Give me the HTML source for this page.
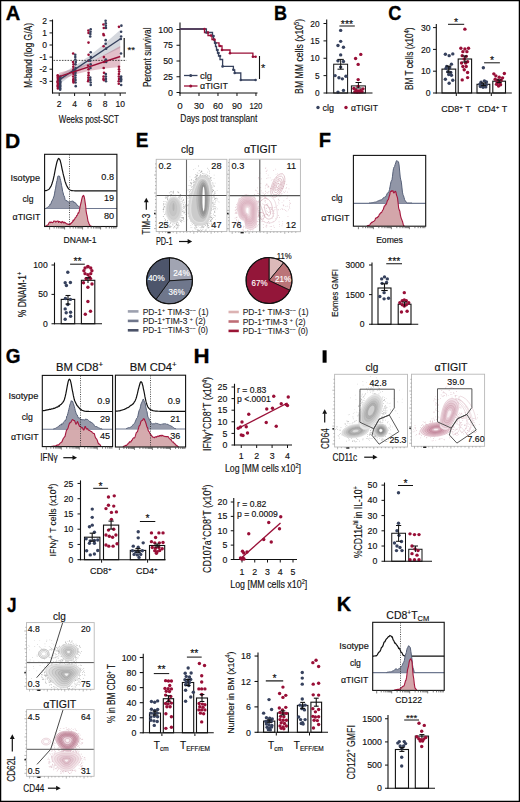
<!DOCTYPE html>
<html><head><meta charset="utf-8"><style>
html,body{margin:0;padding:0;background:#fff;}
svg{display:block;font-family:"Liberation Sans",sans-serif;}
</style></head><body>
<svg width="520" height="802" viewBox="0 0 520 802">
<rect x="0" y="0" width="520" height="802" fill="#fff"/>
<text x="0" y="0" transform="translate(5.85 20.00) scale(1.006 1)" font-size="20" font-weight="bold" fill="#000" stroke="#000" stroke-width="0.3">A</text>
<path d="M59.20,75.30 L74.60,66.00 L89.60,55.67 L105.00,43.17 L120.20,30.00 L120.20,48.00 L105.00,55.17 L89.60,63.27 L74.60,73.00 L59.20,84.30 Z" fill="#9aa1b0" stroke="none" stroke-width="1" opacity="0.42"/>
<path d="M59.20,72.70 L74.60,68.60 L89.60,62.63 L105.00,54.53 L120.20,46.00 L120.20,67.00 L105.00,68.53 L89.60,70.63 L74.60,74.60 L59.20,80.70 Z" fill="#b04a68" stroke="none" stroke-width="1" opacity="0.35"/>
<line x1="53.50" y1="60.40" x2="126.50" y2="60.40" stroke="#222" stroke-width="0.8" stroke-dasharray="1.6,1.2"/>
<circle cx="57.74" cy="75.25" r="1.3" fill="#990f37" />
<circle cx="57.93" cy="76.46" r="1.3" fill="#990f37" />
<circle cx="57.82" cy="77.67" r="1.3" fill="#990f37" />
<circle cx="57.96" cy="78.88" r="1.3" fill="#990f37" />
<circle cx="57.98" cy="80.09" r="1.3" fill="#990f37" />
<circle cx="57.64" cy="81.30" r="1.3" fill="#990f37" />
<circle cx="57.61" cy="82.51" r="1.3" fill="#990f37" />
<circle cx="58.10" cy="83.72" r="1.3" fill="#990f37" />
<circle cx="57.76" cy="84.93" r="1.3" fill="#990f37" />
<circle cx="57.74" cy="86.14" r="1.3" fill="#990f37" />
<circle cx="58.20" cy="87.35" r="1.3" fill="#990f37" />
<circle cx="57.88" cy="88.56" r="1.3" fill="#990f37" />
<circle cx="60.30" cy="76.46" r="1.3" fill="#37425e" />
<circle cx="60.09" cy="77.67" r="1.3" fill="#37425e" />
<circle cx="60.18" cy="78.88" r="1.3" fill="#37425e" />
<circle cx="59.89" cy="80.09" r="1.3" fill="#37425e" />
<circle cx="60.18" cy="81.30" r="1.3" fill="#37425e" />
<circle cx="60.32" cy="82.51" r="1.3" fill="#37425e" />
<circle cx="60.11" cy="83.72" r="1.3" fill="#37425e" />
<circle cx="60.24" cy="84.93" r="1.3" fill="#37425e" />
<circle cx="60.20" cy="86.14" r="1.3" fill="#37425e" />
<circle cx="59.84" cy="87.35" r="1.3" fill="#37425e" />
<circle cx="60.25" cy="88.56" r="1.3" fill="#37425e" />
<circle cx="60.15" cy="89.77" r="1.3" fill="#37425e" />
<circle cx="73.18" cy="53.47" r="1.3" fill="#990f37" />
<circle cx="73.02" cy="61.94" r="1.3" fill="#990f37" />
<circle cx="73.52" cy="64.36" r="1.3" fill="#990f37" />
<circle cx="73.28" cy="66.78" r="1.3" fill="#990f37" />
<circle cx="73.43" cy="69.20" r="1.3" fill="#990f37" />
<circle cx="73.53" cy="71.62" r="1.3" fill="#990f37" />
<circle cx="73.43" cy="72.83" r="1.3" fill="#990f37" />
<circle cx="73.55" cy="74.04" r="1.3" fill="#990f37" />
<circle cx="73.24" cy="76.46" r="1.3" fill="#990f37" />
<circle cx="73.48" cy="78.88" r="1.3" fill="#990f37" />
<circle cx="73.27" cy="80.09" r="1.3" fill="#990f37" />
<circle cx="73.56" cy="81.30" r="1.3" fill="#990f37" />
<circle cx="73.53" cy="82.51" r="1.3" fill="#990f37" />
<circle cx="75.26" cy="54.68" r="1.3" fill="#37425e" />
<circle cx="75.28" cy="57.10" r="1.3" fill="#37425e" />
<circle cx="75.33" cy="59.52" r="1.3" fill="#37425e" />
<circle cx="75.78" cy="61.94" r="1.3" fill="#37425e" />
<circle cx="75.46" cy="64.36" r="1.3" fill="#37425e" />
<circle cx="75.58" cy="67.99" r="1.3" fill="#37425e" />
<circle cx="75.38" cy="70.41" r="1.3" fill="#37425e" />
<circle cx="75.50" cy="72.83" r="1.3" fill="#37425e" />
<circle cx="75.43" cy="75.25" r="1.3" fill="#37425e" />
<circle cx="75.41" cy="77.67" r="1.3" fill="#37425e" />
<circle cx="75.55" cy="80.09" r="1.3" fill="#37425e" />
<circle cx="75.55" cy="82.51" r="1.3" fill="#37425e" />
<circle cx="75.74" cy="86.14" r="1.3" fill="#37425e" />
<circle cx="88.41" cy="30.48" r="1.3" fill="#990f37" />
<circle cx="88.56" cy="32.90" r="1.3" fill="#990f37" />
<circle cx="88.51" cy="42.58" r="1.3" fill="#990f37" />
<circle cx="88.59" cy="54.68" r="1.3" fill="#990f37" />
<circle cx="88.40" cy="60.73" r="1.3" fill="#990f37" />
<circle cx="88.10" cy="65.57" r="1.3" fill="#990f37" />
<circle cx="88.52" cy="69.20" r="1.3" fill="#990f37" />
<circle cx="88.58" cy="72.83" r="1.3" fill="#990f37" />
<circle cx="88.54" cy="75.25" r="1.3" fill="#990f37" />
<circle cx="88.34" cy="77.67" r="1.3" fill="#990f37" />
<circle cx="88.43" cy="80.09" r="1.3" fill="#990f37" />
<circle cx="88.13" cy="81.30" r="1.3" fill="#990f37" />
<circle cx="90.70" cy="29.27" r="1.3" fill="#37425e" />
<circle cx="90.54" cy="31.69" r="1.3" fill="#37425e" />
<circle cx="90.37" cy="34.11" r="1.3" fill="#37425e" />
<circle cx="90.24" cy="36.53" r="1.3" fill="#37425e" />
<circle cx="90.71" cy="52.26" r="1.3" fill="#37425e" />
<circle cx="90.79" cy="57.10" r="1.3" fill="#37425e" />
<circle cx="90.25" cy="60.73" r="1.3" fill="#37425e" />
<circle cx="90.68" cy="64.36" r="1.3" fill="#37425e" />
<circle cx="90.45" cy="67.99" r="1.3" fill="#37425e" />
<circle cx="90.29" cy="77.67" r="1.3" fill="#37425e" />
<circle cx="90.38" cy="80.09" r="1.3" fill="#37425e" />
<circle cx="90.66" cy="82.51" r="1.3" fill="#37425e" />
<circle cx="90.72" cy="84.93" r="1.3" fill="#37425e" />
<circle cx="103.43" cy="24.43" r="1.3" fill="#990f37" />
<circle cx="103.77" cy="28.06" r="1.3" fill="#990f37" />
<circle cx="103.43" cy="34.11" r="1.3" fill="#990f37" />
<circle cx="103.83" cy="35.32" r="1.3" fill="#990f37" />
<circle cx="103.60" cy="46.21" r="1.3" fill="#990f37" />
<circle cx="103.93" cy="57.10" r="1.3" fill="#990f37" />
<circle cx="103.99" cy="61.94" r="1.3" fill="#990f37" />
<circle cx="103.70" cy="67.99" r="1.3" fill="#990f37" />
<circle cx="104.00" cy="72.83" r="1.3" fill="#990f37" />
<circle cx="103.59" cy="76.46" r="1.3" fill="#990f37" />
<circle cx="103.45" cy="78.88" r="1.3" fill="#990f37" />
<circle cx="103.76" cy="80.09" r="1.3" fill="#990f37" />
<circle cx="105.62" cy="20.80" r="1.3" fill="#37425e" />
<circle cx="105.72" cy="23.22" r="1.3" fill="#37425e" />
<circle cx="105.84" cy="25.64" r="1.3" fill="#37425e" />
<circle cx="105.97" cy="28.06" r="1.3" fill="#37425e" />
<circle cx="105.69" cy="40.16" r="1.3" fill="#37425e" />
<circle cx="105.63" cy="43.79" r="1.3" fill="#37425e" />
<circle cx="106.12" cy="48.63" r="1.3" fill="#37425e" />
<circle cx="105.79" cy="59.52" r="1.3" fill="#37425e" />
<circle cx="106.18" cy="60.73" r="1.3" fill="#37425e" />
<circle cx="106.14" cy="61.94" r="1.3" fill="#37425e" />
<circle cx="105.83" cy="74.04" r="1.3" fill="#37425e" />
<circle cx="105.88" cy="76.46" r="1.3" fill="#37425e" />
<circle cx="105.91" cy="78.88" r="1.3" fill="#37425e" />
<circle cx="105.99" cy="81.30" r="1.3" fill="#37425e" />
<circle cx="118.96" cy="26.85" r="1.3" fill="#990f37" />
<circle cx="118.94" cy="66.78" r="1.3" fill="#990f37" />
<circle cx="118.97" cy="69.20" r="1.3" fill="#990f37" />
<circle cx="119.16" cy="71.62" r="1.3" fill="#990f37" />
<circle cx="118.90" cy="74.04" r="1.3" fill="#990f37" />
<circle cx="118.86" cy="76.46" r="1.3" fill="#990f37" />
<circle cx="119.03" cy="78.88" r="1.3" fill="#990f37" />
<circle cx="118.74" cy="81.30" r="1.3" fill="#990f37" />
<circle cx="118.78" cy="83.72" r="1.3" fill="#990f37" />
<circle cx="121.39" cy="25.64" r="1.3" fill="#37425e" />
<circle cx="121.11" cy="31.69" r="1.3" fill="#37425e" />
<circle cx="121.13" cy="36.53" r="1.3" fill="#37425e" />
<circle cx="120.81" cy="38.95" r="1.3" fill="#37425e" />
<circle cx="121.05" cy="53.47" r="1.3" fill="#37425e" />
<circle cx="121.15" cy="76.46" r="1.3" fill="#37425e" />
<circle cx="120.81" cy="77.67" r="1.3" fill="#37425e" />
<circle cx="121.17" cy="78.88" r="1.3" fill="#37425e" />
<circle cx="121.18" cy="80.09" r="1.3" fill="#37425e" />
<circle cx="120.84" cy="81.30" r="1.3" fill="#37425e" />
<circle cx="121.18" cy="84.93" r="1.3" fill="#37425e" />
<line x1="59.20" y1="79.80" x2="120.20" y2="39.00" stroke="#37425e" stroke-width="1.4" />
<line x1="59.20" y1="76.70" x2="120.20" y2="56.50" stroke="#990f37" stroke-width="1.4" />
<line x1="52.50" y1="19.50" x2="52.50" y2="93.50" stroke="#111" stroke-width="1.1" />
<line x1="52.00" y1="93.00" x2="126.00" y2="93.00" stroke="#111" stroke-width="1.1" />
<line x1="49.50" y1="20.80" x2="52.50" y2="20.80" stroke="#111" stroke-width="1" />
<text x="47.00" y="23.80" font-size="8.5" text-anchor="end" font-weight="normal" fill="#111" stroke="#111" stroke-width="0.15" >2</text>
<line x1="49.50" y1="32.90" x2="52.50" y2="32.90" stroke="#111" stroke-width="1" />
<text x="47.00" y="35.90" font-size="8.5" text-anchor="end" font-weight="normal" fill="#111" stroke="#111" stroke-width="0.15" >1</text>
<line x1="49.50" y1="45.00" x2="52.50" y2="45.00" stroke="#111" stroke-width="1" />
<text x="47.00" y="48.00" font-size="8.5" text-anchor="end" font-weight="normal" fill="#111" stroke="#111" stroke-width="0.15" >0</text>
<line x1="49.50" y1="57.10" x2="52.50" y2="57.10" stroke="#111" stroke-width="1" />
<text x="47.00" y="60.10" font-size="8.5" text-anchor="end" font-weight="normal" fill="#111" stroke="#111" stroke-width="0.15" >-1</text>
<line x1="49.50" y1="69.20" x2="52.50" y2="69.20" stroke="#111" stroke-width="1" />
<text x="47.00" y="72.20" font-size="8.5" text-anchor="end" font-weight="normal" fill="#111" stroke="#111" stroke-width="0.15" >-2</text>
<line x1="49.50" y1="81.30" x2="52.50" y2="81.30" stroke="#111" stroke-width="1" />
<text x="47.00" y="84.30" font-size="8.5" text-anchor="end" font-weight="normal" fill="#111" stroke="#111" stroke-width="0.15" >-3</text>
<line x1="59.20" y1="93.00" x2="59.20" y2="96.00" stroke="#111" stroke-width="1" />
<text x="59.20" y="106.50" font-size="8.5" text-anchor="middle" font-weight="normal" fill="#111" stroke="#111" stroke-width="0.15" >2</text>
<line x1="74.60" y1="93.00" x2="74.60" y2="96.00" stroke="#111" stroke-width="1" />
<text x="74.60" y="106.50" font-size="8.5" text-anchor="middle" font-weight="normal" fill="#111" stroke="#111" stroke-width="0.15" >4</text>
<line x1="89.60" y1="93.00" x2="89.60" y2="96.00" stroke="#111" stroke-width="1" />
<text x="89.60" y="106.50" font-size="8.5" text-anchor="middle" font-weight="normal" fill="#111" stroke="#111" stroke-width="0.15" >6</text>
<line x1="105.00" y1="93.00" x2="105.00" y2="96.00" stroke="#111" stroke-width="1" />
<text x="105.00" y="106.50" font-size="8.5" text-anchor="middle" font-weight="normal" fill="#111" stroke="#111" stroke-width="0.15" >8</text>
<line x1="120.20" y1="93.00" x2="120.20" y2="96.00" stroke="#111" stroke-width="1" />
<text x="120.20" y="106.50" font-size="8.5" text-anchor="middle" font-weight="normal" fill="#111" stroke="#111" stroke-width="0.15" >10</text>
<text x="88.80" y="122.80" font-size="10" text-anchor="middle" font-weight="normal" fill="#111" stroke="#111" stroke-width="0.15" textLength="60" lengthAdjust="spacingAndGlyphs" >Weeks post-SCT</text>
<text x="32.30" y="55.50" font-size="10.3" text-anchor="middle" font-weight="normal" fill="#111" stroke="#111" stroke-width="0.15" transform="rotate(-90 32.30 55.50)" textLength="65" lengthAdjust="spacingAndGlyphs" >M-band (log G/A)</text>
<line x1="124.20" y1="38.00" x2="124.20" y2="57.50" stroke="#111" stroke-width="1.2" />
<text x="127.50" y="53.20" font-size="9.5" text-anchor="start" font-weight="normal" fill="#111" stroke="#111" stroke-width="0.15" >**</text>
<line x1="180.00" y1="22.50" x2="180.00" y2="93.50" stroke="#111" stroke-width="1.1" />
<line x1="179.50" y1="93.00" x2="257.50" y2="93.00" stroke="#111" stroke-width="1.1" />
<line x1="176.50" y1="29.50" x2="180.00" y2="29.50" stroke="#111" stroke-width="1" />
<text x="173.00" y="32.70" font-size="8.8" text-anchor="end" font-weight="normal" fill="#111" stroke="#111" stroke-width="0.15" >100</text>
<line x1="176.50" y1="45.25" x2="180.00" y2="45.25" stroke="#111" stroke-width="1" />
<text x="173.00" y="48.45" font-size="8.8" text-anchor="end" font-weight="normal" fill="#111" stroke="#111" stroke-width="0.15" >75</text>
<line x1="176.50" y1="61.00" x2="180.00" y2="61.00" stroke="#111" stroke-width="1" />
<text x="173.00" y="64.20" font-size="8.8" text-anchor="end" font-weight="normal" fill="#111" stroke="#111" stroke-width="0.15" >50</text>
<line x1="176.50" y1="76.75" x2="180.00" y2="76.75" stroke="#111" stroke-width="1" />
<text x="173.00" y="79.95" font-size="8.8" text-anchor="end" font-weight="normal" fill="#111" stroke="#111" stroke-width="0.15" >25</text>
<line x1="176.50" y1="92.50" x2="180.00" y2="92.50" stroke="#111" stroke-width="1" />
<text x="173.00" y="95.70" font-size="8.8" text-anchor="end" font-weight="normal" fill="#111" stroke="#111" stroke-width="0.15" >0</text>
<line x1="180.00" y1="93.00" x2="180.00" y2="96.00" stroke="#111" stroke-width="1" />
<text x="180.00" y="108.70" font-size="9.8" text-anchor="middle" font-weight="normal" fill="#111" stroke="#111" stroke-width="0.15" >0</text>
<line x1="198.99" y1="93.00" x2="198.99" y2="96.00" stroke="#111" stroke-width="1" />
<text x="198.99" y="108.70" font-size="9.8" text-anchor="middle" font-weight="normal" fill="#111" stroke="#111" stroke-width="0.15" textLength="10" lengthAdjust="spacingAndGlyphs" >30</text>
<line x1="217.98" y1="93.00" x2="217.98" y2="96.00" stroke="#111" stroke-width="1" />
<text x="217.98" y="108.70" font-size="9.8" text-anchor="middle" font-weight="normal" fill="#111" stroke="#111" stroke-width="0.15" textLength="10" lengthAdjust="spacingAndGlyphs" >60</text>
<line x1="236.97" y1="93.00" x2="236.97" y2="96.00" stroke="#111" stroke-width="1" />
<text x="236.97" y="108.70" font-size="9.8" text-anchor="middle" font-weight="normal" fill="#111" stroke="#111" stroke-width="0.15" textLength="10" lengthAdjust="spacingAndGlyphs" >90</text>
<line x1="255.96" y1="93.00" x2="255.96" y2="96.00" stroke="#111" stroke-width="1" />
<text x="255.96" y="108.70" font-size="9.8" text-anchor="middle" font-weight="normal" fill="#111" stroke="#111" stroke-width="0.15" textLength="13" lengthAdjust="spacingAndGlyphs" >120</text>
<text x="218.80" y="122.00" font-size="10" text-anchor="middle" font-weight="normal" fill="#111" stroke="#111" stroke-width="0.15" textLength="77" lengthAdjust="spacingAndGlyphs" >Days post transplant</text>
<text x="151.00" y="57.25" font-size="10.3" text-anchor="middle" font-weight="normal" fill="#111" stroke="#111" stroke-width="0.15" transform="rotate(-90 151.00 57.25)" textLength="59.5" lengthAdjust="spacingAndGlyphs" >Percent survival</text>
<path d="M180.00,29.00 L204.50,29.00 L204.50,32.50 L208.00,32.50 L208.00,35.50 L212.00,35.50 L212.00,39.50 L215.00,39.50 L215.00,42.90 L219.00,42.90 L219.00,46.00 L222.00,46.00 L222.00,50.00 L230.00,50.00 L230.00,53.20 L252.90,53.20 L252.90,56.70 L255.60,56.70" fill="none" stroke="#990f37" stroke-width="1.3" />
<path d="M180.00,29.00 L206.40,29.00 L206.40,32.50 L212.50,32.50 L212.50,36.00 L213.50,36.00 L213.50,39.50 L214.50,39.50 L214.50,43.00 L215.50,43.00 L215.50,46.50 L216.50,46.50 L216.50,50.00 L217.50,50.00 L217.50,53.00 L218.50,53.00 L218.50,56.00 L220.00,56.00 L220.00,59.50 L222.60,59.50 L222.60,66.40 L233.40,66.40 L233.40,69.80 L234.70,69.80 L234.70,73.00 L240.80,73.00 L240.80,80.00 L255.60,80.00" fill="none" stroke="#37425e" stroke-width="1.3" />
<circle cx="206.40" cy="32.50" r="1.3" fill="#37425e" />
<circle cx="213.50" cy="36.00" r="1.3" fill="#37425e" />
<circle cx="215.50" cy="43.00" r="1.3" fill="#37425e" />
<circle cx="217.50" cy="50.00" r="1.3" fill="#37425e" />
<circle cx="218.50" cy="53.00" r="1.3" fill="#37425e" />
<circle cx="220.00" cy="56.00" r="1.3" fill="#37425e" />
<circle cx="222.60" cy="66.40" r="1.3" fill="#37425e" />
<circle cx="233.40" cy="69.80" r="1.3" fill="#37425e" />
<circle cx="234.70" cy="73.00" r="1.3" fill="#37425e" />
<circle cx="240.80" cy="80.00" r="1.3" fill="#37425e" />
<circle cx="255.60" cy="80.00" r="1.3" fill="#37425e" />
<circle cx="204.50" cy="29.00" r="1.3" fill="#990f37" />
<circle cx="208.00" cy="32.50" r="1.3" fill="#990f37" />
<circle cx="211.00" cy="35.50" r="1.3" fill="#990f37" />
<circle cx="214.00" cy="39.50" r="1.3" fill="#990f37" />
<circle cx="220.00" cy="46.00" r="1.3" fill="#990f37" />
<circle cx="222.00" cy="50.00" r="1.3" fill="#990f37" />
<circle cx="230.00" cy="53.20" r="1.3" fill="#990f37" />
<circle cx="252.90" cy="56.70" r="1.3" fill="#990f37" />
<circle cx="255.60" cy="56.70" r="1.3" fill="#990f37" />
<line x1="184.00" y1="75.50" x2="197.50" y2="75.50" stroke="#37425e" stroke-width="1.3" />
<circle cx="190.70" cy="75.50" r="1.5" fill="#37425e" />
<text x="200.00" y="78.60" font-size="9.5" text-anchor="start" font-weight="normal" fill="#111" stroke="#111" stroke-width="0.15" >clg</text>
<line x1="184.00" y1="86.00" x2="197.50" y2="86.00" stroke="#990f37" stroke-width="1.3" />
<circle cx="190.70" cy="86.00" r="1.5" fill="#990f37" />
<text x="200.00" y="89.20" font-size="9.5" text-anchor="start" font-weight="normal" fill="#111" stroke="#111" stroke-width="0.15" textLength="28" lengthAdjust="spacingAndGlyphs" >αTIGIT</text>
<line x1="259.50" y1="56.00" x2="259.50" y2="79.00" stroke="#111" stroke-width="1.1" />
<text x="261.00" y="72.00" font-size="11" text-anchor="start" font-weight="normal" fill="#111" stroke="#111" stroke-width="0.15" >*</text>
<text x="0" y="0" transform="translate(273.94 20.00) scale(0.902 1)" font-size="20" font-weight="bold" fill="#000" stroke="#000" stroke-width="0.3">B</text>
<rect x="333.70" y="64.20" width="13.90" height="28.80" fill="#fff" stroke="#111" stroke-width="1" />
<rect x="351.40" y="85.90" width="14.00" height="7.10" fill="#fff" stroke="#111" stroke-width="1" />
<circle cx="340.67" cy="30.38" r="1.7" fill="#37425e" />
<circle cx="340.67" cy="41.35" r="1.7" fill="#37425e" />
<circle cx="337.98" cy="45.48" r="1.7" fill="#37425e" />
<circle cx="343.46" cy="47.21" r="1.7" fill="#37425e" />
<circle cx="340.67" cy="54.90" r="1.7" fill="#37425e" />
<circle cx="337.98" cy="60.87" r="1.7" fill="#37425e" />
<circle cx="343.46" cy="61.54" r="1.7" fill="#37425e" />
<circle cx="340.67" cy="67.12" r="1.7" fill="#37425e" />
<circle cx="335.10" cy="75.58" r="1.7" fill="#37425e" />
<circle cx="338.94" cy="77.69" r="1.7" fill="#37425e" />
<circle cx="342.31" cy="78.85" r="1.7" fill="#37425e" />
<circle cx="345.96" cy="76.25" r="1.7" fill="#37425e" />
<circle cx="343.46" cy="90.38" r="1.7" fill="#37425e" />
<circle cx="337.98" cy="92.12" r="1.7" fill="#37425e" />
<circle cx="360.77" cy="54.42" r="1.7" fill="#990f37" />
<circle cx="355.58" cy="58.46" r="1.7" fill="#990f37" />
<circle cx="358.17" cy="64.42" r="1.7" fill="#990f37" />
<circle cx="358.17" cy="79.62" r="1.7" fill="#990f37" />
<circle cx="358.17" cy="86.35" r="1.7" fill="#990f37" />
<circle cx="353.85" cy="88.46" r="1.7" fill="#990f37" />
<circle cx="355.96" cy="90.00" r="1.7" fill="#990f37" />
<circle cx="358.17" cy="90.96" r="1.7" fill="#990f37" />
<circle cx="360.58" cy="90.48" r="1.7" fill="#990f37" />
<circle cx="362.98" cy="88.85" r="1.7" fill="#990f37" />
<circle cx="354.81" cy="91.92" r="1.7" fill="#990f37" />
<circle cx="357.21" cy="92.31" r="1.7" fill="#990f37" />
<circle cx="359.62" cy="92.12" r="1.7" fill="#990f37" />
<circle cx="362.02" cy="91.63" r="1.7" fill="#990f37" />
<line x1="340.70" y1="59.40" x2="340.70" y2="69.20" stroke="#111" stroke-width="1" />
<line x1="337.50" y1="59.40" x2="343.80" y2="59.40" stroke="#111" stroke-width="1" />
<line x1="337.50" y1="69.20" x2="343.80" y2="69.20" stroke="#111" stroke-width="1" />
<line x1="358.40" y1="82.50" x2="358.40" y2="88.00" stroke="#111" stroke-width="1" />
<line x1="355.50" y1="82.50" x2="361.50" y2="82.50" stroke="#111" stroke-width="1" />
<line x1="355.50" y1="88.00" x2="361.50" y2="88.00" stroke="#111" stroke-width="1" />
<line x1="326.70" y1="19.50" x2="326.70" y2="93.50" stroke="#111" stroke-width="1.1" />
<line x1="326.20" y1="93.00" x2="372.50" y2="93.00" stroke="#111" stroke-width="1.1" />
<line x1="323.50" y1="23.50" x2="326.70" y2="23.50" stroke="#111" stroke-width="1" />
<text x="319.60" y="26.50" font-size="8.3" text-anchor="end" font-weight="normal" fill="#111" stroke="#111" stroke-width="0.15" >20</text>
<line x1="323.50" y1="40.88" x2="326.70" y2="40.88" stroke="#111" stroke-width="1" />
<text x="319.60" y="43.88" font-size="8.3" text-anchor="end" font-weight="normal" fill="#111" stroke="#111" stroke-width="0.15" >15</text>
<line x1="323.50" y1="58.25" x2="326.70" y2="58.25" stroke="#111" stroke-width="1" />
<text x="319.60" y="61.25" font-size="8.3" text-anchor="end" font-weight="normal" fill="#111" stroke="#111" stroke-width="0.15" >10</text>
<line x1="323.50" y1="75.62" x2="326.70" y2="75.62" stroke="#111" stroke-width="1" />
<text x="319.60" y="78.62" font-size="8.3" text-anchor="end" font-weight="normal" fill="#111" stroke="#111" stroke-width="0.15" >5</text>
<line x1="323.50" y1="93.00" x2="326.70" y2="93.00" stroke="#111" stroke-width="1" />
<text x="319.60" y="96.00" font-size="8.3" text-anchor="end" font-weight="normal" fill="#111" stroke="#111" stroke-width="0.15" >0</text>
<text x="303.30" y="56.40" font-size="10.8" text-anchor="middle" font-weight="normal" fill="#111" stroke="#111" stroke-width="0.15" transform="rotate(-90 303.30 56.40)" textLength="75" lengthAdjust="spacingAndGlyphs" >BM MM cells (x10<tspan font-size="7" dy="-4">5</tspan><tspan dy="4">)</tspan></text>
<line x1="339.40" y1="26.00" x2="354.80" y2="26.00" stroke="#111" stroke-width="1" />
<text x="347.00" y="28.27" font-size="10.5" text-anchor="middle" font-weight="normal" fill="#111" stroke="#111" stroke-width="0.15" >***</text>
<circle cx="318.00" cy="107.50" r="1.7" fill="#37425e" />
<text x="322.50" y="110.50" font-size="9" text-anchor="start" font-weight="normal" fill="#111" stroke="#111" stroke-width="0.15" >clg</text>
<circle cx="346.00" cy="107.50" r="1.7" fill="#990f37" />
<text x="351.00" y="110.50" font-size="9" text-anchor="start" font-weight="normal" fill="#111" stroke="#111" stroke-width="0.15" textLength="27" lengthAdjust="spacingAndGlyphs" >αTIGIT</text>
<text x="0" y="0" transform="translate(388.30 20.20) scale(0.910 1)" font-size="20" font-weight="bold" fill="#000" stroke="#000" stroke-width="0.3">C</text>
<rect x="442.00" y="69.10" width="13.70" height="23.90" fill="#fff" stroke="#111" stroke-width="1.1" />
<rect x="458.20" y="59.00" width="13.40" height="34.00" fill="#fff" stroke="#111" stroke-width="1.1" />
<rect x="477.00" y="84.30" width="12.80" height="8.70" fill="#fff" stroke="#111" stroke-width="1.1" />
<rect x="492.80" y="81.20" width="12.70" height="11.80" fill="#fff" stroke="#111" stroke-width="1.1" />
<circle cx="445.38" cy="54.32" r="1.7" fill="#37425e" />
<circle cx="449.15" cy="55.67" r="1.7" fill="#37425e" />
<circle cx="452.79" cy="53.92" r="1.7" fill="#37425e" />
<circle cx="446.73" cy="66.43" r="1.7" fill="#37425e" />
<circle cx="451.44" cy="64.15" r="1.7" fill="#37425e" />
<circle cx="446.06" cy="68.18" r="1.7" fill="#37425e" />
<circle cx="449.69" cy="67.78" r="1.7" fill="#37425e" />
<circle cx="447.81" cy="71.82" r="1.7" fill="#37425e" />
<circle cx="450.77" cy="72.49" r="1.7" fill="#37425e" />
<circle cx="448.75" cy="74.51" r="1.7" fill="#37425e" />
<circle cx="451.44" cy="75.18" r="1.7" fill="#37425e" />
<circle cx="445.38" cy="79.22" r="1.7" fill="#37425e" />
<circle cx="452.79" cy="80.30" r="1.7" fill="#37425e" />
<circle cx="449.15" cy="83.26" r="1.7" fill="#37425e" />
<circle cx="464.90" cy="29.15" r="1.7" fill="#990f37" />
<circle cx="460.86" cy="48.26" r="1.7" fill="#990f37" />
<circle cx="464.90" cy="48.94" r="1.7" fill="#990f37" />
<circle cx="468.53" cy="48.26" r="1.7" fill="#990f37" />
<circle cx="462.88" cy="51.63" r="1.7" fill="#990f37" />
<circle cx="466.92" cy="51.63" r="1.7" fill="#990f37" />
<circle cx="462.21" cy="55.67" r="1.7" fill="#990f37" />
<circle cx="466.24" cy="56.34" r="1.7" fill="#990f37" />
<circle cx="464.23" cy="59.03" r="1.7" fill="#990f37" />
<circle cx="467.59" cy="61.72" r="1.7" fill="#990f37" />
<circle cx="461.53" cy="63.07" r="1.7" fill="#990f37" />
<circle cx="465.57" cy="63.07" r="1.7" fill="#990f37" />
<circle cx="462.88" cy="66.43" r="1.7" fill="#990f37" />
<circle cx="466.24" cy="66.43" r="1.7" fill="#990f37" />
<circle cx="464.23" cy="69.80" r="1.7" fill="#990f37" />
<circle cx="467.59" cy="72.49" r="1.7" fill="#990f37" />
<circle cx="462.21" cy="79.89" r="1.7" fill="#990f37" />
<circle cx="467.59" cy="77.60" r="1.7" fill="#990f37" />
<circle cx="483.34" cy="67.78" r="1.7" fill="#37425e" />
<circle cx="481.05" cy="82.18" r="1.7" fill="#37425e" />
<circle cx="484.41" cy="80.83" r="1.7" fill="#37425e" />
<circle cx="486.43" cy="81.91" r="1.7" fill="#37425e" />
<circle cx="479.70" cy="84.33" r="1.7" fill="#37425e" />
<circle cx="483.07" cy="84.60" r="1.7" fill="#37425e" />
<circle cx="486.43" cy="84.60" r="1.7" fill="#37425e" />
<circle cx="480.38" cy="86.62" r="1.7" fill="#37425e" />
<circle cx="483.07" cy="87.29" r="1.7" fill="#37425e" />
<circle cx="485.76" cy="86.89" r="1.7" fill="#37425e" />
<circle cx="493.84" cy="73.84" r="1.7" fill="#990f37" />
<circle cx="504.33" cy="73.57" r="1.7" fill="#990f37" />
<circle cx="495.85" cy="75.85" r="1.7" fill="#990f37" />
<circle cx="499.22" cy="77.20" r="1.7" fill="#990f37" />
<circle cx="502.58" cy="77.87" r="1.7" fill="#990f37" />
<circle cx="495.18" cy="79.22" r="1.7" fill="#990f37" />
<circle cx="497.87" cy="80.30" r="1.7" fill="#990f37" />
<circle cx="501.24" cy="79.89" r="1.7" fill="#990f37" />
<circle cx="497.20" cy="82.58" r="1.7" fill="#990f37" />
<circle cx="499.89" cy="83.26" r="1.7" fill="#990f37" />
<circle cx="498.55" cy="85.95" r="1.7" fill="#990f37" />
<circle cx="496.53" cy="84.33" r="1.7" fill="#990f37" />
<circle cx="500.57" cy="84.87" r="1.7" fill="#990f37" />
<line x1="448.85" y1="66.10" x2="448.85" y2="72.10" stroke="#111" stroke-width="1.1" />
<line x1="446.35" y1="66.10" x2="451.35" y2="66.10" stroke="#111" stroke-width="1.1" />
<line x1="446.35" y1="72.10" x2="451.35" y2="72.10" stroke="#111" stroke-width="1.1" />
<line x1="464.90" y1="56.00" x2="464.90" y2="62.00" stroke="#111" stroke-width="1.1" />
<line x1="462.40" y1="56.00" x2="467.40" y2="56.00" stroke="#111" stroke-width="1.1" />
<line x1="462.40" y1="62.00" x2="467.40" y2="62.00" stroke="#111" stroke-width="1.1" />
<line x1="483.40" y1="83.00" x2="483.40" y2="85.60" stroke="#111" stroke-width="1.1" />
<line x1="480.90" y1="83.00" x2="485.90" y2="83.00" stroke="#111" stroke-width="1.1" />
<line x1="480.90" y1="85.60" x2="485.90" y2="85.60" stroke="#111" stroke-width="1.1" />
<line x1="499.15" y1="79.90" x2="499.15" y2="82.50" stroke="#111" stroke-width="1.1" />
<line x1="496.65" y1="79.90" x2="501.65" y2="79.90" stroke="#111" stroke-width="1.1" />
<line x1="496.65" y1="82.50" x2="501.65" y2="82.50" stroke="#111" stroke-width="1.1" />
<line x1="436.30" y1="24.00" x2="436.30" y2="93.50" stroke="#111" stroke-width="1.1" />
<line x1="435.80" y1="93.00" x2="511.80" y2="93.00" stroke="#111" stroke-width="1.1" />
<line x1="433.00" y1="27.60" x2="436.30" y2="27.60" stroke="#111" stroke-width="1" />
<text x="430.50" y="30.70" font-size="8.6" text-anchor="end" font-weight="normal" fill="#111" stroke="#111" stroke-width="0.15" >30</text>
<line x1="433.00" y1="49.40" x2="436.30" y2="49.40" stroke="#111" stroke-width="1" />
<text x="430.50" y="52.50" font-size="8.6" text-anchor="end" font-weight="normal" fill="#111" stroke="#111" stroke-width="0.15" >20</text>
<line x1="433.00" y1="71.20" x2="436.30" y2="71.20" stroke="#111" stroke-width="1" />
<text x="430.50" y="74.30" font-size="8.6" text-anchor="end" font-weight="normal" fill="#111" stroke="#111" stroke-width="0.15" >10</text>
<line x1="433.00" y1="93.00" x2="436.30" y2="93.00" stroke="#111" stroke-width="1" />
<text x="430.50" y="96.10" font-size="8.6" text-anchor="end" font-weight="normal" fill="#111" stroke="#111" stroke-width="0.15" >0</text>
<line x1="456.30" y1="93.00" x2="456.30" y2="96.00" stroke="#111" stroke-width="1" />
<line x1="491.30" y1="93.00" x2="491.30" y2="96.00" stroke="#111" stroke-width="1" />
<text x="456.00" y="111.80" font-size="9" text-anchor="middle" font-weight="normal" fill="#111" stroke="#111" stroke-width="0.15" >CD8<tspan font-size="6" dy="-3">+</tspan><tspan dy="3"> T</tspan></text>
<text x="492.50" y="111.80" font-size="9" text-anchor="middle" font-weight="normal" fill="#111" stroke="#111" stroke-width="0.15" >CD4<tspan font-size="6" dy="-3">+</tspan><tspan dy="3"> T</tspan></text>
<text x="412.50" y="58.75" font-size="10" text-anchor="middle" font-weight="normal" fill="#111" stroke="#111" stroke-width="0.15" transform="rotate(-90 412.50 58.75)" textLength="62.5" lengthAdjust="spacingAndGlyphs" >BM T cells (x10<tspan font-size="6.5" dy="-3.6">4</tspan><tspan dy="3.6">)</tspan></text>
<line x1="448.00" y1="24.30" x2="464.20" y2="24.30" stroke="#111" stroke-width="1" />
<text x="456.10" y="25.57" font-size="10.5" text-anchor="middle" font-weight="normal" fill="#111" stroke="#111" stroke-width="0.15" >*</text>
<line x1="484.10" y1="62.80" x2="499.90" y2="62.80" stroke="#111" stroke-width="1" />
<text x="492.00" y="64.07" font-size="10.5" text-anchor="middle" font-weight="normal" fill="#111" stroke="#111" stroke-width="0.15" >*</text>
<text x="0" y="0" transform="translate(4.99 147.50) scale(1.052 1)" font-size="20" font-weight="bold" fill="#000" stroke="#000" stroke-width="0.3">D</text>
<path d="M44.60,190.74 L45.10,190.70 L45.60,190.64 L46.10,190.56 L46.60,190.45 L47.10,190.29 L47.60,190.03 L48.10,189.73 L48.60,189.53 L49.10,189.10 L49.60,188.31 L50.10,187.64 L50.60,186.81 L51.10,186.03 L51.60,184.67 L52.10,183.28 L52.60,181.69 L53.10,180.11 L53.60,177.89 L54.10,175.65 L54.60,173.02 L55.10,170.32 L55.60,167.79 L56.10,165.57 L56.60,163.37 L57.10,161.53 L57.60,160.15 L58.10,159.15 L58.60,158.45 L59.10,158.69 L59.60,159.37 L60.10,160.30 L60.60,162.18 L61.10,164.16 L61.60,166.58 L62.10,169.06 L62.60,171.25 L63.10,173.70 L63.60,175.70 L64.10,177.49 L64.60,179.60 L65.10,181.63 L65.60,182.76 L66.10,184.19 L66.60,185.43 L67.10,186.36 L67.60,187.36 L68.10,188.12 L68.60,188.88 L69.10,189.22 L69.60,189.65 L70.10,190.06 L70.60,190.25 L71.10,190.42 L71.60,190.54 L72.10,190.63 L72.60,190.69 L73.10,190.73 L73.60,190.76 L74.10,190.77 L74.60,190.79 L75.10,190.79 L75.60,190.80 L76.10,190.80 L76.60,190.80 L77.10,190.80 L77.60,190.80 L78.10,190.80 L78.60,190.80 L79.10,190.80 L79.60,190.80 L80.10,190.80 L80.60,190.80 L81.10,190.80 L81.60,190.80 L82.10,190.80 L82.60,190.80 L83.10,190.80 L83.60,190.80 L84.10,190.80 L84.60,190.80 L85.10,190.80 L85.60,190.80 L86.10,190.80 L86.60,190.80 L87.10,190.80 L87.60,190.80 L88.10,190.80 L88.60,190.80 L89.10,190.80 L89.60,190.80 L90.10,190.80 L90.60,190.80 L91.10,190.80 L91.60,190.80 L92.10,190.80 L92.60,190.80 L93.10,190.80 L93.60,190.80 L94.10,190.80 L94.60,190.80 L95.10,190.80 L95.60,190.80 L96.10,190.80 L96.60,190.80 L97.10,190.80 L97.60,190.80 L98.10,190.80 L98.60,190.80 L99.10,190.80 L99.60,190.80 L100.10,190.80 L100.60,190.80 L101.10,190.80 L101.60,190.80 L102.10,190.80 L102.60,190.80 L103.10,190.80 L103.60,190.80 L104.10,190.80 L104.60,190.80 L105.10,190.80 L105.60,190.80 L106.10,190.80 L106.60,190.80 L107.10,190.80 L107.60,190.80 L108.10,190.80 L108.60,190.80 L109.10,190.80 L109.60,190.80 L110.10,190.80 L110.60,190.80 L111.10,190.80 L111.60,190.80 L112.10,190.80 L112.60,190.80 L113.10,190.80 L113.60,190.80 L114.10,190.80 L114.60,190.80 L115.10,190.80 L115.60,190.80 L116.10,190.80 L116.60,190.80" fill="none" stroke="#111" stroke-width="1.2" />
<line x1="44.60" y1="208.50" x2="116.90" y2="208.50" stroke="#6e7890" stroke-width="1.1" />
<path d="M45.60,208.50 L46.10,208.07 L46.60,207.94 L47.10,207.61 L47.60,207.36 L48.10,206.82 L48.60,206.29 L49.10,206.30 L49.60,205.83 L50.10,203.94 L50.60,204.11 L51.10,203.34 L51.60,201.25 L52.10,201.14 L52.60,199.48 L53.10,198.81 L53.60,197.06 L54.10,196.06 L54.60,193.16 L55.10,190.32 L55.60,188.14 L56.10,184.90 L56.60,182.14 L57.10,180.49 L57.60,177.22 L58.10,176.01 L58.60,175.80 L59.10,176.44 L59.60,176.13 L60.10,178.51 L60.60,180.38 L61.10,182.71 L61.60,185.67 L62.10,187.96 L62.60,191.23 L63.10,192.73 L63.60,195.15 L64.10,195.91 L64.60,197.28 L65.10,199.57 L65.60,200.34 L66.10,200.88 L66.60,200.21 L67.10,201.45 L67.60,201.42 L68.10,202.12 L68.60,201.87 L69.10,202.08 L69.60,202.09 L70.10,201.65 L70.60,201.57 L71.10,200.99 L71.60,201.31 L72.10,200.93 L72.60,201.13 L73.10,201.07 L73.60,201.82 L74.10,202.94 L74.60,202.19 L75.10,202.45 L75.60,203.01 L76.10,204.03 L76.60,204.31 L77.10,205.53 L77.60,205.23 L78.10,205.99 L78.60,206.64 L79.10,207.12 L79.60,206.96 L80.10,207.22 L80.60,207.80 L81.10,207.78 L81.60,208.01 L82.10,208.14 L82.60,208.50 L82.60,208.50 L45.60,208.50 Z" fill="#9196a7" stroke="none" stroke-width="1" fill-opacity="0.95"/>
<path d="M45.60,208.50 L46.10,208.07 L46.60,207.94 L47.10,207.61 L47.60,207.36 L48.10,206.82 L48.60,206.29 L49.10,206.30 L49.60,205.83 L50.10,203.94 L50.60,204.11 L51.10,203.34 L51.60,201.25 L52.10,201.14 L52.60,199.48 L53.10,198.81 L53.60,197.06 L54.10,196.06 L54.60,193.16 L55.10,190.32 L55.60,188.14 L56.10,184.90 L56.60,182.14 L57.10,180.49 L57.60,177.22 L58.10,176.01 L58.60,175.80 L59.10,176.44 L59.60,176.13 L60.10,178.51 L60.60,180.38 L61.10,182.71 L61.60,185.67 L62.10,187.96 L62.60,191.23 L63.10,192.73 L63.60,195.15 L64.10,195.91 L64.60,197.28 L65.10,199.57 L65.60,200.34 L66.10,200.88 L66.60,200.21 L67.10,201.45 L67.60,201.42 L68.10,202.12 L68.60,201.87 L69.10,202.08 L69.60,202.09 L70.10,201.65 L70.60,201.57 L71.10,200.99 L71.60,201.31 L72.10,200.93 L72.60,201.13 L73.10,201.07 L73.60,201.82 L74.10,202.94 L74.60,202.19 L75.10,202.45 L75.60,203.01 L76.10,204.03 L76.60,204.31 L77.10,205.53 L77.60,205.23 L78.10,205.99 L78.60,206.64 L79.10,207.12 L79.60,206.96 L80.10,207.22 L80.60,207.80 L81.10,207.78 L81.60,208.01 L82.10,208.14 L82.60,208.50" fill="none" stroke="#566078" stroke-width="1.0" stroke-linejoin="round"/>
<path d="M45.10,226.50 L45.60,226.05 L46.10,225.92 L46.60,225.72 L47.10,225.25 L47.60,225.02 L48.10,224.69 L48.60,223.86 L49.10,222.62 L49.60,222.30 L50.10,221.98 L50.60,222.71 L51.10,222.00 L51.60,222.39 L52.10,222.55 L52.60,222.64 L53.10,222.41 L53.60,221.07 L54.10,221.18 L54.60,221.14 L55.10,221.09 L55.60,222.13 L56.10,221.89 L56.60,221.32 L57.10,221.15 L57.60,220.97 L58.10,220.98 L58.60,222.46 L59.10,221.59 L59.60,221.53 L60.10,221.89 L60.60,222.54 L61.10,222.07 L61.60,222.84 L62.10,221.40 L62.60,221.63 L63.10,222.33 L63.60,222.92 L64.10,222.05 L64.60,222.82 L65.10,222.56 L65.60,222.87 L66.10,223.56 L66.60,223.87 L67.10,223.83 L67.60,224.15 L68.10,224.52 L68.60,224.40 L69.10,223.83 L69.60,224.55 L70.10,224.39 L70.60,223.40 L71.10,223.53 L71.60,222.70 L72.10,222.29 L72.60,221.93 L73.10,220.10 L73.60,220.86 L74.10,219.75 L74.60,219.40 L75.10,217.90 L75.60,217.83 L76.10,216.99 L76.60,215.58 L77.10,215.62 L77.60,214.39 L78.10,212.82 L78.60,213.11 L79.10,211.73 L79.60,209.63 L80.10,206.53 L80.60,204.38 L81.10,202.50 L81.60,199.85 L82.10,198.00 L82.60,196.01 L83.10,196.14 L83.60,195.38 L84.10,196.49 L84.60,198.79 L85.10,202.31 L85.60,205.46 L86.10,210.82 L86.60,213.85 L87.10,215.77 L87.60,218.77 L88.10,221.55 L88.60,222.30 L89.10,224.04 L89.60,224.77 L90.10,225.62 L90.60,225.97 L91.10,226.12 L91.60,226.50 L91.60,226.50 L45.10,226.50 Z" fill="#d3a6aa" stroke="none" stroke-width="1" fill-opacity="0.95"/>
<path d="M45.10,226.50 L45.60,226.05 L46.10,225.92 L46.60,225.72 L47.10,225.25 L47.60,225.02 L48.10,224.69 L48.60,223.86 L49.10,222.62 L49.60,222.30 L50.10,221.98 L50.60,222.71 L51.10,222.00 L51.60,222.39 L52.10,222.55 L52.60,222.64 L53.10,222.41 L53.60,221.07 L54.10,221.18 L54.60,221.14 L55.10,221.09 L55.60,222.13 L56.10,221.89 L56.60,221.32 L57.10,221.15 L57.60,220.97 L58.10,220.98 L58.60,222.46 L59.10,221.59 L59.60,221.53 L60.10,221.89 L60.60,222.54 L61.10,222.07 L61.60,222.84 L62.10,221.40 L62.60,221.63 L63.10,222.33 L63.60,222.92 L64.10,222.05 L64.60,222.82 L65.10,222.56 L65.60,222.87 L66.10,223.56 L66.60,223.87 L67.10,223.83 L67.60,224.15 L68.10,224.52 L68.60,224.40 L69.10,223.83 L69.60,224.55 L70.10,224.39 L70.60,223.40 L71.10,223.53 L71.60,222.70 L72.10,222.29 L72.60,221.93 L73.10,220.10 L73.60,220.86 L74.10,219.75 L74.60,219.40 L75.10,217.90 L75.60,217.83 L76.10,216.99 L76.60,215.58 L77.10,215.62 L77.60,214.39 L78.10,212.82 L78.60,213.11 L79.10,211.73 L79.60,209.63 L80.10,206.53 L80.60,204.38 L81.10,202.50 L81.60,199.85 L82.10,198.00 L82.60,196.01 L83.10,196.14 L83.60,195.38 L84.10,196.49 L84.60,198.79 L85.10,202.31 L85.60,205.46 L86.10,210.82 L86.60,213.85 L87.10,215.77 L87.60,218.77 L88.10,221.55 L88.60,222.30 L89.10,224.04 L89.60,224.77 L90.10,225.62 L90.60,225.97 L91.10,226.12 L91.60,226.50" fill="none" stroke="#a5173e" stroke-width="1.1" stroke-linejoin="round"/>
<line x1="69.50" y1="154.50" x2="69.50" y2="226.50" stroke="#222" stroke-width="0.8" stroke-dasharray="1,1.3"/>
<rect x="44.60" y="154.30" width="72.30" height="72.20" fill="none" stroke="#111" stroke-width="1.1" />
<path d="M49.60,226.50v3.0M54.12,226.50v2.0M56.76,226.50v2.0M58.63,226.50v2.0M60.08,226.50v2.0M61.27,226.50v2.0M62.28,226.50v2.0M63.15,226.50v2.0M63.91,226.50v2.0M64.60,226.50v3.0M70.02,226.50v2.0M73.19,226.50v2.0M75.44,226.50v2.0M77.18,226.50v2.0M78.61,226.50v2.0M79.81,226.50v2.0M80.86,226.50v2.0M81.78,226.50v2.0M82.60,226.50v3.0M88.02,226.50v2.0M91.19,226.50v2.0M93.44,226.50v2.0M95.18,226.50v2.0M96.61,226.50v2.0M97.81,226.50v2.0M98.86,226.50v2.0M99.78,226.50v2.0M100.60,226.50v3.0M106.11,226.50v2.0M109.33,226.50v2.0M111.62,226.50v2.0M113.39,226.50v2.0M114.84,226.50v2.0M116.07,226.50v2.0" stroke="#444" stroke-width="0.7" fill="none"/>
<text x="40.00" y="181.20" font-size="8.6" text-anchor="end" font-weight="normal" fill="#111" stroke="#111" stroke-width="0.15" textLength="29.5" lengthAdjust="spacingAndGlyphs" >Isotype</text>
<text x="28.00" y="201.80" font-size="8.6" text-anchor="middle" font-weight="normal" fill="#111" stroke="#111" stroke-width="0.15" >clg</text>
<text x="40.50" y="220.30" font-size="8.6" text-anchor="end" font-weight="normal" fill="#111" stroke="#111" stroke-width="0.15" textLength="28" lengthAdjust="spacingAndGlyphs" >αTIGIT</text>
<text x="114.00" y="179.80" font-size="9.1" text-anchor="end" font-weight="normal" fill="#111" stroke="#111" stroke-width="0.15" >0.8</text>
<text x="114.00" y="201.20" font-size="9.1" text-anchor="end" font-weight="normal" fill="#111" stroke="#111" stroke-width="0.15" >19</text>
<text x="114.00" y="219.30" font-size="9.1" text-anchor="end" font-weight="normal" fill="#111" stroke="#111" stroke-width="0.15" >80</text>
<text x="80.00" y="243.00" font-size="8.6" text-anchor="middle" font-weight="normal" fill="#111" stroke="#111" stroke-width="0.15" >DNAM-1</text>
<rect x="61.20" y="299.40" width="13.50" height="24.35" fill="#fff" stroke="#111" stroke-width="1.1" />
<rect x="81.40" y="280.30" width="13.40" height="43.45" fill="#fff" stroke="#111" stroke-width="1.1" />
<circle cx="67.80" cy="272.30" r="1.7" fill="#37425e" />
<circle cx="65.20" cy="282.70" r="1.7" fill="#37425e" />
<circle cx="70.40" cy="282.50" r="1.7" fill="#37425e" />
<circle cx="66.40" cy="285.50" r="1.7" fill="#37425e" />
<circle cx="65.40" cy="298.50" r="1.7" fill="#37425e" />
<circle cx="70.40" cy="299.40" r="1.7" fill="#37425e" />
<circle cx="67.80" cy="304.50" r="1.7" fill="#37425e" />
<circle cx="65.20" cy="308.90" r="1.7" fill="#37425e" />
<circle cx="66.20" cy="312.80" r="1.7" fill="#37425e" />
<circle cx="70.60" cy="312.30" r="1.7" fill="#37425e" />
<circle cx="70.60" cy="316.20" r="1.7" fill="#37425e" />
<circle cx="65.20" cy="319.30" r="1.7" fill="#37425e" />
<circle cx="87.90" cy="266.50" r="1.7" fill="#990f37" />
<circle cx="91.90" cy="270.80" r="1.7" fill="#990f37" />
<circle cx="90.73" cy="273.63" r="1.7" fill="#990f37" />
<circle cx="87.90" cy="274.80" r="1.7" fill="#990f37" />
<circle cx="85.07" cy="273.63" r="1.7" fill="#990f37" />
<circle cx="83.90" cy="270.80" r="1.7" fill="#990f37" />
<circle cx="85.07" cy="267.97" r="1.7" fill="#990f37" />
<circle cx="87.90" cy="266.80" r="1.7" fill="#990f37" />
<circle cx="90.73" cy="267.97" r="1.7" fill="#990f37" />
<circle cx="89.60" cy="277.30" r="1.7" fill="#990f37" />
<circle cx="86.10" cy="278.60" r="1.7" fill="#990f37" />
<circle cx="90.50" cy="278.60" r="1.7" fill="#990f37" />
<circle cx="83.50" cy="282.70" r="1.7" fill="#990f37" />
<circle cx="92.00" cy="284.00" r="1.7" fill="#990f37" />
<circle cx="87.90" cy="287.20" r="1.7" fill="#990f37" />
<circle cx="87.90" cy="301.50" r="1.7" fill="#990f37" />
<circle cx="90.50" cy="311.20" r="1.7" fill="#990f37" />
<circle cx="85.30" cy="314.30" r="1.7" fill="#990f37" />
<line x1="68.00" y1="295.50" x2="68.00" y2="304.10" stroke="#111" stroke-width="1.1" />
<line x1="65.50" y1="295.50" x2="70.50" y2="295.50" stroke="#111" stroke-width="1.1" />
<line x1="65.50" y1="304.10" x2="70.50" y2="304.10" stroke="#111" stroke-width="1.1" />
<line x1="88.00" y1="277.70" x2="88.00" y2="282.90" stroke="#111" stroke-width="1.1" />
<line x1="85.50" y1="277.70" x2="90.50" y2="277.70" stroke="#111" stroke-width="1.1" />
<line x1="54.50" y1="262.50" x2="54.50" y2="324.20" stroke="#111" stroke-width="1.1" />
<line x1="54.00" y1="323.75" x2="102.00" y2="323.75" stroke="#111" stroke-width="1.1" />
<line x1="51.50" y1="265.00" x2="54.50" y2="265.00" stroke="#111" stroke-width="1" />
<text x="47.70" y="268.10" font-size="8.6" text-anchor="end" font-weight="normal" fill="#111" stroke="#111" stroke-width="0.15" >100</text>
<line x1="51.50" y1="294.38" x2="54.50" y2="294.38" stroke="#111" stroke-width="1" />
<text x="47.70" y="297.48" font-size="8.6" text-anchor="end" font-weight="normal" fill="#111" stroke="#111" stroke-width="0.15" >50</text>
<line x1="51.50" y1="323.75" x2="54.50" y2="323.75" stroke="#111" stroke-width="1" />
<text x="47.70" y="326.85" font-size="8.6" text-anchor="end" font-weight="normal" fill="#111" stroke="#111" stroke-width="0.15" >0</text>
<text x="26.10" y="294.50" font-size="10.2" text-anchor="middle" font-weight="normal" fill="#111" stroke="#111" stroke-width="0.15" transform="rotate(-90 26.10 294.50)" textLength="45.3" lengthAdjust="spacingAndGlyphs" >% DNAM-1<tspan font-size="6.5" dy="-3.6">+</tspan></text>
<line x1="70.10" y1="264.20" x2="84.80" y2="264.20" stroke="#111" stroke-width="1" />
<text x="77.50" y="264.97" font-size="10.5" text-anchor="middle" font-weight="normal" fill="#111" stroke="#111" stroke-width="0.15" >**</text>
<text x="0" y="0" transform="translate(135.87 147.00) scale(0.954 1)" font-size="20" font-weight="bold" fill="#000" stroke="#000" stroke-width="0.3">E</text>
<text x="187.50" y="152.50" font-size="10" text-anchor="middle" font-weight="normal" fill="#111" stroke="#111" stroke-width="0.15" >clg</text>
<text x="260.50" y="152.50" font-size="10" text-anchor="middle" font-weight="normal" fill="#111" stroke="#111" stroke-width="0.15" textLength="33" lengthAdjust="spacingAndGlyphs" >αTIGIT</text>
<path d="M164.1 214.3h0.7v0.7h-0.7zM182.4 202.6h0.7v0.7h-0.7zM163.5 208.8h0.7v0.7h-0.7zM177.8 224.0h0.7v0.7h-0.7zM166.1 196.7h0.7v0.7h-0.7zM181.2 217.5h0.7v0.7h-0.7zM183.3 219.3h0.7v0.7h-0.7zM171.1 198.1h0.7v0.7h-0.7zM185.7 207.5h0.7v0.7h-0.7zM167.9 196.0h0.7v0.7h-0.7zM178.0 219.7h0.7v0.7h-0.7zM166.1 207.4h0.7v0.7h-0.7zM177.0 222.4h0.7v0.7h-0.7zM183.3 212.5h0.7v0.7h-0.7zM163.1 216.2h0.7v0.7h-0.7zM163.4 207.6h0.7v0.7h-0.7zM163.2 209.6h0.7v0.7h-0.7zM165.3 213.3h0.7v0.7h-0.7zM186.0 209.3h0.7v0.7h-0.7zM179.6 195.1h0.7v0.7h-0.7zM170.4 222.1h0.7v0.7h-0.7zM171.9 221.7h0.7v0.7h-0.7zM174.8 194.8h0.7v0.7h-0.7zM179.1 197.4h0.7v0.7h-0.7zM184.9 204.9h0.7v0.7h-0.7zM182.3 209.6h0.7v0.7h-0.7zM182.0 201.4h0.7v0.7h-0.7zM183.1 207.8h0.7v0.7h-0.7zM183.2 216.9h0.7v0.7h-0.7zM175.4 195.9h0.7v0.7h-0.7zM181.6 217.1h0.7v0.7h-0.7zM184.6 205.7h0.7v0.7h-0.7zM180.2 218.9h0.7v0.7h-0.7zM180.1 217.0h0.7v0.7h-0.7zM176.2 196.9h0.7v0.7h-0.7zM164.8 204.1h0.7v0.7h-0.7zM177.8 225.7h0.7v0.7h-0.7zM181.0 221.8h0.7v0.7h-0.7zM180.9 219.7h0.7v0.7h-0.7zM175.8 223.2h0.7v0.7h-0.7zM184.9 206.4h0.7v0.7h-0.7zM169.9 227.0h0.7v0.7h-0.7zM176.1 224.0h0.7v0.7h-0.7zM180.2 196.4h0.7v0.7h-0.7zM183.6 220.9h0.7v0.7h-0.7zM175.8 223.1h0.7v0.7h-0.7zM175.1 195.4h0.7v0.7h-0.7zM171.5 221.6h0.7v0.7h-0.7zM182.5 218.3h0.7v0.7h-0.7zM174.3 226.0h0.7v0.7h-0.7zM167.1 220.6h0.7v0.7h-0.7zM183.3 205.7h0.7v0.7h-0.7zM163.5 201.3h0.7v0.7h-0.7zM177.2 221.5h0.7v0.7h-0.7zM183.3 199.8h0.7v0.7h-0.7zM173.8 223.0h0.7v0.7h-0.7zM173.0 190.8h0.7v0.7h-0.7zM177.7 227.5h0.7v0.7h-0.7zM181.4 198.5h0.7v0.7h-0.7zM166.7 215.6h0.7v0.7h-0.7zM185.5 214.2h0.7v0.7h-0.7zM174.6 226.7h0.7v0.7h-0.7zM173.3 227.6h0.7v0.7h-0.7zM166.5 201.6h0.7v0.7h-0.7zM178.7 225.0h0.7v0.7h-0.7zM181.6 215.3h0.7v0.7h-0.7zM163.1 203.0h0.7v0.7h-0.7zM167.1 200.4h0.7v0.7h-0.7zM181.2 202.9h0.7v0.7h-0.7zM182.6 211.0h0.7v0.7h-0.7zM166.4 213.8h0.7v0.7h-0.7zM177.9 222.7h0.7v0.7h-0.7zM166.5 203.9h0.7v0.7h-0.7zM166.2 223.7h0.7v0.7h-0.7zM184.3 207.5h0.7v0.7h-0.7zM170.1 194.5h0.7v0.7h-0.7zM178.7 219.0h0.7v0.7h-0.7zM185.5 211.7h0.7v0.7h-0.7zM170.2 191.5h0.7v0.7h-0.7zM184.2 211.8h0.7v0.7h-0.7zM162.9 211.5h0.7v0.7h-0.7zM168.7 227.1h0.7v0.7h-0.7zM182.8 216.9h0.7v0.7h-0.7zM172.8 191.1h0.7v0.7h-0.7zM172.9 192.5h0.7v0.7h-0.7zM177.0 191.6h0.7v0.7h-0.7zM167.4 223.2h0.7v0.7h-0.7zM183.2 198.9h0.7v0.7h-0.7zM164.1 218.4h0.7v0.7h-0.7zM180.5 197.4h0.7v0.7h-0.7zM167.2 199.2h0.7v0.7h-0.7zM164.8 201.4h0.7v0.7h-0.7zM183.0 217.6h0.7v0.7h-0.7zM185.4 208.8h0.7v0.7h-0.7zM172.5 194.9h0.7v0.7h-0.7zM172.8 193.5h0.7v0.7h-0.7zM163.2 216.2h0.7v0.7h-0.7zM183.3 218.4h0.7v0.7h-0.7zM184.0 212.6h0.7v0.7h-0.7zM165.2 211.2h0.7v0.7h-0.7zM170.7 194.8h0.7v0.7h-0.7zM164.9 197.3h0.7v0.7h-0.7zM173.5 221.6h0.7v0.7h-0.7zM170.4 225.7h0.7v0.7h-0.7zM176.2 222.2h0.7v0.7h-0.7zM182.6 200.2h0.7v0.7h-0.7zM162.9 216.2h0.7v0.7h-0.7zM168.9 224.5h0.7v0.7h-0.7zM176.8 223.9h0.7v0.7h-0.7zM177.9 192.1h0.7v0.7h-0.7zM180.6 199.5h0.7v0.7h-0.7zM166.0 202.5h0.7v0.7h-0.7zM180.3 221.4h0.7v0.7h-0.7zM179.8 194.1h0.7v0.7h-0.7zM170.9 191.2h0.7v0.7h-0.7zM172.4 222.6h0.7v0.7h-0.7zM165.4 213.9h0.7v0.7h-0.7zM175.9 224.2h0.7v0.7h-0.7zM166.9 198.5h0.7v0.7h-0.7zM169.2 226.2h0.7v0.7h-0.7zM183.4 207.9h0.7v0.7h-0.7zM180.7 215.1h0.7v0.7h-0.7zM179.2 200.8h0.7v0.7h-0.7zM171.2 194.0h0.7v0.7h-0.7zM169.7 226.2h0.7v0.7h-0.7zM181.9 211.2h0.7v0.7h-0.7zM166.4 213.0h0.7v0.7h-0.7zM178.0 197.6h0.7v0.7h-0.7zM178.7 219.1h0.7v0.7h-0.7zM167.2 198.5h0.7v0.7h-0.7zM166.6 197.4h0.7v0.7h-0.7zM178.0 191.8h0.7v0.7h-0.7zM170.4 197.3h0.7v0.7h-0.7zM165.5 211.7h0.7v0.7h-0.7zM183.5 210.6h0.7v0.7h-0.7zM171.9 196.7h0.7v0.7h-0.7zM172.5 224.0h0.7v0.7h-0.7zM170.6 194.7h0.7v0.7h-0.7zM165.5 198.1h0.7v0.7h-0.7zM165.0 220.6h0.7v0.7h-0.7zM180.4 202.6h0.7v0.7h-0.7zM183.7 202.5h0.7v0.7h-0.7zM180.4 220.7h0.7v0.7h-0.7zM165.5 196.4h0.7v0.7h-0.7zM166.5 220.9h0.7v0.7h-0.7zM182.0 197.4h0.7v0.7h-0.7zM182.9 204.3h0.7v0.7h-0.7zM168.9 198.6h0.7v0.7h-0.7zM171.8 191.9h0.7v0.7h-0.7zM167.0 196.2h0.7v0.7h-0.7zM176.5 227.7h0.7v0.7h-0.7zM185.8 207.3h0.7v0.7h-0.7zM162.9 205.5h0.7v0.7h-0.7zM168.8 226.4h0.7v0.7h-0.7zM179.5 198.2h0.7v0.7h-0.7zM182.1 217.2h0.7v0.7h-0.7zM163.2 204.1h0.7v0.7h-0.7zM166.1 210.6h0.7v0.7h-0.7zM176.7 198.0h0.7v0.7h-0.7zM176.4 197.0h0.7v0.7h-0.7zM168.1 224.9h0.7v0.7h-0.7zM179.0 219.7h0.7v0.7h-0.7zM163.0 207.8h0.7v0.7h-0.7zM179.6 195.2h0.7v0.7h-0.7zM183.1 204.4h0.7v0.7h-0.7zM181.4 205.6h0.7v0.7h-0.7zM175.6 225.2h0.7v0.7h-0.7zM171.1 226.4h0.7v0.7h-0.7zM167.4 197.5h0.7v0.7h-0.7zM179.4 196.2h0.7v0.7h-0.7zM170.3 223.3h0.7v0.7h-0.7zM180.4 194.3h0.7v0.7h-0.7zM176.8 227.2h0.7v0.7h-0.7zM183.6 206.5h0.7v0.7h-0.7zM166.2 203.7h0.7v0.7h-0.7zM164.2 206.1h0.7v0.7h-0.7zM167.7 202.1h0.7v0.7h-0.7zM183.6 206.6h0.7v0.7h-0.7zM164.7 220.0h0.7v0.7h-0.7zM164.7 203.6h0.7v0.7h-0.7zM171.0 198.0h0.7v0.7h-0.7zM164.6 206.0h0.7v0.7h-0.7zM185.2 204.6h0.7v0.7h-0.7zM172.6 224.9h0.7v0.7h-0.7zM180.5 220.4h0.7v0.7h-0.7zM178.5 192.6h0.7v0.7h-0.7zM164.9 211.7h0.7v0.7h-0.7zM177.5 225.0h0.7v0.7h-0.7zM181.1 203.8h0.7v0.7h-0.7zM175.2 197.7h0.7v0.7h-0.7zM176.8 222.4h0.7v0.7h-0.7zM170.3 196.4h0.7v0.7h-0.7zM167.4 222.6h0.7v0.7h-0.7zM182.4 220.2h0.7v0.7h-0.7zM180.9 220.5h0.7v0.7h-0.7zM173.8 223.0h0.7v0.7h-0.7zM164.4 206.7h0.7v0.7h-0.7zM167.1 220.2h0.7v0.7h-0.7zM165.6 207.2h0.7v0.7h-0.7zM176.8 225.5h0.7v0.7h-0.7zM167.3 197.5h0.7v0.7h-0.7zM180.0 196.4h0.7v0.7h-0.7zM179.2 198.9h0.7v0.7h-0.7zM173.1 191.7h0.7v0.7h-0.7zM181.2 201.4h0.7v0.7h-0.7zM169.1 226.8h0.7v0.7h-0.7zM176.2 228.5h0.7v0.7h-0.7zM180.0 201.2h0.7v0.7h-0.7zM174.5 226.8h0.7v0.7h-0.7zM173.3 222.3h0.7v0.7h-0.7zM178.5 196.5h0.7v0.7h-0.7zM175.8 197.1h0.7v0.7h-0.7zM165.0 219.3h0.7v0.7h-0.7zM182.2 211.1h0.7v0.7h-0.7zM168.9 192.6h0.7v0.7h-0.7zM181.7 207.1h0.7v0.7h-0.7zM162.7 209.0h0.7v0.7h-0.7zM163.1 209.3h0.7v0.7h-0.7zM176.7 221.2h0.7v0.7h-0.7zM179.9 217.2h0.7v0.7h-0.7z" fill="#a8a8a8" opacity="1"/>
<path d="M188.9 205.4h0.7v0.7h-0.7zM196.3 181.4h0.7v0.7h-0.7zM213.0 202.7h0.7v0.7h-0.7zM199.5 230.0h0.7v0.7h-0.7zM196.9 175.6h0.7v0.7h-0.7zM189.5 191.0h0.7v0.7h-0.7zM208.7 221.3h0.7v0.7h-0.7zM208.8 226.8h0.7v0.7h-0.7zM214.1 211.6h0.7v0.7h-0.7zM213.0 213.7h0.7v0.7h-0.7zM195.5 222.6h0.7v0.7h-0.7zM206.9 183.1h0.7v0.7h-0.7zM214.5 212.3h0.7v0.7h-0.7zM191.3 199.8h0.7v0.7h-0.7zM215.6 198.5h0.7v0.7h-0.7zM210.4 217.6h0.7v0.7h-0.7zM208.9 219.3h0.7v0.7h-0.7zM193.9 185.2h0.7v0.7h-0.7zM198.2 180.4h0.7v0.7h-0.7zM207.9 226.9h0.7v0.7h-0.7zM192.0 215.9h0.7v0.7h-0.7zM191.6 186.2h0.7v0.7h-0.7zM194.1 215.3h0.7v0.7h-0.7zM199.4 170.4h0.7v0.7h-0.7zM214.2 196.9h0.7v0.7h-0.7zM194.4 220.5h0.7v0.7h-0.7zM196.8 175.0h0.7v0.7h-0.7zM209.7 216.5h0.7v0.7h-0.7zM193.6 221.0h0.7v0.7h-0.7zM206.0 176.6h0.7v0.7h-0.7zM214.8 206.2h0.7v0.7h-0.7zM190.5 212.2h0.7v0.7h-0.7zM203.5 226.1h0.7v0.7h-0.7zM191.3 219.7h0.7v0.7h-0.7zM211.3 217.1h0.7v0.7h-0.7zM207.2 226.4h0.7v0.7h-0.7zM212.3 206.5h0.7v0.7h-0.7zM194.4 223.9h0.7v0.7h-0.7zM212.8 209.3h0.7v0.7h-0.7zM204.3 224.3h0.7v0.7h-0.7zM187.5 205.6h0.7v0.7h-0.7zM187.4 204.7h0.7v0.7h-0.7zM208.4 227.5h0.7v0.7h-0.7zM194.5 218.4h0.7v0.7h-0.7zM201.4 170.6h0.7v0.7h-0.7zM212.5 202.0h0.7v0.7h-0.7zM203.0 176.5h0.7v0.7h-0.7zM202.0 222.3h0.7v0.7h-0.7zM213.7 207.8h0.7v0.7h-0.7zM215.8 197.8h0.7v0.7h-0.7zM191.6 200.5h0.7v0.7h-0.7zM195.6 227.2h0.7v0.7h-0.7zM207.8 176.9h0.7v0.7h-0.7zM203.1 227.3h0.7v0.7h-0.7zM189.0 204.9h0.7v0.7h-0.7zM209.8 186.9h0.7v0.7h-0.7zM198.0 230.0h0.7v0.7h-0.7zM188.6 198.3h0.7v0.7h-0.7zM198.5 178.6h0.7v0.7h-0.7zM199.1 224.2h0.7v0.7h-0.7zM196.2 175.2h0.7v0.7h-0.7zM210.9 223.2h0.7v0.7h-0.7zM192.0 212.4h0.7v0.7h-0.7zM188.4 213.3h0.7v0.7h-0.7zM189.7 190.9h0.7v0.7h-0.7zM213.9 186.1h0.7v0.7h-0.7zM202.3 175.6h0.7v0.7h-0.7zM189.7 185.0h0.7v0.7h-0.7zM204.5 174.8h0.7v0.7h-0.7zM194.9 221.4h0.7v0.7h-0.7zM200.4 174.2h0.7v0.7h-0.7zM214.5 204.0h0.7v0.7h-0.7zM212.6 184.4h0.7v0.7h-0.7zM212.7 182.8h0.7v0.7h-0.7zM188.4 194.7h0.7v0.7h-0.7zM194.1 216.3h0.7v0.7h-0.7zM194.7 220.4h0.7v0.7h-0.7zM213.3 189.7h0.7v0.7h-0.7zM189.3 193.9h0.7v0.7h-0.7zM210.2 219.8h0.7v0.7h-0.7zM198.0 177.0h0.7v0.7h-0.7zM201.8 226.3h0.7v0.7h-0.7zM195.7 226.2h0.7v0.7h-0.7zM207.9 218.2h0.7v0.7h-0.7zM196.5 227.1h0.7v0.7h-0.7zM202.3 173.2h0.7v0.7h-0.7zM212.0 191.1h0.7v0.7h-0.7zM213.3 205.9h0.7v0.7h-0.7zM191.6 209.0h0.7v0.7h-0.7zM195.9 179.6h0.7v0.7h-0.7zM202.3 225.5h0.7v0.7h-0.7zM210.7 193.6h0.7v0.7h-0.7zM194.4 219.5h0.7v0.7h-0.7zM205.0 225.4h0.7v0.7h-0.7zM188.5 200.8h0.7v0.7h-0.7zM207.7 223.1h0.7v0.7h-0.7zM190.8 182.6h0.7v0.7h-0.7zM201.5 226.8h0.7v0.7h-0.7zM209.8 177.6h0.7v0.7h-0.7zM203.2 227.4h0.7v0.7h-0.7zM202.3 175.9h0.7v0.7h-0.7zM195.6 176.3h0.7v0.7h-0.7zM213.6 196.4h0.7v0.7h-0.7zM196.7 178.6h0.7v0.7h-0.7zM200.2 176.7h0.7v0.7h-0.7zM190.1 201.0h0.7v0.7h-0.7zM197.8 222.2h0.7v0.7h-0.7zM203.4 227.4h0.7v0.7h-0.7zM201.4 222.7h0.7v0.7h-0.7zM205.2 178.2h0.7v0.7h-0.7zM213.0 190.4h0.7v0.7h-0.7zM190.9 220.2h0.7v0.7h-0.7zM210.5 186.3h0.7v0.7h-0.7zM210.4 220.7h0.7v0.7h-0.7zM208.4 178.2h0.7v0.7h-0.7zM204.0 176.2h0.7v0.7h-0.7zM193.4 184.9h0.7v0.7h-0.7zM191.9 214.8h0.7v0.7h-0.7zM192.8 217.7h0.7v0.7h-0.7zM205.2 179.5h0.7v0.7h-0.7zM204.5 223.9h0.7v0.7h-0.7zM213.5 196.2h0.7v0.7h-0.7zM214.4 210.7h0.7v0.7h-0.7zM211.0 180.0h0.7v0.7h-0.7zM193.2 223.2h0.7v0.7h-0.7zM197.9 222.3h0.7v0.7h-0.7zM210.5 178.8h0.7v0.7h-0.7zM204.8 230.2h0.7v0.7h-0.7zM212.6 204.7h0.7v0.7h-0.7zM212.0 202.9h0.7v0.7h-0.7zM208.3 225.3h0.7v0.7h-0.7zM198.4 223.2h0.7v0.7h-0.7zM206.0 223.3h0.7v0.7h-0.7zM209.6 180.2h0.7v0.7h-0.7zM211.8 217.8h0.7v0.7h-0.7zM190.0 195.2h0.7v0.7h-0.7zM188.9 196.2h0.7v0.7h-0.7zM205.3 176.0h0.7v0.7h-0.7zM193.6 181.5h0.7v0.7h-0.7zM193.8 182.2h0.7v0.7h-0.7zM191.0 214.5h0.7v0.7h-0.7zM199.1 177.5h0.7v0.7h-0.7zM212.2 189.1h0.7v0.7h-0.7zM209.5 178.8h0.7v0.7h-0.7zM213.9 193.4h0.7v0.7h-0.7zM191.1 212.2h0.7v0.7h-0.7zM191.2 183.0h0.7v0.7h-0.7zM207.0 181.9h0.7v0.7h-0.7zM211.0 209.5h0.7v0.7h-0.7zM210.2 212.0h0.7v0.7h-0.7zM212.4 202.3h0.7v0.7h-0.7zM211.3 219.3h0.7v0.7h-0.7zM190.9 180.4h0.7v0.7h-0.7zM214.3 193.9h0.7v0.7h-0.7zM210.9 194.3h0.7v0.7h-0.7zM190.9 204.6h0.7v0.7h-0.7zM202.0 175.5h0.7v0.7h-0.7zM190.7 194.5h0.7v0.7h-0.7zM202.0 223.1h0.7v0.7h-0.7zM190.4 181.9h0.7v0.7h-0.7zM214.7 198.6h0.7v0.7h-0.7zM212.0 190.9h0.7v0.7h-0.7zM197.3 230.1h0.7v0.7h-0.7zM191.1 184.6h0.7v0.7h-0.7zM212.3 202.9h0.7v0.7h-0.7zM188.4 204.1h0.7v0.7h-0.7zM207.6 175.4h0.7v0.7h-0.7zM195.3 222.2h0.7v0.7h-0.7zM210.8 177.3h0.7v0.7h-0.7zM190.9 203.2h0.7v0.7h-0.7zM192.8 182.3h0.7v0.7h-0.7zM194.5 219.0h0.7v0.7h-0.7zM192.0 219.1h0.7v0.7h-0.7zM210.1 220.1h0.7v0.7h-0.7zM214.1 192.5h0.7v0.7h-0.7zM201.3 226.4h0.7v0.7h-0.7zM212.0 218.2h0.7v0.7h-0.7zM194.4 184.1h0.7v0.7h-0.7zM189.6 192.9h0.7v0.7h-0.7zM191.3 189.3h0.7v0.7h-0.7zM197.3 224.1h0.7v0.7h-0.7zM212.8 200.6h0.7v0.7h-0.7zM189.6 200.6h0.7v0.7h-0.7zM206.9 223.4h0.7v0.7h-0.7zM204.6 224.5h0.7v0.7h-0.7zM193.9 219.3h0.7v0.7h-0.7zM211.8 191.8h0.7v0.7h-0.7zM195.2 225.2h0.7v0.7h-0.7zM191.8 216.9h0.7v0.7h-0.7zM195.4 183.4h0.7v0.7h-0.7zM196.7 181.4h0.7v0.7h-0.7zM201.5 230.3h0.7v0.7h-0.7zM214.3 199.2h0.7v0.7h-0.7zM207.1 223.6h0.7v0.7h-0.7zM198.7 230.0h0.7v0.7h-0.7zM202.6 224.1h0.7v0.7h-0.7zM193.3 179.9h0.7v0.7h-0.7zM191.4 187.1h0.7v0.7h-0.7zM213.0 194.4h0.7v0.7h-0.7zM212.2 191.3h0.7v0.7h-0.7zM190.3 206.4h0.7v0.7h-0.7zM198.6 172.9h0.7v0.7h-0.7zM202.3 227.4h0.7v0.7h-0.7zM199.7 175.0h0.7v0.7h-0.7zM194.9 177.6h0.7v0.7h-0.7zM199.0 176.8h0.7v0.7h-0.7zM198.1 221.2h0.7v0.7h-0.7zM211.8 182.5h0.7v0.7h-0.7zM190.5 220.7h0.7v0.7h-0.7zM210.1 187.9h0.7v0.7h-0.7zM207.6 179.2h0.7v0.7h-0.7zM197.2 222.9h0.7v0.7h-0.7zM192.9 212.2h0.7v0.7h-0.7zM211.3 208.0h0.7v0.7h-0.7zM197.8 222.4h0.7v0.7h-0.7zM211.3 221.5h0.7v0.7h-0.7zM192.7 218.9h0.7v0.7h-0.7zM190.2 182.8h0.7v0.7h-0.7zM208.1 219.7h0.7v0.7h-0.7zM210.4 177.7h0.7v0.7h-0.7zM212.6 190.0h0.7v0.7h-0.7zM194.4 218.2h0.7v0.7h-0.7zM212.8 185.6h0.7v0.7h-0.7zM188.8 191.7h0.7v0.7h-0.7zM200.7 227.5h0.7v0.7h-0.7zM210.1 188.6h0.7v0.7h-0.7zM193.6 185.5h0.7v0.7h-0.7zM208.6 175.8h0.7v0.7h-0.7zM194.2 180.9h0.7v0.7h-0.7zM213.4 204.5h0.7v0.7h-0.7zM194.1 220.5h0.7v0.7h-0.7zM213.9 215.3h0.7v0.7h-0.7zM189.3 197.3h0.7v0.7h-0.7zM209.1 175.7h0.7v0.7h-0.7zM189.8 192.8h0.7v0.7h-0.7zM208.1 180.5h0.7v0.7h-0.7zM209.5 188.4h0.7v0.7h-0.7zM205.0 175.6h0.7v0.7h-0.7zM191.2 179.3h0.7v0.7h-0.7zM203.7 225.9h0.7v0.7h-0.7zM205.6 173.7h0.7v0.7h-0.7zM188.3 196.6h0.7v0.7h-0.7zM195.4 174.1h0.7v0.7h-0.7zM194.8 180.9h0.7v0.7h-0.7zM199.2 222.5h0.7v0.7h-0.7zM208.6 216.2h0.7v0.7h-0.7zM211.8 197.5h0.7v0.7h-0.7zM193.2 187.4h0.7v0.7h-0.7zM213.5 195.4h0.7v0.7h-0.7zM207.5 227.5h0.7v0.7h-0.7zM210.6 177.1h0.7v0.7h-0.7zM203.4 225.9h0.7v0.7h-0.7zM195.6 180.6h0.7v0.7h-0.7zM189.7 189.1h0.7v0.7h-0.7zM201.6 171.5h0.7v0.7h-0.7zM201.6 176.9h0.7v0.7h-0.7zM201.9 175.4h0.7v0.7h-0.7zM206.3 219.8h0.7v0.7h-0.7zM193.3 183.7h0.7v0.7h-0.7zM211.5 215.6h0.7v0.7h-0.7zM191.8 213.5h0.7v0.7h-0.7zM190.3 190.2h0.7v0.7h-0.7zM187.4 195.2h0.7v0.7h-0.7zM210.7 187.3h0.7v0.7h-0.7zM209.3 183.4h0.7v0.7h-0.7zM210.8 192.6h0.7v0.7h-0.7zM195.7 228.8h0.7v0.7h-0.7zM194.6 177.0h0.7v0.7h-0.7zM204.4 222.6h0.7v0.7h-0.7zM211.3 195.5h0.7v0.7h-0.7zM206.8 223.8h0.7v0.7h-0.7zM206.9 175.6h0.7v0.7h-0.7zM214.9 200.7h0.7v0.7h-0.7zM188.6 212.7h0.7v0.7h-0.7zM197.4 220.9h0.7v0.7h-0.7zM214.9 193.4h0.7v0.7h-0.7zM195.1 179.0h0.7v0.7h-0.7zM204.6 223.5h0.7v0.7h-0.7zM210.8 210.1h0.7v0.7h-0.7zM187.7 205.0h0.7v0.7h-0.7zM212.6 190.1h0.7v0.7h-0.7zM196.0 178.0h0.7v0.7h-0.7zM203.6 173.1h0.7v0.7h-0.7zM215.1 198.2h0.7v0.7h-0.7zM196.0 176.6h0.7v0.7h-0.7zM207.3 223.6h0.7v0.7h-0.7zM191.6 208.4h0.7v0.7h-0.7zM205.0 225.2h0.7v0.7h-0.7zM207.2 225.6h0.7v0.7h-0.7zM194.8 228.5h0.7v0.7h-0.7zM196.6 176.8h0.7v0.7h-0.7zM190.9 211.2h0.7v0.7h-0.7zM205.9 230.4h0.7v0.7h-0.7zM212.4 186.7h0.7v0.7h-0.7zM195.4 182.6h0.7v0.7h-0.7zM191.3 195.1h0.7v0.7h-0.7zM195.9 225.2h0.7v0.7h-0.7zM206.7 221.7h0.7v0.7h-0.7zM200.0 175.1h0.7v0.7h-0.7zM209.6 186.4h0.7v0.7h-0.7zM213.5 217.2h0.7v0.7h-0.7zM191.4 183.2h0.7v0.7h-0.7zM191.7 193.1h0.7v0.7h-0.7zM213.4 197.4h0.7v0.7h-0.7zM210.3 188.7h0.7v0.7h-0.7zM199.6 227.4h0.7v0.7h-0.7zM200.8 223.0h0.7v0.7h-0.7zM207.2 221.5h0.7v0.7h-0.7zM214.6 191.3h0.7v0.7h-0.7zM195.8 178.7h0.7v0.7h-0.7zM214.6 208.6h0.7v0.7h-0.7zM209.0 217.5h0.7v0.7h-0.7zM188.9 212.9h0.7v0.7h-0.7zM205.6 221.0h0.7v0.7h-0.7zM209.7 189.3h0.7v0.7h-0.7zM200.5 178.5h0.7v0.7h-0.7zM198.3 223.2h0.7v0.7h-0.7zM188.5 212.4h0.7v0.7h-0.7zM208.1 178.5h0.7v0.7h-0.7zM210.5 213.0h0.7v0.7h-0.7zM197.7 229.0h0.7v0.7h-0.7zM210.0 190.2h0.7v0.7h-0.7zM194.3 227.6h0.7v0.7h-0.7zM207.4 218.9h0.7v0.7h-0.7zM200.4 229.4h0.7v0.7h-0.7zM210.9 219.9h0.7v0.7h-0.7zM207.6 224.8h0.7v0.7h-0.7zM200.8 171.0h0.7v0.7h-0.7zM188.3 213.2h0.7v0.7h-0.7zM189.7 218.1h0.7v0.7h-0.7zM213.8 184.9h0.7v0.7h-0.7zM210.2 215.8h0.7v0.7h-0.7zM196.9 172.6h0.7v0.7h-0.7zM200.9 229.9h0.7v0.7h-0.7zM191.8 204.1h0.7v0.7h-0.7zM209.9 211.9h0.7v0.7h-0.7zM195.6 174.0h0.7v0.7h-0.7zM211.5 188.4h0.7v0.7h-0.7zM197.3 174.8h0.7v0.7h-0.7zM197.9 180.3h0.7v0.7h-0.7zM209.5 186.3h0.7v0.7h-0.7zM189.3 210.5h0.7v0.7h-0.7zM201.0 171.5h0.7v0.7h-0.7zM197.2 223.4h0.7v0.7h-0.7zM200.1 179.5h0.7v0.7h-0.7zM209.4 183.6h0.7v0.7h-0.7zM192.8 216.2h0.7v0.7h-0.7zM199.1 178.6h0.7v0.7h-0.7zM208.1 217.5h0.7v0.7h-0.7zM210.1 221.1h0.7v0.7h-0.7zM211.3 199.5h0.7v0.7h-0.7zM190.4 206.8h0.7v0.7h-0.7zM197.3 224.0h0.7v0.7h-0.7zM210.6 217.0h0.7v0.7h-0.7zM200.5 222.7h0.7v0.7h-0.7zM210.8 223.9h0.7v0.7h-0.7zM198.7 170.5h0.7v0.7h-0.7zM206.6 174.6h0.7v0.7h-0.7zM203.0 223.1h0.7v0.7h-0.7zM214.4 198.2h0.7v0.7h-0.7zM199.7 178.6h0.7v0.7h-0.7zM204.7 175.3h0.7v0.7h-0.7zM210.6 213.3h0.7v0.7h-0.7zM213.9 195.5h0.7v0.7h-0.7zM210.0 212.9h0.7v0.7h-0.7zM201.5 176.2h0.7v0.7h-0.7zM191.2 204.1h0.7v0.7h-0.7zM206.8 224.6h0.7v0.7h-0.7zM192.0 211.2h0.7v0.7h-0.7zM208.4 221.8h0.7v0.7h-0.7zM209.1 215.3h0.7v0.7h-0.7zM191.6 204.6h0.7v0.7h-0.7zM200.2 172.2h0.7v0.7h-0.7z" fill="#a8a8a8" opacity="1"/>
<path d="M194.9 168.4h0.7v0.7h-0.7zM206.5 226.6h0.7v0.7h-0.7zM209.2 223.2h0.7v0.7h-0.7zM200.3 174.5h0.7v0.7h-0.7zM189.0 195.6h0.7v0.7h-0.7zM197.6 230.2h0.7v0.7h-0.7zM209.3 173.2h0.7v0.7h-0.7zM214.5 203.6h0.7v0.7h-0.7zM211.5 229.6h0.7v0.7h-0.7zM207.4 168.4h0.7v0.7h-0.7zM208.8 170.6h0.7v0.7h-0.7zM216.8 190.1h0.7v0.7h-0.7zM185.7 203.9h0.7v0.7h-0.7zM188.6 189.1h0.7v0.7h-0.7zM192.3 223.9h0.7v0.7h-0.7zM196.8 225.4h0.7v0.7h-0.7zM208.3 169.3h0.7v0.7h-0.7zM216.9 198.0h0.7v0.7h-0.7zM186.6 189.5h0.7v0.7h-0.7zM211.7 226.1h0.7v0.7h-0.7zM189.8 210.5h0.7v0.7h-0.7zM190.6 182.6h0.7v0.7h-0.7zM211.3 223.8h0.7v0.7h-0.7zM202.7 228.8h0.7v0.7h-0.7zM206.2 228.8h0.7v0.7h-0.7zM215.2 215.7h0.7v0.7h-0.7zM214.7 192.4h0.7v0.7h-0.7zM198.2 165.0h0.7v0.7h-0.7zM213.4 208.2h0.7v0.7h-0.7zM207.1 167.7h0.7v0.7h-0.7zM193.5 180.3h0.7v0.7h-0.7zM187.4 219.5h0.7v0.7h-0.7zM213.7 178.0h0.7v0.7h-0.7zM190.5 225.0h0.7v0.7h-0.7zM212.6 229.2h0.7v0.7h-0.7zM189.0 180.4h0.7v0.7h-0.7zM188.5 185.2h0.7v0.7h-0.7zM191.6 227.4h0.7v0.7h-0.7zM194.3 225.1h0.7v0.7h-0.7zM209.4 229.8h0.7v0.7h-0.7zM211.2 219.0h0.7v0.7h-0.7zM215.3 214.9h0.7v0.7h-0.7zM187.8 190.0h0.7v0.7h-0.7zM215.1 208.4h0.7v0.7h-0.7zM194.9 222.8h0.7v0.7h-0.7zM218.7 201.7h0.7v0.7h-0.7zM211.1 220.9h0.7v0.7h-0.7zM214.1 215.4h0.7v0.7h-0.7zM190.6 227.3h0.7v0.7h-0.7zM214.9 202.0h0.7v0.7h-0.7zM184.4 201.8h0.7v0.7h-0.7zM187.4 197.8h0.7v0.7h-0.7zM195.1 175.9h0.7v0.7h-0.7zM215.6 207.2h0.7v0.7h-0.7zM214.8 182.7h0.7v0.7h-0.7zM209.1 178.1h0.7v0.7h-0.7zM190.0 185.5h0.7v0.7h-0.7zM202.0 229.6h0.7v0.7h-0.7zM205.4 229.2h0.7v0.7h-0.7zM214.9 208.1h0.7v0.7h-0.7zM215.1 218.9h0.7v0.7h-0.7zM192.2 186.3h0.7v0.7h-0.7zM203.4 173.9h0.7v0.7h-0.7zM186.9 204.9h0.7v0.7h-0.7zM195.0 225.8h0.7v0.7h-0.7zM190.2 211.6h0.7v0.7h-0.7zM209.4 181.0h0.7v0.7h-0.7zM207.2 176.2h0.7v0.7h-0.7zM197.0 229.2h0.7v0.7h-0.7zM213.5 206.5h0.7v0.7h-0.7zM192.5 224.4h0.7v0.7h-0.7zM213.8 174.8h0.7v0.7h-0.7zM215.5 209.6h0.7v0.7h-0.7zM212.6 226.5h0.7v0.7h-0.7zM189.8 193.5h0.7v0.7h-0.7zM214.4 201.9h0.7v0.7h-0.7zM209.9 181.2h0.7v0.7h-0.7zM188.0 204.9h0.7v0.7h-0.7zM192.4 230.0h0.7v0.7h-0.7zM193.1 169.2h0.7v0.7h-0.7zM184.8 196.4h0.7v0.7h-0.7zM187.7 212.7h0.7v0.7h-0.7zM189.6 176.6h0.7v0.7h-0.7zM211.2 185.1h0.7v0.7h-0.7zM211.0 225.0h0.7v0.7h-0.7zM207.1 171.7h0.7v0.7h-0.7zM197.9 225.9h0.7v0.7h-0.7zM212.6 209.2h0.7v0.7h-0.7zM199.8 174.9h0.7v0.7h-0.7zM198.0 166.0h0.7v0.7h-0.7zM217.7 200.9h0.7v0.7h-0.7zM188.1 216.0h0.7v0.7h-0.7zM209.3 171.6h0.7v0.7h-0.7zM211.8 219.3h0.7v0.7h-0.7zM215.7 200.3h0.7v0.7h-0.7zM190.5 208.7h0.7v0.7h-0.7zM214.3 206.2h0.7v0.7h-0.7zM209.9 177.0h0.7v0.7h-0.7zM217.4 199.5h0.7v0.7h-0.7zM188.6 203.8h0.7v0.7h-0.7zM185.3 209.8h0.7v0.7h-0.7zM189.2 194.7h0.7v0.7h-0.7zM191.4 222.8h0.7v0.7h-0.7zM217.3 208.5h0.7v0.7h-0.7z" fill="#c8c8c8" opacity="1"/>
<ellipse cx="173.8" cy="209.6" rx="8.4" ry="13.3" fill="#d9d9d9" stroke="#f4f4f4" stroke-width="0.7" transform="rotate(0 173.8 209.6)"/>
<ellipse cx="173.5" cy="209.0" rx="6.2" ry="10.5" fill="#cfcfcf" stroke="#c2c2c2" stroke-width="0.3" transform="rotate(0 173.5 209.0)"/>
<ellipse cx="173.2" cy="208.5" rx="3.8" ry="7.5" fill="#c6c6c6" stroke="#bbbbbb" stroke-width="0.3" transform="rotate(0 173.2 208.5)"/>
<ellipse cx="173.5" cy="207" rx="1.0" ry="4" fill="#b5b5b5" stroke="none" stroke-width="0.4" transform="rotate(0 173.5 207)"/>
<path d="M203,175.5 C209,175.5 212,182 212,195 C212,212 210,225.5 201,225.5 C192,225.5 188.3,220 188.3,210 C188.3,198 194,184 197,179 C198.5,176.5 200.5,175.5 203,175.5 Z" fill="#d8d8d8" stroke="#c4c4c4" stroke-width="0.4" />
<path d="M202.5,178.5 C207.5,178.5 210,185 210,196 C210,211 208,222.5 201,222.5 C194,222.5 190.8,218 190.8,209 C190.8,199 195,187 198,181.5 C199.3,179.3 200.8,178.5 202.5,178.5 Z" fill="#cbcbcb" stroke="#f2f2f2" stroke-width="0.5" />
<ellipse cx="203" cy="199.5" rx="6.4" ry="19" fill="#b9b9b9" stroke="#aaaaaa" stroke-width="0.3" transform="rotate(0 203 199.5)"/>
<ellipse cx="203.2" cy="199.5" rx="4.6" ry="17" fill="#a3a3a3" stroke="#959595" stroke-width="0.3" transform="rotate(0 203.2 199.5)"/>
<ellipse cx="203.4" cy="199.5" rx="3.0" ry="15" fill="#939393" stroke="#888" stroke-width="0.3" transform="rotate(0 203.4 199.5)"/>
<ellipse cx="203.6" cy="199" rx="1.2" ry="12.5" fill="#ffffff" stroke="none" stroke-width="0.4" transform="rotate(0 203.6 199)"/>
<line x1="186.50" y1="159.30" x2="186.50" y2="231.60" stroke="#6a6a6a" stroke-width="1.1" />
<line x1="156.20" y1="195.50" x2="226.90" y2="195.50" stroke="#555" stroke-width="1.1" />
<rect x="156.20" y="159.30" width="70.70" height="72.30" fill="none" stroke="#b5b5b5" stroke-width="0.9" />
<path d="M156.20,228.60h-2.2M156.20,225.29h-1.2M156.20,221.41h-1.2M156.20,217.60h-1.2M156.20,214.20h-1.2M156.20,210.60h-2.2M156.20,207.04h-1.2M156.20,203.32h-1.2M156.20,199.49h-1.2M156.20,196.22h-1.2M156.20,192.99h-2.2M156.20,189.12h-1.2M156.20,185.58h-1.2M156.20,181.77h-1.2M156.20,178.57h-1.2M156.20,175.01h-2.2M156.20,171.23h-1.2M156.20,167.85h-1.2M156.20,163.89h-1.2M159.20,231.60v2.2M162.42,231.60v1.2M165.64,231.60v1.2M169.28,231.60v1.2M173.23,231.60v1.2M176.73,231.60v2.2M180.11,231.60v1.2M183.65,231.60v1.2M186.87,231.60v1.2M190.25,231.60v1.2M193.80,231.60v2.2M197.39,231.60v1.2M200.78,231.60v1.2M204.16,231.60v1.2M207.54,231.60v1.2M211.11,231.60v2.2M214.54,231.60v1.2M217.76,231.60v1.2M221.63,231.60v1.2" stroke="#8a8a8a" stroke-width="0.6" fill="none"/>
<rect x="154.00" y="212.72" width="1.6" height="1.6" fill="#222"/>
<rect x="167.43" y="231.90" width="3.2" height="1.4" fill="#222"/>
<path d="M254.0 227.4h0.7v0.7h-0.7zM239.5 200.2h0.7v0.7h-0.7zM250.3 229.9h0.7v0.7h-0.7zM251.8 197.0h0.7v0.7h-0.7zM236.3 212.0h0.7v0.7h-0.7zM259.2 212.8h0.7v0.7h-0.7zM238.3 205.1h0.7v0.7h-0.7zM250.5 197.8h0.7v0.7h-0.7zM248.6 226.9h0.7v0.7h-0.7zM260.4 212.2h0.7v0.7h-0.7zM256.3 200.5h0.7v0.7h-0.7zM258.8 215.8h0.7v0.7h-0.7zM236.7 212.7h0.7v0.7h-0.7zM258.6 207.8h0.7v0.7h-0.7zM254.9 227.3h0.7v0.7h-0.7zM257.1 225.5h0.7v0.7h-0.7zM235.8 217.4h0.7v0.7h-0.7zM240.9 226.2h0.7v0.7h-0.7zM251.6 225.8h0.7v0.7h-0.7zM255.0 201.1h0.7v0.7h-0.7zM249.6 197.6h0.7v0.7h-0.7zM260.6 208.9h0.7v0.7h-0.7zM247.9 194.8h0.7v0.7h-0.7zM236.3 204.0h0.7v0.7h-0.7zM256.1 223.9h0.7v0.7h-0.7zM252.7 199.1h0.7v0.7h-0.7zM259.4 204.0h0.7v0.7h-0.7zM237.7 221.0h0.7v0.7h-0.7zM236.3 217.3h0.7v0.7h-0.7zM259.2 212.0h0.7v0.7h-0.7zM258.1 215.0h0.7v0.7h-0.7zM244.8 194.2h0.7v0.7h-0.7zM235.4 212.9h0.7v0.7h-0.7zM235.2 207.0h0.7v0.7h-0.7zM249.7 229.2h0.7v0.7h-0.7zM235.8 206.6h0.7v0.7h-0.7zM252.1 226.1h0.7v0.7h-0.7zM239.7 227.5h0.7v0.7h-0.7zM240.4 226.4h0.7v0.7h-0.7zM243.7 226.3h0.7v0.7h-0.7zM259.5 219.7h0.7v0.7h-0.7zM249.5 196.8h0.7v0.7h-0.7zM242.3 196.7h0.7v0.7h-0.7zM258.4 201.5h0.7v0.7h-0.7zM236.1 222.8h0.7v0.7h-0.7zM259.5 208.4h0.7v0.7h-0.7zM256.5 201.5h0.7v0.7h-0.7zM239.5 223.3h0.7v0.7h-0.7zM255.3 202.0h0.7v0.7h-0.7zM259.4 220.0h0.7v0.7h-0.7zM249.3 196.3h0.7v0.7h-0.7zM253.0 200.1h0.7v0.7h-0.7zM246.9 228.0h0.7v0.7h-0.7zM237.9 219.8h0.7v0.7h-0.7zM258.0 219.2h0.7v0.7h-0.7zM258.5 201.4h0.7v0.7h-0.7zM247.2 196.1h0.7v0.7h-0.7zM234.8 209.7h0.7v0.7h-0.7zM258.5 215.2h0.7v0.7h-0.7zM254.4 197.3h0.7v0.7h-0.7zM256.6 201.0h0.7v0.7h-0.7zM236.4 220.1h0.7v0.7h-0.7zM254.2 199.8h0.7v0.7h-0.7zM236.4 209.2h0.7v0.7h-0.7zM248.7 198.3h0.7v0.7h-0.7zM242.1 195.5h0.7v0.7h-0.7zM259.8 215.0h0.7v0.7h-0.7zM239.3 198.3h0.7v0.7h-0.7zM237.8 204.7h0.7v0.7h-0.7zM236.2 222.9h0.7v0.7h-0.7zM256.5 204.2h0.7v0.7h-0.7zM256.4 220.7h0.7v0.7h-0.7zM259.3 215.1h0.7v0.7h-0.7zM255.9 226.5h0.7v0.7h-0.7zM241.4 200.2h0.7v0.7h-0.7zM236.3 208.7h0.7v0.7h-0.7zM236.3 213.1h0.7v0.7h-0.7zM253.1 225.5h0.7v0.7h-0.7zM238.3 224.6h0.7v0.7h-0.7zM237.4 208.0h0.7v0.7h-0.7zM244.3 194.9h0.7v0.7h-0.7zM249.5 194.9h0.7v0.7h-0.7zM259.5 213.3h0.7v0.7h-0.7zM259.5 219.4h0.7v0.7h-0.7zM253.3 228.1h0.7v0.7h-0.7zM247.3 229.9h0.7v0.7h-0.7zM243.4 225.8h0.7v0.7h-0.7zM238.7 222.6h0.7v0.7h-0.7zM256.8 203.4h0.7v0.7h-0.7zM235.2 212.2h0.7v0.7h-0.7zM257.7 207.8h0.7v0.7h-0.7zM237.7 202.7h0.7v0.7h-0.7zM246.2 194.0h0.7v0.7h-0.7zM242.8 228.7h0.7v0.7h-0.7zM235.4 209.8h0.7v0.7h-0.7zM259.6 219.5h0.7v0.7h-0.7zM259.0 210.2h0.7v0.7h-0.7zM241.8 229.5h0.7v0.7h-0.7zM255.8 221.6h0.7v0.7h-0.7zM259.3 220.5h0.7v0.7h-0.7zM248.2 196.3h0.7v0.7h-0.7zM239.9 202.6h0.7v0.7h-0.7zM240.2 199.7h0.7v0.7h-0.7zM235.8 210.8h0.7v0.7h-0.7zM238.4 221.4h0.7v0.7h-0.7zM258.8 217.4h0.7v0.7h-0.7zM247.7 229.9h0.7v0.7h-0.7zM252.8 196.5h0.7v0.7h-0.7zM236.7 216.7h0.7v0.7h-0.7zM238.4 223.3h0.7v0.7h-0.7zM238.3 198.8h0.7v0.7h-0.7zM257.8 220.9h0.7v0.7h-0.7zM234.7 213.4h0.7v0.7h-0.7zM257.6 201.2h0.7v0.7h-0.7zM238.4 199.9h0.7v0.7h-0.7zM241.0 196.7h0.7v0.7h-0.7zM243.5 196.1h0.7v0.7h-0.7zM238.1 223.7h0.7v0.7h-0.7zM253.7 195.9h0.7v0.7h-0.7zM257.9 211.5h0.7v0.7h-0.7zM243.1 227.0h0.7v0.7h-0.7zM239.0 221.9h0.7v0.7h-0.7zM237.4 207.7h0.7v0.7h-0.7zM243.1 230.0h0.7v0.7h-0.7zM246.9 196.2h0.7v0.7h-0.7zM258.1 224.2h0.7v0.7h-0.7zM244.3 198.0h0.7v0.7h-0.7zM241.1 227.2h0.7v0.7h-0.7zM242.8 198.5h0.7v0.7h-0.7zM258.5 207.8h0.7v0.7h-0.7zM247.1 230.5h0.7v0.7h-0.7zM254.7 226.7h0.7v0.7h-0.7zM251.3 228.6h0.7v0.7h-0.7zM245.5 228.2h0.7v0.7h-0.7zM258.7 206.6h0.7v0.7h-0.7zM236.0 219.1h0.7v0.7h-0.7zM245.4 227.3h0.7v0.7h-0.7zM239.0 222.8h0.7v0.7h-0.7zM252.6 229.7h0.7v0.7h-0.7zM260.3 216.3h0.7v0.7h-0.7zM259.2 205.6h0.7v0.7h-0.7zM259.5 214.5h0.7v0.7h-0.7zM259.6 216.6h0.7v0.7h-0.7zM244.1 197.9h0.7v0.7h-0.7zM259.7 213.3h0.7v0.7h-0.7zM257.0 221.3h0.7v0.7h-0.7zM234.7 217.7h0.7v0.7h-0.7zM240.0 223.3h0.7v0.7h-0.7zM250.9 195.2h0.7v0.7h-0.7zM237.1 209.8h0.7v0.7h-0.7zM252.0 227.3h0.7v0.7h-0.7zM236.9 207.6h0.7v0.7h-0.7zM251.8 195.4h0.7v0.7h-0.7zM259.4 204.2h0.7v0.7h-0.7zM259.8 214.4h0.7v0.7h-0.7zM259.2 221.4h0.7v0.7h-0.7zM247.2 194.8h0.7v0.7h-0.7zM251.5 225.9h0.7v0.7h-0.7z" fill="#dcbcc6" opacity="1"/>
<path d="M278.5 194.7h0.7v0.7h-0.7zM290.2 203.1h0.7v0.7h-0.7zM274.6 209.1h0.7v0.7h-0.7zM266.5 183.5h0.7v0.7h-0.7zM278.1 188.5h0.7v0.7h-0.7zM280.8 193.7h0.7v0.7h-0.7zM257.9 178.5h0.7v0.7h-0.7zM265.1 168.1h0.7v0.7h-0.7zM270.6 188.1h0.7v0.7h-0.7zM281.4 181.7h0.7v0.7h-0.7zM269.3 210.9h0.7v0.7h-0.7zM279.5 178.7h0.7v0.7h-0.7zM286.2 187.1h0.7v0.7h-0.7zM284.1 192.3h0.7v0.7h-0.7zM267.8 174.7h0.7v0.7h-0.7zM266.1 224.7h0.7v0.7h-0.7zM285.1 190.8h0.7v0.7h-0.7zM282.0 221.4h0.7v0.7h-0.7zM268.4 186.1h0.7v0.7h-0.7zM283.5 204.9h0.7v0.7h-0.7zM289.0 204.6h0.7v0.7h-0.7zM260.2 197.1h0.7v0.7h-0.7zM260.4 211.9h0.7v0.7h-0.7zM279.8 189.6h0.7v0.7h-0.7zM263.1 215.0h0.7v0.7h-0.7zM268.2 221.1h0.7v0.7h-0.7zM261.7 192.6h0.7v0.7h-0.7zM266.4 178.1h0.7v0.7h-0.7zM287.6 216.1h0.7v0.7h-0.7zM265.4 213.8h0.7v0.7h-0.7zM257.7 216.8h0.7v0.7h-0.7zM283.2 191.5h0.7v0.7h-0.7zM267.0 204.7h0.7v0.7h-0.7zM277.6 189.8h0.7v0.7h-0.7zM262.9 192.8h0.7v0.7h-0.7zM267.4 214.0h0.7v0.7h-0.7zM273.9 207.3h0.7v0.7h-0.7zM256.8 191.5h0.7v0.7h-0.7zM267.5 186.7h0.7v0.7h-0.7zM270.1 188.3h0.7v0.7h-0.7zM258.4 214.0h0.7v0.7h-0.7zM281.7 188.1h0.7v0.7h-0.7zM278.6 180.2h0.7v0.7h-0.7zM259.4 194.4h0.7v0.7h-0.7zM286.9 196.5h0.7v0.7h-0.7zM257.5 202.6h0.7v0.7h-0.7zM266.0 183.9h0.7v0.7h-0.7zM275.4 168.8h0.7v0.7h-0.7zM258.3 177.2h0.7v0.7h-0.7zM283.5 200.5h0.7v0.7h-0.7zM265.7 184.8h0.7v0.7h-0.7zM278.7 221.5h0.7v0.7h-0.7zM264.3 204.4h0.7v0.7h-0.7zM289.3 206.8h0.7v0.7h-0.7zM268.2 207.6h0.7v0.7h-0.7zM273.7 213.2h0.7v0.7h-0.7zM276.8 187.9h0.7v0.7h-0.7zM271.0 209.3h0.7v0.7h-0.7zM264.5 200.7h0.7v0.7h-0.7zM263.8 221.0h0.7v0.7h-0.7zM286.4 184.3h0.7v0.7h-0.7zM281.7 202.4h0.7v0.7h-0.7zM275.1 190.0h0.7v0.7h-0.7zM275.3 218.6h0.7v0.7h-0.7zM260.9 216.9h0.7v0.7h-0.7zM269.8 177.6h0.7v0.7h-0.7zM272.0 212.9h0.7v0.7h-0.7zM271.4 208.6h0.7v0.7h-0.7zM268.5 186.8h0.7v0.7h-0.7zM282.4 181.7h0.7v0.7h-0.7zM282.9 205.6h0.7v0.7h-0.7zM267.7 191.9h0.7v0.7h-0.7zM266.8 198.8h0.7v0.7h-0.7zM272.5 188.9h0.7v0.7h-0.7zM259.7 172.8h0.7v0.7h-0.7zM276.5 185.7h0.7v0.7h-0.7zM265.5 195.3h0.7v0.7h-0.7zM262.9 224.0h0.7v0.7h-0.7zM274.0 189.6h0.7v0.7h-0.7zM262.2 215.4h0.7v0.7h-0.7zM279.1 224.3h0.7v0.7h-0.7zM281.6 183.6h0.7v0.7h-0.7zM261.4 221.4h0.7v0.7h-0.7zM264.7 196.9h0.7v0.7h-0.7zM270.8 210.9h0.7v0.7h-0.7zM278.2 179.3h0.7v0.7h-0.7zM266.8 169.8h0.7v0.7h-0.7zM279.3 195.7h0.7v0.7h-0.7zM258.2 215.5h0.7v0.7h-0.7zM272.7 179.2h0.7v0.7h-0.7zM267.8 186.4h0.7v0.7h-0.7zM274.9 206.7h0.7v0.7h-0.7zM266.2 208.3h0.7v0.7h-0.7zM254.1 194.3h0.7v0.7h-0.7zM279.1 217.0h0.7v0.7h-0.7zM280.5 179.8h0.7v0.7h-0.7zM257.0 193.1h0.7v0.7h-0.7zM289.5 202.5h0.7v0.7h-0.7zM265.9 170.8h0.7v0.7h-0.7zM274.8 187.7h0.7v0.7h-0.7zM278.6 203.5h0.7v0.7h-0.7zM254.4 197.0h0.7v0.7h-0.7zM280.8 187.5h0.7v0.7h-0.7zM261.3 178.6h0.7v0.7h-0.7zM263.1 227.3h0.7v0.7h-0.7zM285.7 188.2h0.7v0.7h-0.7zM284.8 180.9h0.7v0.7h-0.7zM266.7 184.0h0.7v0.7h-0.7zM270.4 212.8h0.7v0.7h-0.7zM288.3 209.5h0.7v0.7h-0.7zM270.5 207.2h0.7v0.7h-0.7zM269.5 208.6h0.7v0.7h-0.7zM263.2 203.9h0.7v0.7h-0.7zM277.1 216.9h0.7v0.7h-0.7zM263.7 207.2h0.7v0.7h-0.7zM275.5 182.5h0.7v0.7h-0.7zM255.8 190.0h0.7v0.7h-0.7zM281.6 193.3h0.7v0.7h-0.7zM289.2 206.4h0.7v0.7h-0.7zM264.3 196.7h0.7v0.7h-0.7zM277.6 208.9h0.7v0.7h-0.7zM269.5 209.6h0.7v0.7h-0.7zM289.5 208.4h0.7v0.7h-0.7zM274.7 187.3h0.7v0.7h-0.7zM256.4 201.6h0.7v0.7h-0.7zM266.3 197.7h0.7v0.7h-0.7zM266.7 213.8h0.7v0.7h-0.7zM282.9 185.8h0.7v0.7h-0.7zM259.1 204.4h0.7v0.7h-0.7zM285.5 206.0h0.7v0.7h-0.7zM277.0 173.6h0.7v0.7h-0.7zM266.4 210.5h0.7v0.7h-0.7zM277.9 198.7h0.7v0.7h-0.7zM278.2 215.0h0.7v0.7h-0.7zM273.4 183.7h0.7v0.7h-0.7zM258.8 202.4h0.7v0.7h-0.7zM268.5 191.1h0.7v0.7h-0.7zM283.2 186.5h0.7v0.7h-0.7zM269.4 212.3h0.7v0.7h-0.7zM265.5 167.6h0.7v0.7h-0.7zM266.7 214.3h0.7v0.7h-0.7zM265.3 193.3h0.7v0.7h-0.7zM257.7 216.1h0.7v0.7h-0.7zM257.0 187.6h0.7v0.7h-0.7zM270.8 229.1h0.7v0.7h-0.7zM273.6 183.6h0.7v0.7h-0.7zM258.2 193.1h0.7v0.7h-0.7zM260.4 187.2h0.7v0.7h-0.7zM272.8 221.1h0.7v0.7h-0.7zM262.4 221.2h0.7v0.7h-0.7zM259.4 222.4h0.7v0.7h-0.7zM265.1 190.8h0.7v0.7h-0.7zM266.4 204.2h0.7v0.7h-0.7zM271.5 187.9h0.7v0.7h-0.7zM264.9 187.7h0.7v0.7h-0.7zM273.1 185.9h0.7v0.7h-0.7zM265.9 173.4h0.7v0.7h-0.7zM272.7 210.3h0.7v0.7h-0.7zM262.5 216.3h0.7v0.7h-0.7zM271.7 207.2h0.7v0.7h-0.7zM257.3 208.7h0.7v0.7h-0.7zM281.6 225.6h0.7v0.7h-0.7zM265.0 197.3h0.7v0.7h-0.7zM280.0 208.9h0.7v0.7h-0.7zM264.9 200.0h0.7v0.7h-0.7zM282.0 209.0h0.7v0.7h-0.7zM271.7 218.3h0.7v0.7h-0.7zM258.4 206.2h0.7v0.7h-0.7zM265.0 191.1h0.7v0.7h-0.7zM279.0 225.9h0.7v0.7h-0.7zM278.2 201.8h0.7v0.7h-0.7zM286.5 210.8h0.7v0.7h-0.7zM255.2 189.7h0.7v0.7h-0.7zM265.4 185.5h0.7v0.7h-0.7zM258.6 209.7h0.7v0.7h-0.7zM273.9 227.3h0.7v0.7h-0.7zM267.5 203.5h0.7v0.7h-0.7zM265.1 217.4h0.7v0.7h-0.7zM282.4 223.5h0.7v0.7h-0.7zM282.5 188.1h0.7v0.7h-0.7zM283.7 183.0h0.7v0.7h-0.7zM265.2 194.9h0.7v0.7h-0.7zM288.6 188.5h0.7v0.7h-0.7zM262.4 203.6h0.7v0.7h-0.7zM283.8 209.1h0.7v0.7h-0.7zM278.2 183.0h0.7v0.7h-0.7zM268.8 221.9h0.7v0.7h-0.7zM273.9 185.2h0.7v0.7h-0.7zM269.3 222.9h0.7v0.7h-0.7zM287.4 205.7h0.7v0.7h-0.7zM265.5 225.7h0.7v0.7h-0.7zM265.2 201.7h0.7v0.7h-0.7zM278.3 199.4h0.7v0.7h-0.7zM271.0 226.3h0.7v0.7h-0.7zM275.7 173.9h0.7v0.7h-0.7zM267.1 222.3h0.7v0.7h-0.7zM270.9 179.7h0.7v0.7h-0.7zM281.7 208.3h0.7v0.7h-0.7zM273.3 211.6h0.7v0.7h-0.7zM267.5 204.9h0.7v0.7h-0.7zM278.9 188.3h0.7v0.7h-0.7zM283.9 181.4h0.7v0.7h-0.7zM289.0 200.2h0.7v0.7h-0.7zM276.4 177.1h0.7v0.7h-0.7zM280.4 183.9h0.7v0.7h-0.7zM278.8 200.0h0.7v0.7h-0.7zM265.9 226.7h0.7v0.7h-0.7zM275.1 187.5h0.7v0.7h-0.7zM268.3 207.6h0.7v0.7h-0.7zM273.3 215.8h0.7v0.7h-0.7zM266.1 204.6h0.7v0.7h-0.7zM267.6 185.3h0.7v0.7h-0.7zM280.7 184.4h0.7v0.7h-0.7zM258.2 210.2h0.7v0.7h-0.7zM267.3 210.9h0.7v0.7h-0.7zM278.3 209.5h0.7v0.7h-0.7zM273.4 225.6h0.7v0.7h-0.7zM263.2 219.4h0.7v0.7h-0.7zM271.1 208.6h0.7v0.7h-0.7zM268.6 215.9h0.7v0.7h-0.7zM278.3 190.5h0.7v0.7h-0.7zM273.7 210.6h0.7v0.7h-0.7zM279.2 191.9h0.7v0.7h-0.7zM282.9 204.6h0.7v0.7h-0.7zM266.6 192.0h0.7v0.7h-0.7zM258.7 212.1h0.7v0.7h-0.7zM286.6 198.2h0.7v0.7h-0.7zM265.8 171.3h0.7v0.7h-0.7zM260.9 199.7h0.7v0.7h-0.7zM265.4 196.6h0.7v0.7h-0.7zM264.0 196.7h0.7v0.7h-0.7zM269.7 207.1h0.7v0.7h-0.7zM275.0 206.7h0.7v0.7h-0.7zM264.3 194.2h0.7v0.7h-0.7zM261.1 190.5h0.7v0.7h-0.7zM272.7 210.2h0.7v0.7h-0.7zM260.5 183.1h0.7v0.7h-0.7zM267.7 177.6h0.7v0.7h-0.7zM267.5 193.4h0.7v0.7h-0.7zM266.6 225.6h0.7v0.7h-0.7zM267.5 206.1h0.7v0.7h-0.7zM257.8 212.4h0.7v0.7h-0.7zM277.2 204.9h0.7v0.7h-0.7zM255.3 198.3h0.7v0.7h-0.7zM265.7 207.7h0.7v0.7h-0.7zM272.7 186.7h0.7v0.7h-0.7zM268.4 221.3h0.7v0.7h-0.7zM281.7 172.9h0.7v0.7h-0.7zM268.1 212.0h0.7v0.7h-0.7zM267.8 207.2h0.7v0.7h-0.7zM269.8 226.3h0.7v0.7h-0.7zM280.4 195.9h0.7v0.7h-0.7zM285.3 210.2h0.7v0.7h-0.7zM287.2 191.8h0.7v0.7h-0.7zM259.3 212.6h0.7v0.7h-0.7zM273.0 170.1h0.7v0.7h-0.7zM253.6 199.6h0.7v0.7h-0.7zM273.5 183.3h0.7v0.7h-0.7z" fill="#dcbcc6" opacity="1"/>
<path d="M237.20,208.00C237.03,205.25 237.70,202.83 238.50,201.00C239.30,199.17 240.58,197.87 242.00,197.00C243.42,196.13 245.33,195.88 247.00,195.80C248.67,195.72 250.53,195.80 252.00,196.50C253.47,197.20 254.93,198.42 255.80,200.00C256.67,201.58 256.97,203.83 257.20,206.00C257.43,208.17 257.27,210.67 257.20,213.00C257.13,215.33 256.97,217.92 256.80,220.00C256.63,222.08 256.75,224.00 256.20,225.50C255.65,227.00 254.62,228.37 253.50,229.00C252.38,229.63 250.75,229.55 249.50,229.30C248.25,229.05 246.75,228.55 246.00,227.50C245.25,226.45 245.42,224.12 245.00,223.00C244.58,221.88 244.42,221.72 243.50,220.80C242.58,219.88 240.55,219.63 239.50,217.50C238.45,215.37 237.37,210.75 237.20,208.00Z" fill="#f1e0e5" stroke="#dcb6c2" stroke-width="0.4"/>
<path d="M238.26,208.25C238.11,205.78 238.71,203.60 239.43,201.95C240.15,200.30 241.31,199.13 242.58,198.35C243.86,197.57 245.58,197.34 247.08,197.27C248.58,197.20 250.26,197.27 251.58,197.90C252.90,198.53 254.22,199.62 255.00,201.05C255.78,202.48 256.05,204.50 256.26,206.45C256.47,208.40 256.32,210.65 256.26,212.75C256.20,214.85 256.05,217.18 255.90,219.05C255.75,220.93 255.85,222.65 255.36,224.00C254.86,225.35 253.94,226.58 252.93,227.15C251.93,227.72 250.46,227.65 249.33,227.42C248.21,227.20 246.86,226.75 246.18,225.80C245.50,224.86 245.66,222.75 245.28,221.75C244.91,220.75 244.75,220.59 243.93,219.77C243.11,218.95 241.28,218.72 240.33,216.80C239.39,214.88 238.41,210.72 238.26,208.25Z" fill="#ecd5dd" stroke="#d8afbc" stroke-width="0.4"/>
<path d="M239.32,208.50C239.19,206.30 239.72,204.37 240.36,202.90C241.00,201.43 242.03,200.39 243.16,199.70C244.29,199.01 245.83,198.81 247.16,198.74C248.49,198.67 249.99,198.74 251.16,199.30C252.33,199.86 253.51,200.83 254.20,202.10C254.89,203.37 255.13,205.17 255.32,206.90C255.51,208.63 255.37,210.63 255.32,212.50C255.27,214.37 255.13,216.43 255.00,218.10C254.87,219.77 254.96,221.30 254.52,222.50C254.08,223.70 253.25,224.79 252.36,225.30C251.47,225.81 250.16,225.74 249.16,225.54C248.16,225.34 246.96,224.94 246.36,224.10C245.76,223.26 245.89,221.39 245.56,220.50C245.23,219.61 245.09,219.47 244.36,218.74C243.63,218.01 242.00,217.81 241.16,216.10C240.32,214.39 239.45,210.70 239.32,208.50Z" fill="#e8ccd5" stroke="#d4a8b6" stroke-width="0.4"/>
<path d="M240.38,208.75C240.26,206.82 240.73,205.13 241.29,203.85C241.85,202.57 242.75,201.66 243.74,201.05C244.73,200.44 246.07,200.27 247.24,200.21C248.41,200.15 249.71,200.21 250.74,200.70C251.77,201.19 252.79,202.04 253.40,203.15C254.01,204.26 254.22,205.83 254.38,207.35C254.54,208.87 254.43,210.62 254.38,212.25C254.33,213.88 254.22,215.69 254.10,217.15C253.98,218.61 254.06,219.95 253.68,221.00C253.30,222.05 252.57,223.01 251.79,223.45C251.01,223.89 249.87,223.83 248.99,223.66C248.12,223.49 247.06,223.13 246.54,222.40C246.01,221.67 246.13,220.03 245.84,219.25C245.55,218.47 245.43,218.35 244.79,217.71C244.15,217.07 242.73,216.89 241.99,215.40C241.25,213.91 240.50,210.68 240.38,208.75Z" fill="#e4c4cf" stroke="#d1a3b2" stroke-width="0.4"/>
<path d="M241.44,209.00C241.34,207.35 241.74,205.90 242.22,204.80C242.70,203.70 243.47,202.92 244.32,202.40C245.17,201.88 246.32,201.73 247.32,201.68C248.32,201.63 249.44,201.68 250.32,202.10C251.20,202.52 252.08,203.25 252.60,204.20C253.12,205.15 253.30,206.50 253.44,207.80C253.58,209.10 253.48,210.60 253.44,212.00C253.40,213.40 253.30,214.95 253.20,216.20C253.10,217.45 253.17,218.60 252.84,219.50C252.51,220.40 251.89,221.22 251.22,221.60C250.55,221.98 249.57,221.93 248.82,221.78C248.07,221.63 247.17,221.33 246.72,220.70C246.27,220.07 246.37,218.67 246.12,218.00C245.87,217.33 245.77,217.23 245.22,216.68C244.67,216.13 243.45,215.98 242.82,214.70C242.19,213.42 241.54,210.65 241.44,209.00Z" fill="#e1bfca" stroke="#cfa0af" stroke-width="0.4"/>
<path d="M242.50,209.25C242.42,207.88 242.75,206.67 243.15,205.75C243.55,204.83 244.19,204.18 244.90,203.75C245.61,203.32 246.57,203.19 247.40,203.15C248.23,203.11 249.17,203.15 249.90,203.50C250.63,203.85 251.37,204.46 251.80,205.25C252.23,206.04 252.38,207.17 252.50,208.25C252.62,209.33 252.53,210.58 252.50,211.75C252.47,212.92 252.38,214.21 252.30,215.25C252.22,216.29 252.28,217.25 252.00,218.00C251.72,218.75 251.21,219.43 250.65,219.75C250.09,220.07 249.28,220.03 248.65,219.90C248.03,219.78 247.28,219.53 246.90,219.00C246.53,218.47 246.61,217.31 246.40,216.75C246.19,216.19 246.11,216.11 245.65,215.65C245.19,215.19 244.18,215.07 243.65,214.00C243.12,212.93 242.58,210.62 242.50,209.25Z" fill="#e4c5cf" stroke="#d3a7b5" stroke-width="0.4"/>
<path d="M243.56,209.50C243.49,208.40 243.76,207.43 244.08,206.70C244.40,205.97 244.91,205.45 245.48,205.10C246.05,204.75 246.81,204.65 247.48,204.62C248.15,204.59 248.89,204.62 249.48,204.90C250.07,205.18 250.65,205.67 251.00,206.30C251.35,206.93 251.47,207.83 251.56,208.70C251.65,209.57 251.59,210.57 251.56,211.50C251.53,212.43 251.47,213.47 251.40,214.30C251.33,215.13 251.38,215.90 251.16,216.50C250.94,217.10 250.53,217.65 250.08,217.90C249.63,218.15 248.98,218.12 248.48,218.02C247.98,217.92 247.38,217.72 247.08,217.30C246.78,216.88 246.85,215.95 246.68,215.50C246.51,215.05 246.45,214.99 246.08,214.62C245.71,214.25 244.90,214.15 244.48,213.30C244.06,212.45 243.63,210.60 243.56,209.50Z" fill="#e9cfd7" stroke="#d8b0bd" stroke-width="0.4"/>
<path d="M244.62,209.75C244.57,208.93 244.77,208.20 245.01,207.65C245.25,207.10 245.63,206.71 246.06,206.45C246.49,206.19 247.06,206.12 247.56,206.09C248.06,206.06 248.62,206.09 249.06,206.30C249.50,206.51 249.94,206.88 250.20,207.35C250.46,207.82 250.55,208.50 250.62,209.15C250.69,209.80 250.64,210.55 250.62,211.25C250.60,211.95 250.55,212.72 250.50,213.35C250.45,213.97 250.48,214.55 250.32,215.00C250.16,215.45 249.85,215.86 249.51,216.05C249.18,216.24 248.69,216.22 248.31,216.14C247.94,216.06 247.49,215.91 247.26,215.60C247.04,215.28 247.09,214.59 246.96,214.25C246.84,213.91 246.79,213.87 246.51,213.59C246.24,213.31 245.62,213.24 245.31,212.60C245.00,211.96 244.67,210.57 244.62,209.75Z" fill="#f0dee3" stroke="#ddbbc6" stroke-width="0.4"/>
<path d="M245.68,210.00C245.65,209.45 245.78,208.97 245.94,208.60C246.10,208.23 246.36,207.97 246.64,207.80C246.92,207.63 247.31,207.58 247.64,207.56C247.97,207.54 248.35,207.56 248.64,207.70C248.93,207.84 249.23,208.08 249.40,208.40C249.57,208.72 249.63,209.17 249.68,209.60C249.73,210.03 249.69,210.53 249.68,211.00C249.67,211.47 249.63,211.98 249.60,212.40C249.57,212.82 249.59,213.20 249.48,213.50C249.37,213.80 249.16,214.07 248.94,214.20C248.72,214.33 248.39,214.31 248.14,214.26C247.89,214.21 247.59,214.11 247.44,213.90C247.29,213.69 247.32,213.22 247.24,213.00C247.16,212.78 247.12,212.74 246.94,212.56C246.76,212.38 246.35,212.33 246.14,211.90C245.93,211.47 245.71,210.55 245.68,210.00Z" fill="#f8eef1" stroke="#e6ccd4" stroke-width="0.4"/>
<ellipse cx="247.3" cy="210.6" rx="0.9" ry="3" fill="#ffffff" stroke="none" stroke-width="0.4" transform="rotate(0 247.3 210.6)"/>
<ellipse cx="277.8" cy="185.5" rx="5.8" ry="12.5" fill="none" stroke="#c7909f" stroke-width="0.45" transform="rotate(22 277.8 185.5)"/>
<ellipse cx="277.8" cy="185.5" rx="4.64" ry="10.0" fill="none" stroke="#c7909f" stroke-width="0.45" transform="rotate(22 277.8 185.5)"/>
<ellipse cx="277.8" cy="185.5" rx="3.48" ry="7.5" fill="none" stroke="#c7909f" stroke-width="0.45" transform="rotate(22 277.8 185.5)"/>
<ellipse cx="277.8" cy="185.5" rx="2.32" ry="5.0" fill="none" stroke="#c7909f" stroke-width="0.45" transform="rotate(22 277.8 185.5)"/>
<ellipse cx="277.8" cy="185.5" rx="1.16" ry="2.5" fill="none" stroke="#c7909f" stroke-width="0.45" transform="rotate(22 277.8 185.5)"/>
<path d="M262,200 C266,196 271,200 272,206 C273,213 275,217 270,219 C265,220 264,214 262,209 C260,204 259,202 262,200 Z" fill="none" stroke="#c7909f" stroke-width="0.45" />
<path d="M265,205 C268,204 270,208 270.5,212 C271,216 268,217 266.5,214 C265,211 263.5,206 265,205 Z" fill="none" stroke="#c7909f" stroke-width="0.45" />
<path d="M259,213 C263,211 266,215 264,218 C262,221 258,218 259,213 Z" fill="none" stroke="#c7909f" stroke-width="0.45" />
<path d="M260,199 C266,193 274,195 276,205 C278,214 279,222 270,223 C262,224 258,216 258,208 C258,203 258,201 260,199 Z" fill="none" stroke="#d9b3bf" stroke-width="0.45" />
<line x1="259.80" y1="159.20" x2="259.80" y2="231.70" stroke="#555" stroke-width="1.1" />
<line x1="229.20" y1="195.60" x2="300.40" y2="195.60" stroke="#555" stroke-width="1.1" />
<rect x="229.20" y="159.20" width="71.20" height="72.50" fill="none" stroke="#b5b5b5" stroke-width="0.9" />
<path d="M229.20,228.70h-2.2M229.20,224.74h-1.2M229.20,220.78h-1.2M229.20,217.53h-1.2M229.20,214.26h-1.2M229.20,210.40h-2.2M229.20,206.61h-1.2M229.20,202.87h-1.2M229.20,199.42h-1.2M229.20,195.74h-1.2M229.20,192.05h-2.2M229.20,188.39h-1.2M229.20,185.06h-1.2M229.20,181.52h-1.2M229.20,178.00h-1.2M229.20,174.22h-2.2M229.20,170.23h-1.2M229.20,166.27h-1.2M229.20,162.63h-1.2M232.20,231.70v2.2M235.61,231.70v1.2M238.84,231.70v1.2M242.07,231.70v1.2M245.64,231.70v1.2M249.09,231.70v2.2M252.60,231.70v1.2M256.51,231.70v1.2M260.13,231.70v1.2M263.78,231.70v1.2M267.17,231.70v2.2M270.39,231.70v1.2M273.85,231.70v1.2M277.16,231.70v1.2M280.76,231.70v1.2M284.76,231.70v2.2M288.50,231.70v1.2M291.85,231.70v1.2M295.76,231.70v1.2" stroke="#8a8a8a" stroke-width="0.6" fill="none"/>
<rect x="227.00" y="212.77" width="1.6" height="1.6" fill="#222"/>
<rect x="240.52" y="232.00" width="3.2" height="1.4" fill="#222"/>
<text x="158.50" y="168.90" font-size="9.2" text-anchor="start" font-weight="normal" fill="#111" stroke="#111" stroke-width="0.15" >0.2</text>
<text x="221.50" y="168.90" font-size="9.2" text-anchor="end" font-weight="normal" fill="#111" stroke="#111" stroke-width="0.15" >28</text>
<text x="158.50" y="228.40" font-size="9.2" text-anchor="start" font-weight="normal" fill="#111" stroke="#111" stroke-width="0.15" >25</text>
<text x="221.50" y="228.40" font-size="9.2" text-anchor="end" font-weight="normal" fill="#111" stroke="#111" stroke-width="0.15" >47</text>
<text x="231.50" y="168.90" font-size="9.2" text-anchor="start" font-weight="normal" fill="#111" stroke="#111" stroke-width="0.15" >0.3</text>
<text x="296.00" y="168.90" font-size="9.2" text-anchor="end" font-weight="normal" fill="#111" stroke="#111" stroke-width="0.15" >11</text>
<text x="231.50" y="228.40" font-size="9.2" text-anchor="start" font-weight="normal" fill="#111" stroke="#111" stroke-width="0.15" >76</text>
<text x="296.00" y="228.40" font-size="9.2" text-anchor="end" font-weight="normal" fill="#111" stroke="#111" stroke-width="0.15" >12</text>
<text x="150.10" y="234.60" font-size="10.3" text-anchor="start" font-weight="normal" fill="#111" stroke="#111" stroke-width="0.15" transform="rotate(-90 150.10 234.60)" textLength="20.8" lengthAdjust="spacingAndGlyphs" >TIM-3</text>
<path d="M146.3,209.8 L146.3,201.79999999999998" fill="none" stroke="#111" stroke-width="1.2" />
<path d="M143.9,202.29999999999998 L146.3,197.7 L148.70000000000002,202.29999999999998 Z" fill="#111" stroke="none" stroke-width="1" />
<text x="155.90" y="245.00" font-size="10.3" text-anchor="start" font-weight="normal" fill="#111" stroke="#111" stroke-width="0.15" textLength="16.7" lengthAdjust="spacingAndGlyphs" >PD-1</text>
<path d="M179,241.5 L188.1,241.5" fill="none" stroke="#111" stroke-width="1.2" />
<path d="M187.6,239.1 L192.2,241.5 L187.6,243.9 Z" fill="#111" stroke="none" stroke-width="1" />
<path d="M169.5,280.8 L169.50,257.80 A23,23 0 0 1 192.45,279.36 Z" fill="#a1a4b2" stroke="#111" stroke-width="0.9" />
<path d="M169.5,280.8 L192.45,279.36 A23,23 0 0 1 155.98,299.41 Z" fill="#6f778c" stroke="#111" stroke-width="0.9" />
<path d="M169.5,280.8 L155.98,299.41 A23,23 0 0 1 169.50,257.80 Z" fill="#4d556b" stroke="#111" stroke-width="0.9" />
<circle cx="169.5" cy="280.8" r="23" fill="none" stroke="#111" stroke-width="1.1"/>
<text x="181.50" y="275.80" font-size="9.2" text-anchor="middle" font-weight="normal" fill="#fff" stroke="#fff" stroke-width="0.15" textLength="16.3" lengthAdjust="spacingAndGlyphs" >24%</text>
<text x="176.50" y="294.50" font-size="9.2" text-anchor="middle" font-weight="normal" fill="#fff" stroke="#fff" stroke-width="0.15" textLength="16" lengthAdjust="spacingAndGlyphs" >36%</text>
<text x="156.30" y="280.60" font-size="9.2" text-anchor="middle" font-weight="normal" fill="#fff" stroke="#fff" stroke-width="0.15" textLength="16.8" lengthAdjust="spacingAndGlyphs" >40%</text>
<path d="M269,280.5 L269.00,257.50 A23,23 0 0 1 283.66,262.78 Z" fill="#dcb9b9" stroke="#111" stroke-width="0.9" />
<path d="M269,280.5 L283.66,262.78 A23,23 0 0 1 289.81,290.29 Z" fill="#bb7478" stroke="#111" stroke-width="0.9" />
<path d="M269,280.5 L289.81,290.29 A23,23 0 1 1 269.00,257.50 Z" fill="#931639" stroke="#111" stroke-width="0.9" />
<circle cx="269" cy="280.5" r="23" fill="none" stroke="#111" stroke-width="1.1"/>
<text x="284.30" y="258.50" font-size="9.2" text-anchor="middle" font-weight="normal" fill="#111" stroke="#111" stroke-width="0.15" textLength="15" lengthAdjust="spacingAndGlyphs" >11%</text>
<text x="283.00" y="282.00" font-size="9.2" text-anchor="middle" font-weight="normal" fill="#fff" stroke="#fff" stroke-width="0.15" textLength="16" lengthAdjust="spacingAndGlyphs" >21%</text>
<text x="259.50" y="285.80" font-size="9.2" text-anchor="middle" font-weight="normal" fill="#fff" stroke="#fff" stroke-width="0.15" textLength="16" lengthAdjust="spacingAndGlyphs" >67%</text>
<line x1="127.80" y1="311.40" x2="138.50" y2="311.40" stroke="#9da1af" stroke-width="2.6" />
<text x="142.70" y="314.50" font-size="8.6" text-anchor="start" font-weight="normal" fill="#222" stroke="#222" stroke-width="0.08" textLength="66" lengthAdjust="spacingAndGlyphs" >PD-1<tspan font-size="5.5" dy="-3">+</tspan><tspan dy="3"> TIM-3</tspan><tspan font-size="5.5" dy="-3">−−</tspan><tspan dy="3"> (1)</tspan></text>
<line x1="228.50" y1="312.00" x2="238.80" y2="312.00" stroke="#dcb3b3" stroke-width="2.6" />
<text x="242.70" y="315.00" font-size="8.6" text-anchor="start" font-weight="normal" fill="#222" stroke="#222" stroke-width="0.08" textLength="66" lengthAdjust="spacingAndGlyphs" >PD-1<tspan font-size="5.5" dy="-3">+</tspan><tspan dy="3"> TIM-3</tspan><tspan font-size="5.5" dy="-3">−−</tspan><tspan dy="3"> (1)</tspan></text>
<line x1="127.80" y1="320.90" x2="138.50" y2="320.90" stroke="#6f768b" stroke-width="2.6" />
<text x="142.70" y="324.00" font-size="8.6" text-anchor="start" font-weight="normal" fill="#222" stroke="#222" stroke-width="0.08" textLength="63" lengthAdjust="spacingAndGlyphs" >PD-1<tspan font-size="5.5" dy="-3">+</tspan><tspan dy="3">TIM-3 </tspan><tspan font-size="5.5" dy="-3">+</tspan><tspan dy="3"> (2)</tspan></text>
<line x1="228.50" y1="321.50" x2="238.80" y2="321.50" stroke="#bf6e76" stroke-width="2.6" />
<text x="242.70" y="324.50" font-size="8.6" text-anchor="start" font-weight="normal" fill="#222" stroke="#222" stroke-width="0.08" textLength="63" lengthAdjust="spacingAndGlyphs" >PD-1<tspan font-size="5.5" dy="-3">+</tspan><tspan dy="3">TIM-3 </tspan><tspan font-size="5.5" dy="-3">+</tspan><tspan dy="3"> (2)</tspan></text>
<line x1="127.80" y1="330.30" x2="138.50" y2="330.30" stroke="#4b5268" stroke-width="2.6" />
<text x="142.70" y="333.40" font-size="8.6" text-anchor="start" font-weight="normal" fill="#222" stroke="#222" stroke-width="0.08" textLength="65.4" lengthAdjust="spacingAndGlyphs" >PD-1<tspan font-size="5.5" dy="-3">−−</tspan><tspan dy="3">TIM-3</tspan><tspan font-size="5.5" dy="-3">−−</tspan><tspan dy="3"> (0)</tspan></text>
<line x1="228.50" y1="330.90" x2="238.80" y2="330.90" stroke="#9a1535" stroke-width="2.6" />
<text x="242.70" y="333.90" font-size="8.6" text-anchor="start" font-weight="normal" fill="#222" stroke="#222" stroke-width="0.08" textLength="65.4" lengthAdjust="spacingAndGlyphs" >PD-1<tspan font-size="5.5" dy="-3">−−</tspan><tspan dy="3">TIM-3</tspan><tspan font-size="5.5" dy="-3">−−</tspan><tspan dy="3"> (0)</tspan></text>
<text x="0" y="0" transform="translate(318.80 147.00) scale(1.005 1)" font-size="20" font-weight="bold" fill="#000" stroke="#000" stroke-width="0.3">F</text>
<line x1="353.40" y1="203.40" x2="425.70" y2="203.40" stroke="#6e7890" stroke-width="1.1" />
<path d="M369.00,203.40 L369.50,202.99 L370.00,203.03 L370.50,202.98 L371.00,202.93 L371.50,202.80 L372.00,202.77 L372.50,202.63 L373.00,202.55 L373.50,202.44 L374.00,202.25 L374.50,202.20 L375.00,202.13 L375.53,202.07 L376.05,201.91 L376.58,201.75 L377.11,201.57 L377.64,201.07 L378.16,201.02 L378.69,200.59 L379.22,200.31 L379.75,200.35 L380.27,200.04 L380.80,199.91 L381.32,199.86 L381.85,199.63 L382.38,198.83 L382.90,198.74 L383.43,197.71 L383.95,197.59 L384.48,197.30 L385.00,196.76 L385.50,196.88 L386.00,196.00 L386.50,195.19 L387.00,193.90 L387.50,193.01 L388.00,192.40 L388.50,192.53 L389.00,191.31 L389.50,189.50 L390.00,186.86 L390.50,184.15 L391.00,181.76 L391.50,180.93 L392.00,179.56 L392.50,176.21 L393.00,171.73 L393.50,168.58 L394.00,167.15 L394.58,166.50 L395.16,164.48 L395.74,163.01 L396.32,160.97 L396.90,160.42 L397.43,160.94 L397.97,161.82 L398.50,161.92 L399.07,165.02 L399.65,171.02 L400.23,177.09 L400.80,179.91 L401.35,182.12 L401.90,187.09 L402.45,192.14 L403.00,194.69 L403.50,195.77 L404.00,197.38 L404.50,199.35 L405.00,200.74 L405.50,200.90 L406.00,201.72 L406.50,202.57 L407.00,203.01 L407.51,203.02 L408.01,203.00 L408.52,203.00 L409.02,202.98 L409.53,203.05 L410.03,203.00 L410.54,203.04 L411.04,203.07 L411.55,203.04 L412.05,203.40 L412.05,203.40 L369.00,203.40 Z" fill="#9196a7" stroke="none" stroke-width="1" fill-opacity="1"/>
<path d="M369.00,203.40 L369.50,202.99 L370.00,203.03 L370.50,202.98 L371.00,202.93 L371.50,202.80 L372.00,202.77 L372.50,202.63 L373.00,202.55 L373.50,202.44 L374.00,202.25 L374.50,202.20 L375.00,202.13 L375.53,202.07 L376.05,201.91 L376.58,201.75 L377.11,201.57 L377.64,201.07 L378.16,201.02 L378.69,200.59 L379.22,200.31 L379.75,200.35 L380.27,200.04 L380.80,199.91 L381.32,199.86 L381.85,199.63 L382.38,198.83 L382.90,198.74 L383.43,197.71 L383.95,197.59 L384.48,197.30 L385.00,196.76 L385.50,196.88 L386.00,196.00 L386.50,195.19 L387.00,193.90 L387.50,193.01 L388.00,192.40 L388.50,192.53 L389.00,191.31 L389.50,189.50 L390.00,186.86 L390.50,184.15 L391.00,181.76 L391.50,180.93 L392.00,179.56 L392.50,176.21 L393.00,171.73 L393.50,168.58 L394.00,167.15 L394.58,166.50 L395.16,164.48 L395.74,163.01 L396.32,160.97 L396.90,160.42 L397.43,160.94 L397.97,161.82 L398.50,161.92 L399.07,165.02 L399.65,171.02 L400.23,177.09 L400.80,179.91 L401.35,182.12 L401.90,187.09 L402.45,192.14 L403.00,194.69 L403.50,195.77 L404.00,197.38 L404.50,199.35 L405.00,200.74 L405.50,200.90 L406.00,201.72 L406.50,202.57 L407.00,203.01 L407.51,203.02 L408.01,203.00 L408.52,203.00 L409.02,202.98 L409.53,203.05 L410.03,203.00 L410.54,203.04 L411.04,203.07 L411.55,203.04 L412.05,203.40" fill="none" stroke="#566078" stroke-width="1.0" stroke-linejoin="round"/>
<path d="M367.00,226.20 L367.50,225.67 L368.00,225.50 L368.50,225.54 L369.00,225.29 L369.50,225.21 L370.00,224.52 L370.50,223.55 L371.00,223.35 L371.50,222.37 L372.00,222.52 L372.50,222.13 L373.00,221.52 L373.50,221.51 L374.00,221.14 L374.50,220.66 L375.00,220.17 L375.50,218.34 L376.00,218.13 L376.50,217.99 L377.00,217.47 L377.50,217.61 L378.00,216.47 L378.50,216.67 L379.00,215.38 L379.50,214.03 L380.00,213.93 L380.50,212.98 L381.00,212.64 L381.55,212.65 L382.10,211.38 L382.65,210.25 L383.20,209.64 L383.75,208.04 L384.30,206.00 L384.85,206.06 L385.40,204.82 L385.92,204.64 L386.44,203.98 L386.96,202.05 L387.48,200.33 L388.00,199.85 L388.56,198.98 L389.12,196.56 L389.68,195.09 L390.24,191.85 L390.80,191.41 L391.37,191.54 L391.93,190.64 L392.50,191.08 L393.00,190.71 L393.50,192.56 L394.00,192.97 L394.70,191.85 L395.40,191.27 L395.93,192.08 L396.47,195.05 L397.00,196.36 L397.55,198.21 L398.10,202.97 L398.65,208.06 L399.20,209.89 L399.77,210.91 L400.35,214.80 L400.93,217.31 L401.50,218.99 L402.07,220.40 L402.65,222.01 L403.23,224.46 L403.80,225.74 L404.40,226.20 L404.40,226.20 L367.00,226.20 Z" fill="#d3a6aa" stroke="none" stroke-width="1" fill-opacity="1"/>
<path d="M367.00,226.20 L367.50,225.67 L368.00,225.50 L368.50,225.54 L369.00,225.29 L369.50,225.21 L370.00,224.52 L370.50,223.55 L371.00,223.35 L371.50,222.37 L372.00,222.52 L372.50,222.13 L373.00,221.52 L373.50,221.51 L374.00,221.14 L374.50,220.66 L375.00,220.17 L375.50,218.34 L376.00,218.13 L376.50,217.99 L377.00,217.47 L377.50,217.61 L378.00,216.47 L378.50,216.67 L379.00,215.38 L379.50,214.03 L380.00,213.93 L380.50,212.98 L381.00,212.64 L381.55,212.65 L382.10,211.38 L382.65,210.25 L383.20,209.64 L383.75,208.04 L384.30,206.00 L384.85,206.06 L385.40,204.82 L385.92,204.64 L386.44,203.98 L386.96,202.05 L387.48,200.33 L388.00,199.85 L388.56,198.98 L389.12,196.56 L389.68,195.09 L390.24,191.85 L390.80,191.41 L391.37,191.54 L391.93,190.64 L392.50,191.08 L393.00,190.71 L393.50,192.56 L394.00,192.97 L394.70,191.85 L395.40,191.27 L395.93,192.08 L396.47,195.05 L397.00,196.36 L397.55,198.21 L398.10,202.97 L398.65,208.06 L399.20,209.89 L399.77,210.91 L400.35,214.80 L400.93,217.31 L401.50,218.99 L402.07,220.40 L402.65,222.01 L403.23,224.46 L403.80,225.74 L404.40,226.20" fill="none" stroke="#a5173e" stroke-width="1.1" stroke-linejoin="round"/>
<rect x="353.40" y="155.40" width="72.30" height="70.80" fill="none" stroke="#111" stroke-width="1.1" />
<path d="M358.40,226.20v3.0M362.92,226.20v2.0M365.56,226.20v2.0M367.43,226.20v2.0M368.88,226.20v2.0M370.07,226.20v2.0M371.08,226.20v2.0M371.95,226.20v2.0M372.71,226.20v2.0M373.40,226.20v3.0M378.82,226.20v2.0M381.99,226.20v2.0M384.24,226.20v2.0M385.98,226.20v2.0M387.41,226.20v2.0M388.61,226.20v2.0M389.66,226.20v2.0M390.58,226.20v2.0M391.40,226.20v3.0M396.82,226.20v2.0M399.99,226.20v2.0M402.24,226.20v2.0M403.98,226.20v2.0M405.41,226.20v2.0M406.61,226.20v2.0M407.66,226.20v2.0M408.58,226.20v2.0M409.40,226.20v3.0M414.91,226.20v2.0M418.13,226.20v2.0M420.42,226.20v2.0M422.19,226.20v2.0M423.64,226.20v2.0M424.87,226.20v2.0" stroke="#444" stroke-width="0.7" fill="none"/>
<text x="337.10" y="200.90" font-size="8.6" text-anchor="middle" font-weight="normal" fill="#111" stroke="#111" stroke-width="0.15" >clg</text>
<text x="349.50" y="220.60" font-size="8.6" text-anchor="end" font-weight="normal" fill="#111" stroke="#111" stroke-width="0.15" textLength="28.3" lengthAdjust="spacingAndGlyphs" >αTIGIT</text>
<text x="389.50" y="242.50" font-size="8.6" text-anchor="middle" font-weight="normal" fill="#111" stroke="#111" stroke-width="0.15" >Eomes</text>
<rect x="378.00" y="288.00" width="13.00" height="36.25" fill="#fff" stroke="#111" stroke-width="1.1" />
<rect x="398.20" y="304.20" width="12.80" height="20.05" fill="#fff" stroke="#111" stroke-width="1.1" />
<circle cx="384.50" cy="276.89" r="1.7" fill="#37425e" />
<circle cx="381.67" cy="278.90" r="1.7" fill="#37425e" />
<circle cx="387.33" cy="278.90" r="1.7" fill="#37425e" />
<circle cx="382.08" cy="283.35" r="1.7" fill="#37425e" />
<circle cx="386.52" cy="282.54" r="1.7" fill="#37425e" />
<circle cx="384.10" cy="292.64" r="1.7" fill="#37425e" />
<circle cx="379.82" cy="296.43" r="1.7" fill="#37425e" />
<circle cx="384.10" cy="298.86" r="1.7" fill="#37425e" />
<circle cx="388.54" cy="298.29" r="1.7" fill="#37425e" />
<circle cx="404.29" cy="292.64" r="1.7" fill="#990f37" />
<circle cx="399.85" cy="302.73" r="1.7" fill="#990f37" />
<circle cx="402.27" cy="300.71" r="1.7" fill="#990f37" />
<circle cx="404.29" cy="299.91" r="1.7" fill="#990f37" />
<circle cx="406.31" cy="300.71" r="1.7" fill="#990f37" />
<circle cx="408.73" cy="302.73" r="1.7" fill="#990f37" />
<circle cx="402.27" cy="304.75" r="1.7" fill="#990f37" />
<circle cx="404.29" cy="305.96" r="1.7" fill="#990f37" />
<circle cx="406.31" cy="304.75" r="1.7" fill="#990f37" />
<circle cx="401.46" cy="312.02" r="1.7" fill="#990f37" />
<circle cx="407.12" cy="311.21" r="1.7" fill="#990f37" />
<line x1="384.50" y1="283.80" x2="384.50" y2="290.50" stroke="#111" stroke-width="1.1" />
<line x1="381.30" y1="283.80" x2="387.70" y2="283.80" stroke="#111" stroke-width="1.1" />
<line x1="381.30" y1="290.50" x2="387.70" y2="290.50" stroke="#111" stroke-width="1.1" />
<line x1="404.60" y1="302.00" x2="404.60" y2="306.40" stroke="#111" stroke-width="1.1" />
<line x1="402.20" y1="302.00" x2="407.00" y2="302.00" stroke="#111" stroke-width="1.1" />
<line x1="372.00" y1="262.50" x2="372.00" y2="324.70" stroke="#111" stroke-width="1.1" />
<line x1="371.50" y1="324.25" x2="418.25" y2="324.25" stroke="#111" stroke-width="1.1" />
<line x1="369.00" y1="265.00" x2="372.00" y2="265.00" stroke="#111" stroke-width="1" />
<text x="364.50" y="268.10" font-size="8.6" text-anchor="end" font-weight="normal" fill="#111" stroke="#111" stroke-width="0.15" >3000</text>
<line x1="369.00" y1="294.62" x2="372.00" y2="294.62" stroke="#111" stroke-width="1" />
<text x="364.50" y="297.73" font-size="8.6" text-anchor="end" font-weight="normal" fill="#111" stroke="#111" stroke-width="0.15" >1500</text>
<line x1="369.00" y1="324.25" x2="372.00" y2="324.25" stroke="#111" stroke-width="1" />
<text x="364.50" y="327.35" font-size="8.6" text-anchor="end" font-weight="normal" fill="#111" stroke="#111" stroke-width="0.15" >0</text>
<text x="337.80" y="293.00" font-size="9.6" text-anchor="middle" font-weight="normal" fill="#111" stroke="#111" stroke-width="0.15" transform="rotate(-90 337.80 293.00)" textLength="48" lengthAdjust="spacingAndGlyphs" >Eomes GMFI</text>
<line x1="386.25" y1="263.75" x2="402.00" y2="263.75" stroke="#111" stroke-width="1" />
<text x="394.20" y="264.52" font-size="10.5" text-anchor="middle" font-weight="normal" fill="#111" stroke="#111" stroke-width="0.15" >***</text>
<text x="0" y="0" transform="translate(5.87 362.70) scale(0.948 1)" font-size="20" font-weight="bold" fill="#000" stroke="#000" stroke-width="0.3">G</text>
<text x="79.50" y="370.70" font-size="10" text-anchor="middle" font-weight="normal" fill="#111" stroke="#111" stroke-width="0.15" textLength="47" lengthAdjust="spacingAndGlyphs" >BM CD8<tspan font-size="7" dy="-3.8">+</tspan></text>
<text x="153.20" y="370.70" font-size="10" text-anchor="middle" font-weight="normal" fill="#111" stroke="#111" stroke-width="0.15" textLength="47" lengthAdjust="spacingAndGlyphs" >BM CD4<tspan font-size="7" dy="-3.8">+</tspan></text>
<path d="M42.30,410.84 L42.80,410.76 L43.30,410.65 L43.80,410.53 L44.30,410.53 L44.80,410.45 L45.30,410.34 L45.80,410.15 L46.30,410.18 L46.80,409.95 L47.30,409.86 L47.80,409.89 L48.30,409.68 L48.80,409.60 L49.30,409.51 L49.80,409.22 L50.30,409.40 L50.80,409.33 L51.30,408.88 L51.80,408.97 L52.30,408.93 L52.80,408.76 L53.30,408.62 L53.80,408.21 L54.30,408.41 L54.80,408.26 L55.30,407.89 L55.80,407.72 L56.30,407.27 L56.80,407.11 L57.30,407.15 L57.80,406.97 L58.30,406.29 L58.80,405.88 L59.30,406.12 L59.80,405.33 L60.30,404.85 L60.80,404.56 L61.30,404.37 L61.80,403.52 L62.30,402.99 L62.80,402.65 L63.30,401.59 L63.80,400.86 L64.30,399.74 L64.80,398.04 L65.30,396.19 L65.80,393.97 L66.30,391.35 L66.80,388.57 L67.30,385.80 L67.80,383.27 L68.30,381.14 L68.80,379.75 L69.30,379.32 L69.80,379.54 L70.30,380.28 L70.80,382.08 L71.30,384.32 L71.80,387.35 L72.30,390.10 L72.80,392.41 L73.30,395.13 L73.80,397.31 L74.30,399.57 L74.80,400.97 L75.30,401.97 L75.80,403.21 L76.30,403.93 L76.80,405.20 L77.30,405.76 L77.80,406.21 L78.30,407.03 L78.80,407.39 L79.30,408.05 L79.80,408.74 L80.30,409.16 L80.80,409.26 L81.30,409.86 L81.80,410.14 L82.30,410.37 L82.80,410.54 L83.30,410.72 L83.80,410.92 L84.30,411.05 L84.80,411.15 L85.30,411.23 L85.80,411.30 L86.30,411.35 L86.80,411.39 L87.30,411.42 L87.80,411.44 L88.30,411.45 L88.80,411.47 L89.30,411.48 L89.80,411.48 L90.30,411.49 L90.80,411.49 L91.30,411.49 L91.80,411.50 L92.30,411.50 L92.80,411.50 L93.30,411.50 L93.80,411.50 L94.30,411.50 L94.80,411.50 L95.30,411.50 L95.80,411.50 L96.30,411.50 L96.80,411.50 L97.30,411.50 L97.80,411.50 L98.30,411.50 L98.80,411.50 L99.30,411.50 L99.80,411.50 L100.30,411.50 L100.80,411.50 L101.30,411.50 L101.80,411.50 L102.30,411.50 L102.80,411.50 L103.30,411.50 L103.80,411.50 L104.30,411.50 L104.80,411.50 L105.30,411.50 L105.80,411.50 L106.30,411.50 L106.80,411.50 L107.30,411.50 L107.80,411.50 L108.30,411.50 L108.80,411.50 L109.30,411.50 L109.80,411.50 L110.30,411.50 L110.80,411.50 L111.30,411.50 L111.80,411.50 L112.30,411.50" fill="none" stroke="#111" stroke-width="1.2" />
<line x1="42.30" y1="429.20" x2="112.60" y2="429.20" stroke="#6e7890" stroke-width="1.1" />
<path d="M53.30,429.20 L53.80,428.76 L54.30,428.64 L54.80,428.59 L55.30,428.40 L55.80,428.18 L56.30,427.68 L56.80,427.60 L57.30,427.16 L57.80,427.30 L58.30,426.64 L58.80,425.94 L59.30,425.90 L59.80,424.98 L60.30,424.64 L60.80,424.98 L61.30,425.13 L61.80,423.70 L62.30,424.21 L62.80,423.99 L63.30,422.56 L63.80,421.94 L64.30,421.40 L64.80,420.58 L65.30,420.83 L65.80,420.00 L66.30,418.74 L66.80,416.09 L67.30,415.62 L67.80,413.65 L68.30,411.78 L68.80,409.59 L69.30,407.50 L69.80,405.10 L70.30,403.71 L70.80,402.25 L71.30,400.63 L71.80,401.50 L72.30,400.95 L72.80,401.91 L73.30,403.42 L73.80,404.99 L74.30,406.46 L74.80,408.52 L75.30,410.78 L75.80,412.26 L76.30,413.82 L76.80,414.85 L77.30,415.06 L77.80,416.69 L78.30,417.87 L78.80,417.84 L79.30,417.79 L79.80,418.63 L80.30,418.52 L80.80,419.57 L81.30,419.76 L81.80,419.02 L82.30,419.96 L82.80,419.66 L83.30,419.58 L83.80,419.88 L84.30,420.13 L84.80,420.21 L85.30,418.93 L85.80,419.37 L86.30,419.10 L86.80,419.86 L87.30,419.37 L87.80,419.69 L88.30,420.27 L88.80,420.66 L89.30,420.99 L89.80,421.72 L90.30,421.88 L90.80,421.79 L91.30,422.94 L91.80,422.45 L92.30,423.36 L92.80,423.68 L93.30,423.81 L93.80,424.49 L94.30,425.63 L94.80,425.86 L95.30,426.50 L95.80,426.77 L96.30,426.23 L96.80,426.88 L97.30,426.93 L97.80,427.35 L98.30,427.85 L98.80,427.77 L99.30,428.01 L99.80,428.34 L100.30,428.58 L100.80,428.63 L101.30,428.70 L101.80,428.79 L102.30,429.20 L102.30,429.20 L53.30,429.20 Z" fill="#9196a7" stroke="none" stroke-width="1" fill-opacity="0.95"/>
<path d="M53.30,429.20 L53.80,428.76 L54.30,428.64 L54.80,428.59 L55.30,428.40 L55.80,428.18 L56.30,427.68 L56.80,427.60 L57.30,427.16 L57.80,427.30 L58.30,426.64 L58.80,425.94 L59.30,425.90 L59.80,424.98 L60.30,424.64 L60.80,424.98 L61.30,425.13 L61.80,423.70 L62.30,424.21 L62.80,423.99 L63.30,422.56 L63.80,421.94 L64.30,421.40 L64.80,420.58 L65.30,420.83 L65.80,420.00 L66.30,418.74 L66.80,416.09 L67.30,415.62 L67.80,413.65 L68.30,411.78 L68.80,409.59 L69.30,407.50 L69.80,405.10 L70.30,403.71 L70.80,402.25 L71.30,400.63 L71.80,401.50 L72.30,400.95 L72.80,401.91 L73.30,403.42 L73.80,404.99 L74.30,406.46 L74.80,408.52 L75.30,410.78 L75.80,412.26 L76.30,413.82 L76.80,414.85 L77.30,415.06 L77.80,416.69 L78.30,417.87 L78.80,417.84 L79.30,417.79 L79.80,418.63 L80.30,418.52 L80.80,419.57 L81.30,419.76 L81.80,419.02 L82.30,419.96 L82.80,419.66 L83.30,419.58 L83.80,419.88 L84.30,420.13 L84.80,420.21 L85.30,418.93 L85.80,419.37 L86.30,419.10 L86.80,419.86 L87.30,419.37 L87.80,419.69 L88.30,420.27 L88.80,420.66 L89.30,420.99 L89.80,421.72 L90.30,421.88 L90.80,421.79 L91.30,422.94 L91.80,422.45 L92.30,423.36 L92.80,423.68 L93.30,423.81 L93.80,424.49 L94.30,425.63 L94.80,425.86 L95.30,426.50 L95.80,426.77 L96.30,426.23 L96.80,426.88 L97.30,426.93 L97.80,427.35 L98.30,427.85 L98.80,427.77 L99.30,428.01 L99.80,428.34 L100.30,428.58 L100.80,428.63 L101.30,428.70 L101.80,428.79 L102.30,429.20" fill="none" stroke="#566078" stroke-width="1.0" stroke-linejoin="round"/>
<path d="M51.50,446.60 L52.00,446.21 L52.50,446.21 L53.00,446.18 L53.50,446.07 L54.00,446.11 L54.50,446.10 L55.00,446.01 L55.50,445.97 L56.00,445.63 L56.50,445.34 L57.00,445.47 L57.50,444.96 L58.00,444.85 L58.50,445.08 L59.00,444.66 L59.50,443.67 L60.00,443.34 L60.50,442.89 L61.00,442.77 L61.50,442.14 L62.00,441.73 L62.50,440.30 L63.00,439.19 L63.50,438.06 L64.00,437.61 L64.50,436.94 L65.00,436.30 L65.50,434.25 L66.00,432.13 L66.50,430.22 L67.00,429.65 L67.50,429.10 L68.00,428.00 L68.50,426.06 L69.00,424.59 L69.50,423.22 L70.00,422.69 L70.56,422.79 L71.12,421.73 L71.68,420.71 L72.24,419.72 L72.80,419.54 L73.37,420.17 L73.93,420.42 L74.50,420.57 L75.00,421.76 L75.50,423.10 L76.00,424.28 L76.50,423.09 L77.00,422.89 L77.50,421.51 L78.00,422.67 L78.50,423.94 L79.00,425.19 L79.50,426.39 L80.00,426.41 L80.50,426.37 L81.00,427.29 L81.50,427.90 L82.00,427.53 L82.50,427.90 L83.00,429.10 L83.50,429.92 L84.00,429.96 L84.50,428.17 L85.00,426.51 L85.50,426.65 L86.00,428.13 L86.50,429.07 L87.00,428.98 L87.50,428.67 L88.00,429.42 L88.50,430.30 L89.00,430.31 L89.50,430.46 L90.00,430.69 L90.54,431.32 L91.09,431.52 L91.63,431.57 L92.17,432.34 L92.71,432.86 L93.26,433.36 L93.80,433.33 L94.35,433.72 L94.90,435.81 L95.45,437.64 L96.00,438.37 L96.50,438.69 L97.00,439.64 L97.50,441.01 L98.00,442.79 L98.50,443.68 L99.00,444.19 L99.50,444.06 L100.00,444.69 L100.50,445.61 L101.00,446.60 L101.00,446.60 L51.50,446.60 Z" fill="#d3a6aa" stroke="none" stroke-width="1" fill-opacity="0.95"/>
<path d="M51.50,446.60 L52.00,446.21 L52.50,446.21 L53.00,446.18 L53.50,446.07 L54.00,446.11 L54.50,446.10 L55.00,446.01 L55.50,445.97 L56.00,445.63 L56.50,445.34 L57.00,445.47 L57.50,444.96 L58.00,444.85 L58.50,445.08 L59.00,444.66 L59.50,443.67 L60.00,443.34 L60.50,442.89 L61.00,442.77 L61.50,442.14 L62.00,441.73 L62.50,440.30 L63.00,439.19 L63.50,438.06 L64.00,437.61 L64.50,436.94 L65.00,436.30 L65.50,434.25 L66.00,432.13 L66.50,430.22 L67.00,429.65 L67.50,429.10 L68.00,428.00 L68.50,426.06 L69.00,424.59 L69.50,423.22 L70.00,422.69 L70.56,422.79 L71.12,421.73 L71.68,420.71 L72.24,419.72 L72.80,419.54 L73.37,420.17 L73.93,420.42 L74.50,420.57 L75.00,421.76 L75.50,423.10 L76.00,424.28 L76.50,423.09 L77.00,422.89 L77.50,421.51 L78.00,422.67 L78.50,423.94 L79.00,425.19 L79.50,426.39 L80.00,426.41 L80.50,426.37 L81.00,427.29 L81.50,427.90 L82.00,427.53 L82.50,427.90 L83.00,429.10 L83.50,429.92 L84.00,429.96 L84.50,428.17 L85.00,426.51 L85.50,426.65 L86.00,428.13 L86.50,429.07 L87.00,428.98 L87.50,428.67 L88.00,429.42 L88.50,430.30 L89.00,430.31 L89.50,430.46 L90.00,430.69 L90.54,431.32 L91.09,431.52 L91.63,431.57 L92.17,432.34 L92.71,432.86 L93.26,433.36 L93.80,433.33 L94.35,433.72 L94.90,435.81 L95.45,437.64 L96.00,438.37 L96.50,438.69 L97.00,439.64 L97.50,441.01 L98.00,442.79 L98.50,443.68 L99.00,444.19 L99.50,444.06 L100.00,444.69 L100.50,445.61 L101.00,446.60" fill="none" stroke="#a5173e" stroke-width="1.1" stroke-linejoin="round"/>
<line x1="80.50" y1="375.60" x2="80.50" y2="446.60" stroke="#222" stroke-width="0.8" stroke-dasharray="1,1.3"/>
<rect x="42.30" y="375.40" width="70.30" height="71.20" fill="none" stroke="#111" stroke-width="1.1" />
<path d="M46.30,446.60v3.0M50.82,446.60v2.0M53.46,446.60v2.0M55.33,446.60v2.0M56.78,446.60v2.0M57.97,446.60v2.0M58.98,446.60v2.0M59.85,446.60v2.0M60.61,446.60v2.0M61.30,446.60v3.0M66.72,446.60v2.0M69.89,446.60v2.0M72.14,446.60v2.0M73.88,446.60v2.0M75.31,446.60v2.0M76.51,446.60v2.0M77.56,446.60v2.0M78.48,446.60v2.0M79.30,446.60v3.0M84.72,446.60v2.0M87.89,446.60v2.0M90.14,446.60v2.0M91.88,446.60v2.0M93.31,446.60v2.0M94.51,446.60v2.0M95.56,446.60v2.0M96.48,446.60v2.0M97.30,446.60v3.0M102.51,446.60v2.0M105.55,446.60v2.0M107.72,446.60v2.0M109.39,446.60v2.0M110.76,446.60v2.0M111.92,446.60v2.0" stroke="#444" stroke-width="0.7" fill="none"/>
<text x="110.00" y="404.20" font-size="9.1" text-anchor="end" font-weight="normal" fill="#111" stroke="#111" stroke-width="0.15" >0.9</text>
<text x="110.00" y="421.50" font-size="9.1" text-anchor="end" font-weight="normal" fill="#111" stroke="#111" stroke-width="0.15" >29</text>
<text x="110.00" y="438.60" font-size="9.1" text-anchor="end" font-weight="normal" fill="#111" stroke="#111" stroke-width="0.15" >45</text>
<path d="M115.40,411.21 L115.90,411.19 L116.40,411.16 L116.90,411.12 L117.40,411.07 L117.90,411.02 L118.40,410.96 L118.90,410.88 L119.40,410.80 L119.90,410.70 L120.40,410.58 L120.90,410.42 L121.40,410.27 L121.90,410.11 L122.40,410.04 L122.90,409.74 L123.40,409.67 L123.90,409.50 L124.40,409.36 L124.90,409.01 L125.40,408.92 L125.90,408.64 L126.40,408.25 L126.90,407.90 L127.40,407.64 L127.90,407.73 L128.40,407.47 L128.90,407.05 L129.40,406.56 L129.90,406.07 L130.40,405.75 L130.90,405.31 L131.40,405.14 L131.90,404.71 L132.40,404.48 L132.90,403.99 L133.40,403.52 L133.90,402.71 L134.40,401.94 L134.90,401.10 L135.40,400.17 L135.90,398.91 L136.40,397.53 L136.90,395.48 L137.40,393.68 L137.90,391.47 L138.40,389.24 L138.90,387.40 L139.40,385.52 L139.90,383.77 L140.40,382.24 L140.90,381.75 L141.40,382.08 L141.90,382.65 L142.40,384.33 L142.90,385.97 L143.40,388.79 L143.90,390.98 L144.40,393.50 L144.90,396.42 L145.40,398.81 L145.90,401.17 L146.40,402.95 L146.90,404.55 L147.40,405.80 L147.90,406.99 L148.40,407.68 L148.90,408.42 L149.40,408.76 L149.90,409.23 L150.40,409.62 L150.90,409.75 L151.40,410.12 L151.90,410.29 L152.40,410.42 L152.90,410.59 L153.40,410.74 L153.90,410.84 L154.40,410.93 L154.90,411.00 L155.40,411.06 L155.90,411.11 L156.40,411.15 L156.90,411.18 L157.40,411.21 L157.90,411.23 L158.40,411.25 L158.90,411.26 L159.40,411.27 L159.90,411.28 L160.40,411.28 L160.90,411.29 L161.40,411.29 L161.90,411.29 L162.40,411.30 L162.90,411.30 L163.40,411.30 L163.90,411.30 L164.40,411.30 L164.90,411.30 L165.40,411.30 L165.90,411.30 L166.40,411.30 L166.90,411.30 L167.40,411.30 L167.90,411.30 L168.40,411.30 L168.90,411.30 L169.40,411.30 L169.90,411.30 L170.40,411.30 L170.90,411.30 L171.40,411.30 L171.90,411.30 L172.40,411.30 L172.90,411.30 L173.40,411.30 L173.90,411.30 L174.40,411.30 L174.90,411.30 L175.40,411.30 L175.90,411.30 L176.40,411.30 L176.90,411.30 L177.40,411.30 L177.90,411.30 L178.40,411.30 L178.90,411.30 L179.40,411.30 L179.90,411.30 L180.40,411.30 L180.90,411.30 L181.40,411.30 L181.90,411.30 L182.40,411.30 L182.90,411.30 L183.40,411.30 L183.90,411.30 L184.40,411.30 L184.90,411.30 L185.40,411.30" fill="none" stroke="#111" stroke-width="1.2" />
<line x1="115.40" y1="429.00" x2="185.60" y2="429.00" stroke="#6e7890" stroke-width="1.1" />
<path d="M126.00,429.00 L126.50,428.46 L127.00,428.30 L127.50,428.11 L128.00,427.86 L128.50,427.67 L129.00,427.48 L129.50,427.67 L130.00,427.33 L130.50,427.20 L131.00,426.72 L131.50,426.68 L132.00,425.79 L132.50,425.37 L133.00,424.92 L133.50,424.15 L134.00,423.92 L134.50,423.47 L135.00,422.26 L135.50,421.08 L136.00,419.93 L136.50,418.45 L137.00,418.21 L137.50,417.48 L138.00,415.45 L138.50,412.95 L139.00,410.87 L139.50,409.68 L140.00,408.81 L140.50,406.78 L141.00,404.05 L141.50,403.14 L142.10,401.82 L142.70,400.25 L143.30,398.98 L143.87,400.41 L144.43,402.27 L145.00,402.61 L145.50,404.95 L146.00,407.86 L146.50,410.36 L147.00,411.56 L147.50,414.89 L148.00,417.31 L148.50,417.72 L149.00,418.61 L149.50,420.35 L150.00,421.26 L150.50,421.20 L151.00,422.70 L151.50,423.37 L152.00,423.95 L152.50,423.90 L153.00,423.56 L153.50,423.75 L154.00,423.77 L154.50,423.75 L155.00,423.61 L155.50,423.26 L156.00,423.58 L156.50,423.37 L157.00,423.98 L157.50,423.49 L158.00,424.22 L158.50,423.85 L159.00,424.39 L159.50,424.34 L160.00,424.47 L160.50,424.62 L161.00,424.63 L161.50,423.88 L162.00,424.46 L162.50,424.14 L163.00,423.59 L163.50,423.99 L164.00,424.05 L164.50,423.73 L165.00,424.21 L165.50,423.75 L166.00,424.11 L166.50,424.07 L167.00,424.65 L167.50,424.31 L168.00,424.30 L168.50,425.01 L169.00,424.82 L169.50,425.22 L170.00,425.77 L170.50,425.63 L171.00,426.25 L171.50,426.25 L172.00,426.39 L172.50,426.97 L173.00,427.43 L173.50,427.57 L174.00,428.22 L174.50,428.40 L175.00,428.54 L175.50,428.56 L176.00,429.00 L176.00,429.00 L126.00,429.00 Z" fill="#9196a7" stroke="none" stroke-width="1" fill-opacity="0.95"/>
<path d="M126.00,429.00 L126.50,428.46 L127.00,428.30 L127.50,428.11 L128.00,427.86 L128.50,427.67 L129.00,427.48 L129.50,427.67 L130.00,427.33 L130.50,427.20 L131.00,426.72 L131.50,426.68 L132.00,425.79 L132.50,425.37 L133.00,424.92 L133.50,424.15 L134.00,423.92 L134.50,423.47 L135.00,422.26 L135.50,421.08 L136.00,419.93 L136.50,418.45 L137.00,418.21 L137.50,417.48 L138.00,415.45 L138.50,412.95 L139.00,410.87 L139.50,409.68 L140.00,408.81 L140.50,406.78 L141.00,404.05 L141.50,403.14 L142.10,401.82 L142.70,400.25 L143.30,398.98 L143.87,400.41 L144.43,402.27 L145.00,402.61 L145.50,404.95 L146.00,407.86 L146.50,410.36 L147.00,411.56 L147.50,414.89 L148.00,417.31 L148.50,417.72 L149.00,418.61 L149.50,420.35 L150.00,421.26 L150.50,421.20 L151.00,422.70 L151.50,423.37 L152.00,423.95 L152.50,423.90 L153.00,423.56 L153.50,423.75 L154.00,423.77 L154.50,423.75 L155.00,423.61 L155.50,423.26 L156.00,423.58 L156.50,423.37 L157.00,423.98 L157.50,423.49 L158.00,424.22 L158.50,423.85 L159.00,424.39 L159.50,424.34 L160.00,424.47 L160.50,424.62 L161.00,424.63 L161.50,423.88 L162.00,424.46 L162.50,424.14 L163.00,423.59 L163.50,423.99 L164.00,424.05 L164.50,423.73 L165.00,424.21 L165.50,423.75 L166.00,424.11 L166.50,424.07 L167.00,424.65 L167.50,424.31 L168.00,424.30 L168.50,425.01 L169.00,424.82 L169.50,425.22 L170.00,425.77 L170.50,425.63 L171.00,426.25 L171.50,426.25 L172.00,426.39 L172.50,426.97 L173.00,427.43 L173.50,427.57 L174.00,428.22 L174.50,428.40 L175.00,428.54 L175.50,428.56 L176.00,429.00" fill="none" stroke="#566078" stroke-width="1.0" stroke-linejoin="round"/>
<path d="M123.00,447.00 L123.50,446.36 L124.00,446.24 L124.50,446.05 L125.00,445.66 L125.50,445.37 L126.00,445.50 L126.50,445.50 L127.00,444.97 L127.50,444.12 L128.00,443.96 L128.50,442.93 L129.00,442.93 L129.50,441.82 L130.00,442.09 L130.50,441.71 L131.00,441.86 L131.50,440.37 L132.00,440.38 L132.50,439.18 L133.00,438.50 L133.50,437.88 L134.00,437.99 L134.50,437.98 L135.00,436.94 L135.50,435.44 L136.00,433.67 L136.50,432.18 L137.00,432.01 L137.50,431.53 L138.00,429.68 L138.50,428.60 L139.00,426.21 L139.50,425.73 L140.00,424.92 L140.50,423.17 L141.00,421.34 L141.50,420.74 L142.07,420.48 L142.65,420.19 L143.23,418.94 L143.80,418.62 L144.37,419.26 L144.93,420.76 L145.50,422.06 L146.00,423.52 L146.50,425.29 L147.00,427.15 L147.50,427.49 L148.00,429.69 L148.50,431.07 L149.00,431.65 L149.50,432.11 L150.00,433.79 L150.50,434.57 L151.00,434.59 L151.50,435.80 L152.00,436.03 L152.50,436.89 L153.00,437.00 L153.50,437.26 L154.00,437.43 L154.50,437.65 L155.00,436.93 L155.50,437.03 L156.00,436.58 L156.50,437.11 L157.00,436.54 L157.50,436.38 L158.00,436.03 L158.50,436.39 L159.00,436.48 L159.50,435.60 L160.00,435.82 L160.50,435.36 L161.00,435.88 L161.50,435.94 L162.00,435.13 L162.50,435.76 L163.00,435.56 L163.50,435.95 L164.00,436.31 L164.50,436.31 L165.00,436.65 L165.50,436.36 L166.00,436.63 L166.50,436.61 L167.00,436.79 L167.50,436.61 L168.00,436.86 L168.50,436.92 L169.00,438.12 L169.50,438.60 L170.00,438.92 L170.50,439.62 L171.00,439.43 L171.50,440.53 L172.00,441.33 L172.50,441.91 L173.00,442.26 L173.50,442.08 L174.00,443.20 L174.50,443.67 L175.00,443.83 L175.50,444.86 L176.00,445.01 L176.50,445.42 L177.00,445.63 L177.50,446.06 L178.00,446.51 L178.50,447.00 L178.50,447.00 L123.00,447.00 Z" fill="#d3a6aa" stroke="none" stroke-width="1" fill-opacity="0.95"/>
<path d="M123.00,447.00 L123.50,446.36 L124.00,446.24 L124.50,446.05 L125.00,445.66 L125.50,445.37 L126.00,445.50 L126.50,445.50 L127.00,444.97 L127.50,444.12 L128.00,443.96 L128.50,442.93 L129.00,442.93 L129.50,441.82 L130.00,442.09 L130.50,441.71 L131.00,441.86 L131.50,440.37 L132.00,440.38 L132.50,439.18 L133.00,438.50 L133.50,437.88 L134.00,437.99 L134.50,437.98 L135.00,436.94 L135.50,435.44 L136.00,433.67 L136.50,432.18 L137.00,432.01 L137.50,431.53 L138.00,429.68 L138.50,428.60 L139.00,426.21 L139.50,425.73 L140.00,424.92 L140.50,423.17 L141.00,421.34 L141.50,420.74 L142.07,420.48 L142.65,420.19 L143.23,418.94 L143.80,418.62 L144.37,419.26 L144.93,420.76 L145.50,422.06 L146.00,423.52 L146.50,425.29 L147.00,427.15 L147.50,427.49 L148.00,429.69 L148.50,431.07 L149.00,431.65 L149.50,432.11 L150.00,433.79 L150.50,434.57 L151.00,434.59 L151.50,435.80 L152.00,436.03 L152.50,436.89 L153.00,437.00 L153.50,437.26 L154.00,437.43 L154.50,437.65 L155.00,436.93 L155.50,437.03 L156.00,436.58 L156.50,437.11 L157.00,436.54 L157.50,436.38 L158.00,436.03 L158.50,436.39 L159.00,436.48 L159.50,435.60 L160.00,435.82 L160.50,435.36 L161.00,435.88 L161.50,435.94 L162.00,435.13 L162.50,435.76 L163.00,435.56 L163.50,435.95 L164.00,436.31 L164.50,436.31 L165.00,436.65 L165.50,436.36 L166.00,436.63 L166.50,436.61 L167.00,436.79 L167.50,436.61 L168.00,436.86 L168.50,436.92 L169.00,438.12 L169.50,438.60 L170.00,438.92 L170.50,439.62 L171.00,439.43 L171.50,440.53 L172.00,441.33 L172.50,441.91 L173.00,442.26 L173.50,442.08 L174.00,443.20 L174.50,443.67 L175.00,443.83 L175.50,444.86 L176.00,445.01 L176.50,445.42 L177.00,445.63 L177.50,446.06 L178.00,446.51 L178.50,447.00" fill="none" stroke="#a5173e" stroke-width="1.1" stroke-linejoin="round"/>
<line x1="150.50" y1="375.40" x2="150.50" y2="447.00" stroke="#222" stroke-width="0.8" stroke-dasharray="1,1.3"/>
<rect x="115.40" y="375.20" width="70.20" height="71.80" fill="none" stroke="#111" stroke-width="1.1" />
<path d="M119.40,447.00v3.0M123.92,447.00v2.0M126.56,447.00v2.0M128.43,447.00v2.0M129.88,447.00v2.0M131.07,447.00v2.0M132.08,447.00v2.0M132.95,447.00v2.0M133.71,447.00v2.0M134.40,447.00v3.0M139.82,447.00v2.0M142.99,447.00v2.0M145.24,447.00v2.0M146.98,447.00v2.0M148.41,447.00v2.0M149.61,447.00v2.0M150.66,447.00v2.0M151.58,447.00v2.0M152.40,447.00v3.0M157.82,447.00v2.0M160.99,447.00v2.0M163.24,447.00v2.0M164.98,447.00v2.0M166.41,447.00v2.0M167.61,447.00v2.0M168.66,447.00v2.0M169.58,447.00v2.0M170.40,447.00v3.0M175.58,447.00v2.0M178.61,447.00v2.0M180.76,447.00v2.0M182.42,447.00v2.0M183.78,447.00v2.0M184.94,447.00v2.0" stroke="#444" stroke-width="0.7" fill="none"/>
<text x="180.40" y="404.20" font-size="9.1" text-anchor="end" font-weight="normal" fill="#111" stroke="#111" stroke-width="0.15" >0.9</text>
<text x="180.40" y="421.50" font-size="9.1" text-anchor="end" font-weight="normal" fill="#111" stroke="#111" stroke-width="0.15" >21</text>
<text x="180.40" y="438.60" font-size="9.1" text-anchor="end" font-weight="normal" fill="#111" stroke="#111" stroke-width="0.15" >36</text>
<text x="38.30" y="398.70" font-size="8.7" text-anchor="end" font-weight="normal" fill="#111" stroke="#111" stroke-width="0.15" textLength="29.9" lengthAdjust="spacingAndGlyphs" >Isotype</text>
<text x="27.25" y="420.00" font-size="8.7" text-anchor="middle" font-weight="normal" fill="#111" stroke="#111" stroke-width="0.15" >clg</text>
<text x="38.70" y="440.40" font-size="8.7" text-anchor="end" font-weight="normal" fill="#111" stroke="#111" stroke-width="0.15" textLength="27.7" lengthAdjust="spacingAndGlyphs" >αTIGIT</text>
<text x="40.20" y="461.00" font-size="10" text-anchor="start" font-weight="normal" fill="#111" stroke="#111" stroke-width="0.15" textLength="17.3" lengthAdjust="spacingAndGlyphs" >IFNγ</text>
<path d="M63.3,457.7 L73.0,457.7" fill="none" stroke="#111" stroke-width="1.2" />
<path d="M72.5,455.3 L77.1,457.7 L72.5,460.09999999999997 Z" fill="#111" stroke="none" stroke-width="1" />
<rect x="84.50" y="537.20" width="15.40" height="22.50" fill="#fff" stroke="#111" stroke-width="1.1" />
<rect x="103.50" y="525.10" width="15.20" height="34.60" fill="#fff" stroke="#111" stroke-width="1.1" />
<rect x="130.30" y="550.40" width="15.40" height="9.30" fill="#fff" stroke="#111" stroke-width="1.1" />
<rect x="149.50" y="545.50" width="15.20" height="14.20" fill="#fff" stroke="#111" stroke-width="1.1" />
<circle cx="92.25" cy="509.09" r="1.7" fill="#37425e" />
<circle cx="92.25" cy="517.36" r="1.7" fill="#37425e" />
<circle cx="89.44" cy="526.78" r="1.7" fill="#37425e" />
<circle cx="92.25" cy="525.13" r="1.7" fill="#37425e" />
<circle cx="94.40" cy="532.24" r="1.7" fill="#37425e" />
<circle cx="86.13" cy="538.86" r="1.7" fill="#37425e" />
<circle cx="90.27" cy="540.84" r="1.7" fill="#37425e" />
<circle cx="94.40" cy="540.51" r="1.7" fill="#37425e" />
<circle cx="97.71" cy="540.01" r="1.7" fill="#37425e" />
<circle cx="89.44" cy="543.32" r="1.7" fill="#37425e" />
<circle cx="94.40" cy="543.32" r="1.7" fill="#37425e" />
<circle cx="86.63" cy="550.76" r="1.7" fill="#37425e" />
<circle cx="97.71" cy="550.43" r="1.7" fill="#37425e" />
<circle cx="90.27" cy="554.90" r="1.7" fill="#37425e" />
<circle cx="94.40" cy="554.07" r="1.7" fill="#37425e" />
<circle cx="108.46" cy="497.02" r="1.7" fill="#990f37" />
<circle cx="114.25" cy="495.86" r="1.7" fill="#990f37" />
<circle cx="108.46" cy="505.29" r="1.7" fill="#990f37" />
<circle cx="113.75" cy="506.11" r="1.7" fill="#990f37" />
<circle cx="105.98" cy="508.59" r="1.7" fill="#990f37" />
<circle cx="111.44" cy="512.40" r="1.7" fill="#990f37" />
<circle cx="116.40" cy="511.90" r="1.7" fill="#990f37" />
<circle cx="111.44" cy="519.34" r="1.7" fill="#990f37" />
<circle cx="108.46" cy="530.09" r="1.7" fill="#990f37" />
<circle cx="113.75" cy="529.27" r="1.7" fill="#990f37" />
<circle cx="105.98" cy="535.05" r="1.7" fill="#990f37" />
<circle cx="109.29" cy="536.21" r="1.7" fill="#990f37" />
<circle cx="112.59" cy="537.20" r="1.7" fill="#990f37" />
<circle cx="115.90" cy="535.05" r="1.7" fill="#990f37" />
<circle cx="105.98" cy="544.98" r="1.7" fill="#990f37" />
<circle cx="108.79" cy="546.13" r="1.7" fill="#990f37" />
<circle cx="113.09" cy="546.13" r="1.7" fill="#990f37" />
<circle cx="117.06" cy="543.82" r="1.7" fill="#990f37" />
<circle cx="138.23" cy="531.75" r="1.7" fill="#37425e" />
<circle cx="138.23" cy="537.86" r="1.7" fill="#37425e" />
<circle cx="143.19" cy="542.83" r="1.7" fill="#37425e" />
<circle cx="133.27" cy="546.13" r="1.7" fill="#37425e" />
<circle cx="138.23" cy="547.13" r="1.7" fill="#37425e" />
<circle cx="132.44" cy="550.76" r="1.7" fill="#37425e" />
<circle cx="135.75" cy="552.09" r="1.7" fill="#37425e" />
<circle cx="139.05" cy="552.09" r="1.7" fill="#37425e" />
<circle cx="142.36" cy="550.76" r="1.7" fill="#37425e" />
<circle cx="134.09" cy="554.40" r="1.7" fill="#37425e" />
<circle cx="137.40" cy="554.90" r="1.7" fill="#37425e" />
<circle cx="140.71" cy="554.40" r="1.7" fill="#37425e" />
<circle cx="139.05" cy="557.38" r="1.7" fill="#37425e" />
<circle cx="151.46" cy="532.90" r="1.7" fill="#990f37" />
<circle cx="158.90" cy="532.90" r="1.7" fill="#990f37" />
<circle cx="163.03" cy="532.90" r="1.7" fill="#990f37" />
<circle cx="155.59" cy="537.53" r="1.7" fill="#990f37" />
<circle cx="151.46" cy="541.67" r="1.7" fill="#990f37" />
<circle cx="154.76" cy="542.83" r="1.7" fill="#990f37" />
<circle cx="159.39" cy="542.83" r="1.7" fill="#990f37" />
<circle cx="163.03" cy="542.49" r="1.7" fill="#990f37" />
<circle cx="152.28" cy="547.46" r="1.7" fill="#990f37" />
<circle cx="155.59" cy="548.28" r="1.7" fill="#990f37" />
<circle cx="158.90" cy="547.46" r="1.7" fill="#990f37" />
<circle cx="162.21" cy="548.78" r="1.7" fill="#990f37" />
<circle cx="154.76" cy="550.76" r="1.7" fill="#990f37" />
<circle cx="157.24" cy="551.59" r="1.7" fill="#990f37" />
<circle cx="159.72" cy="550.43" r="1.7" fill="#990f37" />
<circle cx="156.42" cy="553.24" r="1.7" fill="#990f37" />
<line x1="92.20" y1="533.20" x2="92.20" y2="541.20" stroke="#111" stroke-width="1.1" />
<line x1="89.60" y1="533.20" x2="94.80" y2="533.20" stroke="#111" stroke-width="1.1" />
<line x1="89.60" y1="541.20" x2="94.80" y2="541.20" stroke="#111" stroke-width="1.1" />
<line x1="111.10" y1="521.10" x2="111.10" y2="529.10" stroke="#111" stroke-width="1.1" />
<line x1="108.50" y1="521.10" x2="113.70" y2="521.10" stroke="#111" stroke-width="1.1" />
<line x1="108.50" y1="529.10" x2="113.70" y2="529.10" stroke="#111" stroke-width="1.1" />
<line x1="138.00" y1="548.60" x2="138.00" y2="552.20" stroke="#111" stroke-width="1.1" />
<line x1="135.40" y1="548.60" x2="140.60" y2="548.60" stroke="#111" stroke-width="1.1" />
<line x1="135.40" y1="552.20" x2="140.60" y2="552.20" stroke="#111" stroke-width="1.1" />
<line x1="157.10" y1="544.00" x2="157.10" y2="547.00" stroke="#111" stroke-width="1.1" />
<line x1="154.50" y1="544.00" x2="159.70" y2="544.00" stroke="#111" stroke-width="1.1" />
<line x1="154.50" y1="547.00" x2="159.70" y2="547.00" stroke="#111" stroke-width="1.1" />
<line x1="80.50" y1="480.40" x2="80.50" y2="560.20" stroke="#111" stroke-width="1.1" />
<line x1="80.00" y1="559.70" x2="165.60" y2="559.70" stroke="#111" stroke-width="1.1" />
<line x1="77.50" y1="483.45" x2="80.50" y2="483.45" stroke="#111" stroke-width="1" />
<text x="73.20" y="486.55" font-size="8.6" text-anchor="end" font-weight="normal" fill="#111" stroke="#111" stroke-width="0.15" >25</text>
<line x1="77.50" y1="498.70" x2="80.50" y2="498.70" stroke="#111" stroke-width="1" />
<text x="73.20" y="501.80" font-size="8.6" text-anchor="end" font-weight="normal" fill="#111" stroke="#111" stroke-width="0.15" >20</text>
<line x1="77.50" y1="513.95" x2="80.50" y2="513.95" stroke="#111" stroke-width="1" />
<text x="73.20" y="517.05" font-size="8.6" text-anchor="end" font-weight="normal" fill="#111" stroke="#111" stroke-width="0.15" >15</text>
<line x1="77.50" y1="529.20" x2="80.50" y2="529.20" stroke="#111" stroke-width="1" />
<text x="73.20" y="532.30" font-size="8.6" text-anchor="end" font-weight="normal" fill="#111" stroke="#111" stroke-width="0.15" >10</text>
<line x1="77.50" y1="544.45" x2="80.50" y2="544.45" stroke="#111" stroke-width="1" />
<text x="73.20" y="547.55" font-size="8.6" text-anchor="end" font-weight="normal" fill="#111" stroke="#111" stroke-width="0.15" >5</text>
<line x1="77.50" y1="559.70" x2="80.50" y2="559.70" stroke="#111" stroke-width="1" />
<text x="73.20" y="562.80" font-size="8.6" text-anchor="end" font-weight="normal" fill="#111" stroke="#111" stroke-width="0.15" >0</text>
<line x1="101.60" y1="559.70" x2="101.60" y2="562.70" stroke="#111" stroke-width="1" />
<line x1="147.60" y1="559.70" x2="147.60" y2="562.70" stroke="#111" stroke-width="1" />
<text x="100.70" y="574.30" font-size="9" text-anchor="middle" font-weight="normal" fill="#111" stroke="#111" stroke-width="0.15" >CD8<tspan font-size="6" dy="-3.2">+</tspan></text>
<text x="146.80" y="574.30" font-size="9" text-anchor="middle" font-weight="normal" fill="#111" stroke="#111" stroke-width="0.15" >CD4<tspan font-size="6" dy="-3.2">+</tspan></text>
<text x="56.20" y="520.00" font-size="9.8" text-anchor="middle" font-weight="normal" fill="#111" stroke="#111" stroke-width="0.15" transform="rotate(-90 56.20 520.00)" textLength="72.8" lengthAdjust="spacingAndGlyphs" >IFNγ<tspan font-size="6.5" dy="-3.6">+</tspan><tspan dy="3.6"> T cells (x10</tspan><tspan font-size="6.5" dy="-3.6">4</tspan><tspan dy="3.6">)</tspan></text>
<line x1="93.20" y1="488.30" x2="108.10" y2="488.30" stroke="#111" stroke-width="1" />
<text x="100.60" y="489.57" font-size="10.5" text-anchor="middle" font-weight="normal" fill="#111" stroke="#111" stroke-width="0.15" >*</text>
<line x1="139.90" y1="521.50" x2="155.30" y2="521.50" stroke="#111" stroke-width="1" />
<text x="147.60" y="521.77" font-size="10.5" text-anchor="middle" font-weight="normal" fill="#111" stroke="#111" stroke-width="0.15" >*</text>
<text x="0" y="0" transform="translate(193.46 362.80) scale(1.114 1)" font-size="20" font-weight="bold" fill="#000" stroke="#000" stroke-width="0.3">H</text>
<line x1="234.50" y1="383.75" x2="234.50" y2="445.50" stroke="#111" stroke-width="1.1" />
<line x1="234.00" y1="445.00" x2="292.00" y2="445.00" stroke="#111" stroke-width="1.1" />
<line x1="231.50" y1="387.00" x2="234.50" y2="387.00" stroke="#111" stroke-width="1" />
<text x="227.40" y="390.10" font-size="8.8" text-anchor="end" font-weight="normal" fill="#111" stroke="#111" stroke-width="0.15" >25</text>
<line x1="231.50" y1="398.60" x2="234.50" y2="398.60" stroke="#111" stroke-width="1" />
<text x="227.40" y="401.70" font-size="8.8" text-anchor="end" font-weight="normal" fill="#111" stroke="#111" stroke-width="0.15" >20</text>
<line x1="231.50" y1="410.20" x2="234.50" y2="410.20" stroke="#111" stroke-width="1" />
<text x="227.40" y="413.30" font-size="8.8" text-anchor="end" font-weight="normal" fill="#111" stroke="#111" stroke-width="0.15" >15</text>
<line x1="231.50" y1="421.80" x2="234.50" y2="421.80" stroke="#111" stroke-width="1" />
<text x="227.40" y="424.90" font-size="8.8" text-anchor="end" font-weight="normal" fill="#111" stroke="#111" stroke-width="0.15" >10</text>
<line x1="231.50" y1="433.40" x2="234.50" y2="433.40" stroke="#111" stroke-width="1" />
<text x="227.40" y="436.50" font-size="8.8" text-anchor="end" font-weight="normal" fill="#111" stroke="#111" stroke-width="0.15" >5</text>
<line x1="231.50" y1="445.00" x2="234.50" y2="445.00" stroke="#111" stroke-width="1" />
<text x="227.40" y="448.10" font-size="8.8" text-anchor="end" font-weight="normal" fill="#111" stroke="#111" stroke-width="0.15" >0</text>
<line x1="241.25" y1="445.00" x2="241.25" y2="448.00" stroke="#111" stroke-width="1" />
<text x="241.25" y="459.30" font-size="8.8" text-anchor="middle" font-weight="normal" fill="#111" stroke="#111" stroke-width="0.15" >1</text>
<line x1="256.67" y1="445.00" x2="256.67" y2="448.00" stroke="#111" stroke-width="1" />
<text x="256.67" y="459.30" font-size="8.8" text-anchor="middle" font-weight="normal" fill="#111" stroke="#111" stroke-width="0.15" >2</text>
<line x1="272.09" y1="445.00" x2="272.09" y2="448.00" stroke="#111" stroke-width="1" />
<text x="272.09" y="459.30" font-size="8.8" text-anchor="middle" font-weight="normal" fill="#111" stroke="#111" stroke-width="0.15" >3</text>
<line x1="287.51" y1="445.00" x2="287.51" y2="448.00" stroke="#111" stroke-width="1" />
<text x="287.51" y="459.30" font-size="8.8" text-anchor="middle" font-weight="normal" fill="#111" stroke="#111" stroke-width="0.15" >4</text>
<line x1="237.50" y1="428.75" x2="287.50" y2="403.00" stroke="#990f37" stroke-width="1.4" />
<circle cx="238.25" cy="428.25" r="1.7" fill="#990f37" />
<circle cx="240.50" cy="427.00" r="1.7" fill="#990f37" />
<circle cx="242.00" cy="422.00" r="1.7" fill="#990f37" />
<circle cx="241.25" cy="435.00" r="1.7" fill="#990f37" />
<circle cx="243.00" cy="435.50" r="1.7" fill="#990f37" />
<circle cx="246.25" cy="426.75" r="1.7" fill="#990f37" />
<circle cx="247.50" cy="433.00" r="1.7" fill="#990f37" />
<circle cx="248.75" cy="414.25" r="1.7" fill="#990f37" />
<circle cx="266.25" cy="422.50" r="1.7" fill="#990f37" />
<circle cx="266.75" cy="409.00" r="1.7" fill="#990f37" />
<circle cx="272.50" cy="408.25" r="1.7" fill="#990f37" />
<circle cx="273.75" cy="396.25" r="1.7" fill="#990f37" />
<circle cx="276.25" cy="426.25" r="1.7" fill="#990f37" />
<circle cx="281.25" cy="403.75" r="1.7" fill="#990f37" />
<circle cx="286.25" cy="404.50" r="1.7" fill="#990f37" />
<circle cx="287.50" cy="405.50" r="1.7" fill="#990f37" />
<circle cx="288.25" cy="397.00" r="1.7" fill="#990f37" />
<text x="237.00" y="392.80" font-size="8.6" text-anchor="start" font-weight="normal" fill="#111" stroke="#111" stroke-width="0.15" >r = 0.83</text>
<text x="237.00" y="402.30" font-size="8.6" text-anchor="start" font-weight="normal" fill="#111" stroke="#111" stroke-width="0.15" >p &lt;.0001</text>
<text x="263.00" y="471.80" font-size="10.3" text-anchor="middle" font-weight="normal" fill="#111" stroke="#111" stroke-width="0.15" textLength="76" lengthAdjust="spacingAndGlyphs" >Log [MM cells x10<tspan font-size="6.5" dy="-3.5">2</tspan><tspan dy="3.5">]</tspan></text>
<text x="210.50" y="414.00" font-size="10.3" text-anchor="middle" font-weight="normal" fill="#111" stroke="#111" stroke-width="0.15" transform="rotate(-90 210.50 414.00)" textLength="74" lengthAdjust="spacingAndGlyphs" >IFNγ<tspan font-size="6.5" dy="-3.6">+</tspan><tspan dy="3.6">CD8</tspan><tspan font-size="6.5" dy="-3.6">+</tspan><tspan dy="3.6">T (x10</tspan><tspan font-size="6.5" dy="-3.6">4</tspan><tspan dy="3.6">)</tspan></text>
<line x1="233.75" y1="498.00" x2="233.75" y2="560.00" stroke="#111" stroke-width="1.1" />
<line x1="233.25" y1="559.50" x2="297.00" y2="559.50" stroke="#111" stroke-width="1.1" />
<line x1="230.75" y1="502.00" x2="233.75" y2="502.00" stroke="#111" stroke-width="1" />
<text x="227.40" y="505.10" font-size="8.8" text-anchor="end" font-weight="normal" fill="#111" stroke="#111" stroke-width="0.15" >20</text>
<line x1="230.75" y1="516.38" x2="233.75" y2="516.38" stroke="#111" stroke-width="1" />
<text x="227.40" y="519.48" font-size="8.8" text-anchor="end" font-weight="normal" fill="#111" stroke="#111" stroke-width="0.15" >15</text>
<line x1="230.75" y1="530.75" x2="233.75" y2="530.75" stroke="#111" stroke-width="1" />
<text x="227.40" y="533.85" font-size="8.8" text-anchor="end" font-weight="normal" fill="#111" stroke="#111" stroke-width="0.15" >10</text>
<line x1="230.75" y1="545.12" x2="233.75" y2="545.12" stroke="#111" stroke-width="1" />
<text x="227.40" y="548.23" font-size="8.8" text-anchor="end" font-weight="normal" fill="#111" stroke="#111" stroke-width="0.15" >5</text>
<line x1="230.75" y1="559.50" x2="233.75" y2="559.50" stroke="#111" stroke-width="1" />
<text x="227.40" y="562.60" font-size="8.8" text-anchor="end" font-weight="normal" fill="#111" stroke="#111" stroke-width="0.15" >0</text>
<line x1="242.00" y1="559.50" x2="242.00" y2="562.50" stroke="#111" stroke-width="1" />
<text x="242.00" y="575.00" font-size="8.8" text-anchor="middle" font-weight="normal" fill="#111" stroke="#111" stroke-width="0.15" >1</text>
<line x1="254.75" y1="559.50" x2="254.75" y2="562.50" stroke="#111" stroke-width="1" />
<text x="254.75" y="575.00" font-size="8.8" text-anchor="middle" font-weight="normal" fill="#111" stroke="#111" stroke-width="0.15" >2</text>
<line x1="267.50" y1="559.50" x2="267.50" y2="562.50" stroke="#111" stroke-width="1" />
<text x="267.50" y="575.00" font-size="8.8" text-anchor="middle" font-weight="normal" fill="#111" stroke="#111" stroke-width="0.15" >3</text>
<line x1="280.25" y1="559.50" x2="280.25" y2="562.50" stroke="#111" stroke-width="1" />
<text x="280.25" y="575.00" font-size="8.8" text-anchor="middle" font-weight="normal" fill="#111" stroke="#111" stroke-width="0.15" >4</text>
<line x1="293.00" y1="559.50" x2="293.00" y2="562.50" stroke="#111" stroke-width="1" />
<text x="293.00" y="575.00" font-size="8.8" text-anchor="middle" font-weight="normal" fill="#111" stroke="#111" stroke-width="0.15" >5</text>
<line x1="240.50" y1="558.75" x2="280.50" y2="523.00" stroke="#990f37" stroke-width="1.4" />
<circle cx="240.50" cy="558.00" r="1.7" fill="#990f37" />
<circle cx="241.25" cy="558.75" r="1.7" fill="#990f37" />
<circle cx="243.00" cy="558.00" r="1.7" fill="#990f37" />
<circle cx="242.50" cy="551.25" r="1.7" fill="#990f37" />
<circle cx="243.75" cy="553.00" r="1.7" fill="#990f37" />
<circle cx="247.00" cy="552.00" r="1.7" fill="#990f37" />
<circle cx="248.75" cy="533.75" r="1.7" fill="#990f37" />
<circle cx="263.75" cy="539.50" r="1.7" fill="#990f37" />
<circle cx="268.75" cy="522.50" r="1.7" fill="#990f37" />
<circle cx="271.25" cy="542.00" r="1.7" fill="#990f37" />
<circle cx="279.50" cy="528.75" r="1.7" fill="#990f37" />
<circle cx="280.75" cy="516.75" r="1.7" fill="#990f37" />
<circle cx="242.00" cy="559.00" r="1.7" fill="#990f37" />
<circle cx="244.00" cy="559.00" r="1.7" fill="#990f37" />
<text x="237.00" y="507.30" font-size="8.6" text-anchor="start" font-weight="normal" fill="#111" stroke="#111" stroke-width="0.15" >r = 0.82</text>
<text x="237.00" y="517.30" font-size="8.6" text-anchor="start" font-weight="normal" fill="#111" stroke="#111" stroke-width="0.15" >p = 0.0009</text>
<text x="268.75" y="587.60" font-size="10.3" text-anchor="middle" font-weight="normal" fill="#111" stroke="#111" stroke-width="0.15" textLength="77" lengthAdjust="spacingAndGlyphs" >Log [MM cells x10<tspan font-size="6.5" dy="-3.5">2</tspan><tspan dy="3.5">]</tspan></text>
<text x="210.50" y="528.75" font-size="10.3" text-anchor="middle" font-weight="normal" fill="#111" stroke="#111" stroke-width="0.15" transform="rotate(-90 210.50 528.75)" textLength="88.5" lengthAdjust="spacingAndGlyphs" >CD107a<tspan font-size="6.5" dy="-3.6">+</tspan><tspan dy="3.6">CD8</tspan><tspan font-size="6.5" dy="-3.6">+</tspan><tspan dy="3.6">T (x10</tspan><tspan font-size="6.5" dy="-3.6">4</tspan><tspan dy="3.6">)</tspan></text>
<rect x="322.60" y="350.30" width="4.00" height="12.40" fill="#000" stroke="none" stroke-width="0" />
<text x="372.00" y="371.30" font-size="10" text-anchor="middle" font-weight="normal" fill="#111" stroke="#111" stroke-width="0.15" >clg</text>
<text x="451.00" y="370.50" font-size="10" text-anchor="middle" font-weight="normal" fill="#111" stroke="#111" stroke-width="0.15" textLength="33" lengthAdjust="spacingAndGlyphs" >αTIGIT</text>
<path d="M372.5 431.5h0.7v0.7h-0.7zM379.2 431.3h0.7v0.7h-0.7zM373.4 431.9h0.7v0.7h-0.7zM382.0 400.9h0.7v0.7h-0.7zM385.0 405.2h0.7v0.7h-0.7zM360.0 403.2h0.7v0.7h-0.7zM362.6 399.7h0.7v0.7h-0.7zM383.2 409.6h0.7v0.7h-0.7zM385.9 407.4h0.7v0.7h-0.7zM382.2 413.3h0.7v0.7h-0.7zM358.4 413.5h0.7v0.7h-0.7zM377.5 430.5h0.7v0.7h-0.7zM362.9 428.3h0.7v0.7h-0.7zM384.0 399.1h0.7v0.7h-0.7zM376.7 432.8h0.7v0.7h-0.7zM359.2 419.6h0.7v0.7h-0.7zM358.0 414.8h0.7v0.7h-0.7zM385.7 407.8h0.7v0.7h-0.7zM378.3 387.8h0.7v0.7h-0.7zM363.7 400.2h0.7v0.7h-0.7zM383.6 408.2h0.7v0.7h-0.7zM383.4 412.1h0.7v0.7h-0.7zM363.4 419.3h0.7v0.7h-0.7zM381.2 405.8h0.7v0.7h-0.7zM382.0 397.5h0.7v0.7h-0.7zM376.8 428.0h0.7v0.7h-0.7zM362.9 415.3h0.7v0.7h-0.7zM373.0 386.9h0.7v0.7h-0.7zM385.7 407.2h0.7v0.7h-0.7zM375.3 383.7h0.7v0.7h-0.7zM383.6 400.4h0.7v0.7h-0.7zM360.4 404.7h0.7v0.7h-0.7zM377.6 385.9h0.7v0.7h-0.7zM378.7 387.9h0.7v0.7h-0.7zM383.2 413.5h0.7v0.7h-0.7zM382.5 421.7h0.7v0.7h-0.7zM361.3 399.3h0.7v0.7h-0.7zM378.4 395.6h0.7v0.7h-0.7zM370.4 387.7h0.7v0.7h-0.7zM375.4 436.0h0.7v0.7h-0.7zM383.0 417.0h0.7v0.7h-0.7zM359.9 405.0h0.7v0.7h-0.7zM384.1 407.5h0.7v0.7h-0.7zM380.0 397.4h0.7v0.7h-0.7zM362.4 412.1h0.7v0.7h-0.7zM364.7 394.1h0.7v0.7h-0.7zM374.1 393.2h0.7v0.7h-0.7zM357.8 415.9h0.7v0.7h-0.7zM384.8 411.6h0.7v0.7h-0.7zM366.2 388.5h0.7v0.7h-0.7zM360.9 402.4h0.7v0.7h-0.7zM382.2 405.2h0.7v0.7h-0.7zM368.3 387.6h0.7v0.7h-0.7zM370.4 388.9h0.7v0.7h-0.7zM385.4 412.6h0.7v0.7h-0.7zM369.5 434.2h0.7v0.7h-0.7zM385.5 408.0h0.7v0.7h-0.7zM360.5 424.6h0.7v0.7h-0.7zM363.9 422.8h0.7v0.7h-0.7zM360.5 400.0h0.7v0.7h-0.7zM367.2 389.7h0.7v0.7h-0.7zM360.8 423.1h0.7v0.7h-0.7zM366.4 430.2h0.7v0.7h-0.7zM381.6 410.6h0.7v0.7h-0.7zM378.8 396.4h0.7v0.7h-0.7zM364.2 418.6h0.7v0.7h-0.7zM373.0 390.5h0.7v0.7h-0.7zM382.0 415.8h0.7v0.7h-0.7zM384.1 399.7h0.7v0.7h-0.7zM386.6 410.5h0.7v0.7h-0.7zM382.5 419.4h0.7v0.7h-0.7zM358.8 404.7h0.7v0.7h-0.7zM380.7 429.5h0.7v0.7h-0.7zM370.0 433.8h0.7v0.7h-0.7zM383.1 400.0h0.7v0.7h-0.7zM384.8 410.3h0.7v0.7h-0.7zM359.9 419.5h0.7v0.7h-0.7zM374.0 393.2h0.7v0.7h-0.7zM360.4 400.5h0.7v0.7h-0.7zM383.2 399.9h0.7v0.7h-0.7zM361.9 393.8h0.7v0.7h-0.7zM379.5 431.5h0.7v0.7h-0.7zM361.0 398.8h0.7v0.7h-0.7zM378.7 428.0h0.7v0.7h-0.7zM363.5 419.8h0.7v0.7h-0.7zM385.0 400.9h0.7v0.7h-0.7zM363.1 414.3h0.7v0.7h-0.7zM381.5 408.2h0.7v0.7h-0.7zM359.8 409.0h0.7v0.7h-0.7zM379.9 391.7h0.7v0.7h-0.7zM362.5 396.9h0.7v0.7h-0.7zM385.6 406.6h0.7v0.7h-0.7zM363.6 429.4h0.7v0.7h-0.7zM383.1 403.1h0.7v0.7h-0.7zM379.9 418.5h0.7v0.7h-0.7zM381.8 406.3h0.7v0.7h-0.7zM375.3 392.9h0.7v0.7h-0.7zM373.6 427.5h0.7v0.7h-0.7zM375.7 394.4h0.7v0.7h-0.7zM358.5 414.4h0.7v0.7h-0.7zM363.3 407.3h0.7v0.7h-0.7zM385.8 412.6h0.7v0.7h-0.7zM369.1 426.1h0.7v0.7h-0.7zM358.6 406.1h0.7v0.7h-0.7zM368.9 426.5h0.7v0.7h-0.7zM376.6 429.5h0.7v0.7h-0.7zM373.7 393.4h0.7v0.7h-0.7zM372.9 386.6h0.7v0.7h-0.7zM361.6 402.8h0.7v0.7h-0.7zM383.6 414.3h0.7v0.7h-0.7zM361.0 422.4h0.7v0.7h-0.7zM381.1 416.8h0.7v0.7h-0.7zM383.7 412.5h0.7v0.7h-0.7zM383.2 418.0h0.7v0.7h-0.7zM362.0 417.6h0.7v0.7h-0.7zM377.3 434.3h0.7v0.7h-0.7zM362.7 412.1h0.7v0.7h-0.7zM360.2 398.5h0.7v0.7h-0.7zM357.8 411.9h0.7v0.7h-0.7zM378.8 390.1h0.7v0.7h-0.7zM383.1 413.3h0.7v0.7h-0.7zM362.2 408.8h0.7v0.7h-0.7zM359.2 410.0h0.7v0.7h-0.7zM372.2 385.6h0.7v0.7h-0.7zM371.8 390.7h0.7v0.7h-0.7zM363.0 396.1h0.7v0.7h-0.7zM372.5 392.7h0.7v0.7h-0.7zM377.9 431.4h0.7v0.7h-0.7zM370.3 391.7h0.7v0.7h-0.7zM373.5 385.6h0.7v0.7h-0.7zM365.0 393.2h0.7v0.7h-0.7zM381.5 416.5h0.7v0.7h-0.7zM373.4 383.9h0.7v0.7h-0.7zM376.6 424.1h0.7v0.7h-0.7zM363.5 431.4h0.7v0.7h-0.7zM375.0 435.7h0.7v0.7h-0.7zM374.9 385.3h0.7v0.7h-0.7zM384.9 408.7h0.7v0.7h-0.7zM375.7 429.7h0.7v0.7h-0.7zM361.8 424.0h0.7v0.7h-0.7zM364.0 429.1h0.7v0.7h-0.7zM382.0 413.5h0.7v0.7h-0.7zM373.7 427.6h0.7v0.7h-0.7zM371.9 384.4h0.7v0.7h-0.7zM381.7 421.9h0.7v0.7h-0.7zM382.3 411.0h0.7v0.7h-0.7zM380.0 428.6h0.7v0.7h-0.7zM379.2 388.3h0.7v0.7h-0.7zM370.3 430.3h0.7v0.7h-0.7zM373.5 433.1h0.7v0.7h-0.7zM373.8 434.2h0.7v0.7h-0.7zM360.1 414.1h0.7v0.7h-0.7zM382.0 391.1h0.7v0.7h-0.7zM370.5 433.8h0.7v0.7h-0.7zM370.7 426.0h0.7v0.7h-0.7zM377.9 395.4h0.7v0.7h-0.7zM369.4 433.4h0.7v0.7h-0.7zM378.6 393.6h0.7v0.7h-0.7zM369.6 390.1h0.7v0.7h-0.7zM384.1 412.5h0.7v0.7h-0.7zM376.7 426.2h0.7v0.7h-0.7zM361.4 422.6h0.7v0.7h-0.7zM373.9 428.1h0.7v0.7h-0.7zM362.6 401.9h0.7v0.7h-0.7zM360.0 401.3h0.7v0.7h-0.7zM367.0 434.2h0.7v0.7h-0.7zM380.8 406.6h0.7v0.7h-0.7zM380.7 416.9h0.7v0.7h-0.7zM361.4 411.0h0.7v0.7h-0.7zM370.3 383.3h0.7v0.7h-0.7zM362.0 415.5h0.7v0.7h-0.7zM374.6 435.6h0.7v0.7h-0.7zM377.6 386.4h0.7v0.7h-0.7zM383.5 410.0h0.7v0.7h-0.7zM371.8 390.3h0.7v0.7h-0.7zM380.2 428.3h0.7v0.7h-0.7zM363.7 425.9h0.7v0.7h-0.7zM362.6 402.3h0.7v0.7h-0.7zM385.2 413.3h0.7v0.7h-0.7zM372.9 385.6h0.7v0.7h-0.7zM367.0 427.4h0.7v0.7h-0.7zM364.3 395.6h0.7v0.7h-0.7zM371.7 388.3h0.7v0.7h-0.7zM358.3 405.5h0.7v0.7h-0.7zM379.5 422.3h0.7v0.7h-0.7zM358.2 406.3h0.7v0.7h-0.7zM384.3 397.4h0.7v0.7h-0.7zM375.5 428.4h0.7v0.7h-0.7zM372.2 428.5h0.7v0.7h-0.7zM376.2 425.9h0.7v0.7h-0.7zM376.9 390.1h0.7v0.7h-0.7zM384.4 406.0h0.7v0.7h-0.7zM372.8 383.8h0.7v0.7h-0.7zM362.3 404.5h0.7v0.7h-0.7zM362.4 421.5h0.7v0.7h-0.7zM378.4 428.7h0.7v0.7h-0.7zM373.6 390.6h0.7v0.7h-0.7zM381.3 412.7h0.7v0.7h-0.7zM365.4 423.7h0.7v0.7h-0.7zM357.7 415.6h0.7v0.7h-0.7z" fill="#b8b8b8" opacity="1"/>
<path d="M370.3 430.0h0.7v0.7h-0.7zM352.6 422.2h0.7v0.7h-0.7zM372.5 427.9h0.7v0.7h-0.7zM369.4 427.4h0.7v0.7h-0.7zM373.8 430.7h0.7v0.7h-0.7zM362.7 438.6h0.7v0.7h-0.7zM345.4 425.9h0.7v0.7h-0.7zM344.5 435.5h0.7v0.7h-0.7zM370.0 434.2h0.7v0.7h-0.7zM357.6 438.9h0.7v0.7h-0.7zM358.7 422.5h0.7v0.7h-0.7zM369.8 422.6h0.7v0.7h-0.7zM373.9 424.3h0.7v0.7h-0.7zM337.1 426.5h0.7v0.7h-0.7zM369.9 424.8h0.7v0.7h-0.7zM367.6 438.1h0.7v0.7h-0.7zM339.7 429.6h0.7v0.7h-0.7zM369.0 435.2h0.7v0.7h-0.7zM348.3 421.2h0.7v0.7h-0.7zM345.3 423.8h0.7v0.7h-0.7zM369.8 432.2h0.7v0.7h-0.7zM344.6 423.5h0.7v0.7h-0.7zM340.0 433.0h0.7v0.7h-0.7zM367.0 436.3h0.7v0.7h-0.7zM369.4 437.8h0.7v0.7h-0.7zM348.6 439.7h0.7v0.7h-0.7zM337.8 435.0h0.7v0.7h-0.7zM354.7 420.8h0.7v0.7h-0.7zM369.3 439.9h0.7v0.7h-0.7zM368.8 422.7h0.7v0.7h-0.7zM361.9 423.7h0.7v0.7h-0.7zM346.9 421.3h0.7v0.7h-0.7zM355.9 420.2h0.7v0.7h-0.7zM335.1 429.2h0.7v0.7h-0.7zM373.8 435.5h0.7v0.7h-0.7zM368.4 438.9h0.7v0.7h-0.7zM370.2 426.1h0.7v0.7h-0.7zM368.9 434.0h0.7v0.7h-0.7zM339.7 430.2h0.7v0.7h-0.7zM354.1 421.5h0.7v0.7h-0.7zM366.4 438.2h0.7v0.7h-0.7zM374.3 433.6h0.7v0.7h-0.7zM359.8 423.8h0.7v0.7h-0.7zM346.6 420.6h0.7v0.7h-0.7zM348.2 437.9h0.7v0.7h-0.7zM355.2 441.5h0.7v0.7h-0.7zM374.5 436.0h0.7v0.7h-0.7zM353.9 441.1h0.7v0.7h-0.7zM372.5 424.1h0.7v0.7h-0.7zM362.5 439.6h0.7v0.7h-0.7zM346.3 440.7h0.7v0.7h-0.7zM351.0 438.2h0.7v0.7h-0.7zM342.8 435.0h0.7v0.7h-0.7zM359.1 440.7h0.7v0.7h-0.7zM348.0 437.7h0.7v0.7h-0.7zM371.0 427.8h0.7v0.7h-0.7zM361.4 421.6h0.7v0.7h-0.7zM336.3 427.7h0.7v0.7h-0.7zM336.0 425.9h0.7v0.7h-0.7zM349.6 423.5h0.7v0.7h-0.7zM344.8 423.5h0.7v0.7h-0.7zM369.2 427.6h0.7v0.7h-0.7zM374.9 435.1h0.7v0.7h-0.7zM371.8 425.4h0.7v0.7h-0.7zM375.8 434.6h0.7v0.7h-0.7zM353.9 440.0h0.7v0.7h-0.7zM362.6 423.5h0.7v0.7h-0.7zM356.1 438.3h0.7v0.7h-0.7zM347.0 437.1h0.7v0.7h-0.7zM347.9 421.2h0.7v0.7h-0.7zM373.7 434.1h0.7v0.7h-0.7zM361.2 421.1h0.7v0.7h-0.7zM353.7 440.1h0.7v0.7h-0.7zM347.5 422.7h0.7v0.7h-0.7zM378.5 430.9h0.7v0.7h-0.7zM370.8 429.4h0.7v0.7h-0.7zM375.2 432.5h0.7v0.7h-0.7zM340.6 427.2h0.7v0.7h-0.7zM356.4 441.3h0.7v0.7h-0.7zM359.7 424.4h0.7v0.7h-0.7zM370.7 438.0h0.7v0.7h-0.7zM341.5 434.5h0.7v0.7h-0.7zM372.1 428.4h0.7v0.7h-0.7zM371.7 435.0h0.7v0.7h-0.7zM338.5 436.4h0.7v0.7h-0.7zM357.0 423.9h0.7v0.7h-0.7zM373.3 424.9h0.7v0.7h-0.7zM346.5 425.1h0.7v0.7h-0.7zM372.7 430.1h0.7v0.7h-0.7zM348.9 439.5h0.7v0.7h-0.7zM360.1 421.6h0.7v0.7h-0.7zM352.3 440.5h0.7v0.7h-0.7zM352.1 441.2h0.7v0.7h-0.7zM351.8 423.6h0.7v0.7h-0.7zM373.1 427.6h0.7v0.7h-0.7zM339.1 434.0h0.7v0.7h-0.7zM338.9 437.7h0.7v0.7h-0.7zM372.1 426.8h0.7v0.7h-0.7zM337.0 429.2h0.7v0.7h-0.7zM371.9 438.4h0.7v0.7h-0.7zM342.6 434.3h0.7v0.7h-0.7zM357.3 439.1h0.7v0.7h-0.7z" fill="#b8b8b8" opacity="1"/>
<path d="M372.3 422.8h0.7v0.7h-0.7zM370.6 433.4h0.7v0.7h-0.7zM389.7 426.8h0.7v0.7h-0.7zM379.7 419.9h0.7v0.7h-0.7zM385.4 424.8h0.7v0.7h-0.7zM386.6 441.0h0.7v0.7h-0.7zM380.6 422.0h0.7v0.7h-0.7zM380.4 422.5h0.7v0.7h-0.7zM374.9 437.7h0.7v0.7h-0.7zM381.8 438.3h0.7v0.7h-0.7zM370.5 430.0h0.7v0.7h-0.7zM376.5 439.9h0.7v0.7h-0.7zM388.2 429.7h0.7v0.7h-0.7zM379.4 438.0h0.7v0.7h-0.7zM376.7 422.3h0.7v0.7h-0.7zM373.0 433.6h0.7v0.7h-0.7zM382.6 419.8h0.7v0.7h-0.7zM370.2 434.1h0.7v0.7h-0.7zM381.8 439.3h0.7v0.7h-0.7zM388.8 428.3h0.7v0.7h-0.7zM385.3 436.3h0.7v0.7h-0.7zM375.6 420.7h0.7v0.7h-0.7zM389.8 433.5h0.7v0.7h-0.7zM373.8 435.8h0.7v0.7h-0.7zM381.7 439.5h0.7v0.7h-0.7zM388.1 439.5h0.7v0.7h-0.7zM383.9 439.8h0.7v0.7h-0.7zM374.2 422.5h0.7v0.7h-0.7zM371.2 432.1h0.7v0.7h-0.7zM388.2 427.4h0.7v0.7h-0.7zM383.4 438.7h0.7v0.7h-0.7zM380.2 421.3h0.7v0.7h-0.7zM375.0 435.3h0.7v0.7h-0.7zM388.0 437.9h0.7v0.7h-0.7zM382.0 439.8h0.7v0.7h-0.7zM381.5 439.2h0.7v0.7h-0.7zM385.0 441.3h0.7v0.7h-0.7zM374.0 423.8h0.7v0.7h-0.7zM382.3 441.6h0.7v0.7h-0.7zM373.5 427.5h0.7v0.7h-0.7zM385.8 441.2h0.7v0.7h-0.7zM376.8 438.8h0.7v0.7h-0.7zM390.2 437.0h0.7v0.7h-0.7zM381.1 440.4h0.7v0.7h-0.7zM379.2 420.9h0.7v0.7h-0.7zM374.8 436.4h0.7v0.7h-0.7zM377.9 422.6h0.7v0.7h-0.7zM372.0 422.6h0.7v0.7h-0.7zM390.0 425.6h0.7v0.7h-0.7zM374.2 426.0h0.7v0.7h-0.7zM385.3 419.8h0.7v0.7h-0.7zM376.5 436.7h0.7v0.7h-0.7zM371.7 428.6h0.7v0.7h-0.7zM387.1 421.7h0.7v0.7h-0.7zM371.9 434.6h0.7v0.7h-0.7zM370.5 431.8h0.7v0.7h-0.7zM374.2 422.5h0.7v0.7h-0.7zM383.0 441.3h0.7v0.7h-0.7zM388.8 433.3h0.7v0.7h-0.7zM373.9 428.0h0.7v0.7h-0.7zM373.8 425.2h0.7v0.7h-0.7zM376.9 437.0h0.7v0.7h-0.7zM373.5 437.3h0.7v0.7h-0.7zM391.5 433.9h0.7v0.7h-0.7zM390.4 429.5h0.7v0.7h-0.7zM370.3 426.9h0.7v0.7h-0.7zM374.9 422.0h0.7v0.7h-0.7zM371.2 432.0h0.7v0.7h-0.7zM375.7 436.3h0.7v0.7h-0.7zM382.6 420.3h0.7v0.7h-0.7z" fill="#b8b8b8" opacity="1"/>
<path d="M395.6 410.7h0.7v0.7h-0.7zM394.7 407.4h0.7v0.7h-0.7zM389.9 402.8h0.7v0.7h-0.7zM397.1 401.4h0.7v0.7h-0.7zM382.0 398.7h0.7v0.7h-0.7zM373.2 385.2h0.7v0.7h-0.7zM361.6 394.7h0.7v0.7h-0.7zM397.5 401.7h0.7v0.7h-0.7zM371.4 381.9h0.7v0.7h-0.7zM350.0 397.5h0.7v0.7h-0.7zM359.5 391.1h0.7v0.7h-0.7zM388.2 420.9h0.7v0.7h-0.7zM387.0 422.6h0.7v0.7h-0.7zM352.6 416.1h0.7v0.7h-0.7zM360.9 396.1h0.7v0.7h-0.7zM361.5 403.5h0.7v0.7h-0.7zM401.8 401.9h0.7v0.7h-0.7zM364.3 413.3h0.7v0.7h-0.7zM353.9 412.4h0.7v0.7h-0.7zM347.9 414.6h0.7v0.7h-0.7zM390.4 410.1h0.7v0.7h-0.7zM365.1 404.0h0.7v0.7h-0.7zM354.4 409.4h0.7v0.7h-0.7zM365.1 433.2h0.7v0.7h-0.7zM365.2 418.6h0.7v0.7h-0.7zM363.0 396.8h0.7v0.7h-0.7zM362.9 407.2h0.7v0.7h-0.7zM397.0 413.0h0.7v0.7h-0.7zM372.8 417.2h0.7v0.7h-0.7zM374.1 422.7h0.7v0.7h-0.7zM389.2 423.8h0.7v0.7h-0.7zM369.9 376.1h0.7v0.7h-0.7zM390.1 409.1h0.7v0.7h-0.7zM362.5 381.3h0.7v0.7h-0.7zM375.4 432.2h0.7v0.7h-0.7zM394.8 410.3h0.7v0.7h-0.7zM387.2 406.9h0.7v0.7h-0.7zM371.0 387.1h0.7v0.7h-0.7zM399.3 389.7h0.7v0.7h-0.7zM355.9 411.7h0.7v0.7h-0.7zM366.0 413.6h0.7v0.7h-0.7zM352.6 417.6h0.7v0.7h-0.7zM353.0 418.6h0.7v0.7h-0.7zM382.4 413.5h0.7v0.7h-0.7zM388.8 403.3h0.7v0.7h-0.7zM392.2 426.6h0.7v0.7h-0.7zM375.9 377.5h0.7v0.7h-0.7zM382.6 396.3h0.7v0.7h-0.7zM354.9 394.8h0.7v0.7h-0.7zM373.0 426.6h0.7v0.7h-0.7zM365.5 417.5h0.7v0.7h-0.7zM358.7 417.6h0.7v0.7h-0.7zM384.9 427.4h0.7v0.7h-0.7zM363.2 417.7h0.7v0.7h-0.7zM356.9 415.5h0.7v0.7h-0.7zM401.9 398.8h0.7v0.7h-0.7zM363.5 403.6h0.7v0.7h-0.7zM398.9 417.1h0.7v0.7h-0.7zM389.6 405.9h0.7v0.7h-0.7zM365.9 404.5h0.7v0.7h-0.7zM357.3 383.8h0.7v0.7h-0.7zM362.7 384.7h0.7v0.7h-0.7zM372.0 382.9h0.7v0.7h-0.7zM384.7 405.7h0.7v0.7h-0.7zM376.4 380.1h0.7v0.7h-0.7zM386.4 383.5h0.7v0.7h-0.7zM375.8 414.4h0.7v0.7h-0.7zM365.6 401.9h0.7v0.7h-0.7zM367.0 391.7h0.7v0.7h-0.7zM366.1 381.9h0.7v0.7h-0.7zM393.6 398.1h0.7v0.7h-0.7zM362.3 406.7h0.7v0.7h-0.7zM374.8 415.0h0.7v0.7h-0.7zM386.9 402.4h0.7v0.7h-0.7zM375.2 395.6h0.7v0.7h-0.7zM362.5 408.2h0.7v0.7h-0.7zM375.5 393.5h0.7v0.7h-0.7zM376.8 379.2h0.7v0.7h-0.7zM355.6 399.1h0.7v0.7h-0.7zM352.9 413.2h0.7v0.7h-0.7zM349.2 414.1h0.7v0.7h-0.7zM379.8 415.4h0.7v0.7h-0.7zM364.0 398.0h0.7v0.7h-0.7zM382.5 425.9h0.7v0.7h-0.7zM386.8 403.4h0.7v0.7h-0.7zM373.7 419.1h0.7v0.7h-0.7zM362.4 423.6h0.7v0.7h-0.7zM361.8 401.3h0.7v0.7h-0.7zM385.8 398.2h0.7v0.7h-0.7zM363.6 429.9h0.7v0.7h-0.7z" fill="#d0d0d0" opacity="1"/>
<path d="M369.09,428.60C369.15,428.94 369.15,429.30 369.10,429.65C369.05,430.00 368.94,430.37 368.78,430.73C368.62,431.09 368.40,431.46 368.13,431.82C367.86,432.17 367.54,432.53 367.17,432.88C366.80,433.23 366.38,433.57 365.92,433.90C365.46,434.23 364.95,434.55 364.42,434.85C363.88,435.15 363.30,435.44 362.69,435.70C362.09,435.97 361.45,436.22 360.79,436.44C360.13,436.66 359.45,436.87 358.76,437.04C358.07,437.22 357.35,437.37 356.65,437.50C355.94,437.62 355.22,437.72 354.51,437.79C353.80,437.86 353.08,437.91 352.39,437.92C351.70,437.94 351.01,437.92 350.35,437.88C349.69,437.84 349.05,437.77 348.44,437.67C347.83,437.57 347.24,437.44 346.70,437.29C346.16,437.14 345.64,436.96 345.18,436.76C344.71,436.56 344.29,436.33 343.91,436.09C343.54,435.84 343.20,435.57 342.93,435.29C342.65,435.00 342.43,434.70 342.26,434.38C342.09,434.07 341.97,433.74 341.91,433.40C341.85,433.06 341.85,432.70 341.90,432.35C341.95,432.00 342.06,431.63 342.22,431.27C342.38,430.91 342.60,430.54 342.87,430.18C343.14,429.83 343.46,429.47 343.83,429.12C344.20,428.77 344.62,428.43 345.08,428.10C345.54,427.77 346.05,427.45 346.58,427.15C347.12,426.85 347.70,426.56 348.31,426.30C348.91,426.03 349.55,425.78 350.21,425.56C350.87,425.34 351.55,425.13 352.24,424.96C352.93,424.78 353.65,424.63 354.35,424.50C355.06,424.38 355.78,424.28 356.49,424.21C357.20,424.14 357.92,424.09 358.61,424.08C359.30,424.06 359.99,424.08 360.65,424.12C361.31,424.16 361.95,424.23 362.56,424.33C363.17,424.43 363.76,424.56 364.30,424.71C364.84,424.86 365.36,425.04 365.82,425.24C366.29,425.44 366.71,425.67 367.09,425.91C367.46,426.16 367.80,426.43 368.07,426.71C368.35,427.00 368.57,427.30 368.74,427.62C368.91,427.93 369.03,428.26 369.09,428.60Z" fill="#e0e0e0" stroke="#d0d0d0" stroke-width="0.35"/>
<path d="M367.05,428.96C367.10,429.25 367.11,429.55 367.06,429.85C367.02,430.15 366.93,430.46 366.79,430.77C366.65,431.08 366.46,431.39 366.23,431.69C366.01,432.00 365.73,432.30 365.42,432.60C365.11,432.89 364.75,433.19 364.36,433.47C363.97,433.75 363.54,434.02 363.08,434.27C362.62,434.53 362.13,434.77 361.61,435.00C361.10,435.22 360.55,435.43 360.00,435.62C359.44,435.81 358.86,435.99 358.27,436.14C357.68,436.29 357.08,436.42 356.47,436.52C355.87,436.63 355.26,436.72 354.66,436.78C354.05,436.84 353.45,436.87 352.86,436.88C352.27,436.90 351.68,436.88 351.12,436.85C350.56,436.81 350.02,436.75 349.50,436.67C348.98,436.58 348.48,436.48 348.02,436.35C347.56,436.22 347.12,436.07 346.73,435.90C346.33,435.72 345.97,435.53 345.65,435.32C345.33,435.11 345.05,434.89 344.81,434.64C344.58,434.40 344.39,434.14 344.24,433.88C344.10,433.61 344.00,433.32 343.95,433.04C343.90,432.75 343.89,432.45 343.94,432.15C343.98,431.85 344.07,431.54 344.21,431.23C344.35,430.92 344.54,430.61 344.77,430.31C344.99,430.00 345.27,429.70 345.58,429.40C345.89,429.11 346.25,428.81 346.64,428.53C347.03,428.25 347.46,427.98 347.92,427.73C348.38,427.47 348.87,427.23 349.39,427.00C349.90,426.78 350.45,426.57 351.00,426.38C351.56,426.19 352.14,426.01 352.73,425.86C353.32,425.71 353.92,425.58 354.53,425.48C355.13,425.37 355.74,425.28 356.34,425.22C356.95,425.16 357.55,425.13 358.14,425.12C358.73,425.10 359.32,425.12 359.88,425.15C360.44,425.19 360.98,425.25 361.50,425.33C362.02,425.42 362.52,425.52 362.98,425.65C363.44,425.78 363.88,425.93 364.27,426.10C364.67,426.28 365.03,426.47 365.35,426.68C365.67,426.89 365.95,427.11 366.19,427.36C366.42,427.60 366.61,427.86 366.76,428.12C366.90,428.39 367.00,428.68 367.05,428.96Z" fill="#d0d0d0" stroke="#c4c4c4" stroke-width="0.35"/>
<path d="M365.01,429.32C365.06,429.56 365.06,429.81 365.02,430.05C364.99,430.30 364.91,430.56 364.80,430.81C364.68,431.06 364.53,431.32 364.34,431.57C364.15,431.82 363.93,432.07 363.67,432.32C363.41,432.56 363.12,432.80 362.79,433.03C362.47,433.26 362.12,433.48 361.74,433.69C361.36,433.91 360.96,434.11 360.53,434.29C360.11,434.48 359.66,434.65 359.20,434.81C358.74,434.97 358.26,435.11 357.78,435.23C357.30,435.35 356.80,435.46 356.30,435.55C355.81,435.64 355.30,435.71 354.80,435.76C354.31,435.81 353.81,435.84 353.32,435.85C352.84,435.86 352.36,435.85 351.90,435.82C351.43,435.79 350.98,435.74 350.56,435.67C350.13,435.60 349.72,435.51 349.34,435.40C348.96,435.30 348.60,435.17 348.28,435.03C347.95,434.89 347.65,434.73 347.39,434.56C347.13,434.39 346.89,434.20 346.70,434.00C346.51,433.80 346.35,433.59 346.23,433.37C346.11,433.15 346.03,432.91 345.99,432.68C345.94,432.44 345.94,432.19 345.98,431.95C346.01,431.70 346.09,431.44 346.20,431.19C346.32,430.94 346.47,430.68 346.66,430.43C346.85,430.18 347.07,429.93 347.33,429.68C347.59,429.44 347.88,429.20 348.21,428.97C348.53,428.74 348.88,428.52 349.26,428.31C349.64,428.09 350.04,427.89 350.47,427.71C350.89,427.52 351.34,427.35 351.80,427.19C352.26,427.03 352.74,426.89 353.22,426.77C353.70,426.65 354.20,426.54 354.70,426.45C355.19,426.36 355.70,426.29 356.20,426.24C356.69,426.19 357.19,426.16 357.68,426.15C358.16,426.14 358.64,426.15 359.10,426.18C359.57,426.21 360.02,426.26 360.44,426.33C360.87,426.40 361.28,426.49 361.66,426.60C362.04,426.70 362.40,426.83 362.72,426.97C363.05,427.11 363.35,427.27 363.61,427.44C363.87,427.61 364.11,427.80 364.30,428.00C364.49,428.20 364.65,428.41 364.77,428.63C364.89,428.85 364.97,429.09 365.01,429.32Z" fill="#bdbdbd" stroke="#b8b8b8" stroke-width="0.35"/>
<path d="M362.97,429.68C363.01,429.87 363.01,430.06 362.98,430.26C362.95,430.45 362.89,430.65 362.80,430.85C362.71,431.05 362.59,431.25 362.45,431.45C362.30,431.65 362.12,431.84 361.92,432.03C361.72,432.23 361.48,432.42 361.23,432.60C360.98,432.78 360.70,432.95 360.40,433.12C360.11,433.28 359.79,433.44 359.46,433.59C359.12,433.73 358.77,433.87 358.41,433.99C358.05,434.12 357.67,434.23 357.29,434.32C356.91,434.42 356.52,434.51 356.13,434.57C355.74,434.64 355.34,434.70 354.95,434.74C354.56,434.78 354.17,434.80 353.79,434.81C353.41,434.81 353.03,434.81 352.67,434.78C352.31,434.76 351.95,434.72 351.62,434.67C351.28,434.61 350.96,434.54 350.66,434.46C350.36,434.38 350.08,434.28 349.82,434.17C349.57,434.06 349.33,433.93 349.13,433.80C348.92,433.66 348.74,433.51 348.59,433.36C348.43,433.20 348.31,433.03 348.22,432.86C348.12,432.69 348.06,432.50 348.03,432.32C347.99,432.13 347.99,431.94 348.02,431.74C348.05,431.55 348.11,431.35 348.20,431.15C348.29,430.95 348.41,430.75 348.55,430.55C348.70,430.35 348.88,430.16 349.08,429.97C349.28,429.77 349.52,429.58 349.77,429.40C350.02,429.22 350.30,429.05 350.60,428.88C350.89,428.72 351.21,428.56 351.54,428.41C351.88,428.27 352.23,428.13 352.59,428.01C352.95,427.88 353.33,427.77 353.71,427.68C354.09,427.58 354.48,427.49 354.87,427.43C355.26,427.36 355.66,427.30 356.05,427.26C356.44,427.22 356.83,427.20 357.21,427.19C357.59,427.19 357.97,427.19 358.33,427.22C358.69,427.24 359.05,427.28 359.38,427.33C359.72,427.39 360.04,427.46 360.34,427.54C360.64,427.62 360.92,427.72 361.18,427.83C361.43,427.94 361.67,428.07 361.87,428.20C362.08,428.34 362.26,428.49 362.41,428.64C362.57,428.80 362.69,428.97 362.78,429.14C362.88,429.31 362.94,429.50 362.97,429.68Z" fill="#a8a8a8" stroke="#ababab" stroke-width="0.35"/>
<path d="M360.94,430.04C360.96,430.18 360.96,430.32 360.94,430.46C360.92,430.60 360.88,430.75 360.81,430.89C360.75,431.04 360.66,431.18 360.55,431.33C360.44,431.47 360.31,431.61 360.17,431.75C360.02,431.89 359.85,432.03 359.67,432.16C359.48,432.29 359.28,432.42 359.07,432.54C358.85,432.66 358.62,432.78 358.38,432.88C358.13,432.99 357.88,433.09 357.62,433.18C357.35,433.27 357.08,433.35 356.80,433.42C356.53,433.49 356.24,433.55 355.96,433.60C355.67,433.65 355.39,433.69 355.10,433.72C354.82,433.75 354.53,433.76 354.26,433.77C353.98,433.77 353.70,433.77 353.44,433.75C353.18,433.73 352.92,433.71 352.68,433.67C352.43,433.63 352.20,433.58 351.98,433.52C351.76,433.46 351.56,433.38 351.37,433.30C351.19,433.22 351.01,433.13 350.86,433.03C350.71,432.94 350.58,432.83 350.47,432.72C350.36,432.60 350.27,432.48 350.20,432.35C350.13,432.23 350.09,432.09 350.06,431.96C350.04,431.82 350.04,431.68 350.06,431.54C350.08,431.40 350.12,431.25 350.19,431.11C350.25,430.96 350.34,430.82 350.45,430.67C350.56,430.53 350.69,430.39 350.83,430.25C350.98,430.11 351.15,429.97 351.33,429.84C351.52,429.71 351.72,429.58 351.93,429.46C352.15,429.34 352.38,429.22 352.62,429.12C352.87,429.01 353.12,428.91 353.38,428.82C353.65,428.73 353.92,428.65 354.20,428.58C354.47,428.51 354.76,428.45 355.04,428.40C355.33,428.35 355.61,428.31 355.90,428.28C356.18,428.25 356.47,428.24 356.74,428.23C357.02,428.23 357.30,428.23 357.56,428.25C357.82,428.27 358.08,428.29 358.32,428.33C358.57,428.37 358.80,428.42 359.02,428.48C359.24,428.54 359.44,428.62 359.63,428.70C359.81,428.78 359.99,428.87 360.14,428.97C360.29,429.06 360.42,429.17 360.53,429.28C360.64,429.40 360.73,429.52 360.80,429.65C360.87,429.77 360.91,429.91 360.94,430.04Z" fill="#b8b8b8" stroke="#9c9c9c" stroke-width="0.35"/>
<path d="M358.90,430.40C358.91,430.49 358.91,430.57 358.90,430.66C358.89,430.75 358.86,430.84 358.82,430.93C358.78,431.02 358.72,431.11 358.66,431.20C358.59,431.29 358.51,431.38 358.42,431.47C358.33,431.56 358.22,431.64 358.11,431.73C357.99,431.81 357.86,431.89 357.73,431.96C357.59,432.04 357.45,432.11 357.30,432.18C357.15,432.24 356.99,432.30 356.82,432.36C356.66,432.42 356.49,432.47 356.31,432.51C356.14,432.56 355.96,432.59 355.79,432.62C355.61,432.66 355.43,432.68 355.25,432.70C355.07,432.72 354.90,432.73 354.72,432.73C354.55,432.73 354.38,432.73 354.21,432.72C354.05,432.71 353.89,432.69 353.73,432.67C353.58,432.64 353.44,432.61 353.30,432.57C353.16,432.53 353.04,432.49 352.92,432.44C352.80,432.39 352.70,432.33 352.60,432.27C352.51,432.21 352.43,432.14 352.36,432.07C352.29,432.00 352.23,431.92 352.19,431.85C352.15,431.77 352.12,431.68 352.10,431.60C352.09,431.51 352.09,431.43 352.10,431.34C352.11,431.25 352.14,431.16 352.18,431.07C352.22,430.98 352.28,430.89 352.34,430.80C352.41,430.71 352.49,430.62 352.58,430.53C352.67,430.44 352.78,430.36 352.89,430.27C353.01,430.19 353.14,430.11 353.27,430.04C353.41,429.96 353.55,429.89 353.70,429.82C353.85,429.76 354.01,429.70 354.18,429.64C354.34,429.58 354.51,429.53 354.69,429.49C354.86,429.44 355.04,429.41 355.21,429.38C355.39,429.34 355.57,429.32 355.75,429.30C355.93,429.28 356.10,429.27 356.28,429.27C356.45,429.27 356.62,429.27 356.79,429.28C356.95,429.29 357.11,429.31 357.27,429.33C357.42,429.36 357.56,429.39 357.70,429.43C357.84,429.47 357.96,429.51 358.08,429.56C358.20,429.61 358.30,429.67 358.40,429.73C358.49,429.79 358.57,429.86 358.64,429.93C358.71,430.00 358.77,430.08 358.81,430.15C358.85,430.23 358.88,430.32 358.90,430.40Z" fill="#d8d8d8" stroke="#909090" stroke-width="0.35"/>
<path d="M379.61,416.06C379.25,416.87 378.85,417.68 378.43,418.47C378.01,419.25 377.56,420.03 377.08,420.77C376.61,421.52 376.10,422.25 375.57,422.94C375.04,423.63 374.48,424.30 373.90,424.92C373.33,425.54 372.72,426.12 372.11,426.65C371.49,427.17 370.85,427.65 370.21,428.06C369.57,428.46 368.91,428.81 368.27,429.08C367.62,429.34 366.97,429.54 366.34,429.64C365.71,429.75 365.08,429.78 364.50,429.71C363.91,429.65 363.34,429.50 362.81,429.27C362.29,429.03 361.79,428.71 361.35,428.31C360.91,427.92 360.51,427.44 360.17,426.90C359.83,426.36 359.54,425.74 359.30,425.09C359.07,424.43 358.89,423.71 358.76,422.96C358.63,422.21 358.56,421.42 358.54,420.61C358.52,419.80 358.55,418.96 358.62,418.11C358.70,417.27 358.82,416.41 358.98,415.55C359.14,414.70 359.34,413.83 359.58,412.98C359.81,412.13 360.08,411.27 360.39,410.43C360.69,409.59 361.02,408.76 361.39,407.94C361.75,407.13 362.15,406.32 362.57,405.53C362.99,404.75 363.44,403.97 363.92,403.23C364.39,402.48 364.90,401.75 365.43,401.06C365.96,400.37 366.52,399.70 367.10,399.08C367.67,398.46 368.28,397.88 368.89,397.35C369.51,396.83 370.15,396.35 370.79,395.94C371.43,395.54 372.09,395.19 372.73,394.92C373.38,394.66 374.03,394.46 374.66,394.36C375.29,394.25 375.92,394.22 376.50,394.29C377.09,394.35 377.66,394.50 378.19,394.73C378.71,394.97 379.21,395.29 379.65,395.69C380.09,396.08 380.49,396.56 380.83,397.10C381.17,397.64 381.46,398.26 381.70,398.91C381.93,399.57 382.11,400.29 382.24,401.04C382.37,401.79 382.44,402.58 382.46,403.39C382.48,404.20 382.45,405.04 382.38,405.89C382.30,406.73 382.18,407.59 382.02,408.45C381.86,409.30 381.66,410.17 381.42,411.02C381.19,411.87 380.92,412.73 380.61,413.57C380.31,414.41 379.98,415.24 379.61,416.06Z" fill="#e6e6e6" stroke="#d0d0d0" stroke-width="0.35"/>
<path d="M378.48,415.21C378.16,415.91 377.82,416.61 377.46,417.28C377.10,417.96 376.71,418.62 376.30,419.27C375.89,419.91 375.46,420.53 375.00,421.13C374.54,421.72 374.06,422.30 373.57,422.83C373.07,423.36 372.55,423.87 372.02,424.32C371.49,424.77 370.94,425.18 370.39,425.53C369.84,425.88 369.28,426.18 368.72,426.41C368.17,426.63 367.60,426.80 367.06,426.89C366.52,426.99 365.98,427.01 365.48,426.95C364.97,426.90 364.48,426.77 364.03,426.57C363.58,426.37 363.15,426.09 362.77,425.75C362.40,425.41 362.05,425.00 361.76,424.53C361.46,424.07 361.21,423.54 361.01,422.97C360.81,422.41 360.65,421.79 360.54,421.15C360.43,420.50 360.37,419.82 360.35,419.12C360.34,418.43 360.36,417.70 360.43,416.98C360.49,416.25 360.59,415.51 360.73,414.78C360.87,414.04 361.04,413.30 361.24,412.56C361.45,411.83 361.68,411.09 361.94,410.37C362.20,409.65 362.49,408.93 362.80,408.23C363.12,407.53 363.46,406.83 363.82,406.16C364.18,405.48 364.57,404.82 364.98,404.17C365.39,403.53 365.82,402.91 366.28,402.31C366.74,401.72 367.22,401.14 367.71,400.61C368.21,400.08 368.73,399.57 369.26,399.12C369.79,398.67 370.34,398.26 370.89,397.91C371.44,397.56 372.00,397.26 372.56,397.03C373.11,396.81 373.68,396.64 374.22,396.55C374.76,396.45 375.30,396.43 375.80,396.49C376.31,396.54 376.80,396.67 377.25,396.87C377.70,397.07 378.13,397.35 378.51,397.69C378.88,398.03 379.23,398.44 379.52,398.91C379.82,399.37 380.07,399.90 380.27,400.47C380.47,401.03 380.63,401.65 380.74,402.29C380.85,402.94 380.91,403.62 380.93,404.32C380.94,405.01 380.92,405.74 380.85,406.46C380.79,407.19 380.69,407.93 380.55,408.66C380.41,409.40 380.24,410.14 380.04,410.88C379.83,411.61 379.60,412.35 379.34,413.07C379.08,413.79 378.79,414.51 378.48,415.21Z" fill="#d9d9d9" stroke="#c4c4c4" stroke-width="0.35"/>
<path d="M377.34,414.36C377.08,414.95 376.80,415.53 376.49,416.10C376.19,416.66 375.86,417.22 375.52,417.76C375.18,418.29 374.81,418.82 374.43,419.32C374.05,419.81 373.65,420.30 373.23,420.74C372.81,421.19 372.38,421.61 371.94,421.99C371.49,422.36 371.03,422.71 370.57,423.00C370.11,423.29 369.64,423.55 369.17,423.74C368.71,423.93 368.24,424.07 367.78,424.14C367.33,424.22 366.88,424.24 366.46,424.19C366.03,424.15 365.62,424.04 365.25,423.87C364.87,423.70 364.51,423.47 364.19,423.19C363.88,422.90 363.59,422.55 363.34,422.17C363.10,421.78 362.89,421.33 362.72,420.86C362.55,420.39 362.42,419.87 362.33,419.33C362.24,418.79 362.19,418.22 362.17,417.64C362.15,417.06 362.18,416.45 362.23,415.84C362.28,415.24 362.37,414.61 362.48,414.00C362.60,413.38 362.75,412.76 362.91,412.14C363.08,411.53 363.28,410.92 363.50,410.31C363.72,409.71 363.96,409.11 364.22,408.52C364.48,407.93 364.76,407.35 365.07,406.78C365.37,406.22 365.70,405.66 366.04,405.12C366.38,404.59 366.75,404.06 367.13,403.56C367.51,403.07 367.91,402.58 368.33,402.14C368.75,401.69 369.18,401.27 369.62,400.89C370.07,400.52 370.53,400.17 370.99,399.88C371.45,399.59 371.92,399.33 372.39,399.14C372.85,398.95 373.32,398.81 373.78,398.74C374.23,398.66 374.68,398.64 375.10,398.69C375.53,398.73 375.94,398.84 376.31,399.01C376.69,399.18 377.05,399.41 377.37,399.69C377.68,399.98 377.97,400.33 378.22,400.71C378.46,401.10 378.67,401.55 378.84,402.02C379.01,402.49 379.14,403.01 379.23,403.55C379.32,404.09 379.37,404.66 379.39,405.24C379.41,405.82 379.38,406.43 379.33,407.04C379.28,407.64 379.19,408.27 379.08,408.88C378.96,409.50 378.81,410.12 378.65,410.74C378.48,411.35 378.28,411.96 378.06,412.57C377.84,413.17 377.60,413.77 377.34,414.36Z" fill="#cbcbcb" stroke="#b8b8b8" stroke-width="0.35"/>
<path d="M376.21,413.51C375.99,413.99 375.77,414.46 375.52,414.91C375.28,415.37 375.01,415.82 374.74,416.25C374.46,416.68 374.17,417.10 373.86,417.50C373.55,417.91 373.23,418.29 372.89,418.65C372.56,419.01 372.21,419.35 371.85,419.66C371.49,419.96 371.12,420.24 370.75,420.47C370.38,420.71 370.00,420.91 369.63,421.07C369.25,421.22 368.87,421.33 368.51,421.39C368.14,421.46 367.78,421.47 367.44,421.43C367.10,421.40 366.77,421.31 366.46,421.17C366.16,421.04 365.87,420.85 365.61,420.62C365.36,420.39 365.13,420.11 364.93,419.80C364.73,419.49 364.56,419.13 364.43,418.75C364.29,418.37 364.18,417.95 364.11,417.52C364.04,417.08 364.00,416.62 363.98,416.15C363.97,415.68 363.99,415.20 364.03,414.71C364.07,414.22 364.15,413.72 364.24,413.22C364.33,412.72 364.45,412.22 364.58,411.73C364.72,411.23 364.88,410.74 365.05,410.25C365.23,409.76 365.42,409.28 365.63,408.81C365.85,408.33 366.07,407.86 366.32,407.41C366.56,406.95 366.83,406.50 367.10,406.07C367.38,405.64 367.67,405.22 367.98,404.82C368.29,404.41 368.61,404.03 368.95,403.67C369.28,403.31 369.63,402.97 369.99,402.66C370.35,402.36 370.72,402.08 371.09,401.85C371.46,401.61 371.84,401.41 372.21,401.25C372.59,401.10 372.97,400.99 373.33,400.93C373.70,400.86 374.06,400.85 374.40,400.89C374.74,400.92 375.07,401.01 375.38,401.15C375.68,401.28 375.97,401.47 376.23,401.70C376.48,401.93 376.71,402.21 376.91,402.52C377.11,402.83 377.28,403.19 377.41,403.57C377.55,403.95 377.66,404.37 377.73,404.80C377.80,405.24 377.84,405.70 377.86,406.17C377.87,406.64 377.85,407.12 377.81,407.61C377.77,408.10 377.69,408.60 377.60,409.10C377.51,409.60 377.39,410.10 377.26,410.59C377.12,411.09 376.96,411.58 376.79,412.07C376.61,412.56 376.42,413.04 376.21,413.51Z" fill="#bcbcbc" stroke="#ababab" stroke-width="0.35"/>
<path d="M375.07,412.67C374.91,413.02 374.74,413.38 374.55,413.73C374.36,414.07 374.17,414.41 373.96,414.74C373.75,415.07 373.52,415.39 373.29,415.69C373.06,416.00 372.81,416.29 372.56,416.56C372.30,416.84 372.04,417.09 371.77,417.32C371.50,417.56 371.21,417.77 370.93,417.95C370.65,418.12 370.36,418.28 370.08,418.39C369.79,418.51 369.51,418.60 369.23,418.64C368.95,418.69 368.68,418.70 368.42,418.67C368.16,418.65 367.91,418.58 367.68,418.48C367.45,418.37 367.23,418.23 367.04,418.06C366.84,417.88 366.67,417.67 366.52,417.44C366.36,417.20 366.24,416.93 366.13,416.64C366.03,416.35 365.95,416.03 365.89,415.70C365.84,415.37 365.81,415.02 365.80,414.67C365.79,414.31 365.80,413.94 365.83,413.57C365.87,413.20 365.92,412.82 365.99,412.44C366.06,412.07 366.15,411.69 366.25,411.31C366.36,410.94 366.48,410.56 366.61,410.19C366.74,409.82 366.89,409.45 367.05,409.09C367.21,408.74 367.38,408.38 367.57,408.03C367.76,407.69 367.95,407.35 368.16,407.02C368.37,406.69 368.60,406.37 368.83,406.07C369.06,405.76 369.31,405.47 369.56,405.20C369.82,404.92 370.08,404.67 370.35,404.44C370.62,404.20 370.91,403.99 371.19,403.81C371.47,403.64 371.76,403.48 372.04,403.37C372.33,403.25 372.61,403.16 372.89,403.12C373.17,403.07 373.44,403.06 373.70,403.09C373.96,403.11 374.21,403.18 374.44,403.28C374.67,403.39 374.89,403.53 375.08,403.70C375.28,403.88 375.45,404.09 375.60,404.32C375.76,404.56 375.88,404.83 375.99,405.12C376.09,405.41 376.17,405.73 376.23,406.06C376.28,406.39 376.31,406.74 376.32,407.09C376.33,407.45 376.32,407.82 376.29,408.19C376.25,408.56 376.20,408.94 376.13,409.32C376.06,409.69 375.97,410.07 375.87,410.45C375.76,410.82 375.64,411.20 375.51,411.57C375.38,411.94 375.23,412.31 375.07,412.67Z" fill="#b0b0b0" stroke="#9c9c9c" stroke-width="0.35"/>
<path d="M373.93,411.82C373.82,412.06 373.71,412.30 373.58,412.54C373.45,412.78 373.32,413.01 373.17,413.23C373.03,413.46 372.88,413.67 372.72,413.88C372.56,414.09 372.39,414.29 372.22,414.48C372.05,414.66 371.87,414.84 371.68,414.99C371.50,415.15 371.31,415.30 371.11,415.42C370.92,415.54 370.72,415.64 370.53,415.72C370.34,415.80 370.14,415.86 369.95,415.89C369.76,415.93 369.58,415.93 369.40,415.91C369.22,415.90 369.05,415.85 368.89,415.78C368.74,415.71 368.59,415.61 368.46,415.49C368.32,415.38 368.20,415.23 368.10,415.07C368.00,414.91 367.91,414.72 367.84,414.53C367.77,414.33 367.72,414.11 367.68,413.89C367.64,413.66 367.62,413.42 367.61,413.18C367.61,412.94 367.61,412.69 367.64,412.43C367.66,412.18 367.70,411.92 367.74,411.67C367.79,411.41 367.85,411.15 367.92,410.89C367.99,410.64 368.08,410.38 368.17,410.13C368.26,409.88 368.36,409.63 368.47,409.38C368.58,409.14 368.69,408.90 368.82,408.66C368.95,408.42 369.08,408.19 369.23,407.97C369.37,407.74 369.52,407.53 369.68,407.32C369.84,407.11 370.01,406.91 370.18,406.72C370.35,406.54 370.53,406.36 370.72,406.21C370.90,406.05 371.09,405.90 371.29,405.78C371.48,405.66 371.68,405.56 371.87,405.48C372.06,405.40 372.26,405.34 372.45,405.31C372.64,405.27 372.82,405.27 373.00,405.29C373.18,405.30 373.35,405.35 373.51,405.42C373.66,405.49 373.81,405.59 373.94,405.71C374.08,405.82 374.20,405.97 374.30,406.13C374.40,406.29 374.49,406.48 374.56,406.67C374.63,406.87 374.68,407.09 374.72,407.31C374.76,407.54 374.78,407.78 374.79,408.02C374.79,408.26 374.79,408.51 374.76,408.77C374.74,409.02 374.70,409.28 374.66,409.53C374.61,409.79 374.55,410.05 374.48,410.31C374.41,410.56 374.32,410.82 374.23,411.07C374.14,411.32 374.04,411.57 373.93,411.82Z" fill="#d0d0d0" stroke="#909090" stroke-width="0.35"/>
<path d="M387.60,430.50C387.60,430.84 387.57,431.19 387.52,431.53C387.46,431.87 387.38,432.21 387.27,432.54C387.16,432.87 387.02,433.19 386.86,433.50C386.70,433.80 386.51,434.10 386.30,434.38C386.09,434.66 385.86,434.92 385.61,435.17C385.36,435.41 385.08,435.64 384.80,435.84C384.51,436.04 384.20,436.22 383.89,436.38C383.57,436.54 383.24,436.67 382.90,436.78C382.56,436.88 382.21,436.96 381.86,437.02C381.51,437.07 381.15,437.10 380.80,437.10C380.45,437.10 380.09,437.07 379.74,437.02C379.39,436.96 379.04,436.88 378.70,436.78C378.36,436.67 378.03,436.54 377.71,436.38C377.40,436.22 377.09,436.04 376.80,435.84C376.52,435.64 376.24,435.41 375.99,435.17C375.74,434.92 375.51,434.66 375.30,434.38C375.09,434.10 374.90,433.80 374.74,433.50C374.58,433.19 374.44,432.87 374.33,432.54C374.22,432.21 374.14,431.87 374.08,431.53C374.03,431.19 374.00,430.84 374.00,430.50C374.00,430.16 374.03,429.81 374.08,429.47C374.14,429.13 374.22,428.79 374.33,428.46C374.44,428.13 374.58,427.81 374.74,427.50C374.90,427.20 375.09,426.90 375.30,426.62C375.51,426.34 375.74,426.08 375.99,425.83C376.24,425.59 376.52,425.36 376.80,425.16C377.09,424.96 377.40,424.78 377.71,424.62C378.03,424.46 378.36,424.33 378.70,424.22C379.04,424.12 379.39,424.04 379.74,423.98C380.09,423.93 380.45,423.90 380.80,423.90C381.15,423.90 381.51,423.93 381.86,423.98C382.21,424.04 382.56,424.12 382.90,424.22C383.24,424.33 383.57,424.46 383.89,424.62C384.20,424.78 384.51,424.96 384.80,425.16C385.08,425.36 385.36,425.59 385.61,425.83C385.86,426.08 386.09,426.34 386.30,426.62C386.51,426.90 386.70,427.20 386.86,427.50C387.02,427.81 387.16,428.13 387.27,428.46C387.38,428.79 387.46,429.13 387.52,429.47C387.57,429.81 387.60,430.16 387.60,430.50Z" fill="#d4d4d4" stroke="#b8b8b8" stroke-width="0.35"/>
<path d="M386.24,430.50C386.24,430.78 386.22,431.05 386.17,431.33C386.13,431.60 386.06,431.87 385.97,432.13C385.89,432.39 385.78,432.65 385.65,432.90C385.52,433.14 385.37,433.38 385.20,433.60C385.03,433.83 384.85,434.04 384.65,434.23C384.45,434.43 384.23,434.61 384.00,434.77C383.77,434.93 383.52,435.08 383.27,435.20C383.02,435.33 382.75,435.44 382.48,435.52C382.21,435.61 381.93,435.67 381.65,435.71C381.37,435.76 381.08,435.78 380.80,435.78C380.52,435.78 380.23,435.76 379.95,435.71C379.67,435.67 379.39,435.61 379.12,435.52C378.85,435.44 378.58,435.33 378.33,435.20C378.08,435.08 377.83,434.93 377.60,434.77C377.37,434.61 377.15,434.43 376.95,434.23C376.75,434.04 376.57,433.83 376.40,433.60C376.23,433.38 376.08,433.14 375.95,432.90C375.82,432.65 375.71,432.39 375.63,432.13C375.54,431.87 375.47,431.60 375.43,431.33C375.38,431.05 375.36,430.78 375.36,430.50C375.36,430.22 375.38,429.95 375.43,429.67C375.47,429.40 375.54,429.13 375.63,428.87C375.71,428.61 375.82,428.35 375.95,428.10C376.08,427.86 376.23,427.62 376.40,427.40C376.57,427.17 376.75,426.96 376.95,426.77C377.15,426.57 377.37,426.39 377.60,426.23C377.83,426.07 378.08,425.92 378.33,425.80C378.58,425.67 378.85,425.56 379.12,425.48C379.39,425.39 379.67,425.33 379.95,425.29C380.23,425.24 380.52,425.22 380.80,425.22C381.08,425.22 381.37,425.24 381.65,425.29C381.93,425.33 382.21,425.39 382.48,425.48C382.75,425.56 383.02,425.67 383.27,425.80C383.52,425.92 383.77,426.07 384.00,426.23C384.23,426.39 384.45,426.57 384.65,426.77C384.85,426.96 385.03,427.17 385.20,427.40C385.37,427.62 385.52,427.86 385.65,428.10C385.78,428.35 385.89,428.61 385.97,428.87C386.06,429.13 386.13,429.40 386.17,429.67C386.22,429.95 386.24,430.22 386.24,430.50Z" fill="#b8b8b8" stroke="#ababab" stroke-width="0.35"/>
<path d="M384.88,430.50C384.88,430.71 384.86,430.92 384.83,431.12C384.80,431.32 384.75,431.53 384.68,431.72C384.61,431.92 384.53,432.11 384.44,432.30C384.34,432.48 384.23,432.66 384.10,432.83C383.98,432.99 383.84,433.15 383.68,433.30C383.53,433.45 383.37,433.58 383.20,433.70C383.03,433.83 382.84,433.93 382.65,434.03C382.46,434.12 382.26,434.20 382.06,434.27C381.86,434.33 381.65,434.38 381.44,434.41C381.23,434.44 381.01,434.46 380.80,434.46C380.59,434.46 380.37,434.44 380.16,434.41C379.95,434.38 379.74,434.33 379.54,434.27C379.34,434.20 379.14,434.12 378.95,434.03C378.76,433.93 378.57,433.83 378.40,433.70C378.23,433.58 378.07,433.45 377.92,433.30C377.76,433.15 377.62,432.99 377.50,432.83C377.37,432.66 377.26,432.48 377.16,432.30C377.07,432.11 376.99,431.92 376.92,431.72C376.85,431.53 376.80,431.32 376.77,431.12C376.74,430.92 376.72,430.71 376.72,430.50C376.72,430.29 376.74,430.08 376.77,429.88C376.80,429.68 376.85,429.47 376.92,429.28C376.99,429.08 377.07,428.89 377.16,428.70C377.26,428.52 377.37,428.34 377.50,428.17C377.62,428.01 377.76,427.85 377.92,427.70C378.07,427.55 378.23,427.42 378.40,427.30C378.57,427.17 378.76,427.07 378.95,426.97C379.14,426.88 379.34,426.80 379.54,426.73C379.74,426.67 379.95,426.62 380.16,426.59C380.37,426.56 380.59,426.54 380.80,426.54C381.01,426.54 381.23,426.56 381.44,426.59C381.65,426.62 381.86,426.67 382.06,426.73C382.26,426.80 382.46,426.88 382.65,426.97C382.84,427.07 383.03,427.17 383.20,427.30C383.37,427.42 383.53,427.55 383.68,427.70C383.84,427.85 383.98,428.01 384.10,428.17C384.23,428.34 384.34,428.52 384.44,428.70C384.53,428.89 384.61,429.08 384.68,429.28C384.75,429.47 384.80,429.68 384.83,429.88C384.86,430.08 384.88,430.29 384.88,430.50Z" fill="#9c9c9c" stroke="#9c9c9c" stroke-width="0.35"/>
<path d="M383.66,430.50C383.66,430.64 383.64,430.79 383.62,430.93C383.60,431.08 383.56,431.22 383.52,431.36C383.47,431.49 383.41,431.63 383.34,431.76C383.28,431.89 383.20,432.01 383.11,432.13C383.02,432.25 382.92,432.36 382.82,432.46C382.71,432.56 382.60,432.66 382.48,432.74C382.36,432.83 382.23,432.90 382.10,432.97C381.96,433.04 381.82,433.09 381.68,433.14C381.54,433.18 381.39,433.22 381.25,433.24C381.10,433.26 380.95,433.27 380.80,433.27C380.65,433.27 380.50,433.26 380.35,433.24C380.21,433.22 380.06,433.18 379.92,433.14C379.78,433.09 379.64,433.04 379.50,432.97C379.37,432.90 379.24,432.83 379.12,432.74C379.00,432.66 378.89,432.56 378.78,432.46C378.68,432.36 378.58,432.25 378.49,432.13C378.40,432.01 378.32,431.89 378.26,431.76C378.19,431.63 378.13,431.49 378.08,431.36C378.04,431.22 378.00,431.08 377.98,430.93C377.96,430.79 377.94,430.64 377.94,430.50C377.94,430.36 377.96,430.21 377.98,430.07C378.00,429.92 378.04,429.78 378.08,429.64C378.13,429.51 378.19,429.37 378.26,429.24C378.32,429.11 378.40,428.99 378.49,428.87C378.58,428.75 378.68,428.64 378.78,428.54C378.89,428.44 379.00,428.34 379.12,428.26C379.24,428.17 379.37,428.10 379.50,428.03C379.64,427.96 379.78,427.91 379.92,427.86C380.06,427.82 380.21,427.78 380.35,427.76C380.50,427.74 380.65,427.73 380.80,427.73C380.95,427.73 381.10,427.74 381.25,427.76C381.39,427.78 381.54,427.82 381.68,427.86C381.82,427.91 381.96,427.96 382.10,428.03C382.23,428.10 382.36,428.17 382.48,428.26C382.60,428.34 382.71,428.44 382.82,428.54C382.92,428.64 383.02,428.75 383.11,428.87C383.20,428.99 383.28,429.11 383.34,429.24C383.41,429.37 383.47,429.51 383.52,429.64C383.56,429.78 383.60,429.92 383.62,430.07C383.64,430.21 383.66,430.36 383.66,430.50Z" fill="#8a8a8a" stroke="#909090" stroke-width="0.35"/>
<path d="M382.50,430.50C382.50,430.59 382.49,430.67 382.48,430.76C382.47,430.84 382.44,430.93 382.42,431.01C382.39,431.09 382.35,431.17 382.31,431.25C382.27,431.33 382.23,431.40 382.18,431.47C382.12,431.54 382.06,431.61 382.00,431.67C381.94,431.73 381.87,431.78 381.80,431.83C381.73,431.89 381.65,431.93 381.57,431.97C381.49,432.01 381.41,432.04 381.33,432.07C381.24,432.10 381.15,432.12 381.07,432.13C380.98,432.14 380.89,432.15 380.80,432.15C380.71,432.15 380.62,432.14 380.53,432.13C380.45,432.12 380.36,432.10 380.27,432.07C380.19,432.04 380.11,432.01 380.03,431.97C379.95,431.93 379.87,431.89 379.80,431.83C379.73,431.78 379.66,431.73 379.60,431.67C379.54,431.61 379.48,431.54 379.42,431.47C379.37,431.40 379.33,431.33 379.29,431.25C379.25,431.17 379.21,431.09 379.18,431.01C379.16,430.93 379.13,430.84 379.12,430.76C379.11,430.67 379.10,430.59 379.10,430.50C379.10,430.41 379.11,430.33 379.12,430.24C379.13,430.16 379.16,430.07 379.18,429.99C379.21,429.91 379.25,429.83 379.29,429.75C379.33,429.67 379.37,429.60 379.42,429.53C379.48,429.46 379.54,429.39 379.60,429.33C379.66,429.27 379.73,429.22 379.80,429.17C379.87,429.11 379.95,429.07 380.03,429.03C380.11,428.99 380.19,428.96 380.27,428.93C380.36,428.90 380.45,428.88 380.53,428.87C380.62,428.86 380.71,428.85 380.80,428.85C380.89,428.85 380.98,428.86 381.07,428.87C381.15,428.88 381.24,428.90 381.33,428.93C381.41,428.96 381.49,428.99 381.57,429.03C381.65,429.07 381.73,429.11 381.80,429.17C381.87,429.22 381.94,429.27 382.00,429.33C382.06,429.39 382.12,429.46 382.18,429.53C382.23,429.60 382.27,429.67 382.31,429.75C382.35,429.83 382.39,429.91 382.42,429.99C382.44,430.07 382.47,430.16 382.48,430.24C382.49,430.33 382.50,430.41 382.50,430.50Z" fill="#f6f6f6" stroke="#a8a8a8" stroke-width="0.35"/>
<rect x="334.60" y="374.30" width="72.90" height="72.70" fill="none" stroke="#b8b8b8" stroke-width="0.9" />
<path d="M334.60,444.00h-2.2M334.60,440.61h-1.2M334.60,436.97h-1.2M334.60,433.48h-1.2M334.60,429.80h-1.2M334.60,426.09h-2.2M334.60,422.84h-1.2M334.60,419.63h-1.2M334.60,415.76h-1.2M334.60,412.35h-1.2M334.60,408.97h-2.2M334.60,404.97h-1.2M334.60,401.39h-1.2M334.60,397.52h-1.2M334.60,393.94h-1.2M334.60,390.23h-2.2M334.60,386.91h-1.2M334.60,383.20h-1.2M334.60,379.31h-1.2M337.60,447.00v2.2M341.39,447.00v1.2M345.13,447.00v1.2M348.38,447.00v1.2M352.19,447.00v1.2M355.86,447.00v2.2M359.30,447.00v1.2M362.53,447.00v1.2M366.42,447.00v1.2M370.00,447.00v1.2M373.77,447.00v2.2M377.68,447.00v1.2M381.45,447.00v1.2M385.38,447.00v1.2M388.90,447.00v1.2M392.74,447.00v2.2M396.30,447.00v1.2M400.24,447.00v1.2M404.15,447.00v1.2" stroke="#8a8a8a" stroke-width="0.6" fill="none"/>
<rect x="332.40" y="428.02" width="1.6" height="1.6" fill="#222"/>
<rect x="346.22" y="447.30" width="3.2" height="1.4" fill="#222"/>
<path d="M360.00,389.20 L394.30,389.20 L394.30,407.90 L389.30,415.00 L379.10,419.20 L373.80,428.70 L359.80,422.20 Z" fill="none" stroke="#444" stroke-width="0.9" />
<path d="M389.30,415.00 L398.80,431.70 L379.10,444.20 L372.00,435.30 L373.80,428.70 L379.10,419.20 Z" fill="none" stroke="#444" stroke-width="0.9" />
<text x="378.00" y="385.50" font-size="8.8" text-anchor="middle" font-weight="normal" fill="#111" stroke="#111" stroke-width="0.15" >42.8</text>
<text x="406.50" y="443.00" font-size="8.8" text-anchor="end" font-weight="normal" fill="#111" stroke="#111" stroke-width="0.15" >25.3</text>
<path d="M455.2 401.9h0.7v0.7h-0.7zM436.0 403.4h0.7v0.7h-0.7zM457.7 405.4h0.7v0.7h-0.7zM435.4 416.6h0.7v0.7h-0.7zM436.4 425.8h0.7v0.7h-0.7zM456.5 395.1h0.7v0.7h-0.7zM460.9 418.3h0.7v0.7h-0.7zM435.2 403.9h0.7v0.7h-0.7zM435.5 404.9h0.7v0.7h-0.7zM456.5 402.8h0.7v0.7h-0.7zM456.3 429.0h0.7v0.7h-0.7zM446.3 427.1h0.7v0.7h-0.7zM433.8 418.9h0.7v0.7h-0.7zM440.7 420.2h0.7v0.7h-0.7zM446.0 426.6h0.7v0.7h-0.7zM461.1 413.0h0.7v0.7h-0.7zM446.0 394.3h0.7v0.7h-0.7zM447.7 434.1h0.7v0.7h-0.7zM443.5 392.1h0.7v0.7h-0.7zM434.0 398.5h0.7v0.7h-0.7zM447.9 430.6h0.7v0.7h-0.7zM458.7 411.9h0.7v0.7h-0.7zM448.0 427.7h0.7v0.7h-0.7zM438.1 421.6h0.7v0.7h-0.7zM455.7 398.9h0.7v0.7h-0.7zM460.8 412.7h0.7v0.7h-0.7zM459.3 399.4h0.7v0.7h-0.7zM443.9 427.2h0.7v0.7h-0.7zM447.9 394.9h0.7v0.7h-0.7zM458.1 417.0h0.7v0.7h-0.7zM448.5 428.8h0.7v0.7h-0.7zM454.8 430.2h0.7v0.7h-0.7zM436.1 410.4h0.7v0.7h-0.7zM443.5 426.1h0.7v0.7h-0.7zM449.7 388.2h0.7v0.7h-0.7zM450.6 387.1h0.7v0.7h-0.7zM438.2 398.9h0.7v0.7h-0.7zM438.6 417.5h0.7v0.7h-0.7zM439.2 424.3h0.7v0.7h-0.7zM455.2 395.0h0.7v0.7h-0.7zM456.8 421.4h0.7v0.7h-0.7zM439.7 428.9h0.7v0.7h-0.7zM453.5 392.7h0.7v0.7h-0.7zM440.8 394.5h0.7v0.7h-0.7zM444.5 432.0h0.7v0.7h-0.7zM448.8 390.3h0.7v0.7h-0.7zM459.4 400.4h0.7v0.7h-0.7zM444.0 395.3h0.7v0.7h-0.7zM456.1 406.2h0.7v0.7h-0.7zM449.9 424.9h0.7v0.7h-0.7zM452.7 429.2h0.7v0.7h-0.7zM438.1 404.4h0.7v0.7h-0.7zM451.0 430.8h0.7v0.7h-0.7zM442.8 425.1h0.7v0.7h-0.7zM450.5 394.0h0.7v0.7h-0.7zM457.2 420.1h0.7v0.7h-0.7zM446.2 395.6h0.7v0.7h-0.7zM440.1 398.3h0.7v0.7h-0.7zM455.0 396.1h0.7v0.7h-0.7zM441.2 424.9h0.7v0.7h-0.7zM455.0 416.9h0.7v0.7h-0.7zM435.2 409.6h0.7v0.7h-0.7zM452.2 423.0h0.7v0.7h-0.7zM433.4 417.7h0.7v0.7h-0.7zM459.1 417.2h0.7v0.7h-0.7zM456.7 402.8h0.7v0.7h-0.7zM438.6 424.4h0.7v0.7h-0.7zM447.9 424.6h0.7v0.7h-0.7zM455.4 428.7h0.7v0.7h-0.7zM434.3 420.1h0.7v0.7h-0.7zM453.4 429.2h0.7v0.7h-0.7zM448.6 427.8h0.7v0.7h-0.7zM446.6 385.7h0.7v0.7h-0.7zM460.6 407.8h0.7v0.7h-0.7zM456.6 423.5h0.7v0.7h-0.7zM445.5 393.1h0.7v0.7h-0.7zM436.8 404.5h0.7v0.7h-0.7zM441.4 390.1h0.7v0.7h-0.7zM443.0 394.9h0.7v0.7h-0.7zM457.3 411.2h0.7v0.7h-0.7zM437.9 411.3h0.7v0.7h-0.7zM445.2 388.2h0.7v0.7h-0.7zM443.2 391.6h0.7v0.7h-0.7zM458.3 406.3h0.7v0.7h-0.7zM437.4 426.4h0.7v0.7h-0.7zM436.7 399.6h0.7v0.7h-0.7zM437.8 416.5h0.7v0.7h-0.7zM445.6 428.2h0.7v0.7h-0.7zM450.6 392.3h0.7v0.7h-0.7zM443.4 424.7h0.7v0.7h-0.7zM451.6 393.9h0.7v0.7h-0.7zM440.0 419.5h0.7v0.7h-0.7zM444.4 392.6h0.7v0.7h-0.7zM443.1 426.9h0.7v0.7h-0.7zM445.8 427.9h0.7v0.7h-0.7zM442.4 425.7h0.7v0.7h-0.7zM450.9 387.1h0.7v0.7h-0.7zM437.4 407.1h0.7v0.7h-0.7zM452.7 425.1h0.7v0.7h-0.7zM458.8 396.0h0.7v0.7h-0.7zM454.4 419.5h0.7v0.7h-0.7zM458.3 399.1h0.7v0.7h-0.7zM434.2 411.7h0.7v0.7h-0.7zM437.8 405.0h0.7v0.7h-0.7zM454.8 402.6h0.7v0.7h-0.7zM441.5 421.7h0.7v0.7h-0.7zM456.4 415.4h0.7v0.7h-0.7zM453.7 430.9h0.7v0.7h-0.7zM435.2 402.6h0.7v0.7h-0.7zM453.6 393.0h0.7v0.7h-0.7zM449.7 426.2h0.7v0.7h-0.7zM456.7 419.9h0.7v0.7h-0.7zM451.9 387.4h0.7v0.7h-0.7zM441.8 395.8h0.7v0.7h-0.7zM453.2 391.9h0.7v0.7h-0.7zM433.2 411.7h0.7v0.7h-0.7zM436.4 424.3h0.7v0.7h-0.7zM436.1 419.3h0.7v0.7h-0.7zM444.6 426.1h0.7v0.7h-0.7zM445.5 387.3h0.7v0.7h-0.7zM456.1 417.6h0.7v0.7h-0.7zM453.1 388.3h0.7v0.7h-0.7zM435.3 395.9h0.7v0.7h-0.7zM433.5 400.5h0.7v0.7h-0.7zM435.7 407.9h0.7v0.7h-0.7zM456.3 391.2h0.7v0.7h-0.7zM451.2 424.4h0.7v0.7h-0.7zM441.6 423.0h0.7v0.7h-0.7zM452.8 426.9h0.7v0.7h-0.7zM460.6 406.5h0.7v0.7h-0.7zM443.7 426.5h0.7v0.7h-0.7zM443.0 431.9h0.7v0.7h-0.7zM443.5 424.5h0.7v0.7h-0.7zM458.7 397.3h0.7v0.7h-0.7zM436.6 402.5h0.7v0.7h-0.7zM453.3 426.1h0.7v0.7h-0.7zM439.7 428.9h0.7v0.7h-0.7zM452.2 431.1h0.7v0.7h-0.7zM460.4 400.5h0.7v0.7h-0.7zM451.7 396.7h0.7v0.7h-0.7zM442.6 392.6h0.7v0.7h-0.7zM456.0 414.0h0.7v0.7h-0.7zM434.9 399.4h0.7v0.7h-0.7zM437.1 410.8h0.7v0.7h-0.7zM458.6 416.3h0.7v0.7h-0.7zM441.6 421.8h0.7v0.7h-0.7zM454.6 395.6h0.7v0.7h-0.7zM442.8 396.1h0.7v0.7h-0.7zM459.5 407.1h0.7v0.7h-0.7zM459.6 415.2h0.7v0.7h-0.7z" fill="#dcbcc6" opacity="1"/>
<path d="M456.8 435.4h0.7v0.7h-0.7zM449.3 437.6h0.7v0.7h-0.7zM448.3 421.0h0.7v0.7h-0.7zM430.0 437.4h0.7v0.7h-0.7zM431.6 418.6h0.7v0.7h-0.7zM425.2 421.7h0.7v0.7h-0.7zM421.3 435.1h0.7v0.7h-0.7zM432.2 421.0h0.7v0.7h-0.7zM414.9 427.5h0.7v0.7h-0.7zM425.4 424.3h0.7v0.7h-0.7zM438.7 439.3h0.7v0.7h-0.7zM414.7 425.0h0.7v0.7h-0.7zM452.6 432.0h0.7v0.7h-0.7zM413.3 429.4h0.7v0.7h-0.7zM443.7 439.1h0.7v0.7h-0.7zM420.5 433.8h0.7v0.7h-0.7zM443.8 423.1h0.7v0.7h-0.7zM452.8 426.2h0.7v0.7h-0.7zM424.8 435.4h0.7v0.7h-0.7zM412.8 431.6h0.7v0.7h-0.7zM439.8 438.6h0.7v0.7h-0.7zM419.0 432.5h0.7v0.7h-0.7zM451.2 436.7h0.7v0.7h-0.7zM418.8 434.0h0.7v0.7h-0.7zM422.9 425.1h0.7v0.7h-0.7zM446.0 419.7h0.7v0.7h-0.7zM435.4 439.9h0.7v0.7h-0.7zM430.2 421.8h0.7v0.7h-0.7zM434.0 436.6h0.7v0.7h-0.7zM419.0 434.0h0.7v0.7h-0.7zM416.0 430.2h0.7v0.7h-0.7zM420.2 427.3h0.7v0.7h-0.7zM439.3 438.6h0.7v0.7h-0.7zM419.2 430.8h0.7v0.7h-0.7zM431.8 440.5h0.7v0.7h-0.7zM442.8 420.0h0.7v0.7h-0.7zM424.1 436.3h0.7v0.7h-0.7zM430.2 420.6h0.7v0.7h-0.7zM426.1 424.1h0.7v0.7h-0.7zM432.0 422.0h0.7v0.7h-0.7zM426.4 437.6h0.7v0.7h-0.7zM454.3 426.8h0.7v0.7h-0.7zM425.5 423.4h0.7v0.7h-0.7zM452.5 426.6h0.7v0.7h-0.7zM414.7 427.0h0.7v0.7h-0.7zM429.8 421.2h0.7v0.7h-0.7zM426.7 424.0h0.7v0.7h-0.7zM456.7 428.6h0.7v0.7h-0.7zM421.3 425.0h0.7v0.7h-0.7zM414.5 430.7h0.7v0.7h-0.7zM421.9 433.3h0.7v0.7h-0.7zM443.9 439.5h0.7v0.7h-0.7zM441.6 438.2h0.7v0.7h-0.7zM431.8 422.0h0.7v0.7h-0.7zM443.1 421.2h0.7v0.7h-0.7zM452.4 427.0h0.7v0.7h-0.7zM419.2 433.3h0.7v0.7h-0.7zM433.2 438.1h0.7v0.7h-0.7zM418.8 433.3h0.7v0.7h-0.7zM448.5 423.4h0.7v0.7h-0.7zM457.3 433.0h0.7v0.7h-0.7zM421.7 432.3h0.7v0.7h-0.7zM436.7 419.5h0.7v0.7h-0.7zM422.8 420.9h0.7v0.7h-0.7zM433.1 439.9h0.7v0.7h-0.7zM420.4 437.5h0.7v0.7h-0.7zM456.8 429.4h0.7v0.7h-0.7zM416.1 434.2h0.7v0.7h-0.7zM432.1 420.6h0.7v0.7h-0.7zM452.4 433.6h0.7v0.7h-0.7zM429.5 423.3h0.7v0.7h-0.7zM415.5 435.4h0.7v0.7h-0.7zM432.1 421.7h0.7v0.7h-0.7zM449.8 436.5h0.7v0.7h-0.7zM422.4 424.2h0.7v0.7h-0.7zM423.9 422.1h0.7v0.7h-0.7zM454.5 432.9h0.7v0.7h-0.7zM460.6 431.1h0.7v0.7h-0.7zM414.9 428.5h0.7v0.7h-0.7zM429.4 423.2h0.7v0.7h-0.7zM445.6 420.6h0.7v0.7h-0.7zM457.9 434.2h0.7v0.7h-0.7zM452.7 421.2h0.7v0.7h-0.7zM456.4 435.4h0.7v0.7h-0.7zM439.3 421.7h0.7v0.7h-0.7zM455.3 434.2h0.7v0.7h-0.7zM455.1 433.0h0.7v0.7h-0.7zM442.6 421.5h0.7v0.7h-0.7zM426.4 437.0h0.7v0.7h-0.7z" fill="#dcbcc6" opacity="1"/>
<path d="M473.6 419.9h0.7v0.7h-0.7zM454.8 423.5h0.7v0.7h-0.7zM465.7 406.6h0.7v0.7h-0.7zM459.2 424.6h0.7v0.7h-0.7zM461.7 424.3h0.7v0.7h-0.7zM454.4 409.9h0.7v0.7h-0.7zM467.3 434.0h0.7v0.7h-0.7zM467.6 436.2h0.7v0.7h-0.7zM457.0 419.4h0.7v0.7h-0.7zM468.4 422.8h0.7v0.7h-0.7zM468.0 419.2h0.7v0.7h-0.7zM456.7 415.5h0.7v0.7h-0.7zM452.9 426.1h0.7v0.7h-0.7zM471.9 430.0h0.7v0.7h-0.7zM468.8 424.0h0.7v0.7h-0.7zM461.8 417.6h0.7v0.7h-0.7zM469.9 428.7h0.7v0.7h-0.7zM462.4 420.1h0.7v0.7h-0.7zM459.4 413.0h0.7v0.7h-0.7zM473.9 422.0h0.7v0.7h-0.7zM473.7 422.1h0.7v0.7h-0.7zM458.2 417.2h0.7v0.7h-0.7zM455.8 431.9h0.7v0.7h-0.7zM467.0 430.0h0.7v0.7h-0.7zM461.0 422.0h0.7v0.7h-0.7zM467.9 419.2h0.7v0.7h-0.7zM466.2 413.7h0.7v0.7h-0.7zM470.4 422.4h0.7v0.7h-0.7zM456.6 417.8h0.7v0.7h-0.7zM466.4 420.5h0.7v0.7h-0.7zM470.6 409.9h0.7v0.7h-0.7zM468.7 429.8h0.7v0.7h-0.7zM473.6 425.1h0.7v0.7h-0.7zM461.9 416.2h0.7v0.7h-0.7zM465.3 416.5h0.7v0.7h-0.7zM472.2 425.1h0.7v0.7h-0.7zM463.8 415.6h0.7v0.7h-0.7zM466.3 432.8h0.7v0.7h-0.7zM462.0 418.4h0.7v0.7h-0.7zM469.4 431.1h0.7v0.7h-0.7zM465.1 417.8h0.7v0.7h-0.7zM456.9 413.5h0.7v0.7h-0.7zM475.0 424.9h0.7v0.7h-0.7zM460.2 422.3h0.7v0.7h-0.7zM467.8 426.3h0.7v0.7h-0.7zM462.8 417.8h0.7v0.7h-0.7zM451.9 415.2h0.7v0.7h-0.7zM453.5 417.3h0.7v0.7h-0.7zM475.3 432.0h0.7v0.7h-0.7zM477.0 417.6h0.7v0.7h-0.7zM465.1 432.1h0.7v0.7h-0.7zM464.0 417.8h0.7v0.7h-0.7zM473.7 432.5h0.7v0.7h-0.7zM450.5 416.6h0.7v0.7h-0.7zM451.0 429.1h0.7v0.7h-0.7zM462.9 417.2h0.7v0.7h-0.7zM465.1 436.7h0.7v0.7h-0.7zM476.0 431.2h0.7v0.7h-0.7zM454.8 410.4h0.7v0.7h-0.7zM465.1 424.8h0.7v0.7h-0.7zM472.7 418.2h0.7v0.7h-0.7zM461.8 432.1h0.7v0.7h-0.7zM471.2 431.1h0.7v0.7h-0.7zM456.4 413.9h0.7v0.7h-0.7zM458.5 427.4h0.7v0.7h-0.7zM464.1 425.2h0.7v0.7h-0.7zM457.3 421.5h0.7v0.7h-0.7zM461.1 424.8h0.7v0.7h-0.7zM464.8 412.0h0.7v0.7h-0.7zM470.8 426.9h0.7v0.7h-0.7zM451.8 427.7h0.7v0.7h-0.7zM459.9 427.0h0.7v0.7h-0.7zM450.7 419.3h0.7v0.7h-0.7zM478.9 424.0h0.7v0.7h-0.7zM466.4 423.4h0.7v0.7h-0.7zM463.2 433.6h0.7v0.7h-0.7zM470.1 417.1h0.7v0.7h-0.7zM469.0 427.7h0.7v0.7h-0.7zM460.0 430.6h0.7v0.7h-0.7zM473.2 429.6h0.7v0.7h-0.7zM467.5 417.4h0.7v0.7h-0.7zM449.3 426.7h0.7v0.7h-0.7zM464.4 424.5h0.7v0.7h-0.7zM460.2 414.4h0.7v0.7h-0.7zM459.0 424.5h0.7v0.7h-0.7zM453.4 412.3h0.7v0.7h-0.7zM465.6 415.1h0.7v0.7h-0.7zM467.3 430.0h0.7v0.7h-0.7zM473.0 418.2h0.7v0.7h-0.7zM454.9 417.0h0.7v0.7h-0.7zM477.2 413.9h0.7v0.7h-0.7zM466.4 433.9h0.7v0.7h-0.7zM461.6 413.7h0.7v0.7h-0.7zM462.7 418.3h0.7v0.7h-0.7zM460.0 422.7h0.7v0.7h-0.7zM474.5 423.7h0.7v0.7h-0.7zM472.7 420.5h0.7v0.7h-0.7zM458.1 414.0h0.7v0.7h-0.7zM465.0 428.2h0.7v0.7h-0.7zM456.6 415.4h0.7v0.7h-0.7zM472.4 424.7h0.7v0.7h-0.7zM453.0 419.3h0.7v0.7h-0.7zM474.4 431.8h0.7v0.7h-0.7zM451.8 419.5h0.7v0.7h-0.7zM463.6 416.0h0.7v0.7h-0.7zM466.4 427.7h0.7v0.7h-0.7zM464.1 416.5h0.7v0.7h-0.7zM474.5 418.3h0.7v0.7h-0.7zM458.7 416.6h0.7v0.7h-0.7zM451.6 423.7h0.7v0.7h-0.7z" fill="#dcbcc6" opacity="1"/>
<path d="M451.42,427.88C451.45,428.23 451.43,428.60 451.34,428.96C451.25,429.32 451.09,429.69 450.88,430.05C450.67,430.41 450.39,430.77 450.06,431.13C449.73,431.48 449.33,431.83 448.89,432.16C448.45,432.50 447.94,432.83 447.40,433.14C446.86,433.45 446.26,433.74 445.64,434.02C445.01,434.29 444.33,434.55 443.63,434.79C442.93,435.03 442.19,435.24 441.44,435.43C440.69,435.62 439.90,435.79 439.11,435.93C438.33,436.06 437.51,436.18 436.71,436.26C435.91,436.35 435.09,436.40 434.29,436.43C433.49,436.46 432.69,436.46 431.91,436.43C431.14,436.40 430.37,436.35 429.64,436.26C428.90,436.18 428.19,436.06 427.51,435.92C426.84,435.78 426.20,435.62 425.60,435.43C425.01,435.24 424.45,435.02 423.95,434.79C423.44,434.55 422.99,434.29 422.59,434.01C422.19,433.74 421.84,433.44 421.56,433.13C421.28,432.82 421.05,432.49 420.89,432.16C420.72,431.82 420.62,431.47 420.58,431.12C420.55,430.77 420.57,430.40 420.66,430.04C420.75,429.68 420.91,429.31 421.12,428.95C421.33,428.59 421.61,428.23 421.94,427.87C422.27,427.52 422.67,427.17 423.11,426.84C423.55,426.50 424.06,426.17 424.60,425.86C425.14,425.55 425.74,425.26 426.36,424.98C426.99,424.71 427.67,424.45 428.37,424.21C429.07,423.97 429.81,423.76 430.56,423.57C431.31,423.38 432.10,423.21 432.89,423.07C433.67,422.94 434.49,422.82 435.29,422.74C436.09,422.65 436.91,422.60 437.71,422.57C438.51,422.54 439.31,422.54 440.09,422.57C440.86,422.60 441.63,422.65 442.36,422.74C443.10,422.82 443.81,422.94 444.49,423.08C445.16,423.22 445.80,423.38 446.40,423.57C446.99,423.76 447.55,423.98 448.05,424.21C448.56,424.45 449.01,424.71 449.41,424.99C449.81,425.26 450.16,425.56 450.44,425.87C450.72,426.18 450.95,426.51 451.11,426.84C451.28,427.18 451.38,427.53 451.42,427.88Z" fill="#f0dde3" stroke="#d2a3b2" stroke-width="0.5"/>
<path d="M449.26,428.11C449.29,428.41 449.27,428.72 449.19,429.03C449.11,429.34 448.98,429.66 448.80,429.97C448.61,430.28 448.38,430.60 448.09,430.90C447.80,431.20 447.46,431.50 447.08,431.79C446.70,432.08 446.27,432.36 445.81,432.63C445.34,432.89 444.83,433.15 444.29,433.39C443.75,433.62 443.16,433.85 442.56,434.05C441.96,434.25 441.33,434.44 440.68,434.60C440.03,434.76 439.36,434.91 438.68,435.03C438.00,435.15 437.30,435.24 436.61,435.32C435.92,435.39 435.22,435.44 434.53,435.46C433.84,435.49 433.15,435.49 432.48,435.46C431.82,435.44 431.16,435.39 430.53,435.31C429.90,435.24 429.28,435.14 428.70,435.02C428.12,434.90 427.57,434.76 427.06,434.60C426.55,434.43 426.07,434.25 425.63,434.05C425.20,433.84 424.81,433.62 424.47,433.38C424.12,433.14 423.82,432.89 423.58,432.62C423.34,432.36 423.14,432.07 423.00,431.79C422.86,431.50 422.77,431.20 422.74,430.89C422.71,430.59 422.73,430.28 422.81,429.97C422.89,429.66 423.02,429.34 423.20,429.03C423.39,428.72 423.62,428.40 423.91,428.10C424.20,427.80 424.54,427.50 424.92,427.21C425.30,426.92 425.73,426.64 426.19,426.37C426.66,426.11 427.17,425.85 427.71,425.61C428.25,425.38 428.84,425.15 429.44,424.95C430.04,424.75 430.67,424.56 431.32,424.40C431.97,424.24 432.64,424.09 433.32,423.97C434.00,423.85 434.70,423.76 435.39,423.68C436.08,423.61 436.78,423.56 437.47,423.54C438.16,423.51 438.85,423.51 439.52,423.54C440.18,423.56 440.84,423.61 441.47,423.69C442.10,423.76 442.72,423.86 443.30,423.98C443.88,424.10 444.43,424.24 444.94,424.40C445.45,424.57 445.93,424.75 446.37,424.95C446.80,425.16 447.19,425.38 447.53,425.62C447.88,425.86 448.18,426.11 448.42,426.38C448.66,426.64 448.86,426.93 449.00,427.21C449.14,427.50 449.23,427.80 449.26,428.11Z" fill="#e8ccd5" stroke="#cb97a8" stroke-width="0.5"/>
<path d="M447.10,428.33C447.13,428.59 447.11,428.85 447.04,429.11C446.98,429.37 446.87,429.63 446.71,429.90C446.56,430.16 446.36,430.42 446.12,430.67C445.88,430.93 445.60,431.18 445.28,431.42C444.96,431.66 444.60,431.90 444.21,432.12C443.82,432.34 443.39,432.56 442.94,432.75C442.49,432.95 442.00,433.14 441.49,433.31C440.99,433.48 440.46,433.63 439.92,433.77C439.37,433.91 438.81,434.03 438.24,434.13C437.67,434.23 437.09,434.31 436.51,434.37C435.93,434.43 435.35,434.47 434.77,434.49C434.19,434.51 433.62,434.51 433.06,434.49C432.50,434.47 431.94,434.43 431.42,434.37C430.89,434.31 430.37,434.22 429.89,434.12C429.41,434.02 428.94,433.90 428.51,433.77C428.09,433.63 427.68,433.48 427.32,433.31C426.96,433.14 426.63,432.95 426.34,432.75C426.06,432.55 425.81,432.34 425.60,432.11C425.40,431.89 425.23,431.66 425.12,431.41C425.00,431.17 424.93,430.92 424.90,430.67C424.87,430.41 424.89,430.15 424.96,429.89C425.02,429.63 425.13,429.37 425.29,429.10C425.44,428.84 425.64,428.58 425.88,428.33C426.12,428.07 426.40,427.82 426.72,427.58C427.04,427.34 427.40,427.10 427.79,426.88C428.18,426.66 428.61,426.44 429.06,426.25C429.51,426.05 430.00,425.86 430.51,425.69C431.01,425.52 431.54,425.37 432.08,425.23C432.63,425.09 433.19,424.97 433.76,424.87C434.33,424.77 434.91,424.69 435.49,424.63C436.07,424.57 436.65,424.53 437.23,424.51C437.81,424.49 438.38,424.49 438.94,424.51C439.50,424.53 440.06,424.57 440.58,424.63C441.11,424.69 441.63,424.78 442.11,424.88C442.59,424.98 443.06,425.10 443.49,425.23C443.91,425.37 444.32,425.52 444.68,425.69C445.04,425.86 445.37,426.05 445.66,426.25C445.94,426.45 446.19,426.66 446.40,426.89C446.60,427.11 446.77,427.34 446.88,427.59C447.00,427.83 447.07,428.08 447.10,428.33Z" fill="#dfbac6" stroke="#c48c9e" stroke-width="0.5"/>
<path d="M444.94,428.56C444.96,428.76 444.95,428.98 444.90,429.19C444.84,429.40 444.75,429.61 444.63,429.82C444.51,430.03 444.35,430.24 444.15,430.44C443.96,430.65 443.73,430.85 443.48,431.05C443.22,431.24 442.93,431.43 442.61,431.61C442.30,431.79 441.95,431.96 441.59,432.12C441.22,432.28 440.83,432.43 440.43,432.57C440.02,432.70 439.59,432.83 439.15,432.94C438.72,433.05 438.26,433.15 437.81,433.23C437.35,433.31 436.88,433.37 436.41,433.42C435.95,433.47 435.47,433.50 435.01,433.52C434.54,433.54 434.08,433.54 433.63,433.52C433.18,433.50 432.73,433.47 432.31,433.42C431.88,433.37 431.47,433.31 431.08,433.23C430.69,433.15 430.31,433.05 429.97,432.94C429.62,432.83 429.30,432.70 429.01,432.57C428.72,432.43 428.45,432.28 428.22,432.12C427.99,431.96 427.79,431.79 427.62,431.61C427.46,431.43 427.33,431.24 427.23,431.04C427.14,430.85 427.08,430.64 427.06,430.44C427.04,430.24 427.05,430.02 427.10,429.81C427.16,429.60 427.25,429.39 427.37,429.18C427.49,428.97 427.65,428.76 427.85,428.56C428.04,428.35 428.27,428.15 428.52,427.95C428.78,427.76 429.07,427.57 429.39,427.39C429.70,427.21 430.05,427.04 430.41,426.88C430.78,426.72 431.17,426.57 431.57,426.43C431.98,426.30 432.41,426.17 432.85,426.06C433.28,425.95 433.74,425.85 434.19,425.77C434.65,425.69 435.12,425.63 435.59,425.58C436.05,425.53 436.53,425.50 436.99,425.48C437.46,425.46 437.92,425.46 438.37,425.48C438.82,425.50 439.27,425.53 439.69,425.58C440.12,425.63 440.53,425.69 440.92,425.77C441.31,425.85 441.69,425.95 442.03,426.06C442.38,426.17 442.70,426.30 442.99,426.43C443.28,426.57 443.55,426.72 443.78,426.88C444.01,427.04 444.21,427.21 444.38,427.39C444.54,427.57 444.67,427.76 444.77,427.96C444.86,428.15 444.92,428.36 444.94,428.56Z" fill="#d6a8b8" stroke="#bd8195" stroke-width="0.5"/>
<path d="M442.78,428.79C442.80,428.94 442.79,429.10 442.75,429.26C442.71,429.42 442.64,429.58 442.55,429.74C442.45,429.90 442.33,430.06 442.19,430.22C442.04,430.37 441.87,430.52 441.67,430.67C441.48,430.82 441.26,430.96 441.02,431.10C440.78,431.24 440.52,431.37 440.24,431.49C439.96,431.61 439.67,431.72 439.36,431.83C439.05,431.93 438.72,432.03 438.39,432.11C438.06,432.19 437.72,432.27 437.37,432.33C437.02,432.39 436.67,432.44 436.31,432.48C435.96,432.51 435.60,432.54 435.25,432.55C434.90,432.56 434.54,432.56 434.20,432.55C433.86,432.54 433.52,432.51 433.20,432.47C432.88,432.44 432.56,432.39 432.27,432.33C431.97,432.27 431.69,432.19 431.43,432.11C431.16,432.02 430.92,431.93 430.70,431.83C430.48,431.72 430.27,431.61 430.10,431.49C429.92,431.36 429.77,431.23 429.65,431.10C429.52,430.96 429.42,430.82 429.35,430.67C429.28,430.52 429.23,430.37 429.22,430.21C429.20,430.06 429.21,429.90 429.25,429.74C429.29,429.58 429.36,429.42 429.45,429.26C429.55,429.10 429.67,428.94 429.81,428.78C429.96,428.63 430.13,428.48 430.33,428.33C430.52,428.18 430.74,428.04 430.98,427.90C431.22,427.76 431.48,427.63 431.76,427.51C432.04,427.39 432.33,427.28 432.64,427.17C432.95,427.07 433.28,426.97 433.61,426.89C433.94,426.81 434.28,426.73 434.63,426.67C434.98,426.61 435.33,426.56 435.69,426.52C436.04,426.49 436.40,426.46 436.75,426.45C437.10,426.44 437.46,426.44 437.80,426.45C438.14,426.46 438.48,426.49 438.80,426.53C439.12,426.56 439.44,426.61 439.73,426.67C440.03,426.73 440.31,426.81 440.57,426.89C440.84,426.98 441.08,427.07 441.30,427.17C441.52,427.28 441.73,427.39 441.90,427.51C442.08,427.64 442.23,427.77 442.35,427.90C442.48,428.04 442.58,428.18 442.65,428.33C442.72,428.48 442.77,428.63 442.78,428.79Z" fill="#cd98aa" stroke="#b6778c" stroke-width="0.5"/>
<path d="M440.62,429.01C440.64,429.12 440.63,429.23 440.60,429.34C440.57,429.45 440.53,429.56 440.46,429.66C440.40,429.77 440.32,429.88 440.22,429.99C440.12,430.09 440.00,430.20 439.87,430.30C439.73,430.40 439.58,430.50 439.42,430.59C439.26,430.68 439.08,430.77 438.89,430.86C438.70,430.94 438.50,431.02 438.29,431.09C438.08,431.16 437.86,431.22 437.63,431.28C437.41,431.34 437.17,431.39 436.93,431.43C436.70,431.47 436.45,431.50 436.21,431.53C435.97,431.55 435.73,431.57 435.49,431.58C435.25,431.59 435.01,431.59 434.77,431.58C434.54,431.57 434.31,431.55 434.09,431.53C433.87,431.50 433.66,431.47 433.45,431.43C433.25,431.39 433.06,431.34 432.88,431.28C432.70,431.22 432.53,431.16 432.38,431.09C432.23,431.02 432.10,430.94 431.98,430.85C431.86,430.77 431.75,430.68 431.67,430.59C431.58,430.50 431.51,430.40 431.47,430.30C431.42,430.20 431.39,430.09 431.38,429.99C431.36,429.88 431.37,429.77 431.40,429.66C431.43,429.55 431.47,429.44 431.54,429.34C431.60,429.23 431.68,429.12 431.78,429.01C431.88,428.91 432.00,428.80 432.13,428.70C432.27,428.60 432.42,428.50 432.58,428.41C432.74,428.32 432.92,428.23 433.11,428.14C433.30,428.06 433.50,427.98 433.71,427.91C433.92,427.84 434.14,427.78 434.37,427.72C434.59,427.66 434.83,427.61 435.07,427.57C435.30,427.53 435.55,427.50 435.79,427.47C436.03,427.45 436.27,427.43 436.51,427.42C436.75,427.41 436.99,427.41 437.23,427.42C437.46,427.43 437.69,427.45 437.91,427.47C438.13,427.50 438.34,427.53 438.55,427.57C438.75,427.61 438.94,427.66 439.12,427.72C439.30,427.78 439.47,427.84 439.62,427.91C439.77,427.98 439.90,428.06 440.02,428.15C440.14,428.23 440.25,428.32 440.33,428.41C440.42,428.50 440.49,428.60 440.53,428.70C440.58,428.80 440.61,428.91 440.62,429.01Z" fill="#d9b0be" stroke="#c48c9e" stroke-width="0.5"/>
<path d="M438.47,429.24C438.47,429.30 438.47,429.36 438.45,429.41C438.44,429.47 438.41,429.53 438.38,429.59C438.35,429.65 438.30,429.70 438.25,429.76C438.20,429.82 438.13,429.87 438.06,429.93C437.99,429.98 437.91,430.03 437.82,430.08C437.74,430.13 437.64,430.18 437.54,430.22C437.44,430.27 437.33,430.31 437.22,430.35C437.11,430.38 436.99,430.42 436.87,430.45C436.75,430.48 436.62,430.51 436.50,430.53C436.37,430.55 436.24,430.57 436.11,430.58C435.99,430.60 435.85,430.60 435.73,430.61C435.60,430.61 435.47,430.61 435.35,430.61C435.22,430.60 435.10,430.60 434.98,430.58C434.86,430.57 434.75,430.55 434.64,430.53C434.53,430.51 434.43,430.48 434.34,430.45C434.24,430.42 434.15,430.38 434.07,430.35C433.99,430.31 433.92,430.27 433.85,430.22C433.79,430.18 433.73,430.13 433.69,430.08C433.64,430.03 433.61,429.98 433.58,429.93C433.56,429.87 433.54,429.82 433.53,429.76C433.53,429.70 433.53,429.64 433.55,429.59C433.56,429.53 433.59,429.47 433.62,429.41C433.65,429.35 433.70,429.30 433.75,429.24C433.80,429.18 433.87,429.13 433.94,429.07C434.01,429.02 434.09,428.97 434.18,428.92C434.26,428.87 434.36,428.82 434.46,428.78C434.56,428.73 434.67,428.69 434.78,428.65C434.89,428.62 435.01,428.58 435.13,428.55C435.25,428.52 435.38,428.49 435.50,428.47C435.63,428.45 435.76,428.43 435.89,428.42C436.01,428.40 436.15,428.40 436.27,428.39C436.40,428.39 436.53,428.39 436.65,428.39C436.78,428.40 436.90,428.40 437.02,428.42C437.14,428.43 437.25,428.45 437.36,428.47C437.47,428.49 437.57,428.52 437.66,428.55C437.76,428.58 437.85,428.62 437.93,428.65C438.01,428.69 438.08,428.73 438.15,428.78C438.21,428.82 438.27,428.87 438.31,428.92C438.36,428.97 438.39,429.02 438.42,429.07C438.44,429.13 438.46,429.18 438.47,429.24Z" fill="#f6ebef" stroke="#d8b2bf" stroke-width="0.5"/>
<path d="M440.00,427.00C439.25,425.17 440.17,421.67 440.50,419.00C440.83,416.33 441.33,413.50 442.00,411.00C442.67,408.50 443.42,405.92 444.50,404.00C445.58,402.08 447.08,400.42 448.50,399.50C449.92,398.58 451.58,398.33 453.00,398.50C454.42,398.67 456.00,399.42 457.00,400.50C458.00,401.58 458.83,403.25 459.00,405.00C459.17,406.75 458.58,409.00 458.00,411.00C457.42,413.00 456.42,415.00 455.50,417.00C454.58,419.00 453.58,421.08 452.50,423.00C451.42,424.92 450.25,427.33 449.00,428.50C447.75,429.67 446.50,430.25 445.00,430.00C443.50,429.75 440.75,428.83 440.00,427.00Z" fill="#f2e2e8" stroke="#d3a9b7" stroke-width="0.4"/>
<path d="M441.35,425.05C440.71,423.49 441.49,420.52 441.77,418.25C442.06,415.98 442.48,413.57 443.05,411.45C443.62,409.32 444.25,407.13 445.18,405.50C446.10,403.87 447.37,402.45 448.57,401.68C449.78,400.90 451.20,400.68 452.40,400.82C453.60,400.97 454.95,401.60 455.80,402.52C456.65,403.45 457.36,404.86 457.50,406.35C457.64,407.84 457.15,409.75 456.65,411.45C456.15,413.15 455.30,414.85 454.52,416.55C453.75,418.25 452.90,420.02 451.98,421.65C451.05,423.28 450.06,425.33 449.00,426.32C447.94,427.32 446.88,427.81 445.60,427.60C444.33,427.39 441.99,426.61 441.35,425.05Z" fill="#ebd5dd" stroke="#cd9eae" stroke-width="0.4"/>
<path d="M442.70,423.10C442.18,421.82 442.82,419.37 443.05,417.50C443.28,415.63 443.63,413.65 444.10,411.90C444.57,410.15 445.09,408.34 445.85,407.00C446.61,405.66 447.66,404.49 448.65,403.85C449.64,403.21 450.81,403.03 451.80,403.15C452.79,403.27 453.90,403.79 454.60,404.55C455.30,405.31 455.88,406.48 456.00,407.70C456.12,408.92 455.71,410.50 455.30,411.90C454.89,413.30 454.19,414.70 453.55,416.10C452.91,417.50 452.21,418.96 451.45,420.30C450.69,421.64 449.88,423.33 449.00,424.15C448.12,424.97 447.25,425.38 446.20,425.20C445.15,425.02 443.22,424.38 442.70,423.10Z" fill="#e4c7d1" stroke="#c794a5" stroke-width="0.4"/>
<path d="M444.05,421.15C443.64,420.14 444.14,418.22 444.32,416.75C444.51,415.28 444.78,413.73 445.15,412.35C445.52,410.98 445.93,409.55 446.52,408.50C447.12,407.45 447.95,406.53 448.73,406.02C449.50,405.52 450.42,405.38 451.20,405.48C451.98,405.57 452.85,405.98 453.40,406.57C453.95,407.17 454.41,408.09 454.50,409.05C454.59,410.01 454.27,411.25 453.95,412.35C453.63,413.45 453.08,414.55 452.57,415.65C452.07,416.75 451.52,417.90 450.93,418.95C450.33,420.00 449.69,421.33 449.00,421.98C448.31,422.62 447.62,422.94 446.80,422.80C445.98,422.66 444.46,422.16 444.05,421.15Z" fill="#e0bfca" stroke="#c18b9d" stroke-width="0.4"/>
<path d="M445.40,419.20C445.10,418.47 445.47,417.07 445.60,416.00C445.73,414.93 445.93,413.80 446.20,412.80C446.47,411.80 446.77,410.77 447.20,410.00C447.63,409.23 448.23,408.57 448.80,408.20C449.37,407.83 450.03,407.73 450.60,407.80C451.17,407.87 451.80,408.17 452.20,408.60C452.60,409.03 452.93,409.70 453.00,410.40C453.07,411.10 452.83,412.00 452.60,412.80C452.37,413.60 451.97,414.40 451.60,415.20C451.23,416.00 450.83,416.83 450.40,417.60C449.97,418.37 449.50,419.33 449.00,419.80C448.50,420.27 448.00,420.50 447.40,420.40C446.80,420.30 445.70,419.93 445.40,419.20Z" fill="#e8ced7" stroke="#c896a7" stroke-width="0.4"/>
<path d="M446.75,417.25C446.56,416.79 446.79,415.92 446.88,415.25C446.96,414.58 447.08,413.88 447.25,413.25C447.42,412.62 447.60,411.98 447.88,411.50C448.15,411.02 448.52,410.60 448.88,410.38C449.23,410.15 449.65,410.08 450.00,410.12C450.35,410.17 450.75,410.35 451.00,410.62C451.25,410.90 451.46,411.31 451.50,411.75C451.54,412.19 451.40,412.75 451.25,413.25C451.10,413.75 450.85,414.25 450.62,414.75C450.40,415.25 450.15,415.77 449.88,416.25C449.60,416.73 449.31,417.33 449.00,417.62C448.69,417.92 448.38,418.06 448.00,418.00C447.62,417.94 446.94,417.71 446.75,417.25Z" fill="#f7edf1" stroke="#d7b3bf" stroke-width="0.4"/>
<path d="M455,398 C463,400 469,408 471,419 C472,426 470,431 466,434 M457,402 C463,405 466,412 467,420 C468,427 465,431 461,433 M452,410 C457,414 460,420 460,426 C460,431 457,434 453,435 M460,396 C468,398 474,408 476,420" fill="none" stroke="#d6b0bd" stroke-width="0.45" />
<path d="M455,399 C462,402 468,410 470,420 M458,398 C466,403 472,412 473,423 M452,420 C458,424 463,428 468,436" fill="none" stroke="#dcbcc6" stroke-width="0.4" />
<rect x="411.50" y="374.20" width="73.10" height="72.10" fill="none" stroke="#b8b8b8" stroke-width="0.9" />
<path d="M411.50,443.30h-2.2M411.50,439.91h-1.2M411.50,436.63h-1.2M411.50,433.11h-1.2M411.50,429.79h-1.2M411.50,426.53h-2.2M411.50,423.01h-1.2M411.50,419.08h-1.2M411.50,415.24h-1.2M411.50,411.43h-1.2M411.50,408.05h-2.2M411.50,404.42h-1.2M411.50,401.00h-1.2M411.50,397.66h-1.2M411.50,394.38h-1.2M411.50,391.00h-2.2M411.50,387.06h-1.2M411.50,383.20h-1.2M411.50,379.35h-1.2M414.50,446.30v2.2M417.85,446.30v1.2M421.30,446.30v1.2M425.00,446.30v1.2M428.79,446.30v1.2M432.67,446.30v2.2M436.58,446.30v1.2M439.85,446.30v1.2M443.53,446.30v1.2M447.27,446.30v1.2M450.87,446.30v2.2M454.22,446.30v1.2M457.79,446.30v1.2M461.07,446.30v1.2M465.01,446.30v1.2M468.91,446.30v2.2M472.54,446.30v1.2M475.98,446.30v1.2M479.91,446.30v1.2" stroke="#8a8a8a" stroke-width="0.6" fill="none"/>
<rect x="409.30" y="427.47" width="1.6" height="1.6" fill="#222"/>
<rect x="423.16" y="446.60" width="3.2" height="1.4" fill="#222"/>
<path d="M437.50,388.75 L471.90,388.75 L471.90,407.50 L466.90,414.40 L457.50,418.75 L451.25,428.10 L437.50,421.90 Z" fill="none" stroke="#444" stroke-width="0.9" />
<path d="M466.90,414.40 L476.25,430.00 L456.90,443.10 L449.40,435.00 L451.25,428.10 L457.50,418.75 Z" fill="none" stroke="#444" stroke-width="0.9" />
<text x="455.80" y="384.60" font-size="8.8" text-anchor="middle" font-weight="normal" fill="#111" stroke="#111" stroke-width="0.15" >39.0</text>
<text x="484.60" y="441.80" font-size="8.8" text-anchor="end" font-weight="normal" fill="#111" stroke="#111" stroke-width="0.15" >7.60</text>
<text x="329.00" y="449.00" font-size="11" text-anchor="start" font-weight="normal" fill="#111" stroke="#111" stroke-width="0.15" transform="rotate(-90 329.00 449.00)" textLength="20.7" lengthAdjust="spacingAndGlyphs" >CD64</text>
<path d="M324.7,422.5 L324.7,413.3" fill="none" stroke="#111" stroke-width="1.2" />
<path d="M322.3,413.8 L324.7,409.2 L327.09999999999997,413.8 Z" fill="#111" stroke="none" stroke-width="1" />
<text x="332.40" y="461.40" font-size="10.6" text-anchor="start" font-weight="normal" fill="#111" stroke="#111" stroke-width="0.15" textLength="24.8" lengthAdjust="spacingAndGlyphs" >CD11c</text>
<path d="M364.2,457.2 L373.4,457.2" fill="none" stroke="#111" stroke-width="1.2" />
<path d="M372.9,454.8 L377.5,457.2 L372.9,459.59999999999997 Z" fill="#111" stroke="none" stroke-width="1" />
<rect x="391.75" y="533.25" width="13.75" height="28.00" fill="#fff" stroke="#111" stroke-width="1" />
<rect x="408.75" y="549.25" width="13.25" height="12.00" fill="#fff" stroke="#111" stroke-width="1" />
<circle cx="398.50" cy="492.74" r="1.7" fill="#37425e" />
<circle cx="398.50" cy="523.19" r="1.7" fill="#37425e" />
<circle cx="397.00" cy="530.80" r="1.7" fill="#37425e" />
<circle cx="399.00" cy="535.37" r="1.7" fill="#37425e" />
<circle cx="401.50" cy="541.46" r="1.7" fill="#37425e" />
<circle cx="394.50" cy="542.98" r="1.7" fill="#37425e" />
<circle cx="397.00" cy="546.02" r="1.7" fill="#37425e" />
<circle cx="396.50" cy="550.59" r="1.7" fill="#37425e" />
<circle cx="402.00" cy="550.59" r="1.7" fill="#37425e" />
<circle cx="400.00" cy="547.55" r="1.7" fill="#37425e" />
<circle cx="410.00" cy="533.85" r="1.7" fill="#990f37" />
<circle cx="414.50" cy="534.61" r="1.7" fill="#990f37" />
<circle cx="419.00" cy="534.61" r="1.7" fill="#990f37" />
<circle cx="412.00" cy="546.02" r="1.7" fill="#990f37" />
<circle cx="415.00" cy="549.07" r="1.7" fill="#990f37" />
<circle cx="418.00" cy="550.59" r="1.7" fill="#990f37" />
<circle cx="412.00" cy="553.64" r="1.7" fill="#990f37" />
<circle cx="417.00" cy="555.16" r="1.7" fill="#990f37" />
<circle cx="410.00" cy="559.73" r="1.7" fill="#990f37" />
<circle cx="414.50" cy="559.73" r="1.7" fill="#990f37" />
<circle cx="419.00" cy="559.73" r="1.7" fill="#990f37" />
<line x1="398.60" y1="525.50" x2="398.60" y2="541.30" stroke="#111" stroke-width="1" />
<line x1="396.00" y1="525.50" x2="401.20" y2="525.50" stroke="#111" stroke-width="1" />
<line x1="396.00" y1="541.30" x2="401.20" y2="541.30" stroke="#111" stroke-width="1" />
<line x1="415.40" y1="546.00" x2="415.40" y2="552.00" stroke="#111" stroke-width="1" />
<line x1="412.80" y1="546.00" x2="418.00" y2="546.00" stroke="#111" stroke-width="1" />
<line x1="384.50" y1="482.50" x2="384.50" y2="561.70" stroke="#111" stroke-width="1.1" />
<line x1="384.00" y1="561.25" x2="432.00" y2="561.25" stroke="#111" stroke-width="1.1" />
<line x1="381.50" y1="485.12" x2="384.50" y2="485.12" stroke="#111" stroke-width="1" />
<text x="377.40" y="488.23" font-size="8.8" text-anchor="end" font-weight="normal" fill="#111" stroke="#111" stroke-width="0.15" >50</text>
<line x1="381.50" y1="500.35" x2="384.50" y2="500.35" stroke="#111" stroke-width="1" />
<text x="377.40" y="503.45" font-size="8.8" text-anchor="end" font-weight="normal" fill="#111" stroke="#111" stroke-width="0.15" >40</text>
<line x1="381.50" y1="515.58" x2="384.50" y2="515.58" stroke="#111" stroke-width="1" />
<text x="377.40" y="518.68" font-size="8.8" text-anchor="end" font-weight="normal" fill="#111" stroke="#111" stroke-width="0.15" >30</text>
<line x1="381.50" y1="530.80" x2="384.50" y2="530.80" stroke="#111" stroke-width="1" />
<text x="377.40" y="533.90" font-size="8.8" text-anchor="end" font-weight="normal" fill="#111" stroke="#111" stroke-width="0.15" >20</text>
<line x1="381.50" y1="546.02" x2="384.50" y2="546.02" stroke="#111" stroke-width="1" />
<text x="377.40" y="549.12" font-size="8.8" text-anchor="end" font-weight="normal" fill="#111" stroke="#111" stroke-width="0.15" >10</text>
<line x1="381.50" y1="561.25" x2="384.50" y2="561.25" stroke="#111" stroke-width="1" />
<text x="377.40" y="564.35" font-size="8.8" text-anchor="end" font-weight="normal" fill="#111" stroke="#111" stroke-width="0.15" >0</text>
<text x="361.70" y="522.20" font-size="10.3" text-anchor="middle" font-weight="normal" fill="#111" stroke="#111" stroke-width="0.15" transform="rotate(-90 361.70 522.20)" textLength="71.6" lengthAdjust="spacingAndGlyphs" >%CD11c<tspan font-size="6.5" dy="-3.6">hi</tspan><tspan dy="3.6"> in IL-10</tspan><tspan font-size="6.5" dy="-3.6">+</tspan></text>
<line x1="398.00" y1="485.50" x2="413.00" y2="485.50" stroke="#111" stroke-width="1" />
<text x="405.50" y="486.77" font-size="10.5" text-anchor="middle" font-weight="normal" fill="#111" stroke="#111" stroke-width="0.15" >*</text>
<text x="0" y="0" transform="translate(6.89 611.80) scale(0.857 1)" font-size="20" font-weight="bold" fill="#000" stroke="#000" stroke-width="0.3">J</text>
<text x="59.50" y="619.50" font-size="10" text-anchor="middle" font-weight="normal" fill="#111" stroke="#111" stroke-width="0.15" >clg</text>
<text x="59.80" y="708.20" font-size="10" text-anchor="middle" font-weight="normal" fill="#111" stroke="#111" stroke-width="0.15" textLength="33" lengthAdjust="spacingAndGlyphs" >αTIGIT</text>
<path d="M44.3 674.5h0.7v0.7h-0.7zM69.2 662.9h0.7v0.7h-0.7zM54.5 686.6h0.7v0.7h-0.7zM45.9 675.1h0.7v0.7h-0.7zM48.9 680.7h0.7v0.7h-0.7zM72.5 685.8h0.7v0.7h-0.7zM78.5 665.4h0.7v0.7h-0.7zM51.7 665.0h0.7v0.7h-0.7zM48.8 678.5h0.7v0.7h-0.7zM60.8 662.3h0.7v0.7h-0.7zM51.2 687.1h0.7v0.7h-0.7zM48.0 664.3h0.7v0.7h-0.7zM52.0 666.0h0.7v0.7h-0.7zM59.2 662.7h0.7v0.7h-0.7zM50.1 680.0h0.7v0.7h-0.7zM79.1 678.4h0.7v0.7h-0.7zM80.3 675.1h0.7v0.7h-0.7zM76.0 661.4h0.7v0.7h-0.7zM49.5 679.0h0.7v0.7h-0.7zM54.5 682.7h0.7v0.7h-0.7zM66.9 687.3h0.7v0.7h-0.7zM52.1 667.1h0.7v0.7h-0.7zM45.4 675.0h0.7v0.7h-0.7zM50.6 680.5h0.7v0.7h-0.7zM51.1 680.7h0.7v0.7h-0.7zM55.4 661.4h0.7v0.7h-0.7zM50.9 665.0h0.7v0.7h-0.7zM79.6 670.7h0.7v0.7h-0.7zM68.0 685.7h0.7v0.7h-0.7zM76.4 668.2h0.7v0.7h-0.7zM64.9 658.8h0.7v0.7h-0.7zM73.8 663.8h0.7v0.7h-0.7zM42.9 678.6h0.7v0.7h-0.7zM57.9 659.9h0.7v0.7h-0.7zM71.3 686.1h0.7v0.7h-0.7zM61.8 662.5h0.7v0.7h-0.7zM68.5 688.2h0.7v0.7h-0.7zM47.0 668.8h0.7v0.7h-0.7zM46.6 675.0h0.7v0.7h-0.7zM63.2 684.8h0.7v0.7h-0.7zM50.3 680.4h0.7v0.7h-0.7zM80.3 664.7h0.7v0.7h-0.7zM50.3 668.2h0.7v0.7h-0.7zM50.3 667.6h0.7v0.7h-0.7zM52.3 681.9h0.7v0.7h-0.7zM48.0 674.2h0.7v0.7h-0.7zM60.0 685.3h0.7v0.7h-0.7zM41.9 677.2h0.7v0.7h-0.7zM45.0 667.2h0.7v0.7h-0.7zM60.1 661.1h0.7v0.7h-0.7zM76.6 678.3h0.7v0.7h-0.7zM75.2 683.7h0.7v0.7h-0.7zM51.5 686.9h0.7v0.7h-0.7zM67.8 684.4h0.7v0.7h-0.7zM50.9 663.6h0.7v0.7h-0.7zM79.1 677.9h0.7v0.7h-0.7zM43.5 679.0h0.7v0.7h-0.7zM66.8 659.3h0.7v0.7h-0.7zM41.9 670.6h0.7v0.7h-0.7zM46.6 676.2h0.7v0.7h-0.7zM76.3 685.3h0.7v0.7h-0.7zM51.8 663.0h0.7v0.7h-0.7zM82.1 672.1h0.7v0.7h-0.7zM55.7 687.0h0.7v0.7h-0.7zM77.1 669.0h0.7v0.7h-0.7zM79.5 669.7h0.7v0.7h-0.7zM76.9 682.5h0.7v0.7h-0.7zM66.5 661.4h0.7v0.7h-0.7zM60.5 688.2h0.7v0.7h-0.7zM78.7 682.3h0.7v0.7h-0.7zM50.6 684.3h0.7v0.7h-0.7zM46.4 673.5h0.7v0.7h-0.7zM68.7 688.1h0.7v0.7h-0.7zM47.0 677.1h0.7v0.7h-0.7zM46.0 666.1h0.7v0.7h-0.7zM78.2 680.7h0.7v0.7h-0.7zM74.7 685.7h0.7v0.7h-0.7zM83.0 678.1h0.7v0.7h-0.7zM45.9 669.2h0.7v0.7h-0.7zM46.9 671.3h0.7v0.7h-0.7zM48.0 677.3h0.7v0.7h-0.7zM51.2 684.5h0.7v0.7h-0.7zM50.0 666.3h0.7v0.7h-0.7zM47.7 664.4h0.7v0.7h-0.7zM65.3 663.9h0.7v0.7h-0.7zM47.2 674.0h0.7v0.7h-0.7zM71.0 661.9h0.7v0.7h-0.7zM45.2 678.9h0.7v0.7h-0.7zM47.0 673.2h0.7v0.7h-0.7zM75.8 668.6h0.7v0.7h-0.7zM79.3 676.6h0.7v0.7h-0.7zM73.9 683.5h0.7v0.7h-0.7zM50.0 665.8h0.7v0.7h-0.7zM79.6 671.7h0.7v0.7h-0.7zM83.4 668.3h0.7v0.7h-0.7zM43.3 669.7h0.7v0.7h-0.7zM82.2 681.0h0.7v0.7h-0.7zM47.1 678.3h0.7v0.7h-0.7zM78.4 668.1h0.7v0.7h-0.7zM75.4 679.5h0.7v0.7h-0.7zM67.8 663.3h0.7v0.7h-0.7zM53.1 666.0h0.7v0.7h-0.7zM71.6 659.8h0.7v0.7h-0.7zM49.1 684.7h0.7v0.7h-0.7zM76.0 667.2h0.7v0.7h-0.7zM41.2 676.5h0.7v0.7h-0.7zM80.9 670.1h0.7v0.7h-0.7zM49.1 670.9h0.7v0.7h-0.7zM73.5 660.6h0.7v0.7h-0.7zM48.1 669.5h0.7v0.7h-0.7zM76.5 683.7h0.7v0.7h-0.7zM56.5 661.4h0.7v0.7h-0.7zM70.9 665.2h0.7v0.7h-0.7zM78.2 674.4h0.7v0.7h-0.7zM57.5 683.7h0.7v0.7h-0.7zM63.9 685.3h0.7v0.7h-0.7zM70.1 662.0h0.7v0.7h-0.7zM68.7 686.3h0.7v0.7h-0.7zM75.4 686.8h0.7v0.7h-0.7zM76.7 680.2h0.7v0.7h-0.7zM43.9 667.4h0.7v0.7h-0.7zM54.3 664.9h0.7v0.7h-0.7zM47.4 665.0h0.7v0.7h-0.7zM80.6 668.4h0.7v0.7h-0.7zM56.3 659.7h0.7v0.7h-0.7zM69.3 688.0h0.7v0.7h-0.7zM47.0 675.4h0.7v0.7h-0.7zM62.6 684.7h0.7v0.7h-0.7zM75.4 667.4h0.7v0.7h-0.7zM52.0 665.4h0.7v0.7h-0.7zM63.0 686.1h0.7v0.7h-0.7zM71.5 665.3h0.7v0.7h-0.7zM49.9 681.6h0.7v0.7h-0.7zM43.9 675.2h0.7v0.7h-0.7zM75.8 663.8h0.7v0.7h-0.7zM75.7 662.0h0.7v0.7h-0.7zM68.7 664.5h0.7v0.7h-0.7zM80.0 679.1h0.7v0.7h-0.7zM68.7 685.5h0.7v0.7h-0.7zM44.8 671.6h0.7v0.7h-0.7zM65.1 659.7h0.7v0.7h-0.7zM66.8 687.0h0.7v0.7h-0.7zM45.4 676.2h0.7v0.7h-0.7zM60.0 660.1h0.7v0.7h-0.7zM58.4 662.2h0.7v0.7h-0.7zM79.4 680.7h0.7v0.7h-0.7zM62.6 685.9h0.7v0.7h-0.7zM75.1 680.3h0.7v0.7h-0.7zM42.5 679.3h0.7v0.7h-0.7zM50.7 666.4h0.7v0.7h-0.7zM78.2 670.6h0.7v0.7h-0.7zM56.2 664.6h0.7v0.7h-0.7zM83.6 669.9h0.7v0.7h-0.7zM72.0 663.5h0.7v0.7h-0.7zM45.6 677.8h0.7v0.7h-0.7zM79.7 667.8h0.7v0.7h-0.7zM45.3 680.7h0.7v0.7h-0.7zM82.1 668.9h0.7v0.7h-0.7zM77.7 684.3h0.7v0.7h-0.7zM41.9 678.7h0.7v0.7h-0.7zM51.7 681.8h0.7v0.7h-0.7zM79.3 684.5h0.7v0.7h-0.7zM49.8 678.4h0.7v0.7h-0.7zM41.2 673.9h0.7v0.7h-0.7zM79.0 673.8h0.7v0.7h-0.7zM67.1 684.6h0.7v0.7h-0.7zM74.7 680.0h0.7v0.7h-0.7zM67.1 688.2h0.7v0.7h-0.7zM46.9 679.0h0.7v0.7h-0.7zM51.9 666.3h0.7v0.7h-0.7zM65.8 662.6h0.7v0.7h-0.7zM47.0 672.7h0.7v0.7h-0.7zM62.1 685.0h0.7v0.7h-0.7zM49.1 681.9h0.7v0.7h-0.7zM80.0 682.5h0.7v0.7h-0.7zM53.2 686.0h0.7v0.7h-0.7zM68.4 683.7h0.7v0.7h-0.7zM79.1 672.4h0.7v0.7h-0.7zM84.5 675.1h0.7v0.7h-0.7zM50.1 678.6h0.7v0.7h-0.7zM52.1 664.7h0.7v0.7h-0.7zM83.3 671.1h0.7v0.7h-0.7zM52.6 662.1h0.7v0.7h-0.7zM53.8 687.7h0.7v0.7h-0.7zM77.9 669.3h0.7v0.7h-0.7zM77.2 677.4h0.7v0.7h-0.7zM44.1 671.8h0.7v0.7h-0.7zM70.4 659.8h0.7v0.7h-0.7zM49.7 682.4h0.7v0.7h-0.7zM45.9 683.0h0.7v0.7h-0.7zM66.1 684.7h0.7v0.7h-0.7zM73.6 687.7h0.7v0.7h-0.7zM63.1 686.2h0.7v0.7h-0.7zM72.2 688.0h0.7v0.7h-0.7zM76.8 679.2h0.7v0.7h-0.7zM56.5 662.0h0.7v0.7h-0.7zM49.1 682.0h0.7v0.7h-0.7zM75.2 667.2h0.7v0.7h-0.7zM47.9 670.1h0.7v0.7h-0.7zM45.6 674.2h0.7v0.7h-0.7zM48.6 680.2h0.7v0.7h-0.7zM78.9 674.9h0.7v0.7h-0.7zM61.1 661.8h0.7v0.7h-0.7zM73.9 681.6h0.7v0.7h-0.7zM60.3 662.9h0.7v0.7h-0.7zM80.2 669.3h0.7v0.7h-0.7zM78.6 678.7h0.7v0.7h-0.7zM47.1 663.2h0.7v0.7h-0.7zM77.1 668.3h0.7v0.7h-0.7zM48.6 665.4h0.7v0.7h-0.7zM74.6 666.5h0.7v0.7h-0.7zM44.2 672.6h0.7v0.7h-0.7zM45.0 675.2h0.7v0.7h-0.7zM78.7 675.3h0.7v0.7h-0.7zM79.1 670.6h0.7v0.7h-0.7zM77.2 671.7h0.7v0.7h-0.7zM84.0 674.4h0.7v0.7h-0.7zM57.1 688.2h0.7v0.7h-0.7zM82.1 674.0h0.7v0.7h-0.7zM71.3 663.9h0.7v0.7h-0.7zM75.3 662.9h0.7v0.7h-0.7zM71.7 663.4h0.7v0.7h-0.7zM69.6 685.3h0.7v0.7h-0.7zM55.9 684.4h0.7v0.7h-0.7zM75.4 667.1h0.7v0.7h-0.7zM50.9 664.6h0.7v0.7h-0.7zM45.1 676.4h0.7v0.7h-0.7zM41.3 674.5h0.7v0.7h-0.7zM53.4 661.1h0.7v0.7h-0.7zM63.1 687.0h0.7v0.7h-0.7zM59.4 660.3h0.7v0.7h-0.7zM68.7 664.4h0.7v0.7h-0.7zM79.9 682.4h0.7v0.7h-0.7zM50.4 681.1h0.7v0.7h-0.7zM48.5 678.2h0.7v0.7h-0.7zM61.6 661.6h0.7v0.7h-0.7zM71.4 662.7h0.7v0.7h-0.7zM77.7 673.6h0.7v0.7h-0.7zM72.7 665.7h0.7v0.7h-0.7zM46.8 674.7h0.7v0.7h-0.7zM45.4 682.5h0.7v0.7h-0.7zM65.5 686.2h0.7v0.7h-0.7zM48.0 671.9h0.7v0.7h-0.7zM46.3 672.6h0.7v0.7h-0.7zM84.2 672.0h0.7v0.7h-0.7zM41.6 672.2h0.7v0.7h-0.7zM75.5 679.3h0.7v0.7h-0.7zM45.1 682.2h0.7v0.7h-0.7zM81.1 665.2h0.7v0.7h-0.7zM69.5 662.5h0.7v0.7h-0.7zM65.5 659.8h0.7v0.7h-0.7zM42.3 674.6h0.7v0.7h-0.7zM61.7 662.8h0.7v0.7h-0.7zM78.2 678.0h0.7v0.7h-0.7zM67.3 661.9h0.7v0.7h-0.7z" fill="#b0b0b0" opacity="1"/>
<path d="M76.1 648.5h0.7v0.7h-0.7zM77.2 650.5h0.7v0.7h-0.7zM55.4 654.6h0.7v0.7h-0.7zM61.3 659.6h0.7v0.7h-0.7zM75.0 662.2h0.7v0.7h-0.7zM76.9 651.3h0.7v0.7h-0.7zM75.6 658.6h0.7v0.7h-0.7zM55.8 650.7h0.7v0.7h-0.7zM61.8 660.5h0.7v0.7h-0.7zM72.9 659.0h0.7v0.7h-0.7zM77.7 656.7h0.7v0.7h-0.7zM57.5 648.1h0.7v0.7h-0.7zM76.9 648.6h0.7v0.7h-0.7zM62.2 659.9h0.7v0.7h-0.7zM77.1 649.1h0.7v0.7h-0.7zM65.4 661.0h0.7v0.7h-0.7zM64.5 644.0h0.7v0.7h-0.7zM73.6 661.6h0.7v0.7h-0.7zM58.0 647.4h0.7v0.7h-0.7zM77.3 652.7h0.7v0.7h-0.7zM76.0 657.4h0.7v0.7h-0.7zM79.1 645.2h0.7v0.7h-0.7zM73.7 644.6h0.7v0.7h-0.7zM56.2 647.3h0.7v0.7h-0.7zM62.4 659.6h0.7v0.7h-0.7zM65.8 643.3h0.7v0.7h-0.7zM58.1 653.5h0.7v0.7h-0.7zM72.8 643.2h0.7v0.7h-0.7zM74.6 656.2h0.7v0.7h-0.7zM62.6 645.9h0.7v0.7h-0.7zM63.5 644.7h0.7v0.7h-0.7zM58.3 650.3h0.7v0.7h-0.7zM63.1 645.5h0.7v0.7h-0.7zM58.2 657.7h0.7v0.7h-0.7zM67.2 664.1h0.7v0.7h-0.7zM81.3 651.3h0.7v0.7h-0.7zM80.0 647.1h0.7v0.7h-0.7zM56.6 647.1h0.7v0.7h-0.7zM61.1 656.2h0.7v0.7h-0.7zM79.6 646.7h0.7v0.7h-0.7zM67.5 661.0h0.7v0.7h-0.7zM69.2 662.7h0.7v0.7h-0.7zM74.1 661.8h0.7v0.7h-0.7zM77.9 654.1h0.7v0.7h-0.7zM70.1 642.6h0.7v0.7h-0.7zM73.3 657.6h0.7v0.7h-0.7zM64.4 645.1h0.7v0.7h-0.7zM65.8 662.0h0.7v0.7h-0.7zM65.0 658.9h0.7v0.7h-0.7zM71.3 641.6h0.7v0.7h-0.7zM61.5 647.0h0.7v0.7h-0.7zM54.8 653.2h0.7v0.7h-0.7zM58.6 651.4h0.7v0.7h-0.7zM77.1 648.6h0.7v0.7h-0.7zM59.2 650.8h0.7v0.7h-0.7zM75.6 643.9h0.7v0.7h-0.7zM57.5 650.1h0.7v0.7h-0.7zM62.4 660.0h0.7v0.7h-0.7zM59.9 651.5h0.7v0.7h-0.7zM65.2 641.4h0.7v0.7h-0.7zM76.6 653.4h0.7v0.7h-0.7zM65.7 643.3h0.7v0.7h-0.7zM75.5 660.3h0.7v0.7h-0.7zM77.9 651.0h0.7v0.7h-0.7zM58.8 646.6h0.7v0.7h-0.7zM57.4 648.5h0.7v0.7h-0.7zM78.9 646.1h0.7v0.7h-0.7zM77.0 645.1h0.7v0.7h-0.7zM68.9 641.1h0.7v0.7h-0.7zM67.4 641.4h0.7v0.7h-0.7zM68.5 644.5h0.7v0.7h-0.7zM73.6 661.1h0.7v0.7h-0.7zM59.8 655.9h0.7v0.7h-0.7zM62.5 645.5h0.7v0.7h-0.7zM68.4 643.2h0.7v0.7h-0.7zM76.4 647.6h0.7v0.7h-0.7zM77.6 650.0h0.7v0.7h-0.7zM69.8 644.3h0.7v0.7h-0.7zM58.0 651.8h0.7v0.7h-0.7zM75.7 643.8h0.7v0.7h-0.7zM60.2 648.7h0.7v0.7h-0.7zM58.8 650.8h0.7v0.7h-0.7zM77.5 658.4h0.7v0.7h-0.7zM55.1 648.5h0.7v0.7h-0.7zM72.5 645.8h0.7v0.7h-0.7zM78.2 648.6h0.7v0.7h-0.7zM77.7 651.5h0.7v0.7h-0.7zM56.4 654.1h0.7v0.7h-0.7zM67.7 661.2h0.7v0.7h-0.7zM62.9 659.6h0.7v0.7h-0.7zM57.6 649.6h0.7v0.7h-0.7zM75.0 646.4h0.7v0.7h-0.7zM68.5 660.6h0.7v0.7h-0.7zM77.8 652.2h0.7v0.7h-0.7zM63.1 658.3h0.7v0.7h-0.7zM59.6 651.2h0.7v0.7h-0.7zM71.7 640.6h0.7v0.7h-0.7zM60.9 646.8h0.7v0.7h-0.7zM72.8 658.1h0.7v0.7h-0.7zM73.1 662.4h0.7v0.7h-0.7zM69.2 640.6h0.7v0.7h-0.7zM60.6 659.4h0.7v0.7h-0.7zM65.4 641.8h0.7v0.7h-0.7zM63.1 646.1h0.7v0.7h-0.7zM79.2 651.7h0.7v0.7h-0.7zM66.1 660.6h0.7v0.7h-0.7zM69.0 640.3h0.7v0.7h-0.7zM76.9 653.9h0.7v0.7h-0.7zM79.0 655.2h0.7v0.7h-0.7zM59.0 645.7h0.7v0.7h-0.7zM71.8 660.6h0.7v0.7h-0.7zM75.1 646.0h0.7v0.7h-0.7zM70.8 659.9h0.7v0.7h-0.7zM70.9 644.0h0.7v0.7h-0.7zM65.0 642.1h0.7v0.7h-0.7zM71.6 645.2h0.7v0.7h-0.7zM63.9 663.3h0.7v0.7h-0.7zM59.5 652.1h0.7v0.7h-0.7zM74.9 657.3h0.7v0.7h-0.7zM62.8 644.6h0.7v0.7h-0.7zM75.7 656.9h0.7v0.7h-0.7zM71.7 641.8h0.7v0.7h-0.7zM58.6 653.1h0.7v0.7h-0.7zM75.1 656.4h0.7v0.7h-0.7zM76.4 645.1h0.7v0.7h-0.7zM80.3 652.8h0.7v0.7h-0.7zM77.6 648.9h0.7v0.7h-0.7zM75.6 646.5h0.7v0.7h-0.7zM62.2 659.6h0.7v0.7h-0.7zM57.9 651.3h0.7v0.7h-0.7z" fill="#b0b0b0" opacity="1"/>
<path d="M39.7 665.2h0.7v0.7h-0.7zM58.7 649.1h0.7v0.7h-0.7zM32.2 657.3h0.7v0.7h-0.7zM39.3 674.5h0.7v0.7h-0.7zM55.6 656.6h0.7v0.7h-0.7zM39.4 656.4h0.7v0.7h-0.7zM38.9 646.1h0.7v0.7h-0.7zM57.5 661.9h0.7v0.7h-0.7zM57.2 640.2h0.7v0.7h-0.7zM58.7 668.6h0.7v0.7h-0.7zM37.8 654.6h0.7v0.7h-0.7zM53.2 682.5h0.7v0.7h-0.7zM40.4 650.8h0.7v0.7h-0.7zM28.7 662.7h0.7v0.7h-0.7zM51.4 640.2h0.7v0.7h-0.7zM35.9 680.3h0.7v0.7h-0.7zM50.9 650.3h0.7v0.7h-0.7zM57.2 671.4h0.7v0.7h-0.7zM48.3 681.7h0.7v0.7h-0.7zM74.3 661.2h0.7v0.7h-0.7zM62.7 677.4h0.7v0.7h-0.7zM42.4 662.9h0.7v0.7h-0.7zM64.9 658.8h0.7v0.7h-0.7zM62.6 658.5h0.7v0.7h-0.7zM51.4 675.3h0.7v0.7h-0.7zM56.4 674.9h0.7v0.7h-0.7zM44.6 643.5h0.7v0.7h-0.7zM70.8 660.6h0.7v0.7h-0.7zM48.2 673.3h0.7v0.7h-0.7zM66.0 643.2h0.7v0.7h-0.7zM55.0 664.6h0.7v0.7h-0.7zM50.3 647.1h0.7v0.7h-0.7zM44.6 643.4h0.7v0.7h-0.7zM75.3 658.6h0.7v0.7h-0.7zM76.3 659.3h0.7v0.7h-0.7zM36.6 654.8h0.7v0.7h-0.7zM63.0 677.9h0.7v0.7h-0.7zM33.5 660.7h0.7v0.7h-0.7zM46.5 670.5h0.7v0.7h-0.7zM29.8 659.5h0.7v0.7h-0.7zM46.8 666.8h0.7v0.7h-0.7zM27.4 647.0h0.7v0.7h-0.7zM60.1 678.3h0.7v0.7h-0.7zM44.2 658.8h0.7v0.7h-0.7zM60.1 676.6h0.7v0.7h-0.7zM53.5 653.6h0.7v0.7h-0.7zM39.4 639.9h0.7v0.7h-0.7zM51.5 680.8h0.7v0.7h-0.7zM54.7 665.9h0.7v0.7h-0.7zM57.5 639.0h0.7v0.7h-0.7zM44.7 646.4h0.7v0.7h-0.7zM39.8 647.1h0.7v0.7h-0.7zM28.9 645.8h0.7v0.7h-0.7zM38.6 661.6h0.7v0.7h-0.7zM53.4 674.5h0.7v0.7h-0.7zM51.0 648.0h0.7v0.7h-0.7zM49.2 667.6h0.7v0.7h-0.7zM49.0 655.5h0.7v0.7h-0.7zM44.3 665.9h0.7v0.7h-0.7zM46.3 641.2h0.7v0.7h-0.7zM47.1 654.2h0.7v0.7h-0.7zM48.8 669.8h0.7v0.7h-0.7zM72.8 647.6h0.7v0.7h-0.7zM53.4 644.5h0.7v0.7h-0.7zM33.5 667.9h0.7v0.7h-0.7zM36.8 656.2h0.7v0.7h-0.7zM51.8 665.3h0.7v0.7h-0.7zM49.4 667.5h0.7v0.7h-0.7zM46.5 639.8h0.7v0.7h-0.7zM63.9 678.5h0.7v0.7h-0.7zM51.4 648.4h0.7v0.7h-0.7zM48.9 646.0h0.7v0.7h-0.7zM37.3 644.0h0.7v0.7h-0.7zM66.6 652.6h0.7v0.7h-0.7zM54.2 676.8h0.7v0.7h-0.7zM40.9 648.0h0.7v0.7h-0.7zM31.3 678.2h0.7v0.7h-0.7zM72.2 654.7h0.7v0.7h-0.7zM29.5 661.0h0.7v0.7h-0.7zM52.7 664.9h0.7v0.7h-0.7zM50.4 676.5h0.7v0.7h-0.7zM72.3 655.7h0.7v0.7h-0.7zM45.5 655.1h0.7v0.7h-0.7zM53.1 655.2h0.7v0.7h-0.7zM55.5 674.9h0.7v0.7h-0.7zM51.8 654.7h0.7v0.7h-0.7zM51.7 642.9h0.7v0.7h-0.7zM39.7 647.0h0.7v0.7h-0.7zM74.5 656.0h0.7v0.7h-0.7zM76.0 664.7h0.7v0.7h-0.7zM34.1 640.4h0.7v0.7h-0.7zM64.0 656.0h0.7v0.7h-0.7zM67.5 678.4h0.7v0.7h-0.7zM58.6 661.2h0.7v0.7h-0.7zM55.8 679.9h0.7v0.7h-0.7zM60.4 674.1h0.7v0.7h-0.7zM52.1 676.6h0.7v0.7h-0.7zM28.8 669.9h0.7v0.7h-0.7zM28.0 645.4h0.7v0.7h-0.7zM56.3 663.9h0.7v0.7h-0.7zM28.9 649.5h0.7v0.7h-0.7zM57.5 657.7h0.7v0.7h-0.7zM65.0 657.3h0.7v0.7h-0.7zM55.0 657.6h0.7v0.7h-0.7zM36.5 670.5h0.7v0.7h-0.7zM49.5 639.5h0.7v0.7h-0.7zM63.0 670.9h0.7v0.7h-0.7zM65.8 672.5h0.7v0.7h-0.7zM73.2 670.4h0.7v0.7h-0.7zM33.2 666.0h0.7v0.7h-0.7zM45.9 655.1h0.7v0.7h-0.7zM65.2 651.5h0.7v0.7h-0.7zM27.7 661.2h0.7v0.7h-0.7zM56.5 660.9h0.7v0.7h-0.7zM34.4 646.3h0.7v0.7h-0.7zM48.9 654.4h0.7v0.7h-0.7zM53.5 668.7h0.7v0.7h-0.7z" fill="#c8c8c8" opacity="1"/>
<path d="M79.00,674.50C78.62,675.10 78.11,675.65 77.66,676.17C77.20,676.68 76.69,677.14 76.25,677.59C75.81,678.05 75.38,678.46 75.00,678.90C74.62,679.34 74.30,679.76 73.97,680.23C73.65,680.70 73.37,681.19 73.03,681.71C72.69,682.23 72.37,682.80 71.94,683.34C71.51,683.89 71.03,684.48 70.45,685.00C69.86,685.52 69.17,686.05 68.41,686.47C67.64,686.88 66.76,687.25 65.86,687.48C64.96,687.71 63.95,687.84 63.00,687.84C62.05,687.84 61.04,687.71 60.14,687.48C59.24,687.25 58.36,686.88 57.59,686.47C56.83,686.05 56.14,685.52 55.55,685.00C54.97,684.48 54.49,683.89 54.06,683.34C53.63,682.80 53.31,682.23 52.97,681.71C52.63,681.19 52.35,680.70 52.03,680.23C51.70,679.76 51.38,679.34 51.00,678.90C50.62,678.46 50.19,678.05 49.75,677.59C49.31,677.14 48.80,676.68 48.34,676.17C47.89,675.65 47.38,675.10 47.00,674.50C46.62,673.90 46.25,673.24 46.05,672.57C45.85,671.90 45.74,671.17 45.81,670.49C45.89,669.80 46.11,669.08 46.49,668.45C46.87,667.82 47.43,667.21 48.09,666.71C48.74,666.21 49.57,665.78 50.41,665.45C51.25,665.12 52.21,664.89 53.13,664.74C54.05,664.58 55.02,664.53 55.92,664.51C56.82,664.49 57.70,664.55 58.52,664.59C59.34,664.63 60.11,664.72 60.85,664.76C61.60,664.80 62.28,664.84 63.00,664.84C63.72,664.84 64.40,664.80 65.15,664.76C65.89,664.72 66.66,664.63 67.48,664.59C68.30,664.55 69.18,664.49 70.08,664.51C70.98,664.53 71.95,664.58 72.87,664.74C73.79,664.89 74.75,665.12 75.59,665.45C76.43,665.78 77.26,666.21 77.91,666.71C78.57,667.21 79.13,667.82 79.51,668.45C79.89,669.08 80.11,669.80 80.19,670.49C80.26,671.17 80.15,671.90 79.95,672.57C79.75,673.24 79.38,673.90 79.00,674.50Z" fill="#e6e6e6" stroke="#b0b0b0" stroke-width="0.35"/>
<path d="M77.20,674.50C76.87,675.01 76.45,675.48 76.06,675.92C75.67,676.36 75.24,676.74 74.86,677.13C74.48,677.52 74.12,677.86 73.80,678.24C73.48,678.61 73.21,678.97 72.93,679.37C72.65,679.77 72.42,680.19 72.13,680.63C71.84,681.07 71.57,681.55 71.20,682.02C70.83,682.48 70.43,682.99 69.93,683.43C69.43,683.87 68.85,684.32 68.20,684.67C67.55,685.02 66.80,685.34 66.03,685.53C65.26,685.73 64.41,685.84 63.60,685.84C62.79,685.84 61.94,685.73 61.17,685.53C60.40,685.34 59.65,685.02 59.00,684.67C58.35,684.32 57.77,683.87 57.27,683.43C56.77,682.99 56.37,682.48 56.00,682.02C55.63,681.55 55.36,681.07 55.07,680.63C54.78,680.19 54.55,679.77 54.27,679.37C53.99,678.97 53.72,678.61 53.40,678.24C53.08,677.86 52.72,677.52 52.34,677.13C51.96,676.74 51.53,676.36 51.14,675.92C50.75,675.48 50.33,675.01 50.00,674.50C49.67,673.99 49.36,673.43 49.19,672.86C49.02,672.29 48.93,671.67 48.99,671.09C49.05,670.51 49.25,669.90 49.57,669.36C49.89,668.83 50.37,668.31 50.92,667.88C51.48,667.45 52.18,667.09 52.90,666.81C53.61,666.53 54.43,666.33 55.21,666.20C55.99,666.07 56.82,666.03 57.58,666.01C58.34,665.99 59.09,666.04 59.79,666.08C60.49,666.11 61.14,666.19 61.78,666.22C62.41,666.26 62.99,666.29 63.60,666.29C64.21,666.29 64.79,666.26 65.42,666.22C66.06,666.19 66.71,666.11 67.41,666.08C68.11,666.04 68.86,665.99 69.62,666.01C70.38,666.03 71.21,666.07 71.99,666.20C72.77,666.33 73.59,666.53 74.30,666.81C75.02,667.09 75.72,667.45 76.28,667.88C76.83,668.31 77.31,668.83 77.63,669.36C77.95,669.90 78.15,670.51 78.21,671.09C78.27,671.67 78.18,672.29 78.01,672.86C77.84,673.43 77.53,673.99 77.20,674.50Z" fill="#dadada" stroke="#a8a8a8" stroke-width="0.35"/>
<path d="M75.40,674.50C75.13,674.92 74.78,675.31 74.46,675.67C74.14,676.03 73.78,676.35 73.47,676.67C73.16,676.98 72.87,677.27 72.60,677.58C72.34,677.88 72.11,678.18 71.88,678.51C71.65,678.84 71.46,679.19 71.22,679.55C70.99,679.91 70.76,680.31 70.46,680.69C70.16,681.07 69.82,681.49 69.41,681.85C69.00,682.22 68.52,682.59 67.99,682.88C67.45,683.16 66.83,683.42 66.20,683.58C65.57,683.74 64.87,683.84 64.20,683.84C63.53,683.84 62.83,683.74 62.20,683.58C61.57,683.42 60.95,683.16 60.41,682.88C59.88,682.59 59.40,682.22 58.99,681.85C58.58,681.49 58.24,681.07 57.94,680.69C57.64,680.31 57.41,679.91 57.18,679.55C56.94,679.19 56.75,678.84 56.52,678.51C56.29,678.18 56.06,677.88 55.80,677.58C55.53,677.27 55.24,676.98 54.93,676.67C54.62,676.35 54.26,676.03 53.94,675.67C53.62,675.31 53.27,674.92 53.00,674.50C52.73,674.08 52.47,673.62 52.33,673.15C52.20,672.68 52.12,672.17 52.17,671.69C52.22,671.21 52.38,670.71 52.64,670.27C52.91,669.83 53.30,669.40 53.76,669.05C54.22,668.70 54.80,668.39 55.38,668.16C55.97,667.93 56.65,667.77 57.29,667.67C57.93,667.56 58.61,667.52 59.24,667.51C59.87,667.49 60.49,667.53 61.06,667.56C61.64,667.59 62.18,667.65 62.70,667.68C63.22,667.71 63.70,667.74 64.20,667.74C64.70,667.74 65.18,667.71 65.70,667.68C66.22,667.65 66.76,667.59 67.34,667.56C67.91,667.53 68.53,667.49 69.16,667.51C69.79,667.52 70.47,667.56 71.11,667.67C71.75,667.77 72.43,667.93 73.02,668.16C73.60,668.39 74.18,668.70 74.64,669.05C75.10,669.40 75.49,669.83 75.76,670.27C76.02,670.71 76.18,671.21 76.23,671.69C76.28,672.17 76.20,672.68 76.07,673.15C75.93,673.62 75.67,674.08 75.40,674.50Z" fill="#d0d0d0" stroke="#a0a0a0" stroke-width="0.35"/>
<path d="M73.60,674.50C73.39,674.83 73.11,675.13 72.86,675.42C72.61,675.70 72.33,675.95 72.09,676.20C71.84,676.45 71.61,676.68 71.40,676.92C71.19,677.16 71.02,677.39 70.84,677.65C70.66,677.91 70.51,678.18 70.32,678.47C70.13,678.75 69.95,679.06 69.72,679.36C69.48,679.67 69.22,679.99 68.90,680.28C68.57,680.56 68.20,680.85 67.78,681.08C67.35,681.31 66.87,681.51 66.37,681.64C65.88,681.76 65.32,681.84 64.80,681.84C64.28,681.84 63.72,681.76 63.23,681.64C62.73,681.51 62.25,681.31 61.82,681.08C61.40,680.85 61.03,680.56 60.70,680.28C60.38,679.99 60.12,679.67 59.88,679.36C59.65,679.06 59.47,678.75 59.28,678.47C59.09,678.18 58.94,677.91 58.76,677.65C58.58,677.39 58.41,677.16 58.20,676.92C57.99,676.68 57.76,676.45 57.51,676.20C57.27,675.95 56.99,675.70 56.74,675.42C56.49,675.13 56.21,674.83 56.00,674.50C55.79,674.17 55.59,673.81 55.48,673.44C55.37,673.07 55.31,672.67 55.35,672.29C55.39,671.92 55.51,671.52 55.72,671.17C55.93,670.83 56.24,670.49 56.60,670.22C56.96,669.94 57.41,669.70 57.87,669.52C58.34,669.34 58.87,669.22 59.37,669.13C59.88,669.04 60.41,669.02 60.90,669.01C61.40,668.99 61.88,669.03 62.34,669.05C62.79,669.07 63.21,669.12 63.62,669.14C64.03,669.17 64.41,669.19 64.80,669.19C65.19,669.19 65.57,669.17 65.98,669.14C66.39,669.12 66.81,669.07 67.26,669.05C67.72,669.03 68.20,668.99 68.70,669.01C69.19,669.02 69.72,669.04 70.23,669.13C70.73,669.22 71.26,669.34 71.73,669.52C72.19,669.70 72.64,669.94 73.00,670.22C73.36,670.49 73.67,670.83 73.88,671.17C74.09,671.52 74.21,671.92 74.25,672.29C74.29,672.67 74.23,673.07 74.12,673.44C74.01,673.81 73.81,674.17 73.60,674.50Z" fill="#c6c6c6" stroke="#989898" stroke-width="0.35"/>
<path d="M71.80,674.50C71.65,674.74 71.45,674.96 71.26,675.17C71.08,675.37 70.88,675.56 70.70,675.74C70.52,675.92 70.35,676.08 70.20,676.26C70.05,676.43 69.92,676.60 69.79,676.79C69.66,676.98 69.55,677.18 69.41,677.38C69.28,677.59 69.15,677.82 68.98,678.04C68.80,678.26 68.61,678.49 68.38,678.70C68.14,678.91 67.87,679.12 67.56,679.29C67.26,679.45 66.90,679.60 66.54,679.69C66.18,679.78 65.78,679.84 65.40,679.84C65.02,679.84 64.62,679.78 64.26,679.69C63.90,679.60 63.54,679.45 63.24,679.29C62.93,679.12 62.66,678.91 62.42,678.70C62.19,678.49 62.00,678.26 61.82,678.04C61.65,677.82 61.52,677.59 61.39,677.38C61.25,677.18 61.14,676.98 61.01,676.79C60.88,676.60 60.75,676.43 60.60,676.26C60.45,676.08 60.28,675.92 60.10,675.74C59.92,675.56 59.72,675.37 59.54,675.17C59.35,674.96 59.15,674.74 59.00,674.50C58.85,674.26 58.70,674.00 58.62,673.73C58.54,673.46 58.50,673.17 58.53,672.89C58.55,672.62 58.64,672.33 58.80,672.08C58.95,671.83 59.17,671.59 59.43,671.38C59.70,671.18 60.03,671.01 60.36,670.88C60.70,670.75 61.08,670.66 61.45,670.59C61.82,670.53 62.21,670.51 62.57,670.50C62.93,670.49 63.28,670.52 63.61,670.54C63.94,670.55 64.24,670.59 64.54,670.60C64.84,670.62 65.11,670.64 65.40,670.64C65.69,670.64 65.96,670.62 66.26,670.60C66.56,670.59 66.86,670.55 67.19,670.54C67.52,670.52 67.87,670.49 68.23,670.50C68.59,670.51 68.98,670.53 69.35,670.59C69.72,670.66 70.10,670.75 70.44,670.88C70.77,671.01 71.10,671.18 71.37,671.38C71.63,671.59 71.85,671.83 72.00,672.08C72.16,672.33 72.25,672.62 72.27,672.89C72.30,673.17 72.26,673.46 72.18,673.73C72.10,674.00 71.95,674.26 71.80,674.50Z" fill="#bdbdbd" stroke="#909090" stroke-width="0.35"/>
<path d="M70.24,674.50C70.14,674.66 70.00,674.81 69.88,674.95C69.75,675.09 69.62,675.21 69.50,675.34C69.38,675.46 69.26,675.57 69.16,675.69C69.06,675.81 68.97,675.92 68.88,676.05C68.79,676.17 68.72,676.31 68.63,676.45C68.54,676.59 68.45,676.74 68.33,676.89C68.22,677.04 68.09,677.20 67.93,677.34C67.77,677.48 67.59,677.62 67.38,677.73C67.17,677.84 66.94,677.94 66.69,678.00C66.45,678.07 66.18,678.10 65.92,678.10C65.66,678.10 65.39,678.07 65.15,678.00C64.90,677.94 64.67,677.84 64.46,677.73C64.25,677.62 64.07,677.48 63.91,677.34C63.75,677.20 63.62,677.04 63.51,676.89C63.39,676.74 63.30,676.59 63.21,676.45C63.12,676.31 63.05,676.17 62.96,676.05C62.87,675.92 62.78,675.81 62.68,675.69C62.58,675.57 62.46,675.46 62.34,675.34C62.22,675.21 62.09,675.09 61.96,674.95C61.84,674.81 61.70,674.66 61.60,674.50C61.50,674.34 61.40,674.16 61.34,673.98C61.29,673.80 61.26,673.60 61.28,673.42C61.30,673.23 61.36,673.04 61.46,672.87C61.56,672.70 61.72,672.53 61.89,672.40C62.07,672.26 62.29,672.14 62.52,672.06C62.75,671.97 63.01,671.91 63.26,671.86C63.50,671.82 63.77,671.81 64.01,671.80C64.25,671.80 64.49,671.81 64.71,671.82C64.93,671.84 65.14,671.86 65.34,671.87C65.54,671.88 65.73,671.89 65.92,671.89C66.11,671.89 66.30,671.88 66.50,671.87C66.70,671.86 66.91,671.84 67.13,671.82C67.35,671.81 67.59,671.80 67.83,671.80C68.07,671.81 68.34,671.82 68.58,671.86C68.83,671.91 69.09,671.97 69.32,672.06C69.55,672.14 69.77,672.26 69.95,672.40C70.12,672.53 70.28,672.70 70.38,672.87C70.48,673.04 70.54,673.23 70.56,673.42C70.58,673.60 70.55,673.80 70.50,673.98C70.44,674.16 70.34,674.34 70.24,674.50Z" fill="#b6b6b6" stroke="#8a8a8a" stroke-width="0.35"/>
<path d="M68.44,674.50C68.39,674.57 68.33,674.64 68.28,674.70C68.22,674.76 68.16,674.82 68.11,674.87C68.06,674.93 68.01,674.97 67.96,675.03C67.91,675.08 67.88,675.13 67.84,675.19C67.80,675.24 67.76,675.30 67.72,675.37C67.68,675.43 67.64,675.50 67.59,675.56C67.54,675.63 67.48,675.70 67.41,675.76C67.34,675.82 67.26,675.89 67.17,675.94C67.08,675.99 66.97,676.03 66.86,676.06C66.75,676.08 66.63,676.10 66.52,676.10C66.41,676.10 66.29,676.08 66.18,676.06C66.07,676.03 65.96,675.99 65.87,675.94C65.78,675.89 65.70,675.82 65.63,675.76C65.56,675.70 65.50,675.63 65.45,675.56C65.40,675.50 65.36,675.43 65.32,675.37C65.28,675.30 65.24,675.24 65.20,675.19C65.16,675.13 65.13,675.08 65.08,675.03C65.03,674.97 64.98,674.93 64.93,674.87C64.88,674.82 64.82,674.76 64.76,674.70C64.71,674.64 64.65,674.57 64.60,674.50C64.55,674.43 64.51,674.35 64.49,674.27C64.46,674.19 64.45,674.10 64.46,674.02C64.47,673.94 64.49,673.85 64.54,673.77C64.58,673.70 64.65,673.63 64.73,673.57C64.81,673.51 64.91,673.45 65.01,673.41C65.11,673.37 65.23,673.35 65.34,673.33C65.45,673.31 65.56,673.30 65.67,673.30C65.78,673.30 65.88,673.31 65.98,673.31C66.08,673.32 66.17,673.33 66.26,673.33C66.35,673.34 66.43,673.34 66.52,673.34C66.61,673.34 66.69,673.34 66.78,673.33C66.87,673.33 66.96,673.32 67.06,673.31C67.16,673.31 67.26,673.30 67.37,673.30C67.48,673.30 67.59,673.31 67.70,673.33C67.81,673.35 67.93,673.37 68.03,673.41C68.13,673.45 68.23,673.51 68.31,673.57C68.39,673.63 68.46,673.70 68.50,673.77C68.55,673.85 68.57,673.94 68.58,674.02C68.59,674.10 68.58,674.19 68.55,674.27C68.53,674.35 68.49,674.43 68.44,674.50Z" fill="#f2f2f2" stroke="#c0c0c0" stroke-width="0.35"/>
<path d="M77.50,652.00C77.39,652.42 77.23,652.82 77.07,653.21C76.90,653.59 76.70,653.96 76.51,654.31C76.31,654.67 76.10,655.01 75.89,655.34C75.67,655.68 75.46,656.01 75.23,656.34C75.00,656.68 74.77,657.01 74.50,657.34C74.24,657.66 73.97,658.00 73.66,658.31C73.35,658.63 73.01,658.94 72.64,659.22C72.26,659.49 71.85,659.76 71.41,659.97C70.97,660.17 70.49,660.35 70.01,660.46C69.52,660.58 69.00,660.64 68.50,660.64C68.00,660.64 67.48,660.58 66.99,660.46C66.51,660.35 66.03,660.17 65.59,659.97C65.15,659.76 64.74,659.49 64.36,659.22C63.99,658.94 63.65,658.63 63.34,658.31C63.03,658.00 62.76,657.66 62.50,657.34C62.23,657.01 62.00,656.68 61.77,656.34C61.54,656.01 61.33,655.68 61.11,655.34C60.90,655.01 60.69,654.67 60.49,654.31C60.30,653.96 60.10,653.59 59.93,653.21C59.77,652.82 59.61,652.42 59.50,652.00C59.39,651.58 59.31,651.14 59.29,650.70C59.27,650.26 59.29,649.80 59.39,649.37C59.48,648.93 59.63,648.49 59.85,648.08C60.06,647.68 60.34,647.28 60.66,646.94C60.99,646.60 61.37,646.29 61.78,646.02C62.18,645.76 62.63,645.54 63.08,645.37C63.53,645.19 64.00,645.06 64.47,644.96C64.93,644.86 65.40,644.80 65.85,644.75C66.30,644.70 66.75,644.68 67.19,644.66C67.63,644.64 68.06,644.64 68.50,644.64C68.94,644.64 69.37,644.64 69.81,644.66C70.25,644.68 70.70,644.70 71.15,644.75C71.60,644.80 72.07,644.86 72.53,644.96C73.00,645.06 73.47,645.19 73.92,645.37C74.37,645.54 74.82,645.76 75.22,646.02C75.63,646.29 76.01,646.60 76.34,646.94C76.66,647.28 76.94,647.68 77.15,648.08C77.37,648.49 77.52,648.93 77.61,649.37C77.71,649.80 77.73,650.26 77.71,650.70C77.69,651.14 77.61,651.58 77.50,652.00Z" fill="#e6e6e6" stroke="#b0b0b0" stroke-width="0.35"/>
<path d="M75.70,652.00C75.61,652.33 75.49,652.66 75.35,652.96C75.22,653.27 75.06,653.56 74.90,653.85C74.75,654.13 74.58,654.40 74.41,654.68C74.24,654.95 74.07,655.21 73.88,655.48C73.70,655.74 73.51,656.01 73.30,656.27C73.09,656.53 72.88,656.80 72.63,657.05C72.38,657.30 72.11,657.55 71.81,657.77C71.51,657.99 71.18,658.21 70.83,658.37C70.48,658.54 70.09,658.68 69.71,658.77C69.32,658.86 68.90,658.91 68.50,658.91C68.10,658.91 67.68,658.86 67.29,658.77C66.91,658.68 66.52,658.54 66.17,658.37C65.82,658.21 65.49,657.99 65.19,657.77C64.89,657.55 64.62,657.30 64.37,657.05C64.12,656.80 63.91,656.53 63.70,656.27C63.49,656.01 63.30,655.74 63.12,655.48C62.93,655.21 62.76,654.95 62.59,654.68C62.42,654.40 62.25,654.13 62.10,653.85C61.94,653.56 61.78,653.27 61.65,652.96C61.51,652.66 61.39,652.33 61.30,652.00C61.21,651.67 61.15,651.31 61.13,650.96C61.12,650.61 61.13,650.24 61.21,649.89C61.28,649.54 61.41,649.19 61.58,648.86C61.75,648.54 61.97,648.23 62.23,647.95C62.49,647.68 62.80,647.43 63.12,647.22C63.44,647.01 63.80,646.84 64.16,646.69C64.52,646.55 64.90,646.45 65.27,646.37C65.64,646.29 66.02,646.24 66.38,646.20C66.74,646.16 67.10,646.14 67.45,646.13C67.81,646.11 68.15,646.11 68.50,646.11C68.85,646.11 69.19,646.11 69.55,646.13C69.90,646.14 70.26,646.16 70.62,646.20C70.98,646.24 71.36,646.29 71.73,646.37C72.10,646.45 72.48,646.55 72.84,646.69C73.20,646.84 73.56,647.01 73.88,647.22C74.20,647.43 74.51,647.68 74.77,647.95C75.03,648.23 75.25,648.54 75.42,648.86C75.59,649.19 75.72,649.54 75.79,649.89C75.87,650.24 75.88,650.61 75.87,650.96C75.85,651.31 75.79,651.67 75.70,652.00Z" fill="#dadada" stroke="#a8a8a8" stroke-width="0.35"/>
<path d="M73.90,652.00C73.84,652.25 73.74,652.49 73.64,652.72C73.54,652.95 73.42,653.17 73.30,653.39C73.19,653.60 73.06,653.80 72.93,654.01C72.80,654.21 72.67,654.41 72.54,654.61C72.40,654.81 72.26,655.01 72.10,655.20C71.95,655.40 71.78,655.60 71.60,655.79C71.41,655.98 71.21,656.16 70.98,656.33C70.76,656.50 70.51,656.65 70.25,656.78C69.98,656.90 69.70,657.01 69.40,657.08C69.11,657.15 68.80,657.18 68.50,657.18C68.20,657.18 67.89,657.15 67.60,657.08C67.30,657.01 67.02,656.90 66.75,656.78C66.49,656.65 66.24,656.50 66.02,656.33C65.79,656.16 65.59,655.98 65.40,655.79C65.22,655.60 65.05,655.40 64.90,655.20C64.74,655.01 64.60,654.81 64.46,654.61C64.33,654.41 64.20,654.21 64.07,654.01C63.94,653.80 63.81,653.60 63.70,653.39C63.58,653.17 63.46,652.95 63.36,652.72C63.26,652.49 63.16,652.25 63.10,652.00C63.04,651.75 62.98,651.49 62.97,651.22C62.96,650.96 62.98,650.68 63.03,650.42C63.09,650.16 63.18,649.89 63.31,649.65C63.44,649.41 63.61,649.17 63.80,648.96C63.99,648.76 64.22,648.57 64.47,648.41C64.71,648.26 64.98,648.13 65.25,648.02C65.52,647.91 65.80,647.84 66.08,647.78C66.36,647.71 66.64,647.68 66.91,647.65C67.18,647.62 67.45,647.61 67.72,647.60C67.98,647.59 68.24,647.58 68.50,647.58C68.76,647.58 69.02,647.59 69.28,647.60C69.55,647.61 69.82,647.62 70.09,647.65C70.36,647.68 70.64,647.71 70.92,647.78C71.20,647.84 71.48,647.91 71.75,648.02C72.02,648.13 72.29,648.26 72.53,648.41C72.78,648.57 73.01,648.76 73.20,648.96C73.39,649.17 73.56,649.41 73.69,649.65C73.82,649.89 73.91,650.16 73.97,650.42C74.02,650.68 74.04,650.96 74.03,651.22C74.02,651.49 73.96,651.75 73.90,652.00Z" fill="#d0d0d0" stroke="#a0a0a0" stroke-width="0.35"/>
<path d="M72.10,652.00C72.06,652.17 71.99,652.33 71.93,652.48C71.86,652.64 71.78,652.78 71.70,652.92C71.62,653.07 71.54,653.20 71.45,653.34C71.37,653.47 71.28,653.61 71.19,653.74C71.10,653.87 71.01,654.00 70.90,654.13C70.80,654.27 70.69,654.40 70.56,654.52C70.44,654.65 70.30,654.78 70.15,654.89C70.00,655.00 69.84,655.10 69.66,655.19C69.49,655.27 69.30,655.34 69.10,655.39C68.91,655.43 68.70,655.46 68.50,655.46C68.30,655.46 68.09,655.43 67.90,655.39C67.70,655.34 67.51,655.27 67.34,655.19C67.16,655.10 67.00,655.00 66.85,654.89C66.70,654.78 66.56,654.65 66.44,654.52C66.31,654.40 66.20,654.27 66.10,654.13C65.99,654.00 65.90,653.87 65.81,653.74C65.72,653.61 65.63,653.47 65.55,653.34C65.46,653.20 65.38,653.07 65.30,652.92C65.22,652.78 65.14,652.64 65.07,652.48C65.01,652.33 64.94,652.17 64.90,652.00C64.86,651.83 64.82,651.66 64.82,651.48C64.81,651.31 64.82,651.12 64.85,650.95C64.89,650.77 64.95,650.59 65.04,650.43C65.12,650.27 65.24,650.11 65.37,649.98C65.49,649.84 65.65,649.71 65.81,649.61C65.97,649.50 66.15,649.42 66.33,649.35C66.51,649.28 66.70,649.23 66.89,649.18C67.07,649.14 67.26,649.12 67.44,649.10C67.62,649.08 67.80,649.07 67.98,649.06C68.15,649.06 68.33,649.06 68.50,649.06C68.67,649.06 68.85,649.06 69.02,649.06C69.20,649.07 69.38,649.08 69.56,649.10C69.74,649.12 69.93,649.14 70.11,649.18C70.30,649.23 70.49,649.28 70.67,649.35C70.85,649.42 71.03,649.50 71.19,649.61C71.35,649.71 71.51,649.84 71.63,649.98C71.76,650.11 71.88,650.27 71.96,650.43C72.05,650.59 72.11,650.77 72.15,650.95C72.18,651.12 72.19,651.31 72.18,651.48C72.18,651.66 72.14,651.83 72.10,652.00Z" fill="#c6c6c6" stroke="#989898" stroke-width="0.35"/>
<path d="M70.30,652.00C70.28,652.08 70.25,652.16 70.21,652.24C70.18,652.32 70.14,652.39 70.10,652.46C70.06,652.53 70.02,652.60 69.98,652.67C69.93,652.74 69.89,652.80 69.85,652.87C69.80,652.94 69.75,653.00 69.70,653.07C69.65,653.13 69.59,653.20 69.53,653.26C69.47,653.33 69.40,653.39 69.33,653.44C69.25,653.50 69.17,653.55 69.08,653.59C68.99,653.63 68.90,653.67 68.80,653.69C68.70,653.72 68.60,653.73 68.50,653.73C68.40,653.73 68.30,653.72 68.20,653.69C68.10,653.67 68.01,653.63 67.92,653.59C67.83,653.55 67.75,653.50 67.67,653.44C67.60,653.39 67.53,653.33 67.47,653.26C67.41,653.20 67.35,653.13 67.30,653.07C67.25,653.00 67.20,652.94 67.15,652.87C67.11,652.80 67.07,652.74 67.02,652.67C66.98,652.60 66.94,652.53 66.90,652.46C66.86,652.39 66.82,652.32 66.79,652.24C66.75,652.16 66.72,652.08 66.70,652.00C66.68,651.92 66.66,651.83 66.66,651.74C66.65,651.65 66.66,651.56 66.68,651.47C66.70,651.39 66.73,651.30 66.77,651.22C66.81,651.14 66.87,651.06 66.93,650.99C67.00,650.92 67.07,650.86 67.16,650.80C67.24,650.75 67.33,650.71 67.42,650.67C67.51,650.64 67.60,650.61 67.69,650.59C67.79,650.57 67.88,650.56 67.97,650.55C68.06,650.54 68.15,650.54 68.24,650.53C68.33,650.53 68.41,650.53 68.50,650.53C68.59,650.53 68.67,650.53 68.76,650.53C68.85,650.54 68.94,650.54 69.03,650.55C69.12,650.56 69.21,650.57 69.31,650.59C69.40,650.61 69.49,650.64 69.58,650.67C69.67,650.71 69.76,650.75 69.84,650.80C69.93,650.86 70.00,650.92 70.07,650.99C70.13,651.06 70.19,651.14 70.23,651.22C70.27,651.30 70.30,651.39 70.32,651.47C70.34,651.56 70.35,651.65 70.34,651.74C70.34,651.83 70.32,651.92 70.30,652.00Z" fill="#f0f0f0" stroke="#909090" stroke-width="0.35"/>
<path d="M49.00,653.80C49.00,654.04 48.98,654.28 48.94,654.52C48.89,654.76 48.83,654.99 48.75,655.22C48.66,655.45 48.56,655.67 48.43,655.89C48.31,656.10 48.17,656.31 48.01,656.50C47.85,656.70 47.67,656.88 47.48,657.05C47.29,657.22 47.08,657.38 46.86,657.52C46.64,657.66 46.40,657.79 46.16,657.90C45.92,658.01 45.66,658.10 45.41,658.17C45.15,658.25 44.88,658.31 44.61,658.34C44.35,658.38 44.07,658.40 43.80,658.40C43.53,658.40 43.25,658.38 42.99,658.34C42.72,658.31 42.45,658.25 42.19,658.17C41.94,658.10 41.68,658.01 41.44,657.90C41.20,657.79 40.96,657.66 40.74,657.52C40.52,657.38 40.31,657.22 40.12,657.05C39.93,656.88 39.75,656.70 39.59,656.50C39.43,656.31 39.29,656.10 39.17,655.89C39.04,655.67 38.94,655.45 38.85,655.22C38.77,654.99 38.71,654.76 38.66,654.52C38.62,654.28 38.60,654.04 38.60,653.80C38.60,653.56 38.62,653.32 38.66,653.08C38.71,652.84 38.77,652.61 38.85,652.38C38.94,652.15 39.04,651.93 39.17,651.71C39.29,651.50 39.43,651.29 39.59,651.10C39.75,650.90 39.93,650.72 40.12,650.55C40.31,650.38 40.52,650.22 40.74,650.08C40.96,649.94 41.20,649.81 41.44,649.70C41.68,649.59 41.94,649.50 42.19,649.43C42.45,649.35 42.72,649.29 42.99,649.26C43.25,649.22 43.53,649.20 43.80,649.20C44.07,649.20 44.35,649.22 44.61,649.26C44.88,649.29 45.15,649.35 45.41,649.43C45.66,649.50 45.92,649.59 46.16,649.70C46.40,649.81 46.64,649.94 46.86,650.08C47.08,650.22 47.29,650.38 47.48,650.55C47.67,650.72 47.85,650.90 48.01,651.10C48.17,651.29 48.31,651.50 48.43,651.71C48.56,651.93 48.66,652.15 48.75,652.38C48.83,652.61 48.89,652.84 48.94,653.08C48.98,653.32 49.00,653.56 49.00,653.80Z" fill="#f4f4f4" stroke="#8e8e8e" stroke-width="0.55"/>
<path d="M47.54,653.80C47.54,653.97 47.53,654.15 47.50,654.32C47.47,654.49 47.42,654.66 47.36,654.82C47.30,654.99 47.22,655.15 47.14,655.30C47.05,655.46 46.94,655.61 46.83,655.75C46.71,655.89 46.59,656.02 46.45,656.14C46.31,656.26 46.16,656.38 46.00,656.48C45.84,656.58 45.67,656.67 45.50,656.75C45.33,656.83 45.14,656.90 44.96,656.95C44.77,657.00 44.58,657.04 44.39,657.07C44.19,657.10 44.00,657.11 43.80,657.11C43.60,657.11 43.41,657.10 43.21,657.07C43.02,657.04 42.83,657.00 42.64,656.95C42.46,656.90 42.27,656.83 42.10,656.75C41.93,656.67 41.76,656.58 41.60,656.48C41.44,656.38 41.29,656.26 41.15,656.14C41.01,656.02 40.89,655.89 40.77,655.75C40.66,655.61 40.55,655.46 40.46,655.30C40.38,655.15 40.30,654.99 40.24,654.82C40.18,654.66 40.13,654.49 40.10,654.32C40.07,654.15 40.06,653.97 40.06,653.80C40.06,653.63 40.07,653.45 40.10,653.28C40.13,653.11 40.18,652.94 40.24,652.78C40.30,652.61 40.38,652.45 40.46,652.30C40.55,652.14 40.66,651.99 40.77,651.85C40.89,651.71 41.01,651.58 41.15,651.46C41.29,651.34 41.44,651.22 41.60,651.12C41.76,651.02 41.93,650.93 42.10,650.85C42.27,650.77 42.46,650.70 42.64,650.65C42.83,650.60 43.02,650.56 43.21,650.53C43.41,650.50 43.60,650.49 43.80,650.49C44.00,650.49 44.19,650.50 44.39,650.53C44.58,650.56 44.77,650.60 44.96,650.65C45.14,650.70 45.33,650.77 45.50,650.85C45.67,650.93 45.84,651.02 46.00,651.12C46.16,651.22 46.31,651.34 46.45,651.46C46.59,651.58 46.71,651.71 46.83,651.85C46.94,651.99 47.05,652.14 47.14,652.30C47.22,652.45 47.30,652.61 47.36,652.78C47.42,652.94 47.47,653.11 47.50,653.28C47.53,653.45 47.54,653.63 47.54,653.80Z" fill="#ffffff" stroke="#a0a0a0" stroke-width="0.55"/>
<path d="M46.14,653.80C46.14,653.91 46.13,654.02 46.11,654.12C46.09,654.23 46.06,654.34 46.03,654.44C45.99,654.54 45.94,654.64 45.88,654.74C45.83,654.84 45.76,654.93 45.69,655.02C45.62,655.10 45.54,655.19 45.45,655.26C45.37,655.34 45.27,655.41 45.18,655.47C45.08,655.54 44.97,655.60 44.86,655.64C44.75,655.69 44.64,655.74 44.52,655.77C44.41,655.80 44.29,655.83 44.17,655.84C44.05,655.86 43.92,655.87 43.80,655.87C43.68,655.87 43.55,655.86 43.43,655.84C43.31,655.83 43.19,655.80 43.08,655.77C42.96,655.74 42.85,655.69 42.74,655.64C42.63,655.60 42.52,655.54 42.42,655.47C42.33,655.41 42.23,655.34 42.15,655.26C42.06,655.19 41.98,655.10 41.91,655.02C41.84,654.93 41.77,654.84 41.72,654.74C41.66,654.64 41.61,654.54 41.57,654.44C41.54,654.34 41.51,654.23 41.49,654.12C41.47,654.02 41.46,653.91 41.46,653.80C41.46,653.69 41.47,653.58 41.49,653.48C41.51,653.37 41.54,653.26 41.57,653.16C41.61,653.06 41.66,652.96 41.72,652.86C41.77,652.76 41.84,652.67 41.91,652.58C41.98,652.50 42.06,652.41 42.15,652.34C42.23,652.26 42.33,652.19 42.42,652.13C42.52,652.06 42.63,652.00 42.74,651.96C42.85,651.91 42.96,651.86 43.08,651.83C43.19,651.80 43.31,651.77 43.43,651.76C43.55,651.74 43.68,651.73 43.80,651.73C43.92,651.73 44.05,651.74 44.17,651.76C44.29,651.77 44.41,651.80 44.52,651.83C44.64,651.86 44.75,651.91 44.86,651.96C44.97,652.00 45.08,652.06 45.18,652.13C45.27,652.19 45.37,652.26 45.45,652.34C45.54,652.41 45.62,652.50 45.69,652.58C45.76,652.67 45.83,652.76 45.88,652.86C45.94,652.96 45.99,653.06 46.03,653.16C46.06,653.26 46.09,653.37 46.11,653.48C46.13,653.58 46.14,653.69 46.14,653.80Z" fill="#ffffff" stroke="#b8b8b8" stroke-width="0.55"/>
<path d="M48.5,650.5 C52,648 56,649.5 59.5,652.5 M48.5,657 C52,659 56,658 59.5,655" fill="none" stroke="#a8a8a8" stroke-width="0.45" />
<line x1="26.50" y1="662.60" x2="94.20" y2="662.60" stroke="#555" stroke-width="1" />
<path d="M62.80,622.30 L50.30,662.30 L36.60,677.70" fill="none" stroke="#333" stroke-width="0.9" />
<rect x="26.50" y="622.60" width="67.70" height="66.70" fill="none" stroke="#b8b8b8" stroke-width="0.9" />
<path d="M26.50,686.30h-2.2M26.50,682.60h-1.2M26.50,678.81h-1.2M26.50,674.97h-1.2M26.50,671.02h-1.2M26.50,667.23h-2.2M26.50,663.29h-1.2M26.50,660.07h-1.2M26.50,656.49h-1.2M26.50,652.54h-1.2M26.50,648.82h-2.2M26.50,644.90h-1.2M26.50,641.61h-1.2M26.50,638.03h-1.2M26.50,634.63h-1.2M26.50,631.00h-2.2M26.50,627.34h-1.2M29.50,689.30v2.2M32.87,689.30v1.2M36.30,689.30v1.2M40.23,689.30v1.2M44.04,689.30v1.2M47.37,689.30v2.2M51.21,689.30v1.2M54.52,689.30v1.2M58.21,689.30v1.2M61.51,689.30v1.2M64.72,689.30v2.2M68.61,689.30v1.2M71.98,689.30v1.2M75.35,689.30v1.2M79.34,689.30v1.2M83.24,689.30v2.2M86.67,689.30v1.2M90.64,689.30v1.2" stroke="#8a8a8a" stroke-width="0.6" fill="none"/>
<rect x="24.30" y="671.83" width="1.6" height="1.6" fill="#222"/>
<rect x="37.19" y="689.60" width="3.2" height="1.4" fill="#222"/>
<text x="27.80" y="632.00" font-size="8.6" text-anchor="start" font-weight="normal" fill="#111" stroke="#111" stroke-width="0.15" >4.8</text>
<text x="90.50" y="632.00" font-size="8.6" text-anchor="end" font-weight="normal" fill="#111" stroke="#111" stroke-width="0.15" >20</text>
<text x="27.80" y="686.80" font-size="8.6" text-anchor="start" font-weight="normal" fill="#111" stroke="#111" stroke-width="0.15" >0.3</text>
<text x="90.50" y="686.80" font-size="8.6" text-anchor="end" font-weight="normal" fill="#111" stroke="#111" stroke-width="0.15" >75</text>
<path d="M52.1 763.7h0.7v0.7h-0.7zM79.5 753.7h0.7v0.7h-0.7zM81.2 766.8h0.7v0.7h-0.7zM78.6 764.7h0.7v0.7h-0.7zM81.2 765.6h0.7v0.7h-0.7zM75.3 749.7h0.7v0.7h-0.7zM69.2 773.3h0.7v0.7h-0.7zM76.3 752.1h0.7v0.7h-0.7zM63.4 772.5h0.7v0.7h-0.7zM84.6 757.6h0.7v0.7h-0.7zM78.6 751.0h0.7v0.7h-0.7zM68.3 772.3h0.7v0.7h-0.7zM50.7 765.5h0.7v0.7h-0.7zM51.9 760.8h0.7v0.7h-0.7zM76.4 754.3h0.7v0.7h-0.7zM57.9 769.2h0.7v0.7h-0.7zM79.2 757.9h0.7v0.7h-0.7zM49.1 753.4h0.7v0.7h-0.7zM51.5 751.0h0.7v0.7h-0.7zM53.6 767.1h0.7v0.7h-0.7zM55.5 768.1h0.7v0.7h-0.7zM58.4 767.9h0.7v0.7h-0.7zM83.6 758.8h0.7v0.7h-0.7zM58.9 749.2h0.7v0.7h-0.7zM70.4 770.0h0.7v0.7h-0.7zM83.9 757.3h0.7v0.7h-0.7zM48.9 763.6h0.7v0.7h-0.7zM78.6 757.5h0.7v0.7h-0.7zM55.7 768.5h0.7v0.7h-0.7zM57.1 770.1h0.7v0.7h-0.7zM62.2 769.6h0.7v0.7h-0.7zM76.6 751.6h0.7v0.7h-0.7zM70.3 750.5h0.7v0.7h-0.7zM60.3 771.0h0.7v0.7h-0.7zM81.1 762.6h0.7v0.7h-0.7zM72.7 770.2h0.7v0.7h-0.7zM61.2 772.7h0.7v0.7h-0.7zM51.6 759.5h0.7v0.7h-0.7zM52.5 753.8h0.7v0.7h-0.7zM69.1 773.0h0.7v0.7h-0.7zM54.8 755.4h0.7v0.7h-0.7zM51.1 757.1h0.7v0.7h-0.7zM82.5 767.3h0.7v0.7h-0.7zM51.8 750.2h0.7v0.7h-0.7zM50.5 761.7h0.7v0.7h-0.7zM75.5 770.5h0.7v0.7h-0.7zM52.1 761.1h0.7v0.7h-0.7zM74.9 749.6h0.7v0.7h-0.7zM82.6 767.3h0.7v0.7h-0.7zM49.5 766.8h0.7v0.7h-0.7zM54.9 765.1h0.7v0.7h-0.7zM51.2 756.5h0.7v0.7h-0.7zM69.1 748.4h0.7v0.7h-0.7zM55.4 768.3h0.7v0.7h-0.7zM48.4 761.5h0.7v0.7h-0.7zM70.9 749.3h0.7v0.7h-0.7zM74.1 767.3h0.7v0.7h-0.7zM54.4 753.8h0.7v0.7h-0.7zM75.3 750.8h0.7v0.7h-0.7zM78.8 757.5h0.7v0.7h-0.7zM72.9 751.5h0.7v0.7h-0.7zM66.6 771.4h0.7v0.7h-0.7zM62.9 771.3h0.7v0.7h-0.7zM49.1 759.6h0.7v0.7h-0.7zM82.6 762.4h0.7v0.7h-0.7zM53.6 768.5h0.7v0.7h-0.7zM60.3 772.7h0.7v0.7h-0.7zM68.9 769.5h0.7v0.7h-0.7zM63.2 747.7h0.7v0.7h-0.7zM72.0 770.1h0.7v0.7h-0.7zM53.9 765.3h0.7v0.7h-0.7zM51.4 756.0h0.7v0.7h-0.7zM50.2 753.8h0.7v0.7h-0.7zM71.8 769.8h0.7v0.7h-0.7zM57.5 749.4h0.7v0.7h-0.7zM63.1 749.5h0.7v0.7h-0.7zM68.7 769.4h0.7v0.7h-0.7zM60.9 769.9h0.7v0.7h-0.7zM65.2 749.0h0.7v0.7h-0.7zM68.7 750.3h0.7v0.7h-0.7zM62.3 771.1h0.7v0.7h-0.7zM67.8 771.6h0.7v0.7h-0.7zM81.6 757.9h0.7v0.7h-0.7zM71.0 771.7h0.7v0.7h-0.7zM47.9 757.8h0.7v0.7h-0.7zM81.5 766.3h0.7v0.7h-0.7zM54.0 753.7h0.7v0.7h-0.7zM56.9 767.2h0.7v0.7h-0.7zM79.2 755.1h0.7v0.7h-0.7zM50.9 766.0h0.7v0.7h-0.7zM65.2 747.7h0.7v0.7h-0.7zM51.7 766.8h0.7v0.7h-0.7zM51.4 757.9h0.7v0.7h-0.7zM72.7 751.2h0.7v0.7h-0.7zM73.9 770.1h0.7v0.7h-0.7zM52.5 760.5h0.7v0.7h-0.7zM65.2 746.0h0.7v0.7h-0.7zM50.9 754.9h0.7v0.7h-0.7zM63.0 769.7h0.7v0.7h-0.7zM56.6 770.9h0.7v0.7h-0.7zM75.7 751.4h0.7v0.7h-0.7zM57.8 769.3h0.7v0.7h-0.7zM52.0 757.1h0.7v0.7h-0.7zM47.7 759.0h0.7v0.7h-0.7zM74.9 770.9h0.7v0.7h-0.7zM63.0 770.1h0.7v0.7h-0.7zM51.0 765.9h0.7v0.7h-0.7zM52.6 765.6h0.7v0.7h-0.7zM54.7 751.5h0.7v0.7h-0.7zM75.0 747.5h0.7v0.7h-0.7zM81.0 753.8h0.7v0.7h-0.7zM74.7 769.5h0.7v0.7h-0.7zM61.7 771.6h0.7v0.7h-0.7zM81.1 768.5h0.7v0.7h-0.7zM65.7 770.7h0.7v0.7h-0.7zM77.7 752.4h0.7v0.7h-0.7zM79.2 762.3h0.7v0.7h-0.7zM57.1 753.3h0.7v0.7h-0.7zM63.1 750.3h0.7v0.7h-0.7zM80.2 765.8h0.7v0.7h-0.7zM72.0 768.3h0.7v0.7h-0.7zM52.9 756.7h0.7v0.7h-0.7zM48.8 766.2h0.7v0.7h-0.7zM76.9 748.9h0.7v0.7h-0.7zM49.1 761.0h0.7v0.7h-0.7zM50.4 766.3h0.7v0.7h-0.7zM79.0 758.3h0.7v0.7h-0.7zM81.8 760.5h0.7v0.7h-0.7zM51.7 753.4h0.7v0.7h-0.7zM70.1 769.7h0.7v0.7h-0.7zM50.8 767.3h0.7v0.7h-0.7zM51.1 767.3h0.7v0.7h-0.7zM48.2 762.8h0.7v0.7h-0.7zM78.8 768.3h0.7v0.7h-0.7zM65.1 771.3h0.7v0.7h-0.7zM82.0 765.0h0.7v0.7h-0.7zM49.1 762.0h0.7v0.7h-0.7zM53.9 764.1h0.7v0.7h-0.7zM61.0 751.3h0.7v0.7h-0.7zM71.8 770.6h0.7v0.7h-0.7zM68.7 748.4h0.7v0.7h-0.7zM53.8 749.5h0.7v0.7h-0.7zM73.6 751.4h0.7v0.7h-0.7zM56.6 767.2h0.7v0.7h-0.7zM74.5 749.7h0.7v0.7h-0.7zM54.0 755.3h0.7v0.7h-0.7zM53.7 766.0h0.7v0.7h-0.7zM80.8 758.6h0.7v0.7h-0.7zM79.4 756.3h0.7v0.7h-0.7zM61.6 749.7h0.7v0.7h-0.7zM64.7 770.7h0.7v0.7h-0.7zM82.0 756.1h0.7v0.7h-0.7zM65.4 771.1h0.7v0.7h-0.7zM53.8 752.5h0.7v0.7h-0.7zM56.5 753.4h0.7v0.7h-0.7zM56.6 767.9h0.7v0.7h-0.7zM59.7 747.2h0.7v0.7h-0.7zM80.0 764.3h0.7v0.7h-0.7zM84.8 759.5h0.7v0.7h-0.7zM81.4 763.3h0.7v0.7h-0.7zM55.3 751.5h0.7v0.7h-0.7zM58.7 749.1h0.7v0.7h-0.7zM52.1 764.6h0.7v0.7h-0.7zM80.4 769.0h0.7v0.7h-0.7zM60.7 769.5h0.7v0.7h-0.7zM61.9 750.5h0.7v0.7h-0.7zM54.4 750.1h0.7v0.7h-0.7zM70.5 772.8h0.7v0.7h-0.7zM78.4 752.8h0.7v0.7h-0.7zM53.4 769.6h0.7v0.7h-0.7z" fill="#dcbcc6" opacity="1"/>
<path d="M53.5 742.6h0.7v0.7h-0.7zM54.5 748.6h0.7v0.7h-0.7zM82.4 742.2h0.7v0.7h-0.7zM62.9 727.9h0.7v0.7h-0.7zM70.7 730.9h0.7v0.7h-0.7zM72.8 729.3h0.7v0.7h-0.7zM75.9 751.6h0.7v0.7h-0.7zM53.9 745.5h0.7v0.7h-0.7zM79.0 747.1h0.7v0.7h-0.7zM77.5 741.0h0.7v0.7h-0.7zM75.2 746.6h0.7v0.7h-0.7zM57.3 735.2h0.7v0.7h-0.7zM71.8 753.3h0.7v0.7h-0.7zM68.5 729.5h0.7v0.7h-0.7zM70.2 753.4h0.7v0.7h-0.7zM55.4 737.3h0.7v0.7h-0.7zM62.7 751.1h0.7v0.7h-0.7zM55.9 741.6h0.7v0.7h-0.7zM79.7 740.8h0.7v0.7h-0.7zM69.4 750.1h0.7v0.7h-0.7zM64.3 753.1h0.7v0.7h-0.7zM72.0 732.4h0.7v0.7h-0.7zM71.1 730.5h0.7v0.7h-0.7zM76.3 730.0h0.7v0.7h-0.7zM62.9 752.6h0.7v0.7h-0.7zM56.6 736.3h0.7v0.7h-0.7zM80.4 737.7h0.7v0.7h-0.7zM77.4 737.5h0.7v0.7h-0.7zM66.2 754.6h0.7v0.7h-0.7zM63.2 751.3h0.7v0.7h-0.7zM64.8 754.0h0.7v0.7h-0.7zM63.8 750.2h0.7v0.7h-0.7zM78.6 749.6h0.7v0.7h-0.7zM77.4 744.2h0.7v0.7h-0.7zM60.4 751.2h0.7v0.7h-0.7zM74.7 728.4h0.7v0.7h-0.7zM53.4 742.8h0.7v0.7h-0.7zM61.6 751.5h0.7v0.7h-0.7zM80.8 743.7h0.7v0.7h-0.7zM53.5 737.9h0.7v0.7h-0.7zM75.0 729.5h0.7v0.7h-0.7zM81.0 739.2h0.7v0.7h-0.7zM76.3 747.7h0.7v0.7h-0.7zM59.2 733.7h0.7v0.7h-0.7zM57.5 747.8h0.7v0.7h-0.7zM75.2 749.3h0.7v0.7h-0.7zM60.4 728.1h0.7v0.7h-0.7zM59.7 730.3h0.7v0.7h-0.7zM74.3 753.2h0.7v0.7h-0.7zM68.5 728.0h0.7v0.7h-0.7zM53.9 742.5h0.7v0.7h-0.7zM77.2 746.1h0.7v0.7h-0.7zM82.3 743.0h0.7v0.7h-0.7zM58.2 750.3h0.7v0.7h-0.7zM67.3 729.0h0.7v0.7h-0.7zM82.4 738.8h0.7v0.7h-0.7zM56.6 741.4h0.7v0.7h-0.7zM69.7 729.1h0.7v0.7h-0.7zM81.0 742.5h0.7v0.7h-0.7zM54.8 732.0h0.7v0.7h-0.7zM56.9 734.1h0.7v0.7h-0.7zM75.3 747.4h0.7v0.7h-0.7zM65.8 727.3h0.7v0.7h-0.7zM59.2 750.5h0.7v0.7h-0.7zM69.7 749.7h0.7v0.7h-0.7zM68.7 750.7h0.7v0.7h-0.7zM71.6 731.9h0.7v0.7h-0.7zM70.4 751.7h0.7v0.7h-0.7zM77.1 735.2h0.7v0.7h-0.7zM61.6 752.8h0.7v0.7h-0.7zM52.1 743.2h0.7v0.7h-0.7zM55.4 739.8h0.7v0.7h-0.7zM77.7 733.2h0.7v0.7h-0.7zM52.9 744.4h0.7v0.7h-0.7zM61.5 749.8h0.7v0.7h-0.7zM70.1 751.0h0.7v0.7h-0.7zM71.1 727.9h0.7v0.7h-0.7zM71.9 749.1h0.7v0.7h-0.7zM71.0 749.4h0.7v0.7h-0.7zM56.9 734.7h0.7v0.7h-0.7zM59.8 733.0h0.7v0.7h-0.7zM59.0 729.9h0.7v0.7h-0.7zM63.2 754.4h0.7v0.7h-0.7zM64.1 754.7h0.7v0.7h-0.7zM82.0 739.1h0.7v0.7h-0.7zM54.2 747.0h0.7v0.7h-0.7zM78.0 736.0h0.7v0.7h-0.7zM68.2 729.7h0.7v0.7h-0.7zM67.0 754.5h0.7v0.7h-0.7zM63.8 727.9h0.7v0.7h-0.7zM78.2 745.7h0.7v0.7h-0.7zM79.6 743.5h0.7v0.7h-0.7zM55.4 736.8h0.7v0.7h-0.7zM54.7 743.3h0.7v0.7h-0.7zM79.1 742.5h0.7v0.7h-0.7zM66.0 728.8h0.7v0.7h-0.7zM78.3 741.3h0.7v0.7h-0.7zM69.7 749.8h0.7v0.7h-0.7zM58.3 747.6h0.7v0.7h-0.7zM53.8 745.4h0.7v0.7h-0.7zM80.0 738.5h0.7v0.7h-0.7zM76.2 751.6h0.7v0.7h-0.7zM79.8 734.7h0.7v0.7h-0.7zM68.4 752.6h0.7v0.7h-0.7zM67.4 753.3h0.7v0.7h-0.7zM78.6 733.6h0.7v0.7h-0.7zM53.1 739.6h0.7v0.7h-0.7zM73.3 750.6h0.7v0.7h-0.7zM76.9 744.1h0.7v0.7h-0.7zM78.6 745.0h0.7v0.7h-0.7zM64.4 753.8h0.7v0.7h-0.7zM72.2 751.5h0.7v0.7h-0.7zM55.2 738.7h0.7v0.7h-0.7zM62.3 751.0h0.7v0.7h-0.7zM56.4 731.0h0.7v0.7h-0.7zM52.2 744.8h0.7v0.7h-0.7zM76.7 750.2h0.7v0.7h-0.7zM55.7 733.0h0.7v0.7h-0.7zM76.5 745.3h0.7v0.7h-0.7zM78.2 740.9h0.7v0.7h-0.7z" fill="#dcbcc6" opacity="1"/>
<path d="M80.50,760.50C80.29,761.00 79.99,761.47 79.70,761.92C79.41,762.37 79.06,762.79 78.74,763.20C78.41,763.61 78.07,763.99 77.74,764.39C77.41,764.78 77.09,765.16 76.75,765.55C76.41,765.95 76.08,766.34 75.70,766.74C75.32,767.14 74.93,767.56 74.47,767.95C74.02,768.34 73.52,768.74 72.96,769.10C72.39,769.45 71.76,769.80 71.08,770.07C70.40,770.34 69.65,770.57 68.89,770.72C68.12,770.87 67.30,770.95 66.50,770.95C65.70,770.95 64.88,770.87 64.11,770.72C63.35,770.57 62.60,770.34 61.92,770.07C61.24,769.80 60.61,769.45 60.04,769.10C59.48,768.74 58.98,768.34 58.53,767.95C58.07,767.56 57.68,767.14 57.30,766.74C56.92,766.34 56.59,765.95 56.25,765.55C55.91,765.16 55.59,764.78 55.26,764.39C54.93,763.99 54.59,763.61 54.26,763.20C53.94,762.79 53.59,762.37 53.30,761.92C53.01,761.47 52.71,761.00 52.50,760.50C52.29,760.00 52.11,759.48 52.04,758.95C51.98,758.42 51.98,757.86 52.11,757.33C52.23,756.80 52.46,756.25 52.79,755.76C53.13,755.27 53.58,754.79 54.10,754.38C54.61,753.98 55.25,753.61 55.90,753.31C56.55,753.01 57.29,752.77 58.02,752.58C58.74,752.39 59.51,752.26 60.24,752.17C60.98,752.07 61.72,752.03 62.43,752.00C63.14,751.96 63.83,751.96 64.51,751.95C65.18,751.95 65.84,751.95 66.50,751.95C67.16,751.95 67.82,751.95 68.49,751.95C69.17,751.96 69.86,751.96 70.57,752.00C71.28,752.03 72.02,752.07 72.76,752.17C73.49,752.26 74.26,752.39 74.98,752.58C75.71,752.77 76.45,753.01 77.10,753.31C77.75,753.61 78.39,753.98 78.90,754.38C79.42,754.79 79.87,755.27 80.21,755.76C80.54,756.25 80.77,756.80 80.89,757.33C81.02,757.86 81.02,758.42 80.96,758.95C80.89,759.48 80.71,760.00 80.50,760.50Z" fill="#f5e9ec" stroke="#d7aebb" stroke-width="0.35"/>
<path d="M77.98,760.50C77.81,760.91 77.56,761.29 77.32,761.66C77.08,762.03 76.80,762.38 76.53,762.71C76.27,763.05 75.99,763.37 75.72,763.69C75.45,764.01 75.18,764.32 74.90,764.64C74.63,764.97 74.35,765.29 74.04,765.62C73.73,765.95 73.41,766.29 73.04,766.61C72.66,766.93 72.26,767.26 71.79,767.55C71.33,767.84 70.81,768.12 70.26,768.34C69.70,768.57 69.08,768.76 68.46,768.88C67.83,769.00 67.15,769.07 66.50,769.07C65.85,769.07 65.17,769.00 64.54,768.88C63.92,768.76 63.30,768.57 62.74,768.34C62.19,768.12 61.67,767.84 61.21,767.55C60.74,767.26 60.34,766.93 59.96,766.61C59.59,766.29 59.27,765.95 58.96,765.62C58.65,765.29 58.37,764.97 58.10,764.64C57.82,764.32 57.55,764.01 57.28,763.69C57.01,763.37 56.73,763.05 56.47,762.71C56.20,762.38 55.92,762.03 55.68,761.66C55.44,761.29 55.19,760.91 55.02,760.50C54.85,760.09 54.70,759.66 54.65,759.23C54.59,758.79 54.60,758.33 54.70,757.90C54.80,757.46 54.99,757.02 55.26,756.61C55.53,756.21 55.90,755.82 56.33,755.49C56.75,755.15 57.27,754.85 57.81,754.60C58.34,754.36 58.95,754.16 59.54,754.00C60.14,753.85 60.77,753.75 61.37,753.67C61.97,753.59 62.58,753.56 63.16,753.53C63.74,753.50 64.31,753.50 64.86,753.49C65.42,753.49 65.95,753.49 66.50,753.49C67.05,753.49 67.58,753.49 68.14,753.49C68.69,753.50 69.26,753.50 69.84,753.53C70.42,753.56 71.03,753.59 71.63,753.67C72.23,753.75 72.86,753.85 73.46,754.00C74.05,754.16 74.66,754.36 75.19,754.60C75.73,754.85 76.25,755.15 76.67,755.49C77.10,755.82 77.47,756.21 77.74,756.61C78.01,757.02 78.20,757.46 78.30,757.90C78.40,758.33 78.41,758.79 78.35,759.23C78.30,759.66 78.15,760.09 77.98,760.50Z" fill="#f0dfe4" stroke="#d2a5b3" stroke-width="0.35"/>
<path d="M75.46,760.50C75.33,760.82 75.14,761.12 74.95,761.41C74.76,761.70 74.54,761.96 74.33,762.23C74.12,762.49 73.91,762.74 73.69,762.99C73.48,763.24 73.28,763.48 73.06,763.73C72.84,763.99 72.63,764.24 72.39,764.50C72.15,764.75 71.90,765.02 71.60,765.27C71.31,765.52 70.99,765.78 70.63,766.00C70.27,766.23 69.87,766.45 69.43,766.62C69.00,766.80 68.52,766.95 68.03,767.04C67.54,767.13 67.01,767.19 66.50,767.19C65.99,767.19 65.46,767.13 64.97,767.04C64.48,766.95 64.00,766.80 63.57,766.62C63.13,766.45 62.73,766.23 62.37,766.00C62.01,765.78 61.69,765.52 61.40,765.27C61.10,765.02 60.85,764.75 60.61,764.50C60.37,764.24 60.16,763.99 59.94,763.73C59.72,763.48 59.52,763.24 59.31,762.99C59.09,762.74 58.88,762.49 58.67,762.23C58.46,761.96 58.24,761.70 58.05,761.41C57.86,761.12 57.67,760.82 57.54,760.50C57.41,760.18 57.29,759.84 57.25,759.51C57.21,759.17 57.21,758.81 57.29,758.47C57.37,758.13 57.52,757.78 57.73,757.47C57.94,757.15 58.23,756.85 58.56,756.59C58.89,756.32 59.30,756.09 59.72,755.90C60.13,755.70 60.61,755.55 61.07,755.43C61.53,755.31 62.03,755.23 62.50,755.17C62.97,755.11 63.44,755.08 63.89,755.06C64.35,755.03 64.79,755.03 65.22,755.03C65.66,755.03 66.07,755.03 66.50,755.03C66.93,755.03 67.34,755.03 67.78,755.03C68.21,755.03 68.65,755.03 69.11,755.06C69.56,755.08 70.03,755.11 70.50,755.17C70.97,755.23 71.47,755.31 71.93,755.43C72.39,755.55 72.87,755.70 73.28,755.90C73.70,756.09 74.11,756.32 74.44,756.59C74.77,756.85 75.06,757.15 75.27,757.47C75.48,757.78 75.63,758.13 75.71,758.47C75.79,758.81 75.79,759.17 75.75,759.51C75.71,759.84 75.59,760.18 75.46,760.50Z" fill="#ebd5dc" stroke="#cc9cab" stroke-width="0.35"/>
<path d="M72.94,760.50C72.84,760.73 72.71,760.95 72.57,761.15C72.44,761.36 72.28,761.55 72.13,761.74C71.98,761.93 71.82,762.11 71.67,762.29C71.52,762.47 71.37,762.64 71.21,762.82C71.06,763.00 70.91,763.19 70.73,763.37C70.56,763.56 70.38,763.75 70.17,763.93C69.96,764.11 69.73,764.29 69.47,764.45C69.21,764.62 68.92,764.78 68.61,764.90C68.30,765.02 67.95,765.13 67.60,765.20C67.25,765.27 66.87,765.31 66.50,765.31C66.13,765.31 65.75,765.27 65.40,765.20C65.05,765.13 64.70,765.02 64.39,764.90C64.08,764.78 63.79,764.62 63.53,764.45C63.27,764.29 63.04,764.11 62.83,763.93C62.62,763.75 62.44,763.56 62.27,763.37C62.09,763.19 61.94,763.00 61.79,762.82C61.63,762.64 61.48,762.47 61.33,762.29C61.18,762.11 61.02,761.93 60.87,761.74C60.72,761.55 60.56,761.36 60.43,761.15C60.29,760.95 60.16,760.73 60.06,760.50C59.96,760.27 59.88,760.03 59.85,759.79C59.82,759.54 59.82,759.28 59.88,759.04C59.94,758.80 60.04,758.55 60.20,758.32C60.35,758.09 60.56,757.88 60.79,757.69C61.03,757.50 61.32,757.33 61.62,757.19C61.92,757.05 62.26,756.94 62.60,756.86C62.93,756.77 63.28,756.71 63.62,756.67C63.96,756.62 64.30,756.60 64.63,756.59C64.95,756.57 65.27,756.57 65.58,756.57C65.89,756.56 66.19,756.57 66.50,756.57C66.81,756.57 67.11,756.56 67.42,756.57C67.73,756.57 68.05,756.57 68.37,756.59C68.70,756.60 69.04,756.62 69.38,756.67C69.72,756.71 70.07,756.77 70.40,756.86C70.74,756.94 71.08,757.05 71.38,757.19C71.68,757.33 71.97,757.50 72.21,757.69C72.44,757.88 72.65,758.09 72.80,758.32C72.96,758.55 73.06,758.80 73.12,759.04C73.18,759.28 73.18,759.54 73.15,759.79C73.12,760.03 73.04,760.27 72.94,760.50Z" fill="#e5cad3" stroke="#c693a4" stroke-width="0.35"/>
<path d="M70.70,760.50C70.64,760.65 70.55,760.79 70.46,760.93C70.37,761.06 70.27,761.19 70.17,761.31C70.07,761.43 69.97,761.55 69.87,761.67C69.77,761.78 69.68,761.90 69.57,762.02C69.47,762.13 69.37,762.25 69.26,762.37C69.15,762.49 69.03,762.62 68.89,762.73C68.76,762.85 68.61,762.97 68.44,763.08C68.27,763.18 68.08,763.29 67.87,763.37C67.67,763.45 67.44,763.52 67.22,763.57C66.99,763.61 66.74,763.63 66.50,763.63C66.26,763.63 66.01,763.61 65.78,763.57C65.56,763.52 65.33,763.45 65.13,763.37C64.92,763.29 64.73,763.18 64.56,763.08C64.39,762.97 64.24,762.85 64.11,762.73C63.97,762.62 63.85,762.49 63.74,762.37C63.63,762.25 63.53,762.13 63.43,762.02C63.32,761.90 63.23,761.78 63.13,761.67C63.03,761.55 62.93,761.43 62.83,761.31C62.73,761.19 62.63,761.06 62.54,760.93C62.45,760.79 62.36,760.65 62.30,760.50C62.24,760.35 62.18,760.19 62.16,760.03C62.14,759.88 62.14,759.71 62.18,759.55C62.22,759.39 62.29,759.23 62.39,759.08C62.49,758.93 62.62,758.79 62.78,758.67C62.93,758.54 63.12,758.43 63.32,758.34C63.52,758.25 63.74,758.18 63.96,758.12C64.17,758.07 64.40,758.03 64.62,758.00C64.84,757.97 65.07,757.96 65.28,757.95C65.49,757.94 65.70,757.94 65.90,757.94C66.11,757.93 66.30,757.93 66.50,757.93C66.70,757.93 66.89,757.93 67.10,757.94C67.30,757.94 67.51,757.94 67.72,757.95C67.93,757.96 68.16,757.97 68.38,758.00C68.60,758.03 68.83,758.07 69.04,758.12C69.26,758.18 69.48,758.25 69.68,758.34C69.88,758.43 70.07,758.54 70.22,758.67C70.38,758.79 70.51,758.93 70.61,759.08C70.71,759.23 70.78,759.39 70.82,759.55C70.86,759.71 70.86,759.88 70.84,760.03C70.82,760.19 70.76,760.35 70.70,760.50Z" fill="#dfc0ca" stroke="#c08a9c" stroke-width="0.35"/>
<path d="M68.46,760.50C68.43,760.57 68.39,760.64 68.35,760.70C68.31,760.76 68.26,760.82 68.21,760.88C68.17,760.94 68.12,760.99 68.07,761.04C68.03,761.10 67.98,761.15 67.93,761.21C67.89,761.26 67.84,761.32 67.79,761.37C67.73,761.43 67.68,761.49 67.62,761.54C67.55,761.60 67.48,761.65 67.40,761.70C67.32,761.75 67.24,761.80 67.14,761.84C67.05,761.88 66.94,761.91 66.83,761.93C66.73,761.95 66.61,761.96 66.50,761.96C66.39,761.96 66.27,761.95 66.17,761.93C66.06,761.91 65.95,761.88 65.86,761.84C65.76,761.80 65.68,761.75 65.60,761.70C65.52,761.65 65.45,761.60 65.38,761.54C65.32,761.49 65.27,761.43 65.21,761.37C65.16,761.32 65.11,761.26 65.07,761.21C65.02,761.15 64.97,761.10 64.93,761.04C64.88,760.99 64.83,760.94 64.79,760.88C64.74,760.82 64.69,760.76 64.65,760.70C64.61,760.64 64.57,760.57 64.54,760.50C64.51,760.43 64.49,760.36 64.48,760.28C64.47,760.21 64.47,760.13 64.49,760.06C64.50,759.98 64.53,759.91 64.58,759.84C64.63,759.77 64.69,759.70 64.76,759.64C64.84,759.59 64.92,759.54 65.02,759.49C65.11,759.45 65.21,759.42 65.31,759.39C65.41,759.36 65.52,759.35 65.62,759.33C65.73,759.32 65.83,759.31 65.93,759.31C66.03,759.30 66.13,759.30 66.22,759.30C66.32,759.30 66.41,759.30 66.50,759.30C66.59,759.30 66.68,759.30 66.78,759.30C66.87,759.30 66.97,759.30 67.07,759.31C67.17,759.31 67.27,759.32 67.38,759.33C67.48,759.35 67.59,759.36 67.69,759.39C67.79,759.42 67.89,759.45 67.98,759.49C68.08,759.54 68.16,759.59 68.24,759.64C68.31,759.70 68.37,759.77 68.42,759.84C68.47,759.91 68.50,759.98 68.51,760.06C68.53,760.13 68.53,760.21 68.52,760.28C68.51,760.36 68.49,760.43 68.46,760.50Z" fill="#f7eef1" stroke="#d6b0bc" stroke-width="0.35"/>
<path d="M79.00,740.50C78.88,741.02 78.69,741.53 78.50,742.01C78.30,742.50 78.06,742.96 77.82,743.42C77.57,743.87 77.31,744.30 77.04,744.73C76.77,745.15 76.49,745.57 76.18,745.99C75.88,746.40 75.57,746.82 75.23,747.22C74.88,747.63 74.52,748.03 74.11,748.42C73.70,748.80 73.26,749.18 72.78,749.51C72.29,749.84 71.76,750.15 71.20,750.40C70.64,750.65 70.03,750.86 69.41,750.99C68.79,751.13 68.14,751.20 67.50,751.20C66.86,751.20 66.21,751.13 65.59,750.99C64.97,750.86 64.36,750.65 63.80,750.40C63.24,750.15 62.71,749.84 62.22,749.51C61.74,749.18 61.30,748.80 60.89,748.42C60.48,748.03 60.12,747.63 59.77,747.22C59.43,746.82 59.12,746.40 58.82,745.99C58.51,745.57 58.23,745.15 57.96,744.73C57.69,744.30 57.43,743.87 57.18,743.42C56.94,742.96 56.70,742.50 56.50,742.01C56.31,741.53 56.12,741.02 56.00,740.50C55.88,739.98 55.79,739.43 55.78,738.89C55.77,738.34 55.82,737.77 55.94,737.23C56.07,736.69 56.27,736.15 56.54,735.65C56.82,735.15 57.17,734.66 57.58,734.23C57.98,733.80 58.46,733.41 58.97,733.08C59.47,732.75 60.03,732.47 60.59,732.23C61.16,732.00 61.75,731.83 62.34,731.69C62.92,731.55 63.51,731.46 64.09,731.38C64.67,731.31 65.25,731.27 65.81,731.24C66.38,731.21 66.94,731.20 67.50,731.20C68.06,731.20 68.62,731.21 69.19,731.24C69.75,731.27 70.33,731.31 70.91,731.38C71.49,731.46 72.08,731.55 72.66,731.69C73.25,731.83 73.84,732.00 74.41,732.23C74.97,732.47 75.53,732.75 76.03,733.08C76.54,733.41 77.02,733.80 77.42,734.23C77.83,734.66 78.18,735.15 78.46,735.65C78.73,736.15 78.93,736.69 79.06,737.23C79.18,737.77 79.23,738.34 79.22,738.89C79.21,739.43 79.12,739.98 79.00,740.50Z" fill="#e9d1d9" stroke="#bf8698" stroke-width="0.45"/>
<path d="M77.62,740.50C77.51,740.96 77.35,741.41 77.18,741.83C77.00,742.26 76.79,742.67 76.58,743.07C76.37,743.46 76.13,743.84 75.89,744.22C75.65,744.60 75.41,744.96 75.14,745.33C74.88,745.69 74.61,746.06 74.30,746.41C74.00,746.77 73.68,747.13 73.32,747.47C72.96,747.80 72.57,748.14 72.14,748.43C71.72,748.72 71.25,749.00 70.76,749.21C70.26,749.43 69.72,749.62 69.18,749.73C68.64,749.85 68.06,749.92 67.50,749.92C66.94,749.92 66.36,749.85 65.82,749.73C65.28,749.62 64.74,749.43 64.24,749.21C63.75,749.00 63.28,748.72 62.86,748.43C62.43,748.14 62.04,747.80 61.68,747.47C61.32,747.13 61.00,746.77 60.70,746.41C60.39,746.06 60.12,745.69 59.86,745.33C59.59,744.96 59.35,744.60 59.11,744.22C58.87,743.84 58.63,743.46 58.42,743.07C58.21,742.67 58.00,742.26 57.82,741.83C57.65,741.41 57.49,740.96 57.38,740.50C57.27,740.04 57.20,739.56 57.19,739.08C57.18,738.60 57.22,738.10 57.33,737.63C57.44,737.15 57.62,736.67 57.86,736.23C58.10,735.79 58.41,735.36 58.77,734.98C59.12,734.61 59.55,734.26 59.99,733.97C60.43,733.68 60.93,733.43 61.42,733.23C61.92,733.02 62.44,732.87 62.96,732.75C63.47,732.62 63.99,732.54 64.50,732.48C65.01,732.41 65.52,732.38 66.02,732.35C66.52,732.32 67.01,732.32 67.50,732.32C67.99,732.32 68.48,732.32 68.98,732.35C69.48,732.38 69.99,732.41 70.50,732.48C71.01,732.54 71.53,732.62 72.04,732.75C72.56,732.87 73.08,733.02 73.58,733.23C74.07,733.43 74.57,733.68 75.01,733.97C75.45,734.26 75.88,734.61 76.23,734.98C76.59,735.36 76.90,735.79 77.14,736.23C77.38,736.67 77.56,737.15 77.67,737.63C77.78,738.10 77.82,738.60 77.81,739.08C77.80,739.56 77.73,740.04 77.62,740.50Z" fill="#dcb8c4" stroke="#b87b8f" stroke-width="0.45"/>
<path d="M76.24,740.50C76.15,740.90 76.01,741.28 75.86,741.65C75.71,742.02 75.53,742.37 75.34,742.72C75.16,743.06 74.96,743.39 74.75,743.71C74.54,744.04 74.33,744.35 74.10,744.67C73.87,744.99 73.64,745.30 73.37,745.61C73.11,745.92 72.84,746.23 72.53,746.52C72.22,746.81 71.88,747.09 71.51,747.35C71.14,747.60 70.74,747.84 70.31,748.03C69.89,748.21 69.42,748.37 68.95,748.47C68.48,748.58 67.98,748.63 67.50,748.63C67.02,748.63 66.52,748.58 66.05,748.47C65.58,748.37 65.11,748.21 64.69,748.03C64.26,747.84 63.86,747.60 63.49,747.35C63.12,747.09 62.78,746.81 62.47,746.52C62.16,746.23 61.89,745.92 61.63,745.61C61.36,745.30 61.13,744.99 60.90,744.67C60.67,744.35 60.46,744.04 60.25,743.71C60.04,743.39 59.84,743.06 59.66,742.72C59.47,742.37 59.29,742.02 59.14,741.65C58.99,741.28 58.85,740.90 58.76,740.50C58.67,740.10 58.60,739.69 58.59,739.27C58.59,738.86 58.62,738.43 58.72,738.02C58.81,737.61 58.97,737.19 59.17,736.81C59.38,736.43 59.65,736.06 59.96,735.74C60.27,735.41 60.63,735.11 61.01,734.86C61.40,734.61 61.82,734.39 62.25,734.22C62.68,734.04 63.13,733.91 63.58,733.80C64.02,733.69 64.47,733.63 64.91,733.57C65.35,733.51 65.79,733.48 66.22,733.46C66.65,733.44 67.07,733.43 67.50,733.43C67.93,733.43 68.35,733.44 68.78,733.46C69.21,733.48 69.65,733.51 70.09,733.57C70.53,733.63 70.98,733.69 71.42,733.80C71.87,733.91 72.32,734.04 72.75,734.22C73.18,734.39 73.60,734.61 73.99,734.86C74.37,735.11 74.73,735.41 75.04,735.74C75.35,736.06 75.62,736.43 75.83,736.81C76.03,737.19 76.19,737.61 76.28,738.02C76.38,738.43 76.41,738.86 76.41,739.27C76.40,739.69 76.33,740.10 76.24,740.50Z" fill="#cfa0b0" stroke="#b17186" stroke-width="0.45"/>
<path d="M74.86,740.50C74.78,740.83 74.66,741.16 74.54,741.47C74.41,741.78 74.26,742.08 74.10,742.37C73.95,742.65 73.78,742.93 73.60,743.20C73.43,743.48 73.25,743.75 73.06,744.01C72.87,744.28 72.67,744.54 72.45,744.80C72.23,745.06 71.99,745.32 71.73,745.57C71.47,745.81 71.19,746.05 70.88,746.26C70.57,746.48 70.23,746.68 69.87,746.84C69.51,747.00 69.12,747.13 68.72,747.22C68.33,747.30 67.91,747.35 67.50,747.35C67.09,747.35 66.67,747.30 66.28,747.22C65.88,747.13 65.49,747.00 65.13,746.84C64.77,746.68 64.43,746.48 64.12,746.26C63.81,746.05 63.53,745.81 63.27,745.57C63.01,745.32 62.77,745.06 62.55,744.80C62.33,744.54 62.13,744.28 61.94,744.01C61.75,743.75 61.57,743.48 61.40,743.20C61.22,742.93 61.05,742.65 60.90,742.37C60.74,742.08 60.59,741.78 60.46,741.47C60.34,741.16 60.22,740.83 60.14,740.50C60.06,740.17 60.01,739.82 60.00,739.47C59.99,739.12 60.02,738.76 60.10,738.41C60.19,738.06 60.31,737.71 60.49,737.39C60.66,737.07 60.89,736.76 61.15,736.49C61.41,736.21 61.72,735.96 62.04,735.75C62.36,735.54 62.72,735.36 63.08,735.21C63.44,735.06 63.82,734.95 64.20,734.86C64.57,734.77 64.95,734.71 65.32,734.66C65.69,734.62 66.06,734.59 66.42,734.57C66.78,734.55 67.14,734.55 67.50,734.55C67.86,734.55 68.22,734.55 68.58,734.57C68.94,734.59 69.31,734.62 69.68,734.66C70.05,734.71 70.43,734.77 70.80,734.86C71.18,734.95 71.56,735.06 71.92,735.21C72.28,735.36 72.64,735.54 72.96,735.75C73.28,735.96 73.59,736.21 73.85,736.49C74.11,736.76 74.34,737.07 74.51,737.39C74.69,737.71 74.81,738.06 74.90,738.41C74.98,738.76 75.01,739.12 75.00,739.47C74.99,739.82 74.94,740.17 74.86,740.50Z" fill="#d3a8b6" stroke="#aa677d" stroke-width="0.45"/>
<path d="M73.48,740.50C73.42,740.77 73.32,741.03 73.22,741.29C73.12,741.54 72.99,741.78 72.87,742.02C72.74,742.25 72.60,742.47 72.46,742.70C72.32,742.92 72.17,743.14 72.02,743.35C71.86,743.57 71.70,743.78 71.52,743.99C71.34,744.21 71.15,744.42 70.94,744.62C70.73,744.81 70.50,745.01 70.24,745.18C69.99,745.36 69.72,745.52 69.42,745.65C69.13,745.78 68.81,745.89 68.49,745.96C68.17,746.03 67.83,746.06 67.50,746.06C67.17,746.06 66.83,746.03 66.51,745.96C66.19,745.89 65.87,745.78 65.58,745.65C65.28,745.52 65.01,745.36 64.76,745.18C64.50,745.01 64.27,744.81 64.06,744.62C63.85,744.42 63.66,744.21 63.48,743.99C63.30,743.78 63.14,743.57 62.98,743.35C62.83,743.14 62.68,742.92 62.54,742.70C62.40,742.47 62.26,742.25 62.13,742.02C62.01,741.78 61.88,741.54 61.78,741.29C61.68,741.03 61.58,740.77 61.52,740.50C61.46,740.23 61.41,739.94 61.41,739.66C61.40,739.38 61.42,739.08 61.49,738.80C61.56,738.52 61.66,738.24 61.80,737.98C61.94,737.72 62.13,737.46 62.34,737.24C62.55,737.02 62.80,736.81 63.06,736.64C63.32,736.47 63.62,736.32 63.91,736.20C64.20,736.08 64.51,735.99 64.81,735.92C65.12,735.84 65.43,735.80 65.73,735.76C66.03,735.72 66.33,735.70 66.62,735.68C66.92,735.67 67.21,735.66 67.50,735.66C67.79,735.66 68.08,735.67 68.38,735.68C68.67,735.70 68.97,735.72 69.27,735.76C69.57,735.80 69.88,735.84 70.19,735.92C70.49,735.99 70.80,736.08 71.09,736.20C71.38,736.32 71.68,736.47 71.94,736.64C72.20,736.81 72.45,737.02 72.66,737.24C72.87,737.46 73.06,737.72 73.20,737.98C73.34,738.24 73.44,738.52 73.51,738.80C73.58,739.08 73.60,739.38 73.59,739.66C73.59,739.94 73.54,740.23 73.48,740.50Z" fill="#e0bfca" stroke="#a35e75" stroke-width="0.45"/>
<path d="M72.10,740.50C72.05,740.71 71.98,740.91 71.90,741.11C71.82,741.30 71.72,741.49 71.63,741.67C71.53,741.85 71.42,742.02 71.32,742.19C71.21,742.36 71.09,742.53 70.97,742.69C70.85,742.86 70.73,743.03 70.59,743.19C70.45,743.35 70.31,743.51 70.15,743.67C69.98,743.82 69.81,743.97 69.61,744.10C69.42,744.24 69.20,744.36 68.98,744.46C68.76,744.56 68.51,744.64 68.26,744.70C68.02,744.75 67.75,744.78 67.50,744.78C67.25,744.78 66.98,744.75 66.74,744.70C66.49,744.64 66.24,744.56 66.02,744.46C65.80,744.36 65.58,744.24 65.39,744.10C65.19,743.97 65.02,743.82 64.85,743.67C64.69,743.51 64.55,743.35 64.41,743.19C64.27,743.03 64.15,742.86 64.03,742.69C63.91,742.53 63.79,742.36 63.68,742.19C63.58,742.02 63.47,741.85 63.37,741.67C63.28,741.49 63.18,741.30 63.10,741.11C63.02,740.91 62.95,740.71 62.90,740.50C62.85,740.29 62.82,740.07 62.81,739.85C62.81,739.64 62.83,739.41 62.88,739.19C62.93,738.98 63.01,738.76 63.12,738.56C63.23,738.36 63.37,738.16 63.53,737.99C63.69,737.82 63.89,737.66 64.09,737.53C64.29,737.40 64.51,737.29 64.74,737.19C64.96,737.10 65.20,737.03 65.43,736.98C65.67,736.92 65.91,736.88 66.14,736.85C66.37,736.82 66.60,736.81 66.83,736.80C67.05,736.78 67.28,736.78 67.50,736.78C67.72,736.78 67.95,736.78 68.17,736.80C68.40,736.81 68.63,736.82 68.86,736.85C69.09,736.88 69.33,736.92 69.57,736.98C69.80,737.03 70.04,737.10 70.26,737.19C70.49,737.29 70.71,737.40 70.91,737.53C71.11,737.66 71.31,737.82 71.47,737.99C71.63,738.16 71.77,738.36 71.88,738.56C71.99,738.76 72.07,738.98 72.12,739.19C72.17,739.41 72.19,739.64 72.19,739.85C72.18,740.07 72.15,740.29 72.10,740.50Z" fill="#ecd6de" stroke="#9d566e" stroke-width="0.45"/>
<path d="M69.80,740.50C69.78,740.60 69.74,740.71 69.70,740.80C69.66,740.90 69.61,740.99 69.56,741.08C69.51,741.17 69.46,741.26 69.41,741.35C69.35,741.43 69.30,741.51 69.24,741.60C69.18,741.68 69.11,741.76 69.05,741.84C68.98,741.93 68.90,742.01 68.82,742.08C68.74,742.16 68.65,742.24 68.56,742.30C68.46,742.37 68.35,742.43 68.24,742.48C68.13,742.53 68.01,742.57 67.88,742.60C67.76,742.63 67.63,742.64 67.50,742.64C67.37,742.64 67.24,742.63 67.12,742.60C66.99,742.57 66.87,742.53 66.76,742.48C66.65,742.43 66.54,742.37 66.44,742.30C66.35,742.24 66.26,742.16 66.18,742.08C66.10,742.01 66.02,741.93 65.95,741.84C65.89,741.76 65.82,741.68 65.76,741.60C65.70,741.51 65.65,741.43 65.59,741.35C65.54,741.26 65.49,741.17 65.44,741.08C65.39,740.99 65.34,740.90 65.30,740.80C65.26,740.71 65.22,740.60 65.20,740.50C65.18,740.40 65.16,740.29 65.16,740.18C65.15,740.07 65.16,739.95 65.19,739.85C65.21,739.74 65.25,739.63 65.31,739.53C65.36,739.43 65.43,739.33 65.52,739.25C65.60,739.16 65.69,739.08 65.79,739.02C65.89,738.95 66.01,738.89 66.12,738.85C66.23,738.80 66.35,738.77 66.47,738.74C66.58,738.71 66.70,738.69 66.82,738.68C66.93,738.66 67.05,738.65 67.16,738.65C67.28,738.64 67.39,738.64 67.50,738.64C67.61,738.64 67.72,738.64 67.84,738.65C67.95,738.65 68.07,738.66 68.18,738.68C68.30,738.69 68.42,738.71 68.53,738.74C68.65,738.77 68.77,738.80 68.88,738.85C68.99,738.89 69.11,738.95 69.21,739.02C69.31,739.08 69.40,739.16 69.48,739.25C69.57,739.33 69.64,739.43 69.69,739.53C69.75,739.63 69.79,739.74 69.81,739.85C69.84,739.95 69.85,740.07 69.84,740.18C69.84,740.29 69.82,740.40 69.80,740.50Z" fill="#faf2f5" stroke="#c08c9c" stroke-width="0.45"/>
<path d="M50.70,741.60C50.70,741.78 50.68,741.96 50.64,742.13C50.61,742.31 50.55,742.48 50.47,742.65C50.40,742.82 50.31,742.99 50.20,743.14C50.09,743.30 49.96,743.46 49.82,743.60C49.68,743.74 49.52,743.88 49.35,744.00C49.18,744.13 49.00,744.25 48.80,744.35C48.61,744.45 48.40,744.55 48.19,744.63C47.97,744.71 47.75,744.78 47.52,744.83C47.29,744.89 47.06,744.93 46.82,744.96C46.58,744.99 46.34,745.00 46.10,745.00C45.86,745.00 45.62,744.99 45.38,744.96C45.14,744.93 44.91,744.89 44.68,744.83C44.45,744.78 44.23,744.71 44.01,744.63C43.80,744.55 43.59,744.45 43.40,744.35C43.20,744.25 43.02,744.13 42.85,744.00C42.68,743.88 42.52,743.74 42.38,743.60C42.24,743.46 42.11,743.30 42.00,743.14C41.89,742.99 41.80,742.82 41.73,742.65C41.65,742.48 41.59,742.31 41.56,742.13C41.52,741.96 41.50,741.78 41.50,741.60C41.50,741.42 41.52,741.24 41.56,741.07C41.59,740.89 41.65,740.72 41.73,740.55C41.80,740.38 41.89,740.21 42.00,740.06C42.11,739.90 42.24,739.74 42.38,739.60C42.52,739.46 42.68,739.32 42.85,739.20C43.02,739.07 43.20,738.95 43.40,738.85C43.59,738.75 43.80,738.65 44.01,738.57C44.23,738.49 44.45,738.42 44.68,738.37C44.91,738.31 45.14,738.27 45.38,738.24C45.62,738.21 45.86,738.20 46.10,738.20C46.34,738.20 46.58,738.21 46.82,738.24C47.06,738.27 47.29,738.31 47.52,738.37C47.75,738.42 47.97,738.49 48.19,738.57C48.40,738.65 48.61,738.75 48.80,738.85C49.00,738.95 49.18,739.07 49.35,739.20C49.52,739.32 49.68,739.46 49.82,739.60C49.96,739.74 50.09,739.90 50.20,740.06C50.31,740.21 50.40,740.38 50.47,740.55C50.55,740.72 50.61,740.89 50.64,741.07C50.68,741.24 50.70,741.42 50.70,741.60Z" fill="#fbf3f5" stroke="#c99aa9" stroke-width="0.35"/>
<path d="M48.86,741.60C48.86,741.71 48.85,741.81 48.83,741.92C48.80,742.02 48.77,742.13 48.72,742.23C48.68,742.33 48.62,742.43 48.56,742.53C48.49,742.62 48.42,742.71 48.33,742.80C48.25,742.89 48.15,742.97 48.05,743.04C47.95,743.12 47.84,743.19 47.72,743.25C47.61,743.31 47.48,743.37 47.35,743.42C47.22,743.47 47.09,743.51 46.95,743.54C46.82,743.57 46.67,743.60 46.53,743.61C46.39,743.63 46.24,743.64 46.10,743.64C45.96,743.64 45.81,743.63 45.67,743.61C45.53,743.60 45.38,743.57 45.25,743.54C45.11,743.51 44.98,743.47 44.85,743.42C44.72,743.37 44.59,743.31 44.48,743.25C44.36,743.19 44.25,743.12 44.15,743.04C44.05,742.97 43.95,742.89 43.87,742.80C43.78,742.71 43.71,742.62 43.64,742.53C43.58,742.43 43.52,742.33 43.48,742.23C43.43,742.13 43.40,742.02 43.37,741.92C43.35,741.81 43.34,741.71 43.34,741.60C43.34,741.49 43.35,741.39 43.37,741.28C43.40,741.18 43.43,741.07 43.48,740.97C43.52,740.87 43.58,740.77 43.64,740.67C43.71,740.58 43.78,740.49 43.87,740.40C43.95,740.31 44.05,740.23 44.15,740.16C44.25,740.08 44.36,740.01 44.48,739.95C44.59,739.89 44.72,739.83 44.85,739.78C44.98,739.73 45.11,739.69 45.25,739.66C45.38,739.63 45.53,739.60 45.67,739.59C45.81,739.57 45.96,739.56 46.10,739.56C46.24,739.56 46.39,739.57 46.53,739.59C46.67,739.60 46.82,739.63 46.95,739.66C47.09,739.69 47.22,739.73 47.35,739.78C47.48,739.83 47.61,739.89 47.72,739.95C47.84,740.01 47.95,740.08 48.05,740.16C48.15,740.23 48.25,740.31 48.33,740.40C48.42,740.49 48.49,740.58 48.56,740.67C48.62,740.77 48.68,740.87 48.72,740.97C48.77,741.07 48.80,741.18 48.83,741.28C48.85,741.39 48.86,741.49 48.86,741.60Z" fill="#ffffff" stroke="#d2a9b6" stroke-width="0.35"/>
<line x1="26.60" y1="749.30" x2="94.10" y2="749.30" stroke="#555" stroke-width="1" />
<path d="M63.10,709.60 L50.70,749.30 L37.00,764.40" fill="none" stroke="#333" stroke-width="0.9" />
<rect x="26.60" y="709.60" width="67.50" height="66.70" fill="none" stroke="#b8b8b8" stroke-width="0.9" />
<path d="M26.60,773.30h-2.2M26.60,769.47h-1.2M26.60,765.61h-1.2M26.60,762.02h-1.2M26.60,758.61h-1.2M26.60,755.41h-2.2M26.60,751.68h-1.2M26.60,748.10h-1.2M26.60,744.30h-1.2M26.60,740.80h-1.2M26.60,736.98h-2.2M26.60,733.56h-1.2M26.60,729.72h-1.2M26.60,725.94h-1.2M26.60,722.41h-1.2M26.60,718.78h-2.2M26.60,715.03h-1.2M26.60,711.68h-1.2M29.60,776.30v2.2M33.44,776.30v1.2M36.86,776.30v1.2M40.70,776.30v1.2M44.45,776.30v1.2M48.32,776.30v2.2M51.79,776.30v1.2M55.07,776.30v1.2M58.91,776.30v1.2M62.75,776.30v1.2M66.31,776.30v2.2M69.58,776.30v1.2M72.94,776.30v1.2M76.65,776.30v1.2M80.08,776.30v1.2M84.04,776.30v2.2M87.71,776.30v1.2M91.07,776.30v1.2" stroke="#8a8a8a" stroke-width="0.6" fill="none"/>
<rect x="24.40" y="758.83" width="1.6" height="1.6" fill="#222"/>
<rect x="37.25" y="776.60" width="3.2" height="1.4" fill="#222"/>
<text x="27.80" y="719.50" font-size="8.6" text-anchor="start" font-weight="normal" fill="#111" stroke="#111" stroke-width="0.15" >4.5</text>
<text x="90.50" y="719.50" font-size="8.6" text-anchor="end" font-weight="normal" fill="#111" stroke="#111" stroke-width="0.15" >64</text>
<text x="27.80" y="773.50" font-size="8.6" text-anchor="start" font-weight="normal" fill="#111" stroke="#111" stroke-width="0.15" >0.5</text>
<text x="90.50" y="773.50" font-size="8.6" text-anchor="end" font-weight="normal" fill="#111" stroke="#111" stroke-width="0.15" >31</text>
<text x="15.00" y="781.80" font-size="10" text-anchor="start" font-weight="normal" fill="#111" stroke="#111" stroke-width="0.15" transform="rotate(-90 15.00 781.80)" textLength="25.6" lengthAdjust="spacingAndGlyphs" >CD62L</text>
<path d="M12.3,751.6 L12.3,738.4" fill="none" stroke="#111" stroke-width="1.2" />
<path d="M9.9,738.9 L12.3,734.3 L14.700000000000001,738.9 Z" fill="#111" stroke="none" stroke-width="1" />
<text x="23.30" y="791.50" font-size="10" text-anchor="start" font-weight="normal" fill="#111" stroke="#111" stroke-width="0.15" textLength="21" lengthAdjust="spacingAndGlyphs" >CD44</text>
<path d="M47.9,788.2 L56.6,788.2" fill="none" stroke="#111" stroke-width="1.2" />
<path d="M56.1,785.8000000000001 L60.7,788.2 L56.1,790.6 Z" fill="#111" stroke="none" stroke-width="1" />
<rect x="149.50" y="713.10" width="11.00" height="19.70" fill="#fff" stroke="#111" stroke-width="1.1" />
<rect x="163.30" y="698.70" width="10.30" height="34.10" fill="#fff" stroke="#111" stroke-width="1.1" />
<rect x="182.40" y="682.50" width="11.30" height="50.30" fill="#fff" stroke="#111" stroke-width="1.1" />
<rect x="196.50" y="698.00" width="11.00" height="34.80" fill="#fff" stroke="#111" stroke-width="1.1" />
<circle cx="151.44" cy="701.55" r="1.7" fill="#37425e" />
<circle cx="154.66" cy="702.19" r="1.7" fill="#37425e" />
<circle cx="157.63" cy="700.90" r="1.7" fill="#37425e" />
<circle cx="151.44" cy="709.28" r="1.7" fill="#37425e" />
<circle cx="154.66" cy="710.57" r="1.7" fill="#37425e" />
<circle cx="157.63" cy="709.54" r="1.7" fill="#37425e" />
<circle cx="150.80" cy="713.14" r="1.7" fill="#37425e" />
<circle cx="154.02" cy="713.79" r="1.7" fill="#37425e" />
<circle cx="157.24" cy="713.14" r="1.7" fill="#37425e" />
<circle cx="150.80" cy="717.01" r="1.7" fill="#37425e" />
<circle cx="154.28" cy="716.37" r="1.7" fill="#37425e" />
<circle cx="157.63" cy="716.75" r="1.7" fill="#37425e" />
<circle cx="150.80" cy="720.23" r="1.7" fill="#37425e" />
<circle cx="154.02" cy="720.88" r="1.7" fill="#37425e" />
<circle cx="157.24" cy="721.52" r="1.7" fill="#37425e" />
<circle cx="154.28" cy="725.39" r="1.7" fill="#37425e" />
<circle cx="165.62" cy="680.67" r="1.7" fill="#990f37" />
<circle cx="168.45" cy="680.93" r="1.7" fill="#990f37" />
<circle cx="171.42" cy="680.93" r="1.7" fill="#990f37" />
<circle cx="169.74" cy="685.44" r="1.7" fill="#990f37" />
<circle cx="164.97" cy="688.40" r="1.7" fill="#990f37" />
<circle cx="168.20" cy="688.66" r="1.7" fill="#990f37" />
<circle cx="171.42" cy="688.92" r="1.7" fill="#990f37" />
<circle cx="166.26" cy="691.24" r="1.7" fill="#990f37" />
<circle cx="169.48" cy="691.49" r="1.7" fill="#990f37" />
<circle cx="165.62" cy="695.10" r="1.7" fill="#990f37" />
<circle cx="170.77" cy="696.39" r="1.7" fill="#990f37" />
<circle cx="168.84" cy="700.52" r="1.7" fill="#990f37" />
<circle cx="165.62" cy="703.48" r="1.7" fill="#990f37" />
<circle cx="168.20" cy="703.87" r="1.7" fill="#990f37" />
<circle cx="171.42" cy="703.09" r="1.7" fill="#990f37" />
<circle cx="166.91" cy="706.70" r="1.7" fill="#990f37" />
<circle cx="170.13" cy="706.70" r="1.7" fill="#990f37" />
<circle cx="165.88" cy="713.79" r="1.7" fill="#990f37" />
<circle cx="171.42" cy="716.75" r="1.7" fill="#990f37" />
<circle cx="165.88" cy="728.35" r="1.7" fill="#990f37" />
<circle cx="171.42" cy="727.32" r="1.7" fill="#990f37" />
<circle cx="188.17" cy="668.04" r="1.7" fill="#37425e" />
<circle cx="185.21" cy="673.20" r="1.7" fill="#37425e" />
<circle cx="191.13" cy="672.94" r="1.7" fill="#37425e" />
<circle cx="186.24" cy="676.42" r="1.7" fill="#37425e" />
<circle cx="189.46" cy="677.06" r="1.7" fill="#37425e" />
<circle cx="184.95" cy="679.64" r="1.7" fill="#37425e" />
<circle cx="188.17" cy="679.90" r="1.7" fill="#37425e" />
<circle cx="190.75" cy="679.38" r="1.7" fill="#37425e" />
<circle cx="186.24" cy="682.22" r="1.7" fill="#37425e" />
<circle cx="189.46" cy="682.47" r="1.7" fill="#37425e" />
<circle cx="185.59" cy="684.79" r="1.7" fill="#37425e" />
<circle cx="188.81" cy="685.44" r="1.7" fill="#37425e" />
<circle cx="185.59" cy="690.21" r="1.7" fill="#37425e" />
<circle cx="193.32" cy="692.27" r="1.7" fill="#37425e" />
<circle cx="190.75" cy="697.04" r="1.7" fill="#37425e" />
<circle cx="185.59" cy="701.29" r="1.7" fill="#37425e" />
<circle cx="199.38" cy="663.53" r="1.7" fill="#990f37" />
<circle cx="204.54" cy="665.46" r="1.7" fill="#990f37" />
<circle cx="201.70" cy="675.77" r="1.7" fill="#990f37" />
<circle cx="201.70" cy="681.96" r="1.7" fill="#990f37" />
<circle cx="198.87" cy="688.92" r="1.7" fill="#990f37" />
<circle cx="201.70" cy="688.92" r="1.7" fill="#990f37" />
<circle cx="204.92" cy="688.92" r="1.7" fill="#990f37" />
<circle cx="201.70" cy="694.46" r="1.7" fill="#990f37" />
<circle cx="199.12" cy="703.48" r="1.7" fill="#990f37" />
<circle cx="202.35" cy="704.12" r="1.7" fill="#990f37" />
<circle cx="204.92" cy="704.77" r="1.7" fill="#990f37" />
<circle cx="199.77" cy="706.70" r="1.7" fill="#990f37" />
<circle cx="202.99" cy="707.35" r="1.7" fill="#990f37" />
<circle cx="198.87" cy="709.92" r="1.7" fill="#990f37" />
<circle cx="201.70" cy="709.92" r="1.7" fill="#990f37" />
<circle cx="204.92" cy="709.92" r="1.7" fill="#990f37" />
<circle cx="200.41" cy="713.14" r="1.7" fill="#990f37" />
<circle cx="203.63" cy="713.79" r="1.7" fill="#990f37" />
<circle cx="201.70" cy="721.91" r="1.7" fill="#990f37" />
<line x1="155.00" y1="711.10" x2="155.00" y2="715.10" stroke="#111" stroke-width="1.1" />
<line x1="152.60" y1="711.10" x2="157.40" y2="711.10" stroke="#111" stroke-width="1.1" />
<line x1="152.60" y1="715.10" x2="157.40" y2="715.10" stroke="#111" stroke-width="1.1" />
<line x1="168.45" y1="695.70" x2="168.45" y2="701.70" stroke="#111" stroke-width="1.1" />
<line x1="166.05" y1="695.70" x2="170.85" y2="695.70" stroke="#111" stroke-width="1.1" />
<line x1="166.05" y1="701.70" x2="170.85" y2="701.70" stroke="#111" stroke-width="1.1" />
<line x1="188.05" y1="679.50" x2="188.05" y2="685.50" stroke="#111" stroke-width="1.1" />
<line x1="185.65" y1="679.50" x2="190.45" y2="679.50" stroke="#111" stroke-width="1.1" />
<line x1="185.65" y1="685.50" x2="190.45" y2="685.50" stroke="#111" stroke-width="1.1" />
<line x1="202.00" y1="694.50" x2="202.00" y2="701.50" stroke="#111" stroke-width="1.1" />
<line x1="199.60" y1="694.50" x2="204.40" y2="694.50" stroke="#111" stroke-width="1.1" />
<line x1="199.60" y1="701.50" x2="204.40" y2="701.50" stroke="#111" stroke-width="1.1" />
<line x1="143.25" y1="653.75" x2="143.25" y2="733.30" stroke="#111" stroke-width="1.1" />
<line x1="142.75" y1="732.80" x2="213.75" y2="732.80" stroke="#111" stroke-width="1.1" />
<line x1="139.75" y1="657.50" x2="143.25" y2="657.50" stroke="#111" stroke-width="1.1" />
<text x="136.40" y="660.70" font-size="8.8" text-anchor="end" font-weight="normal" fill="#111" stroke="#111" stroke-width="0.15" >100</text>
<line x1="139.75" y1="672.56" x2="143.25" y2="672.56" stroke="#111" stroke-width="1.1" />
<text x="136.40" y="675.76" font-size="8.8" text-anchor="end" font-weight="normal" fill="#111" stroke="#111" stroke-width="0.15" >80</text>
<line x1="139.75" y1="687.62" x2="143.25" y2="687.62" stroke="#111" stroke-width="1.1" />
<text x="136.40" y="690.82" font-size="8.8" text-anchor="end" font-weight="normal" fill="#111" stroke="#111" stroke-width="0.15" >60</text>
<line x1="139.75" y1="702.68" x2="143.25" y2="702.68" stroke="#111" stroke-width="1.1" />
<text x="136.40" y="705.88" font-size="8.8" text-anchor="end" font-weight="normal" fill="#111" stroke="#111" stroke-width="0.15" >40</text>
<line x1="139.75" y1="717.74" x2="143.25" y2="717.74" stroke="#111" stroke-width="1.1" />
<text x="136.40" y="720.94" font-size="8.8" text-anchor="end" font-weight="normal" fill="#111" stroke="#111" stroke-width="0.15" >20</text>
<line x1="139.75" y1="732.80" x2="143.25" y2="732.80" stroke="#111" stroke-width="1.1" />
<text x="136.40" y="736.00" font-size="8.8" text-anchor="end" font-weight="normal" fill="#111" stroke="#111" stroke-width="0.15" >0</text>
<line x1="161.90" y1="733.00" x2="161.90" y2="736.00" stroke="#111" stroke-width="1" />
<line x1="194.90" y1="733.00" x2="194.90" y2="736.00" stroke="#111" stroke-width="1" />
<text x="115.20" y="693.50" font-size="10.5" text-anchor="middle" font-weight="normal" fill="#111" stroke="#111" stroke-width="0.15" transform="rotate(-90 115.20 693.50)" textLength="59.2" lengthAdjust="spacingAndGlyphs" >% in BM CD8<tspan font-size="6.5" dy="-3.6">+</tspan><tspan dy="3.6"> T</tspan></text>
<line x1="153.80" y1="673.60" x2="169.20" y2="673.60" stroke="#111" stroke-width="1" />
<text x="161.50" y="673.37" font-size="10.5" text-anchor="middle" font-weight="normal" fill="#111" stroke="#111" stroke-width="0.15" >**</text>
<line x1="186.90" y1="657.10" x2="201.70" y2="657.10" stroke="#111" stroke-width="1" />
<text x="194.30" y="657.37" font-size="10.5" text-anchor="middle" font-weight="normal" fill="#111" stroke="#111" stroke-width="0.15" >**</text>
<text x="161.25" y="748.50" font-size="10" text-anchor="middle" font-weight="normal" fill="#111" stroke="#111" stroke-width="0.15" >T<tspan font-size="6.5" dy="2.5">cm</tspan></text>
<text x="195.00" y="748.50" font-size="10" text-anchor="middle" font-weight="normal" fill="#111" stroke="#111" stroke-width="0.15" >T<tspan font-size="6.5" dy="2.5">EFF/EM</tspan></text>
<rect x="263.60" y="721.10" width="11.20" height="11.20" fill="#fff" stroke="#111" stroke-width="1.1" />
<rect x="277.40" y="712.90" width="11.00" height="19.40" fill="#fff" stroke="#111" stroke-width="1.1" />
<rect x="297.40" y="705.40" width="10.50" height="26.90" fill="#fff" stroke="#111" stroke-width="1.1" />
<rect x="310.90" y="702.20" width="10.70" height="30.10" fill="#fff" stroke="#111" stroke-width="1.1" />
<circle cx="269.02" cy="699.61" r="1.7" fill="#37425e" />
<circle cx="271.60" cy="709.54" r="1.7" fill="#37425e" />
<circle cx="263.61" cy="713.14" r="1.7" fill="#37425e" />
<circle cx="266.44" cy="717.65" r="1.7" fill="#37425e" />
<circle cx="269.66" cy="718.30" r="1.7" fill="#37425e" />
<circle cx="272.24" cy="718.94" r="1.7" fill="#37425e" />
<circle cx="265.80" cy="721.52" r="1.7" fill="#37425e" />
<circle cx="268.38" cy="720.88" r="1.7" fill="#37425e" />
<circle cx="271.34" cy="721.52" r="1.7" fill="#37425e" />
<circle cx="266.44" cy="724.10" r="1.7" fill="#37425e" />
<circle cx="269.02" cy="724.74" r="1.7" fill="#37425e" />
<circle cx="271.86" cy="725.39" r="1.7" fill="#37425e" />
<circle cx="267.09" cy="727.32" r="1.7" fill="#37425e" />
<circle cx="269.66" cy="727.96" r="1.7" fill="#37425e" />
<circle cx="271.60" cy="727.06" r="1.7" fill="#37425e" />
<circle cx="268.38" cy="729.64" r="1.7" fill="#37425e" />
<circle cx="270.31" cy="729.90" r="1.7" fill="#37425e" />
<circle cx="282.94" cy="687.11" r="1.7" fill="#990f37" />
<circle cx="279.59" cy="693.56" r="1.7" fill="#990f37" />
<circle cx="285.77" cy="695.36" r="1.7" fill="#990f37" />
<circle cx="282.94" cy="697.42" r="1.7" fill="#990f37" />
<circle cx="279.33" cy="707.99" r="1.7" fill="#990f37" />
<circle cx="282.55" cy="709.92" r="1.7" fill="#990f37" />
<circle cx="285.77" cy="707.35" r="1.7" fill="#990f37" />
<circle cx="279.97" cy="712.50" r="1.7" fill="#990f37" />
<circle cx="283.20" cy="713.14" r="1.7" fill="#990f37" />
<circle cx="286.42" cy="713.40" r="1.7" fill="#990f37" />
<circle cx="280.62" cy="716.37" r="1.7" fill="#990f37" />
<circle cx="283.84" cy="716.75" r="1.7" fill="#990f37" />
<circle cx="279.97" cy="719.59" r="1.7" fill="#990f37" />
<circle cx="283.20" cy="720.23" r="1.7" fill="#990f37" />
<circle cx="286.42" cy="720.23" r="1.7" fill="#990f37" />
<circle cx="281.26" cy="722.81" r="1.7" fill="#990f37" />
<circle cx="284.48" cy="723.45" r="1.7" fill="#990f37" />
<circle cx="279.97" cy="726.03" r="1.7" fill="#990f37" />
<circle cx="283.20" cy="727.06" r="1.7" fill="#990f37" />
<circle cx="286.42" cy="726.03" r="1.7" fill="#990f37" />
<circle cx="281.26" cy="728.35" r="1.7" fill="#990f37" />
<circle cx="283.84" cy="728.87" r="1.7" fill="#990f37" />
<circle cx="302.27" cy="672.55" r="1.7" fill="#37425e" />
<circle cx="302.27" cy="678.09" r="1.7" fill="#37425e" />
<circle cx="302.27" cy="684.15" r="1.7" fill="#37425e" />
<circle cx="302.27" cy="698.97" r="1.7" fill="#37425e" />
<circle cx="299.95" cy="705.15" r="1.7" fill="#37425e" />
<circle cx="302.53" cy="705.67" r="1.7" fill="#37425e" />
<circle cx="305.10" cy="705.15" r="1.7" fill="#37425e" />
<circle cx="301.88" cy="708.63" r="1.7" fill="#37425e" />
<circle cx="304.46" cy="709.92" r="1.7" fill="#37425e" />
<circle cx="298.66" cy="717.01" r="1.7" fill="#37425e" />
<circle cx="300.59" cy="719.59" r="1.7" fill="#37425e" />
<circle cx="302.53" cy="722.81" r="1.7" fill="#37425e" />
<circle cx="305.10" cy="719.59" r="1.7" fill="#37425e" />
<circle cx="301.24" cy="723.45" r="1.7" fill="#37425e" />
<circle cx="303.17" cy="724.10" r="1.7" fill="#37425e" />
<circle cx="312.84" cy="662.63" r="1.7" fill="#990f37" />
<circle cx="316.06" cy="660.31" r="1.7" fill="#990f37" />
<circle cx="318.63" cy="666.49" r="1.7" fill="#990f37" />
<circle cx="313.22" cy="684.15" r="1.7" fill="#990f37" />
<circle cx="318.63" cy="683.25" r="1.7" fill="#990f37" />
<circle cx="313.22" cy="694.85" r="1.7" fill="#990f37" />
<circle cx="318.63" cy="695.10" r="1.7" fill="#990f37" />
<circle cx="312.84" cy="708.63" r="1.7" fill="#990f37" />
<circle cx="318.63" cy="709.54" r="1.7" fill="#990f37" />
<circle cx="315.41" cy="711.86" r="1.7" fill="#990f37" />
<circle cx="312.84" cy="716.37" r="1.7" fill="#990f37" />
<circle cx="315.41" cy="717.01" r="1.7" fill="#990f37" />
<circle cx="318.63" cy="716.75" r="1.7" fill="#990f37" />
<circle cx="314.12" cy="720.23" r="1.7" fill="#990f37" />
<circle cx="317.35" cy="720.62" r="1.7" fill="#990f37" />
<circle cx="318.63" cy="724.48" r="1.7" fill="#990f37" />
<circle cx="313.48" cy="727.96" r="1.7" fill="#990f37" />
<line x1="269.20" y1="719.90" x2="269.20" y2="722.30" stroke="#111" stroke-width="1.1" />
<line x1="266.80" y1="719.90" x2="271.60" y2="719.90" stroke="#111" stroke-width="1.1" />
<line x1="266.80" y1="722.30" x2="271.60" y2="722.30" stroke="#111" stroke-width="1.1" />
<line x1="282.90" y1="710.90" x2="282.90" y2="714.90" stroke="#111" stroke-width="1.1" />
<line x1="280.50" y1="710.90" x2="285.30" y2="710.90" stroke="#111" stroke-width="1.1" />
<line x1="280.50" y1="714.90" x2="285.30" y2="714.90" stroke="#111" stroke-width="1.1" />
<line x1="302.65" y1="702.40" x2="302.65" y2="708.40" stroke="#111" stroke-width="1.1" />
<line x1="300.25" y1="702.40" x2="305.05" y2="702.40" stroke="#111" stroke-width="1.1" />
<line x1="300.25" y1="708.40" x2="305.05" y2="708.40" stroke="#111" stroke-width="1.1" />
<line x1="316.25" y1="698.20" x2="316.25" y2="706.20" stroke="#111" stroke-width="1.1" />
<line x1="313.85" y1="698.20" x2="318.65" y2="698.20" stroke="#111" stroke-width="1.1" />
<line x1="313.85" y1="706.20" x2="318.65" y2="706.20" stroke="#111" stroke-width="1.1" />
<line x1="258.00" y1="652.50" x2="258.00" y2="732.80" stroke="#111" stroke-width="1.1" />
<line x1="257.50" y1="732.30" x2="328.00" y2="732.30" stroke="#111" stroke-width="1.1" />
<line x1="254.50" y1="656.05" x2="258.00" y2="656.05" stroke="#111" stroke-width="1.1" />
<text x="250.80" y="659.25" font-size="8.8" text-anchor="end" font-weight="normal" fill="#111" stroke="#111" stroke-width="0.15" >18</text>
<line x1="254.50" y1="681.47" x2="258.00" y2="681.47" stroke="#111" stroke-width="1.1" />
<text x="250.80" y="684.67" font-size="8.8" text-anchor="end" font-weight="normal" fill="#111" stroke="#111" stroke-width="0.15" >12</text>
<line x1="254.50" y1="706.88" x2="258.00" y2="706.88" stroke="#111" stroke-width="1.1" />
<text x="250.80" y="710.08" font-size="8.8" text-anchor="end" font-weight="normal" fill="#111" stroke="#111" stroke-width="0.15" >6</text>
<line x1="254.50" y1="732.30" x2="258.00" y2="732.30" stroke="#111" stroke-width="1.1" />
<text x="250.80" y="735.50" font-size="8.8" text-anchor="end" font-weight="normal" fill="#111" stroke="#111" stroke-width="0.15" >0</text>
<line x1="276.30" y1="732.50" x2="276.30" y2="735.50" stroke="#111" stroke-width="1" />
<line x1="309.50" y1="732.50" x2="309.50" y2="735.50" stroke="#111" stroke-width="1" />
<text x="233.80" y="692.60" font-size="9.8" text-anchor="middle" font-weight="normal" fill="#111" stroke="#111" stroke-width="0.15" transform="rotate(-90 233.80 692.60)" textLength="82.3" lengthAdjust="spacingAndGlyphs" >Number in BM (x10<tspan font-size="6.5" dy="-3.6">4</tspan><tspan dy="3.6">)</tspan></text>
<line x1="265.80" y1="680.90" x2="283.20" y2="680.90" stroke="#111" stroke-width="1.2" />
<text x="274.50" y="682.17" font-size="10.5" text-anchor="middle" font-weight="normal" fill="#111" stroke="#111" stroke-width="0.15" >*</text>
<text x="275.50" y="748.50" font-size="10" text-anchor="middle" font-weight="normal" fill="#111" stroke="#111" stroke-width="0.15" >T<tspan font-size="6.5" dy="2.5">cm</tspan></text>
<text x="308.75" y="748.50" font-size="10" text-anchor="middle" font-weight="normal" fill="#111" stroke="#111" stroke-width="0.15" >T<tspan font-size="6.5" dy="2.5">EFF/EM</tspan></text>
<text x="0" y="0" transform="translate(336.81 611.20) scale(0.998 1)" font-size="20" font-weight="bold" fill="#000" stroke="#000" stroke-width="0.3">K</text>
<text x="407.80" y="618.80" font-size="10.5" text-anchor="middle" font-weight="normal" fill="#111" stroke="#111" stroke-width="0.15" >CD8<tspan font-size="6.5" dy="-3.5">+</tspan><tspan dy="3.5">T</tspan><tspan font-size="7.5" dy="2.5">CM</tspan></text>
<path d="M372.70,656.20 L373.25,656.17 L373.80,656.10 L374.35,655.99 L374.90,655.93 L375.45,655.80 L376.00,655.80 L376.51,655.63 L377.03,655.08 L377.54,654.48 L378.06,653.36 L378.57,652.65 L379.09,652.07 L379.60,651.74 L380.20,650.92 L380.80,649.51 L381.40,647.64 L382.00,647.06 L382.50,646.80 L383.00,645.59 L383.50,643.96 L384.00,642.40 L384.50,641.92 L385.00,641.81 L385.50,640.31 L386.00,639.70 L386.50,638.82 L387.00,638.57 L387.50,637.79 L388.00,637.21 L388.50,636.66 L389.00,636.58 L389.50,635.89 L390.00,635.55 L390.50,635.76 L391.00,635.95 L391.50,636.76 L392.00,636.72 L392.50,637.60 L393.00,639.54 L393.50,640.36 L394.00,640.98 L394.50,642.57 L395.00,643.29 L395.50,643.20 L396.00,643.97 L396.50,644.89 L397.00,645.28 L397.55,646.13 L398.10,646.92 L398.65,648.37 L399.20,648.16 L399.77,649.15 L400.35,650.24 L400.93,652.12 L401.50,652.42 L402.00,652.79 L402.50,654.04 L403.00,655.13 L403.50,655.42 L404.00,655.57 L404.50,655.88 L405.00,656.09 L405.50,656.20 L406.00,656.20 L406.51,656.20 L407.01,656.20 L407.51,656.20 L408.01,656.20 L408.52,656.20 L409.02,656.20 L409.52,656.20 L410.02,656.20 L410.53,656.20 L411.03,656.20 L411.53,656.20 L412.03,656.20 L412.54,656.20 L413.04,656.20 L413.54,656.20 L414.04,656.20 L414.55,656.20 L415.05,656.20 L415.55,656.20 L416.05,656.20 L416.56,656.20 L417.06,656.20 L417.56,656.20 L418.06,656.20 L418.57,656.20 L419.07,656.20 L419.57,656.20 L420.08,656.20 L420.58,656.20 L421.08,656.20 L421.58,656.20 L422.09,656.20 L422.59,656.20 L423.09,656.20 L423.59,656.20 L424.10,656.20 L424.60,656.20 L425.10,656.20 L425.60,656.20 L426.11,656.20 L426.61,656.20 L427.11,656.20 L427.61,656.20 L428.12,656.20 L428.62,656.20 L429.12,656.20 L429.62,656.20 L430.13,656.20 L430.63,656.20 L431.13,656.20 L431.64,656.20 L432.14,656.20 L432.64,656.20 L433.14,656.20 L433.65,656.20 L434.15,656.20 L434.65,656.20 L435.15,656.20 L435.66,656.20 L436.16,656.20 L436.66,656.20 L437.16,656.20 L437.67,656.20 L438.17,656.20 L438.67,656.20 L439.17,656.20 L439.68,656.20 L440.18,656.20 L440.68,656.20 L441.18,656.20 L441.69,656.20 L442.19,656.20 L442.69,656.20 L443.19,656.20 L443.70,656.20 L444.20,656.20" fill="none" stroke="#111" stroke-width="1.2" />
<line x1="372.70" y1="672.60" x2="444.20" y2="672.60" stroke="#6e7890" stroke-width="1.1" />
<path d="M386.50,672.60 L387.00,672.24 L387.50,672.18 L388.00,672.13 L388.50,672.04 L389.00,671.90 L389.50,671.87 L390.00,671.90 L390.50,671.87 L391.00,671.77 L391.50,671.66 L392.00,671.37 L392.50,671.06 L393.00,670.71 L393.50,670.76 L394.00,670.66 L394.50,670.12 L395.00,669.26 L395.50,669.02 L396.00,668.56 L396.50,668.96 L397.00,669.14 L397.50,669.68 L398.07,669.39 L398.63,668.85 L399.20,668.58 L399.77,668.29 L400.35,667.48 L400.93,667.04 L401.50,666.30 L402.07,665.75 L402.65,664.19 L403.23,662.69 L403.80,662.17 L404.30,660.54 L404.80,657.96 L405.30,655.22 L405.80,653.94 L406.30,652.50 L406.80,649.65 L407.30,648.06 L407.83,647.33 L408.37,646.01 L408.90,645.64 L409.60,646.61 L410.30,647.58 L410.90,651.54 L411.50,655.94 L412.00,659.21 L412.50,664.73 L413.00,667.96 L413.50,669.16 L414.00,671.34 L414.50,672.60 L414.50,672.60 L386.50,672.60 Z" fill="#9196a7" stroke="none" stroke-width="1" fill-opacity="1"/>
<path d="M386.50,672.60 L387.00,672.24 L387.50,672.18 L388.00,672.13 L388.50,672.04 L389.00,671.90 L389.50,671.87 L390.00,671.90 L390.50,671.87 L391.00,671.77 L391.50,671.66 L392.00,671.37 L392.50,671.06 L393.00,670.71 L393.50,670.76 L394.00,670.66 L394.50,670.12 L395.00,669.26 L395.50,669.02 L396.00,668.56 L396.50,668.96 L397.00,669.14 L397.50,669.68 L398.07,669.39 L398.63,668.85 L399.20,668.58 L399.77,668.29 L400.35,667.48 L400.93,667.04 L401.50,666.30 L402.07,665.75 L402.65,664.19 L403.23,662.69 L403.80,662.17 L404.30,660.54 L404.80,657.96 L405.30,655.22 L405.80,653.94 L406.30,652.50 L406.80,649.65 L407.30,648.06 L407.83,647.33 L408.37,646.01 L408.90,645.64 L409.60,646.61 L410.30,647.58 L410.90,651.54 L411.50,655.94 L412.00,659.21 L412.50,664.73 L413.00,667.96 L413.50,669.16 L414.00,671.34 L414.50,672.60" fill="none" stroke="#566078" stroke-width="1.0" stroke-linejoin="round"/>
<path d="M394.06,690.40 L394.57,690.01 L395.09,689.91 L395.60,689.79 L396.11,689.74 L396.63,689.57 L397.14,689.47 L397.66,689.39 L398.17,689.31 L398.69,689.33 L399.20,689.31 L399.71,689.12 L400.22,688.83 L400.73,688.54 L401.24,687.85 L401.76,687.44 L402.27,686.82 L402.78,686.28 L403.29,686.30 L403.80,686.05 L404.35,684.96 L404.90,683.03 L405.45,680.86 L406.00,680.12 L406.50,677.93 L407.00,673.97 L407.50,669.93 L408.00,668.09 L408.60,665.77 L409.20,661.89 L409.80,659.98 L410.30,659.44 L410.80,658.79 L411.40,660.22 L412.00,661.91 L412.55,668.58 L413.10,675.01 L413.73,678.55 L414.37,684.45 L415.00,688.04 L415.50,688.40 L416.00,689.19 L416.50,690.00 L417.00,690.40 L417.00,690.40 L394.06,690.40 Z" fill="#d3a6aa" stroke="none" stroke-width="1" fill-opacity="1"/>
<path d="M394.06,690.40 L394.57,690.01 L395.09,689.91 L395.60,689.79 L396.11,689.74 L396.63,689.57 L397.14,689.47 L397.66,689.39 L398.17,689.31 L398.69,689.33 L399.20,689.31 L399.71,689.12 L400.22,688.83 L400.73,688.54 L401.24,687.85 L401.76,687.44 L402.27,686.82 L402.78,686.28 L403.29,686.30 L403.80,686.05 L404.35,684.96 L404.90,683.03 L405.45,680.86 L406.00,680.12 L406.50,677.93 L407.00,673.97 L407.50,669.93 L408.00,668.09 L408.60,665.77 L409.20,661.89 L409.80,659.98 L410.30,659.44 L410.80,658.79 L411.40,660.22 L412.00,661.91 L412.55,668.58 L413.10,675.01 L413.73,678.55 L414.37,684.45 L415.00,688.04 L415.50,688.40 L416.00,689.19 L416.50,690.00 L417.00,690.40" fill="none" stroke="#a5173e" stroke-width="1.1" stroke-linejoin="round"/>
<line x1="400.50" y1="622.50" x2="400.50" y2="690.40" stroke="#222" stroke-width="0.8" stroke-dasharray="1,1.3"/>
<rect x="372.70" y="622.30" width="71.50" height="68.10" fill="none" stroke="#111" stroke-width="1.1" />
<path d="M376.70,690.40v3.0M381.22,690.40v2.0M383.86,690.40v2.0M385.73,690.40v2.0M387.18,690.40v2.0M388.37,690.40v2.0M389.38,690.40v2.0M390.25,690.40v2.0M391.01,690.40v2.0M391.70,690.40v3.0M397.12,690.40v2.0M400.29,690.40v2.0M402.54,690.40v2.0M404.28,690.40v2.0M405.71,690.40v2.0M406.91,690.40v2.0M407.96,690.40v2.0M408.88,690.40v2.0M409.70,690.40v3.0M415.12,690.40v2.0M418.29,690.40v2.0M420.54,690.40v2.0M422.28,690.40v2.0M423.71,690.40v2.0M424.91,690.40v2.0M425.96,690.40v2.0M426.88,690.40v2.0M427.70,690.40v3.0M433.27,690.40v2.0M436.53,690.40v2.0M438.84,690.40v2.0M440.63,690.40v2.0M442.10,690.40v2.0M443.33,690.40v2.0" stroke="#444" stroke-width="0.7" fill="none"/>
<text x="368.80" y="648.80" font-size="8.7" text-anchor="end" font-weight="normal" fill="#111" stroke="#111" stroke-width="0.15" textLength="29.5" lengthAdjust="spacingAndGlyphs" >Isotype</text>
<text x="355.40" y="665.70" font-size="8.6" text-anchor="middle" font-weight="normal" fill="#111" stroke="#111" stroke-width="0.15" >clg</text>
<text x="368.30" y="682.80" font-size="8.7" text-anchor="end" font-weight="normal" fill="#111" stroke="#111" stroke-width="0.15" textLength="27.3" lengthAdjust="spacingAndGlyphs" >αTIGIT</text>
<text x="408.75" y="703.00" font-size="8.6" text-anchor="middle" font-weight="normal" fill="#111" stroke="#111" stroke-width="0.15" >CD122</text>
<rect x="395.40" y="749.50" width="13.10" height="38.75" fill="#fff" stroke="#111" stroke-width="1.1" />
<rect x="415.30" y="736.10" width="13.20" height="52.15" fill="#fff" stroke="#111" stroke-width="1.1" />
<circle cx="397.80" cy="743.10" r="1.7" fill="#37425e" />
<circle cx="399.30" cy="741.60" r="1.7" fill="#37425e" />
<circle cx="404.20" cy="741.60" r="1.7" fill="#37425e" />
<circle cx="405.60" cy="743.60" r="1.7" fill="#37425e" />
<circle cx="400.20" cy="746.00" r="1.7" fill="#37425e" />
<circle cx="403.60" cy="746.00" r="1.7" fill="#37425e" />
<circle cx="401.90" cy="748.50" r="1.7" fill="#37425e" />
<circle cx="401.70" cy="757.20" r="1.7" fill="#37425e" />
<circle cx="401.70" cy="766.00" r="1.7" fill="#37425e" />
<circle cx="419.00" cy="723.20" r="1.7" fill="#990f37" />
<circle cx="424.30" cy="725.40" r="1.7" fill="#990f37" />
<circle cx="421.70" cy="731.30" r="1.7" fill="#990f37" />
<circle cx="416.80" cy="736.80" r="1.7" fill="#990f37" />
<circle cx="418.80" cy="738.80" r="1.7" fill="#990f37" />
<circle cx="421.20" cy="739.60" r="1.7" fill="#990f37" />
<circle cx="423.80" cy="739.00" r="1.7" fill="#990f37" />
<circle cx="425.80" cy="737.50" r="1.7" fill="#990f37" />
<circle cx="420.20" cy="741.00" r="1.7" fill="#990f37" />
<circle cx="422.60" cy="741.00" r="1.7" fill="#990f37" />
<circle cx="421.70" cy="746.50" r="1.7" fill="#990f37" />
<line x1="401.90" y1="747.50" x2="401.90" y2="751.40" stroke="#111" stroke-width="1.1" />
<line x1="399.40" y1="747.50" x2="404.40" y2="747.50" stroke="#111" stroke-width="1.1" />
<line x1="399.40" y1="751.40" x2="404.40" y2="751.40" stroke="#111" stroke-width="1.1" />
<line x1="421.90" y1="734.60" x2="421.90" y2="738.10" stroke="#111" stroke-width="1.1" />
<line x1="419.40" y1="734.60" x2="424.40" y2="734.60" stroke="#111" stroke-width="1.1" />
<line x1="388.00" y1="715.00" x2="388.00" y2="788.70" stroke="#111" stroke-width="1.1" />
<line x1="387.50" y1="788.25" x2="435.00" y2="788.25" stroke="#111" stroke-width="1.1" />
<line x1="385.00" y1="718.75" x2="388.00" y2="718.75" stroke="#111" stroke-width="1" />
<text x="381.90" y="721.86" font-size="8.8" text-anchor="end" font-weight="normal" fill="#111" stroke="#111" stroke-width="0.15" >1500</text>
<line x1="385.00" y1="741.92" x2="388.00" y2="741.92" stroke="#111" stroke-width="1" />
<text x="381.90" y="745.02" font-size="8.8" text-anchor="end" font-weight="normal" fill="#111" stroke="#111" stroke-width="0.15" >1000</text>
<line x1="385.00" y1="765.09" x2="388.00" y2="765.09" stroke="#111" stroke-width="1" />
<text x="381.90" y="768.19" font-size="8.8" text-anchor="end" font-weight="normal" fill="#111" stroke="#111" stroke-width="0.15" >500</text>
<line x1="385.00" y1="788.25" x2="388.00" y2="788.25" stroke="#111" stroke-width="1" />
<text x="381.90" y="791.35" font-size="8.8" text-anchor="end" font-weight="normal" fill="#111" stroke="#111" stroke-width="0.15" >0</text>
<text x="355.10" y="752.40" font-size="10" text-anchor="middle" font-weight="normal" fill="#111" stroke="#111" stroke-width="0.15" transform="rotate(-90 355.10 752.40)" textLength="54.4" lengthAdjust="spacingAndGlyphs" >CD122<tspan font-size="6.5" dy="-3.6">+</tspan><tspan dy="3.6"> GMFI</tspan></text>
<line x1="404.20" y1="720.00" x2="419.00" y2="720.00" stroke="#111" stroke-width="1" />
<text x="411.60" y="720.53" font-size="9.5" text-anchor="middle" font-weight="normal" fill="#111" stroke="#111" stroke-width="0.15" >***</text>
<rect x="0.6" y="0.6" width="518.8" height="800.8" fill="none" stroke="#000" stroke-width="1.3"/>
</svg></body></html>
